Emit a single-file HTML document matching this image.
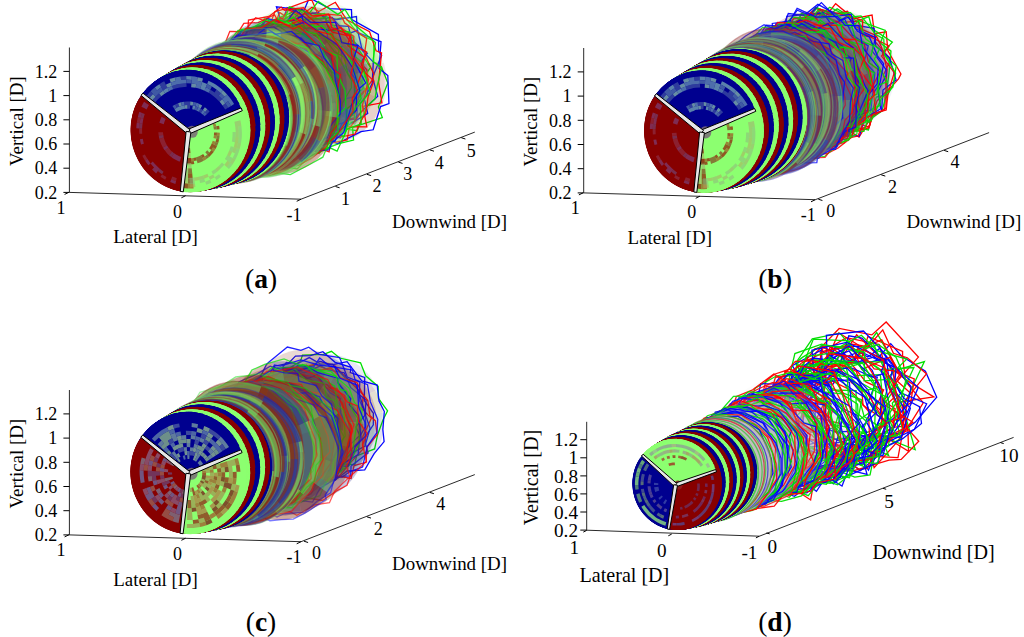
<!DOCTYPE html>
<html><head><meta charset="utf-8"><style>
html,body{margin:0;padding:0;background:#fff;}
svg{display:block;}
text{font-family:"Liberation Serif",serif;fill:#000;}
</style></head><body>
<svg width="1024" height="637" viewBox="0 0 1024 637">
<defs><g id="pA"><path d="M0 0L0.5 0A0.5 0.5 0 0 1 -0.25 0.433Z" fill="#00008f"/><path d="M0 0L-0.25 0.433A0.5 0.5 0 0 1 -0.25 -0.433Z" fill="#870000"/><path d="M0 0L-0.25 -0.433A0.5 0.5 0 0 1 0.5 0Z" fill="#8cff70"/></g><g id="pAt"><path d="M0 0L0.5 0A0.5 0.5 0 0 1 -0.25 0.433Z" fill="#4a4a98"/><path d="M0 0L-0.25 0.433A0.5 0.5 0 0 1 -0.25 -0.433Z" fill="#905030"/><path d="M0 0L-0.25 -0.433A0.5 0.5 0 0 1 0.5 0Z" fill="#78b858"/></g><g id="pAt2"><path d="M0 0L0.5 0A0.5 0.5 0 0 1 -0.171 0.47Z" fill="#2a2aa0"/><path d="M0 0L-0.171 0.47A0.5 0.5 0 0 1 -0.383 -0.321Z" fill="#9a2a10"/><path d="M0 0L-0.383 -0.321A0.5 0.5 0 0 1 0.5 0Z" fill="#8cff70"/></g><g id="pBt"><path d="M0 0L0.5 0A0.5 0.5 0 0 1 -0.383 0.321Z" fill="#3030a8"/><path d="M0 0L-0.383 0.321A0.5 0.5 0 0 1 -0.171 -0.47Z" fill="#8a3030"/><path d="M0 0L-0.171 -0.47A0.5 0.5 0 0 1 0.5 0Z" fill="#80d070"/></g><g id="pCt"><path d="M0 0L0.5 0A0.5 0.5 0 0 1 -0.171 0.47Z" fill="#2a2a90"/><path d="M0 0L-0.171 0.47A0.5 0.5 0 0 1 -0.321 -0.383Z" fill="#8a3010"/><path d="M0 0L-0.321 -0.383A0.5 0.5 0 0 1 0.5 0Z" fill="#78c860"/></g><g id="pD"><path d="M0 0L0.5 0A0.5 0.5 0 0 1 -0.25 0.433Z" fill="#8cff70"/><path d="M0 0L-0.25 0.433A0.5 0.5 0 0 1 -0.25 -0.433Z" fill="#00008f"/><path d="M0 0L-0.25 -0.433A0.5 0.5 0 0 1 0.5 0Z" fill="#870000"/></g><g id="pDt"><path d="M0 0L0.5 0A0.5 0.5 0 0 1 -0.25 0.433Z" fill="#c4c4c4"/><path d="M0 0L-0.25 0.433A0.5 0.5 0 0 1 -0.25 -0.433Z" fill="#bcbcc4"/><path d="M0 0L-0.25 -0.433A0.5 0.5 0 0 1 0.5 0Z" fill="#c4bcbc"/></g></defs>
<g transform="matrix(116 3.5 0 -121 188.5 131.7)">
<use href="#pAt2" opacity="0.10" transform="translate(1.166 0.448) rotate(203.4) scale(1.05)"/>
<path d="M0.496 0.139L0.431 0.174L0.43 0.348L0.295 0.406L0.184 0.537L-0.007 0.493L-0.099 0.543L-0.251 0.465L-0.419 0.37L-0.439 0.173L-0.525 0.143L-0.482 -0.07L-0.568 -0.175L-0.406 -0.305L-0.348 -0.427L-0.169 -0.459L0.002 -0.559L0.13 -0.509L0.257 -0.476L0.248 -0.372L0.505 -0.283L0.471 -0.197L0.552 0.004Z" transform="translate(1.166 0.448)" fill="none" stroke="#00e000" stroke-opacity="1.00" stroke-width="1.3" vector-effect="non-scaling-stroke"/>
<use href="#pAt2" opacity="0.11" transform="translate(1.182 0.462) rotate(157.6) scale(1.051)"/>
<path d="M0.536 0.053L0.46 0.109L0.478 0.329L0.273 0.402L0.266 0.531L0.096 0.502L-0.116 0.551L-0.229 0.427L-0.403 0.399L-0.394 0.352L-0.524 0.237L-0.484 -0.002L-0.572 -0.082L-0.382 -0.249L-0.379 -0.354L-0.307 -0.393L-0.114 -0.552L0.029 -0.499L0.102 -0.523L0.305 -0.418L0.41 -0.4L0.474 -0.206L0.546 -0.179Z" transform="translate(1.182 0.462)" fill="none" stroke="#0000ff" stroke-opacity="0.99" stroke-width="1.3" vector-effect="non-scaling-stroke"/>
<use href="#pAt2" opacity="0.12" transform="translate(1.14 0.585) rotate(111.9) scale(1.053)"/>
<path d="M0.525 0.094L0.5 0.126L0.497 0.267L0.268 0.382L0.265 0.464L0.077 0.468L-0.098 0.552L-0.144 0.447L-0.382 0.469L-0.349 0.37L-0.54 0.196L-0.496 0.08L-0.526 -0.009L-0.457 -0.128L-0.482 -0.346L-0.331 -0.357L-0.288 -0.522L-0.122 -0.485L0.044 -0.545L0.099 -0.462L0.293 -0.43L0.399 -0.33L0.491 -0.245L0.447 -0.09Z" transform="translate(1.14 0.585)" fill="none" stroke="#0000ff" stroke-opacity="0.99" stroke-width="1.3" vector-effect="non-scaling-stroke"/>
<use href="#pAt2" opacity="0.13" transform="translate(1.133 0.526) rotate(66.1) scale(1.054)"/>
<path d="M0.531 0.174L0.484 0.189L0.428 0.345L0.231 0.438L0.133 0.58L-0.011 0.499L-0.068 0.533L-0.233 0.412L-0.347 0.482L-0.433 0.278L-0.518 0.178L-0.513 0.06L-0.526 -0.098L-0.436 -0.201L-0.442 -0.35L-0.269 -0.389L-0.237 -0.509L-0.012 -0.507L0.141 -0.535L0.22 -0.444L0.404 -0.442L0.371 -0.273L0.534 -0.239L0.506 -0.071Z" transform="translate(1.133 0.526)" fill="none" stroke="#ff0000" stroke-opacity="0.98" stroke-width="1.3" vector-effect="non-scaling-stroke"/>
<use href="#pAt2" opacity="0.13" transform="translate(1.041 0.478) rotate(20.3) scale(1.056)"/>
<path d="M0.552 0.143L0.457 0.237L0.417 0.401L0.318 0.365L0.198 0.502L0.047 0.477L-0.065 0.562L-0.128 0.484L-0.348 0.464L-0.431 0.296L-0.537 0.213L-0.501 0.11L-0.565 -0.012L-0.465 -0.106L-0.44 -0.33L-0.321 -0.348L-0.304 -0.481L-0.184 -0.465L-0.07 -0.567L0.151 -0.466L0.267 -0.492L0.321 -0.394L0.504 -0.282L0.475 -0.163L0.543 -0.033Z" transform="translate(1.041 0.478)" fill="none" stroke="#0000ff" stroke-opacity="0.97" stroke-width="1.3" vector-effect="non-scaling-stroke"/>
<use href="#pAt2" opacity="0.14" transform="translate(1.002 0.492) rotate(334.6) scale(1.057)"/>
<path d="M0.535 0.01L0.483 0.126L0.54 0.201L0.406 0.304L0.377 0.419L0.238 0.423L0.118 0.526L-0.016 0.503L-0.151 0.558L-0.197 0.428L-0.357 0.438L-0.409 0.322L-0.501 0.272L-0.471 0.187L-0.562 0.049L-0.491 -0.068L-0.528 -0.237L-0.413 -0.225L-0.428 -0.339L-0.248 -0.417L-0.239 -0.513L-0.126 -0.487L0.023 -0.554L0.128 -0.465L0.252 -0.466L0.32 -0.36L0.447 -0.344L0.454 -0.245L0.539 -0.141Z" transform="translate(1.002 0.492)" fill="none" stroke="#0000ff" stroke-opacity="0.96" stroke-width="1.3" vector-effect="non-scaling-stroke"/>
<use href="#pAt2" opacity="0.15" transform="translate(1.027 0.539) rotate(288.8) scale(1.059)"/>
<path d="M0.571 -0.016L0.49 0.146L0.509 0.275L0.32 0.398L0.288 0.46L0.086 0.47L0.034 0.585L-0.175 0.505L-0.281 0.475L-0.344 0.322L-0.5 0.295L-0.474 0.158L-0.556 0.019L-0.517 -0.058L-0.506 -0.222L-0.353 -0.325L-0.365 -0.422L-0.214 -0.429L-0.055 -0.552L0.013 -0.511L0.259 -0.49L0.339 -0.394L0.398 -0.392L0.439 -0.219L0.561 -0.063Z" transform="translate(1.027 0.539)" fill="none" stroke="#ff0000" stroke-opacity="0.96" stroke-width="1.3" vector-effect="non-scaling-stroke"/>
<use href="#pAt2" opacity="0.16" transform="translate(0.985 0.496) rotate(243.1) scale(1.06)"/>
<path d="M0.583 0.08L0.458 0.264L0.408 0.368L0.294 0.382L0.187 0.515L0.049 0.488L-0.048 0.54L-0.11 0.508L-0.305 0.424L-0.374 0.328L-0.42 0.31L-0.484 0.139L-0.559 -0.004L-0.485 -0.099L-0.539 -0.202L-0.397 -0.319L-0.328 -0.423L-0.216 -0.432L-0.061 -0.566L0.05 -0.503L0.199 -0.548L0.226 -0.456L0.396 -0.345L0.436 -0.229L0.539 -0.112L0.501 -0.041Z" transform="translate(0.985 0.496)" fill="none" stroke="#00e000" stroke-opacity="0.95" stroke-width="1.3" vector-effect="non-scaling-stroke"/>
<use href="#pAt2" opacity="0.17" transform="translate(0.998 0.478) rotate(197.3) scale(1.062)"/>
<path d="M0.539 0.079L0.424 0.192L0.427 0.352L0.285 0.436L0.21 0.53L0.037 0.488L-0.137 0.554L-0.215 0.444L-0.425 0.388L-0.48 0.248L-0.548 0.048L-0.499 -0.019L-0.522 -0.131L-0.383 -0.313L-0.381 -0.424L-0.195 -0.451L-0.108 -0.574L0.073 -0.483L0.22 -0.528L0.282 -0.371L0.432 -0.295L0.448 -0.162L0.549 -0.074Z" transform="translate(0.998 0.478)" fill="none" stroke="#ff0000" stroke-opacity="0.94" stroke-width="1.3" vector-effect="non-scaling-stroke"/>
<use href="#pAt2" opacity="0.18" transform="translate(1.109 0.522) rotate(151.5) scale(1.063)"/>
<path d="M0.555 0.053L0.481 0.104L0.503 0.261L0.323 0.403L0.239 0.527L0.178 0.485L0.009 0.587L-0.066 0.489L-0.24 0.535L-0.299 0.373L-0.441 0.383L-0.442 0.223L-0.551 0.043L-0.52 0.01L-0.527 -0.161L-0.403 -0.237L-0.384 -0.416L-0.277 -0.456L-0.225 -0.539L-0.008 -0.519L0.111 -0.553L0.251 -0.462L0.345 -0.472L0.43 -0.268L0.498 -0.206L0.518 -0.094Z" transform="translate(1.109 0.522)" fill="none" stroke="#00e000" stroke-opacity="0.93" stroke-width="1.3" vector-effect="non-scaling-stroke"/>
<use href="#pAt2" opacity="0.18" transform="translate(0.952 0.461) rotate(105.8) scale(1.065)"/>
<path d="M0.55 0.153L0.492 0.197L0.43 0.402L0.259 0.413L0.226 0.515L0.048 0.492L-0.047 0.542L-0.161 0.47L-0.299 0.492L-0.343 0.331L-0.517 0.259L-0.482 0.114L-0.586 -0.049L-0.465 -0.162L-0.423 -0.317L-0.393 -0.354L-0.308 -0.498L-0.192 -0.492L-0.01 -0.554L0.149 -0.445L0.266 -0.503L0.296 -0.398L0.487 -0.332L0.457 -0.13L0.551 -0.064Z" transform="translate(0.952 0.461)" fill="none" stroke="#00e000" stroke-opacity="0.93" stroke-width="1.3" vector-effect="non-scaling-stroke"/>
<use href="#pAt2" opacity="0.19" transform="translate(1.009 0.419) rotate(60) scale(1.066)"/>
<path d="M0.543 0.057L0.48 0.18L0.527 0.283L0.4 0.342L0.305 0.48L0.173 0.445L-0.008 0.589L-0.127 0.496L-0.216 0.546L-0.283 0.438L-0.404 0.352L-0.476 0.225L-0.534 0.112L-0.52 -0.005L-0.534 -0.119L-0.45 -0.249L-0.451 -0.367L-0.272 -0.426L-0.168 -0.558L-0.004 -0.508L0.06 -0.53L0.171 -0.487L0.359 -0.447L0.375 -0.354L0.496 -0.193L0.49 -0.161Z" transform="translate(1.009 0.419)" fill="none" stroke="#ff0000" stroke-opacity="0.92" stroke-width="1.3" vector-effect="non-scaling-stroke"/>
<use href="#pAt2" opacity="0.20" transform="translate(1.035 0.416) rotate(14.2) scale(1.067)"/>
<path d="M0.563 0.049L0.459 0.14L0.483 0.242L0.339 0.335L0.355 0.415L0.205 0.442L0.145 0.528L-0.067 0.484L-0.171 0.53L-0.218 0.436L-0.413 0.413L-0.405 0.278L-0.53 0.201L-0.493 0.08L-0.563 -0.074L-0.48 -0.09L-0.509 -0.241L-0.401 -0.32L-0.316 -0.436L-0.207 -0.46L-0.096 -0.574L0.044 -0.505L0.177 -0.548L0.199 -0.438L0.4 -0.394L0.456 -0.276L0.492 -0.221L0.514 -0.08Z" transform="translate(1.035 0.416)" fill="none" stroke="#ff0000" stroke-opacity="0.91" stroke-width="1.3" vector-effect="non-scaling-stroke"/>
<use href="#pAt2" opacity="0.21" transform="translate(0.979 0.374) rotate(328.5) scale(1.069)"/>
<path d="M0.532 0.17L0.443 0.223L0.412 0.38L0.273 0.436L0.263 0.468L0.07 0.49L0.019 0.554L-0.133 0.521L-0.327 0.481L-0.384 0.364L-0.443 0.335L-0.474 0.218L-0.555 0.093L-0.505 -0.07L-0.537 -0.134L-0.429 -0.25L-0.376 -0.424L-0.307 -0.424L-0.205 -0.526L-0.054 -0.524L0.036 -0.564L0.236 -0.47L0.302 -0.498L0.388 -0.312L0.51 -0.267L0.501 -0.1L0.586 -0.001Z" transform="translate(0.979 0.374)" fill="none" stroke="#00e000" stroke-opacity="0.90" stroke-width="1.3" vector-effect="non-scaling-stroke"/>
<use href="#pAt2" opacity="0.22" transform="translate(0.951 0.457) rotate(282.7) scale(1.07)"/>
<path d="M0.577 -0.01L0.469 0.181L0.511 0.297L0.371 0.317L0.316 0.483L0.102 0.477L-0.028 0.575L-0.101 0.482L-0.237 0.49L-0.35 0.342L-0.457 0.28L-0.493 0.164L-0.567 0.04L-0.476 -0.191L-0.469 -0.268L-0.411 -0.341L-0.339 -0.467L-0.181 -0.464L0.03 -0.535L0.142 -0.495L0.312 -0.499L0.369 -0.358L0.496 -0.238L0.496 -0.079Z" transform="translate(0.951 0.457)" fill="none" stroke="#0000ff" stroke-opacity="0.90" stroke-width="1.3" vector-effect="non-scaling-stroke"/>
<use href="#pAt2" opacity="0.23" transform="translate(0.924 0.511) rotate(237) scale(1.072)"/>
<path d="M0.579 0.044L0.483 0.163L0.473 0.325L0.309 0.386L0.288 0.489L0.142 0.477L0.067 0.542L-0.098 0.517L-0.125 0.542L-0.231 0.461L-0.407 0.427L-0.413 0.328L-0.507 0.218L-0.506 0.107L-0.552 -0.004L-0.511 -0.161L-0.479 -0.265L-0.375 -0.307L-0.303 -0.442L-0.169 -0.452L-0.135 -0.561L-0.003 -0.533L0.174 -0.551L0.232 -0.471L0.354 -0.457L0.399 -0.304L0.492 -0.245L0.491 -0.189L0.551 -0.027Z" transform="translate(0.924 0.511)" fill="none" stroke="#ff0000" stroke-opacity="0.89" stroke-width="1.3" vector-effect="non-scaling-stroke"/>
<use href="#pAt2" opacity="0.24" transform="translate(0.869 0.413) rotate(191.2) scale(1.073)"/>
<path d="M0.566 0.07L0.45 0.204L0.451 0.326L0.332 0.369L0.324 0.463L0.133 0.47L0.11 0.569L-0.033 0.5L-0.191 0.544L-0.285 0.402L-0.354 0.465L-0.427 0.26L-0.53 0.213L-0.508 0.087L-0.554 -0.021L-0.525 -0.11L-0.548 -0.219L-0.438 -0.294L-0.326 -0.464L-0.183 -0.493L-0.099 -0.545L-0.008 -0.525L0.058 -0.54L0.191 -0.477L0.277 -0.462L0.417 -0.314L0.492 -0.294L0.485 -0.102L0.563 -0.081Z" transform="translate(0.869 0.413)" fill="none" stroke="#0000ff" stroke-opacity="0.88" stroke-width="1.3" vector-effect="non-scaling-stroke"/>
<use href="#pAt2" opacity="0.24" transform="translate(0.781 0.419) rotate(145.4) scale(1.075)"/>
<path d="M0.541 0.11L0.481 0.212L0.406 0.402L0.26 0.432L0.157 0.541L0.002 0.499L-0.04 0.569L-0.18 0.5L-0.304 0.49L-0.432 0.29L-0.506 0.213L-0.531 0.083L-0.569 -0.092L-0.495 -0.167L-0.459 -0.343L-0.355 -0.405L-0.299 -0.505L-0.111 -0.493L0.052 -0.555L0.185 -0.468L0.319 -0.439L0.379 -0.383L0.461 -0.344L0.52 -0.149L0.546 -0.056Z" transform="translate(0.781 0.419)" fill="none" stroke="#ff0000" stroke-opacity="0.87" stroke-width="1.3" vector-effect="non-scaling-stroke"/>
<use href="#pAt2" opacity="0.25" transform="translate(0.914 0.392) rotate(99.7) scale(1.076)"/>
<path d="M0.537 0.072L0.497 0.205L0.45 0.298L0.388 0.358L0.237 0.517L0.083 0.49L-0.01 0.581L-0.193 0.472L-0.293 0.479L-0.39 0.357L-0.495 0.298L-0.502 0.122L-0.553 -0.023L-0.482 -0.088L-0.499 -0.251L-0.4 -0.347L-0.292 -0.478L-0.175 -0.473L-0.014 -0.564L0.106 -0.484L0.212 -0.538L0.34 -0.367L0.428 -0.392L0.469 -0.249L0.574 -0.074Z" transform="translate(0.914 0.392)" fill="none" stroke="#00e000" stroke-opacity="0.87" stroke-width="1.3" vector-effect="non-scaling-stroke"/>
<use href="#pAt2" opacity="0.26" transform="translate(0.885 0.348) rotate(53.9) scale(1.078)"/>
<path d="M0.551 0.093L0.488 0.174L0.457 0.307L0.371 0.351L0.273 0.482L0.169 0.476L0.005 0.585L-0.007 0.502L-0.176 0.516L-0.264 0.461L-0.39 0.407L-0.437 0.284L-0.497 0.222L-0.501 0.122L-0.574 -0.075L-0.479 -0.186L-0.503 -0.236L-0.411 -0.353L-0.279 -0.452L-0.259 -0.458L-0.163 -0.53L-0.015 -0.502L0.089 -0.54L0.219 -0.458L0.314 -0.462L0.392 -0.324L0.472 -0.259L0.483 -0.118L0.549 -0.063Z" transform="translate(0.885 0.348)" fill="none" stroke="#00e000" stroke-opacity="0.86" stroke-width="1.3" vector-effect="non-scaling-stroke"/>
<use href="#pAt2" opacity="0.27" transform="translate(0.721 0.399) rotate(8.1) scale(1.08)"/>
<path d="M0.533 0.054L0.512 0.111L0.514 0.261L0.431 0.314L0.385 0.441L0.232 0.454L0.111 0.526L0.009 0.516L-0.142 0.56L-0.244 0.441L-0.365 0.441L-0.433 0.274L-0.5 0.269L-0.531 0.061L-0.558 -0.067L-0.499 -0.127L-0.477 -0.246L-0.427 -0.317L-0.312 -0.458L-0.192 -0.467L-0.095 -0.556L-0.017 -0.501L0.14 -0.564L0.278 -0.437L0.324 -0.455L0.427 -0.257L0.517 -0.246L0.518 -0.061Z" transform="translate(0.721 0.399)" fill="none" stroke="#ff0000" stroke-opacity="0.85" stroke-width="1.3" vector-effect="non-scaling-stroke"/>
<use href="#pAt2" opacity="0.28" transform="translate(0.825 0.41) rotate(322.4) scale(1.081)"/>
<path d="M0.579 0.054L0.461 0.254L0.473 0.302L0.318 0.429L0.25 0.503L0.108 0.485L-0.056 0.541L-0.131 0.5L-0.371 0.447L-0.405 0.307L-0.513 0.255L-0.483 0.14L-0.568 0.013L-0.496 -0.091L-0.447 -0.309L-0.349 -0.387L-0.26 -0.486L-0.12 -0.506L0.042 -0.573L0.124 -0.51L0.258 -0.497L0.357 -0.397L0.47 -0.289L0.499 -0.14L0.58 -0.004Z" transform="translate(0.825 0.41)" fill="none" stroke="#00e000" stroke-opacity="0.84" stroke-width="1.3" vector-effect="non-scaling-stroke"/>
<use href="#pAt2" opacity="0.29" transform="translate(0.902 0.374) rotate(276.6) scale(1.083)"/>
<path d="M0.511 0.199L0.432 0.309L0.378 0.386L0.266 0.451L0.102 0.561L-0.061 0.507L-0.149 0.521L-0.261 0.464L-0.464 0.344L-0.464 0.252L-0.531 0.137L-0.518 -0.015L-0.516 -0.22L-0.422 -0.288L-0.35 -0.464L-0.179 -0.48L0.007 -0.555L0.071 -0.514L0.308 -0.489L0.339 -0.425L0.437 -0.34L0.507 -0.103L0.575 0.009Z" transform="translate(0.902 0.374)" fill="none" stroke="#0000ff" stroke-opacity="0.84" stroke-width="1.3" vector-effect="non-scaling-stroke"/>
<use href="#pAt2" opacity="0.29" transform="translate(0.897 0.393) rotate(230.9) scale(1.084)"/>
<path d="M0.56 -0.012L0.501 0.114L0.531 0.231L0.403 0.35L0.333 0.445L0.203 0.471L0.067 0.561L-0.037 0.507L-0.138 0.551L-0.209 0.467L-0.361 0.414L-0.398 0.349L-0.496 0.261L-0.514 0.095L-0.56 -0.071L-0.521 -0.116L-0.489 -0.303L-0.438 -0.309L-0.289 -0.482L-0.231 -0.481L-0.117 -0.547L0.009 -0.507L0.14 -0.569L0.25 -0.449L0.34 -0.427L0.41 -0.344L0.522 -0.181L0.514 -0.076Z" transform="translate(0.897 0.393)" fill="none" stroke="#ff0000" stroke-opacity="0.83" stroke-width="1.3" vector-effect="non-scaling-stroke"/>
<use href="#pAt2" opacity="0.30" transform="translate(0.796 0.363) rotate(185.1) scale(1.086)"/>
<path d="M0.554 0.016L0.488 0.149L0.484 0.302L0.396 0.337L0.307 0.475L0.194 0.498L0.05 0.573L-0.049 0.517L-0.2 0.527L-0.264 0.442L-0.429 0.376L-0.466 0.209L-0.546 0.1L-0.515 0.011L-0.544 -0.14L-0.496 -0.19L-0.426 -0.353L-0.291 -0.428L-0.212 -0.517L-0.156 -0.491L0.034 -0.556L0.162 -0.5L0.228 -0.526L0.367 -0.345L0.458 -0.339L0.499 -0.181L0.562 -0.125Z" transform="translate(0.796 0.363)" fill="none" stroke="#00e000" stroke-opacity="0.82" stroke-width="1.3" vector-effect="non-scaling-stroke"/>
<use href="#pAt2" opacity="0.31" transform="translate(0.745 0.346) rotate(139.3) scale(1.087)"/>
<path d="M0.543 0.028L0.509 0.132L0.481 0.27L0.39 0.356L0.264 0.489L0.112 0.496L0.001 0.573L-0.135 0.513L-0.308 0.49L-0.338 0.365L-0.513 0.245L-0.506 0.159L-0.551 -0.053L-0.528 -0.107L-0.485 -0.304L-0.386 -0.348L-0.234 -0.506L-0.111 -0.5L-0.017 -0.562L0.146 -0.503L0.253 -0.524L0.345 -0.409L0.503 -0.283L0.517 -0.101Z" transform="translate(0.745 0.346)" fill="none" stroke="#00e000" stroke-opacity="0.81" stroke-width="1.3" vector-effect="non-scaling-stroke"/>
<use href="#pAt2" opacity="0.32" transform="translate(0.694 0.338) rotate(93.6) scale(1.089)"/>
<path d="M0.561 0.082L0.486 0.154L0.454 0.311L0.399 0.338L0.278 0.463L0.122 0.5L0.041 0.549L-0.092 0.53L-0.232 0.511L-0.344 0.395L-0.432 0.335L-0.461 0.227L-0.542 0.184L-0.505 0.047L-0.547 -0.125L-0.481 -0.212L-0.417 -0.351L-0.314 -0.431L-0.242 -0.526L-0.114 -0.503L0.03 -0.547L0.168 -0.501L0.246 -0.514L0.372 -0.361L0.48 -0.297L0.484 -0.167L0.575 -0.117Z" transform="translate(0.694 0.338)" fill="none" stroke="#0000ff" stroke-opacity="0.81" stroke-width="1.3" vector-effect="non-scaling-stroke"/>
<use href="#pAt2" opacity="0.33" transform="translate(0.729 0.371) rotate(47.8) scale(1.09)"/>
<path d="M0.577 0.099L0.476 0.191L0.423 0.36L0.291 0.436L0.164 0.52L0.082 0.525L-0.058 0.572L-0.207 0.488L-0.301 0.479L-0.438 0.314L-0.488 0.272L-0.52 0.042L-0.552 -0.063L-0.481 -0.173L-0.454 -0.309L-0.354 -0.397L-0.264 -0.492L-0.084 -0.53L-0.043 -0.568L0.192 -0.481L0.31 -0.45L0.392 -0.367L0.503 -0.264L0.504 -0.097L0.567 -0.063Z" transform="translate(0.729 0.371)" fill="none" stroke="#00e000" stroke-opacity="0.80" stroke-width="1.3" vector-effect="non-scaling-stroke"/>
<use href="#pAt2" opacity="0.34" transform="translate(0.731 0.252) rotate(2) scale(1.092)"/>
<path d="M0.559 0.003L0.519 0.1L0.504 0.27L0.339 0.401L0.318 0.463L0.098 0.51L0.009 0.577L-0.091 0.502L-0.212 0.508L-0.317 0.406L-0.446 0.338L-0.482 0.231L-0.571 0.005L-0.528 -0.064L-0.552 -0.162L-0.429 -0.312L-0.357 -0.433L-0.22 -0.481L-0.064 -0.573L0.048 -0.516L0.206 -0.531L0.314 -0.426L0.384 -0.387L0.435 -0.285L0.561 -0.137Z" transform="translate(0.731 0.252)" fill="none" stroke="#00e000" stroke-opacity="0.79" stroke-width="1.3" vector-effect="non-scaling-stroke"/>
<use href="#pAt2" opacity="0.35" transform="translate(0.768 0.37) rotate(316.3) scale(1.093)"/>
<path d="M0.542 0.14L0.489 0.173L0.467 0.304L0.349 0.373L0.187 0.529L0.134 0.507L-0.02 0.581L-0.146 0.502L-0.272 0.5L-0.346 0.382L-0.494 0.285L-0.521 0.136L-0.58 0.062L-0.516 -0.053L-0.509 -0.281L-0.389 -0.363L-0.318 -0.458L-0.23 -0.498L-0.061 -0.557L0.092 -0.513L0.122 -0.543L0.272 -0.446L0.407 -0.38L0.432 -0.306L0.532 -0.156L0.517 0.023Z" transform="translate(0.768 0.37)" fill="none" stroke="#ff0000" stroke-opacity="0.78" stroke-width="1.3" vector-effect="non-scaling-stroke"/>
<use href="#pAt2" opacity="0.35" transform="translate(0.74 0.256) rotate(270.5) scale(1.095)"/>
<path d="M0.524 0.146L0.486 0.2L0.421 0.354L0.319 0.429L0.256 0.512L0.192 0.498L-0.011 0.555L-0.054 0.523L-0.26 0.496L-0.283 0.449L-0.414 0.402L-0.461 0.247L-0.529 0.186L-0.519 -0.017L-0.551 -0.047L-0.495 -0.197L-0.465 -0.349L-0.374 -0.356L-0.274 -0.483L-0.194 -0.506L0.024 -0.554L0.101 -0.526L0.216 -0.502L0.318 -0.446L0.454 -0.34L0.491 -0.225L0.548 -0.157L0.54 -0.019Z" transform="translate(0.74 0.256)" fill="none" stroke="#ff0000" stroke-opacity="0.78" stroke-width="1.3" vector-effect="non-scaling-stroke"/>
<use href="#pAt2" opacity="0.36" transform="translate(0.746 0.303) rotate(224.8) scale(1.096)"/>
<path d="M0.564 -0.014L0.52 0.159L0.511 0.236L0.422 0.341L0.378 0.442L0.255 0.465L0.142 0.551L0.004 0.524L-0.078 0.575L-0.191 0.485L-0.327 0.465L-0.4 0.34L-0.495 0.257L-0.521 0.154L-0.546 0.084L-0.522 -0.058L-0.515 -0.203L-0.462 -0.258L-0.376 -0.444L-0.265 -0.471L-0.219 -0.506L-0.043 -0.529L0.032 -0.558L0.189 -0.498L0.271 -0.491L0.367 -0.357L0.449 -0.316L0.472 -0.226L0.562 -0.116Z" transform="translate(0.746 0.303)" fill="none" stroke="#0000ff" stroke-opacity="0.77" stroke-width="1.3" vector-effect="non-scaling-stroke"/>
<use href="#pAt2" opacity="0.37" transform="translate(0.637 0.283) rotate(179) scale(1.098)"/>
<path d="M0.568 0.092L0.444 0.315L0.393 0.406L0.264 0.461L0.082 0.563L-0.046 0.534L-0.209 0.525L-0.299 0.465L-0.438 0.344L-0.487 0.208L-0.549 0.131L-0.513 -0.097L-0.543 -0.137L-0.411 -0.369L-0.302 -0.456L-0.16 -0.503L-0.077 -0.543L0.093 -0.532L0.178 -0.529L0.374 -0.389L0.449 -0.368L0.511 -0.109L0.559 0.019Z" transform="translate(0.637 0.283)" fill="none" stroke="#0000ff" stroke-opacity="0.76" stroke-width="1.3" vector-effect="non-scaling-stroke"/>
<use href="#pAt2" opacity="0.38" transform="translate(0.747 0.218) rotate(133.2) scale(1.099)"/>
<path d="M0.544 0.122L0.522 0.183L0.409 0.386L0.296 0.46L0.282 0.504L0.15 0.531L0.004 0.578L-0.174 0.496L-0.319 0.457L-0.362 0.371L-0.442 0.333L-0.525 0.119L-0.579 0.05L-0.525 -0.139L-0.509 -0.261L-0.418 -0.317L-0.399 -0.405L-0.231 -0.474L-0.05 -0.561L0.014 -0.537L0.131 -0.547L0.297 -0.459L0.411 -0.395L0.476 -0.244L0.543 -0.183L0.535 -0.059Z" transform="translate(0.747 0.218)" fill="none" stroke="#00e000" stroke-opacity="0.75" stroke-width="1.3" vector-effect="non-scaling-stroke"/>
<use href="#pAt2" opacity="0.39" transform="translate(0.651 0.322) rotate(87.5) scale(1.101)"/>
<circle cx="0.651" cy="0.322" r="0.55" fill="none" stroke="#50c050" stroke-opacity="0.4" stroke-width="1.3" vector-effect="non-scaling-stroke"/>
<use href="#pAt2" opacity="0.40" transform="translate(0.685 0.21) rotate(41.7) scale(1.102)"/>
<circle cx="0.685" cy="0.21" r="0.551" fill="none" stroke="#80d870" stroke-opacity="0.4" stroke-width="1.3" vector-effect="non-scaling-stroke"/>
<use href="#pAt2" opacity="0.41" transform="translate(0.68 0.242) rotate(355.9) scale(1.103)"/>
<circle cx="0.68" cy="0.242" r="0.551" fill="none" stroke="#50c050" stroke-opacity="0.4" stroke-width="1.3" vector-effect="non-scaling-stroke"/>
<use href="#pAt2" opacity="0.41" transform="translate(0.618 0.194) rotate(310.2) scale(1.104)"/>
<circle cx="0.618" cy="0.194" r="0.552" fill="none" stroke="#50c050" stroke-opacity="0.4" stroke-width="1.3" vector-effect="non-scaling-stroke"/>
<use href="#pAt2" opacity="0.42" transform="translate(0.638 0.268) rotate(264.4) scale(1.105)"/>
<circle cx="0.638" cy="0.268" r="0.552" fill="none" stroke="#50c050" stroke-opacity="0.4" stroke-width="1.3" vector-effect="non-scaling-stroke"/>
<use href="#pAt2" opacity="0.43" transform="translate(0.668 0.238) rotate(218.7) scale(1.106)"/>
<circle cx="0.668" cy="0.238" r="0.553" fill="none" stroke="#80d870" stroke-opacity="0.4" stroke-width="1.3" vector-effect="non-scaling-stroke"/>
<use href="#pAt2" opacity="0.44" transform="translate(0.574 0.219) rotate(172.9) scale(1.107)"/>
<circle cx="0.574" cy="0.219" r="0.553" fill="none" stroke="#902020" stroke-opacity="0.4" stroke-width="1.3" vector-effect="non-scaling-stroke"/>
<use href="#pAt2" opacity="0.45" transform="translate(0.594 0.197) rotate(127.1) scale(1.108)"/>
<circle cx="0.594" cy="0.197" r="0.554" fill="none" stroke="#50c050" stroke-opacity="0.4" stroke-width="1.3" vector-effect="non-scaling-stroke"/>
<use href="#pAt2" opacity="0.46" transform="translate(0.558 0.23) rotate(81.4) scale(1.109)"/>
<circle cx="0.558" cy="0.23" r="0.554" fill="none" stroke="#902020" stroke-opacity="0.4" stroke-width="1.3" vector-effect="non-scaling-stroke"/>
<use href="#pAt2" opacity="0.46" transform="translate(0.552 0.248) rotate(35.6) scale(1.11)"/>
<circle cx="0.552" cy="0.248" r="0.555" fill="none" stroke="#80d870" stroke-opacity="0.4" stroke-width="1.3" vector-effect="non-scaling-stroke"/>
<use href="#pAt2" opacity="0.47" transform="translate(0.534 0.232) rotate(349.8) scale(1.111)"/>
<circle cx="0.534" cy="0.232" r="0.555" fill="none" stroke="#3030b0" stroke-opacity="0.4" stroke-width="1.3" vector-effect="non-scaling-stroke"/>
<use href="#pAt2" opacity="0.48" transform="translate(0.493 0.218) rotate(304.1) scale(1.112)"/>
<circle cx="0.493" cy="0.218" r="0.556" fill="none" stroke="#80d870" stroke-opacity="0.4" stroke-width="1.3" vector-effect="non-scaling-stroke"/>
<use href="#pAt2" opacity="0.49" transform="translate(0.52 0.205) rotate(258.3) scale(1.113)"/>
<circle cx="0.52" cy="0.205" r="0.556" fill="none" stroke="#902020" stroke-opacity="0.4" stroke-width="1.3" vector-effect="non-scaling-stroke"/>
<use href="#pAt2" opacity="0.50" transform="translate(0.495 0.218) rotate(212.6) scale(1.114)"/>
<circle cx="0.495" cy="0.218" r="0.557" fill="none" stroke="#50c050" stroke-opacity="0.4" stroke-width="1.3" vector-effect="non-scaling-stroke"/>
<use href="#pAt2" opacity="0.51" transform="translate(0.494 0.184) rotate(166.8) scale(1.115)"/>
<circle cx="0.494" cy="0.184" r="0.557" fill="none" stroke="#80d870" stroke-opacity="0.4" stroke-width="1.3" vector-effect="non-scaling-stroke"/>
<use href="#pAt2" opacity="0.52" transform="translate(0.484 0.189) rotate(121) scale(1.116)"/>
<circle cx="0.484" cy="0.189" r="0.558" fill="none" stroke="#80d870" stroke-opacity="0.4" stroke-width="1.3" vector-effect="non-scaling-stroke"/>
<use href="#pAt2" opacity="0.52" transform="translate(0.453 0.178) rotate(75.3) scale(1.117)"/>
<circle cx="0.453" cy="0.178" r="0.558" fill="none" stroke="#902020" stroke-opacity="0.4" stroke-width="1.3" vector-effect="non-scaling-stroke"/>
<use href="#pAt2" opacity="0.53" transform="translate(0.44 0.207) rotate(29.5) scale(1.118)"/>
<circle cx="0.44" cy="0.207" r="0.559" fill="none" stroke="#80d870" stroke-opacity="0.4" stroke-width="1.3" vector-effect="non-scaling-stroke"/>
<use href="#pAt2" opacity="0.54" transform="translate(0.404 0.175) rotate(343.7) scale(1.119)"/>
<circle cx="0.404" cy="0.175" r="0.559" fill="none" stroke="#3030b0" stroke-opacity="0.4" stroke-width="1.3" vector-effect="non-scaling-stroke"/>
<use href="#pAt2" opacity="0.55" transform="translate(0.408 0.163) rotate(298) scale(1.12)"/>
<circle cx="0.408" cy="0.163" r="0.56" fill="none" stroke="#50c050" stroke-opacity="0.4" stroke-width="1.3" vector-effect="non-scaling-stroke"/>
<use href="#pAt2" opacity="0.56" transform="translate(0.399 0.15) rotate(252.2) scale(1.117)"/>
<circle cx="0.399" cy="0.15" r="0.558" fill="none" stroke="#80d870" stroke-opacity="0.4" stroke-width="1.3" vector-effect="non-scaling-stroke"/>
<use href="#pAt2" opacity="0.57" transform="translate(0.382 0.153) rotate(206.5) scale(1.114)"/>
<circle cx="0.382" cy="0.153" r="0.557" fill="none" stroke="#80d870" stroke-opacity="0.4" stroke-width="1.3" vector-effect="non-scaling-stroke"/>
<use href="#pAt2" opacity="0.57" transform="translate(0.362 0.14) rotate(160.7) scale(1.11)"/>
<circle cx="0.362" cy="0.14" r="0.555" fill="none" stroke="#902020" stroke-opacity="0.4" stroke-width="1.3" vector-effect="non-scaling-stroke"/>
<use href="#pAt2" opacity="0.58" transform="translate(0.349 0.142) rotate(114.9) scale(1.107)"/>
<circle cx="0.349" cy="0.142" r="0.553" fill="none" stroke="#902020" stroke-opacity="0.4" stroke-width="1.3" vector-effect="non-scaling-stroke"/>
<use href="#pAt2" opacity="0.59" transform="translate(0.339 0.135) rotate(69.2) scale(1.103)"/>
<circle cx="0.339" cy="0.135" r="0.552" fill="none" stroke="#50c050" stroke-opacity="0.4" stroke-width="1.3" vector-effect="non-scaling-stroke"/>
<use href="#pAt2" opacity="0.60" transform="translate(0.325 0.13) rotate(23.4) scale(1.1)"/>
<circle cx="0.325" cy="0.13" r="0.55" fill="none" stroke="#50c050" stroke-opacity="0.4" stroke-width="1.3" vector-effect="non-scaling-stroke"/>
<use href="#pA" transform="translate(0.325 0.13) rotate(23.4) scale(1.1)"/>
<use href="#pA" transform="translate(0.324 0.13) rotate(18) scale(1.1)"/>
<use href="#pA" transform="translate(0.322 0.129) rotate(12.6) scale(1.099)"/>
<use href="#pA" transform="translate(0.32 0.128) rotate(7.2) scale(1.099)"/>
<use href="#pA" transform="translate(0.319 0.128) rotate(1.8) scale(1.098)"/>
<use href="#pA" transform="translate(0.317 0.127) rotate(356.4) scale(1.098)"/>
<use href="#pA" transform="translate(0.316 0.126) rotate(351) scale(1.098)"/>
<use href="#pA" transform="translate(0.314 0.126) rotate(345.6) scale(1.097)"/>
<use href="#pA" transform="translate(0.312 0.125) rotate(340.2) scale(1.097)"/>
<use href="#pA" transform="translate(0.311 0.125) rotate(334.8) scale(1.096)"/>
<use href="#pA" transform="translate(0.309 0.124) rotate(329.4) scale(1.096)"/>
<use href="#pA" transform="translate(0.307 0.123) rotate(324) scale(1.096)"/>
<use href="#pA" transform="translate(0.306 0.123) rotate(318.6) scale(1.095)"/>
<use href="#pA" transform="translate(0.304 0.122) rotate(313.2) scale(1.095)"/>
<use href="#pA" transform="translate(0.303 0.121) rotate(307.8) scale(1.094)"/>
<use href="#pA" transform="translate(0.301 0.121) rotate(302.4) scale(1.094)"/>
<use href="#pA" transform="translate(0.299 0.12) rotate(297) scale(1.094)"/>
<use href="#pA" transform="translate(0.298 0.119) rotate(291.6) scale(1.093)"/>
<use href="#pA" transform="translate(0.296 0.119) rotate(286.2) scale(1.093)"/>
<use href="#pA" transform="translate(0.294 0.118) rotate(280.8) scale(1.092)"/>
<use href="#pA" transform="translate(0.293 0.117) rotate(275.4) scale(1.092)"/>
<use href="#pA" transform="translate(0.291 0.117) rotate(270) scale(1.092)"/>
<use href="#pA" transform="translate(0.29 0.116) rotate(264.6) scale(1.091)"/>
<use href="#pA" transform="translate(0.288 0.115) rotate(259.2) scale(1.091)"/>
<use href="#pA" transform="translate(0.286 0.115) rotate(253.8) scale(1.09)"/>
<use href="#pA" transform="translate(0.285 0.114) rotate(248.4) scale(1.09)"/>
<use href="#pA" transform="translate(0.283 0.113) rotate(243) scale(1.09)"/>
<use href="#pA" transform="translate(0.281 0.113) rotate(237.6) scale(1.089)"/>
<use href="#pA" transform="translate(0.28 0.112) rotate(232.2) scale(1.089)"/>
<use href="#pA" transform="translate(0.278 0.111) rotate(226.8) scale(1.088)"/>
<use href="#pA" transform="translate(0.277 0.111) rotate(221.4) scale(1.088)"/>
<use href="#pA" transform="translate(0.275 0.11) rotate(216) scale(1.088)"/>
<use href="#pA" transform="translate(0.273 0.11) rotate(210.6) scale(1.087)"/>
<use href="#pA" transform="translate(0.272 0.109) rotate(205.2) scale(1.087)"/>
<use href="#pA" transform="translate(0.27 0.108) rotate(199.8) scale(1.086)"/>
<use href="#pA" transform="translate(0.268 0.108) rotate(194.4) scale(1.086)"/>
<use href="#pA" transform="translate(0.267 0.107) rotate(189) scale(1.086)"/>
<use href="#pA" transform="translate(0.265 0.106) rotate(183.6) scale(1.085)"/>
<use href="#pA" transform="translate(0.264 0.106) rotate(178.2) scale(1.085)"/>
<use href="#pA" transform="translate(0.262 0.105) rotate(172.8) scale(1.084)"/>
<use href="#pA" transform="translate(0.26 0.104) rotate(167.4) scale(1.084)"/>
<use href="#pA" transform="translate(0.259 0.104) rotate(162) scale(1.084)"/>
<use href="#pA" transform="translate(0.257 0.103) rotate(156.6) scale(1.083)"/>
<use href="#pA" transform="translate(0.255 0.102) rotate(151.2) scale(1.083)"/>
<use href="#pA" transform="translate(0.254 0.102) rotate(145.8) scale(1.082)"/>
<use href="#pA" transform="translate(0.252 0.101) rotate(140.4) scale(1.082)"/>
<use href="#pA" transform="translate(0.251 0.1) rotate(135) scale(1.082)"/>
<use href="#pA" transform="translate(0.249 0.1) rotate(129.6) scale(1.081)"/>
<use href="#pA" transform="translate(0.247 0.099) rotate(124.2) scale(1.081)"/>
<use href="#pA" transform="translate(0.246 0.098) rotate(118.8) scale(1.08)"/>
<use href="#pA" transform="translate(0.244 0.098) rotate(113.4) scale(1.08)"/>
<use href="#pA" transform="translate(0.242 0.097) rotate(108) scale(1.08)"/>
<use href="#pA" transform="translate(0.241 0.096) rotate(102.6) scale(1.079)"/>
<use href="#pA" transform="translate(0.239 0.096) rotate(97.2) scale(1.079)"/>
<use href="#pA" transform="translate(0.238 0.095) rotate(91.8) scale(1.078)"/>
<use href="#pA" transform="translate(0.236 0.095) rotate(86.4) scale(1.078)"/>
<use href="#pA" transform="translate(0.234 0.094) rotate(81) scale(1.078)"/>
<use href="#pA" transform="translate(0.233 0.093) rotate(75.6) scale(1.077)"/>
<use href="#pA" transform="translate(0.231 0.093) rotate(70.2) scale(1.077)"/>
<use href="#pA" transform="translate(0.229 0.092) rotate(64.8) scale(1.076)"/>
<use href="#pA" transform="translate(0.228 0.091) rotate(59.4) scale(1.076)"/>
<use href="#pA" transform="translate(0.226 0.091) rotate(54) scale(1.076)"/>
<use href="#pA" transform="translate(0.224 0.09) rotate(48.6) scale(1.075)"/>
<use href="#pA" transform="translate(0.223 0.089) rotate(43.2) scale(1.075)"/>
<use href="#pA" transform="translate(0.221 0.089) rotate(37.8) scale(1.074)"/>
<use href="#pA" transform="translate(0.22 0.088) rotate(32.4) scale(1.074)"/>
<use href="#pA" transform="translate(0.218 0.087) rotate(27) scale(1.074)"/>
<use href="#pA" transform="translate(0.216 0.087) rotate(21.6) scale(1.073)"/>
<use href="#pA" transform="translate(0.215 0.086) rotate(16.2) scale(1.073)"/>
<use href="#pA" transform="translate(0.213 0.085) rotate(10.8) scale(1.072)"/>
<use href="#pA" transform="translate(0.211 0.085) rotate(5.4) scale(1.072)"/>
<use href="#pA" transform="translate(0.21 0.084) rotate(360) scale(1.072)"/>
<use href="#pA" transform="translate(0.208 0.083) rotate(354.6) scale(1.071)"/>
<use href="#pA" transform="translate(0.207 0.083) rotate(349.2) scale(1.071)"/>
<use href="#pA" transform="translate(0.205 0.082) rotate(343.8) scale(1.07)"/>
<use href="#pA" transform="translate(0.203 0.082) rotate(338.4) scale(1.07)"/>
<use href="#pA" transform="translate(0.202 0.081) rotate(333) scale(1.07)"/>
<use href="#pA" transform="translate(0.2 0.08) rotate(327.6) scale(1.069)"/>
<use href="#pA" transform="translate(0.198 0.08) rotate(322.2) scale(1.069)"/>
<use href="#pA" transform="translate(0.197 0.079) rotate(316.8) scale(1.068)"/>
<use href="#pA" transform="translate(0.195 0.078) rotate(311.4) scale(1.068)"/>
<use href="#pA" transform="translate(0.194 0.078) rotate(306) scale(1.068)"/>
<use href="#pA" transform="translate(0.192 0.077) rotate(300.6) scale(1.067)"/>
<use href="#pA" transform="translate(0.19 0.076) rotate(295.2) scale(1.067)"/>
<use href="#pA" transform="translate(0.189 0.076) rotate(289.8) scale(1.066)"/>
<use href="#pA" transform="translate(0.187 0.075) rotate(284.4) scale(1.066)"/>
<use href="#pA" transform="translate(0.185 0.074) rotate(279) scale(1.066)"/>
<use href="#pA" transform="translate(0.184 0.074) rotate(273.6) scale(1.065)"/>
<use href="#pA" transform="translate(0.182 0.073) rotate(268.2) scale(1.065)"/>
<use href="#pA" transform="translate(0.181 0.072) rotate(262.8) scale(1.064)"/>
<use href="#pA" transform="translate(0.179 0.072) rotate(257.4) scale(1.064)"/>
<use href="#pA" transform="translate(0.177 0.071) rotate(252) scale(1.064)"/>
<use href="#pA" transform="translate(0.176 0.07) rotate(246.6) scale(1.063)"/>
<use href="#pA" transform="translate(0.174 0.07) rotate(241.2) scale(1.063)"/>
<use href="#pA" transform="translate(0.172 0.069) rotate(235.8) scale(1.062)"/>
<use href="#pA" transform="translate(0.171 0.068) rotate(230.4) scale(1.062)"/>
<use href="#pA" transform="translate(0.169 0.068) rotate(225) scale(1.062)"/>
<use href="#pA" transform="translate(0.168 0.067) rotate(219.6) scale(1.061)"/>
<use href="#pA" transform="translate(0.166 0.067) rotate(214.2) scale(1.061)"/>
<use href="#pA" transform="translate(0.164 0.066) rotate(208.8) scale(1.06)"/>
<use href="#pA" transform="translate(0.163 0.065) rotate(203.4) scale(1.06)"/>
<use href="#pA" transform="translate(0.161 0.065) rotate(198) scale(1.059)"/>
<use href="#pA" transform="translate(0.159 0.064) rotate(192.6) scale(1.059)"/>
<use href="#pA" transform="translate(0.158 0.063) rotate(187.2) scale(1.058)"/>
<use href="#pA" transform="translate(0.156 0.063) rotate(181.8) scale(1.058)"/>
<use href="#pA" transform="translate(0.155 0.062) rotate(176.4) scale(1.057)"/>
<use href="#pA" transform="translate(0.153 0.061) rotate(171) scale(1.056)"/>
<use href="#pA" transform="translate(0.151 0.061) rotate(165.6) scale(1.056)"/>
<use href="#pA" transform="translate(0.15 0.06) rotate(160.2) scale(1.055)"/>
<use href="#pA" transform="translate(0.148 0.059) rotate(154.8) scale(1.055)"/>
<use href="#pA" transform="translate(0.146 0.059) rotate(149.4) scale(1.054)"/>
<use href="#pA" transform="translate(0.145 0.058) rotate(144) scale(1.053)"/>
<use href="#pA" transform="translate(0.143 0.057) rotate(138.6) scale(1.053)"/>
<use href="#pA" transform="translate(0.142 0.057) rotate(133.2) scale(1.052)"/>
<use href="#pA" transform="translate(0.14 0.056) rotate(127.8) scale(1.052)"/>
<use href="#pA" transform="translate(0.138 0.055) rotate(122.4) scale(1.051)"/>
<use href="#pA" transform="translate(0.137 0.055) rotate(117) scale(1.05)"/>
<use href="#pA" transform="translate(0.135 0.054) rotate(111.6) scale(1.05)"/>
<use href="#pA" transform="translate(0.133 0.053) rotate(106.2) scale(1.049)"/>
<use href="#pA" transform="translate(0.132 0.053) rotate(100.8) scale(1.049)"/>
<use href="#pA" transform="translate(0.13 0.052) rotate(95.4) scale(1.048)"/>
<use href="#pA" transform="translate(0.129 0.052) rotate(90) scale(1.047)"/>
<use href="#pA" transform="translate(0.127 0.051) rotate(84.6) scale(1.047)"/>
<use href="#pA" transform="translate(0.125 0.05) rotate(79.2) scale(1.046)"/>
<use href="#pA" transform="translate(0.124 0.05) rotate(73.8) scale(1.046)"/>
<use href="#pA" transform="translate(0.122 0.049) rotate(68.4) scale(1.045)"/>
<use href="#pA" transform="translate(0.12 0.048) rotate(63) scale(1.044)"/>
<use href="#pA" transform="translate(0.119 0.048) rotate(57.6) scale(1.044)"/>
<use href="#pA" transform="translate(0.117 0.047) rotate(52.2) scale(1.043)"/>
<use href="#pA" transform="translate(0.115 0.046) rotate(46.8) scale(1.043)"/>
<use href="#pA" transform="translate(0.114 0.046) rotate(41.4) scale(1.042)"/>
<use href="#pA" transform="translate(0.112 0.045) rotate(36) scale(1.041)"/>
<use href="#pA" transform="translate(0.111 0.044) rotate(30.6) scale(1.041)"/>
<use href="#pA" transform="translate(0.109 0.044) rotate(25.2) scale(1.04)"/>
<use href="#pA" transform="translate(0.107 0.043) rotate(19.8) scale(1.04)"/>
<use href="#pA" transform="translate(0.106 0.042) rotate(14.4) scale(1.039)"/>
<use href="#pA" transform="translate(0.104 0.042) rotate(9) scale(1.038)"/>
<use href="#pA" transform="translate(0.102 0.041) rotate(3.6) scale(1.038)"/>
<use href="#pA" transform="translate(0.101 0.04) rotate(358.2) scale(1.037)"/>
<use href="#pA" transform="translate(0.099 0.04) rotate(352.8) scale(1.037)"/>
<use href="#pA" transform="translate(0.098 0.039) rotate(347.4) scale(1.036)"/>
<use href="#pA" transform="translate(0.096 0.038) rotate(342) scale(1.035)"/>
<use href="#pA" transform="translate(0.094 0.038) rotate(336.6) scale(1.035)"/>
<use href="#pA" transform="translate(0.093 0.037) rotate(331.2) scale(1.034)"/>
<use href="#pA" transform="translate(0.091 0.037) rotate(325.8) scale(1.034)"/>
<use href="#pA" transform="translate(0.089 0.036) rotate(320.4) scale(1.033)"/>
<use href="#pA" transform="translate(0.088 0.035) rotate(315) scale(1.032)"/>
<use href="#pA" transform="translate(0.086 0.035) rotate(309.6) scale(1.032)"/>
<use href="#pA" transform="translate(0.085 0.034) rotate(304.2) scale(1.031)"/>
<use href="#pA" transform="translate(0.083 0.033) rotate(298.8) scale(1.031)"/>
<use href="#pA" transform="translate(0.081 0.033) rotate(293.4) scale(1.03)"/>
<use href="#pA" transform="translate(0.08 0.032) rotate(288) scale(1.029)"/>
<use href="#pA" transform="translate(0.078 0.031) rotate(282.6) scale(1.029)"/>
<use href="#pA" transform="translate(0.076 0.031) rotate(277.2) scale(1.028)"/>
<use href="#pA" transform="translate(0.075 0.03) rotate(271.8) scale(1.028)"/>
<use href="#pA" transform="translate(0.073 0.029) rotate(266.4) scale(1.027)"/>
<use href="#pA" transform="translate(0.072 0.029) rotate(261) scale(1.026)"/>
<use href="#pA" transform="translate(0.07 0.028) rotate(255.6) scale(1.026)"/>
<use href="#pA" transform="translate(0.068 0.027) rotate(250.2) scale(1.025)"/>
<use href="#pA" transform="translate(0.067 0.027) rotate(244.8) scale(1.025)"/>
<use href="#pA" transform="translate(0.065 0.026) rotate(239.4) scale(1.024)"/>
<use href="#pA" transform="translate(0.063 0.025) rotate(234) scale(1.023)"/>
<use href="#pA" transform="translate(0.062 0.025) rotate(228.6) scale(1.023)"/>
<use href="#pA" transform="translate(0.06 0.024) rotate(223.2) scale(1.022)"/>
<use href="#pA" transform="translate(0.059 0.023) rotate(217.8) scale(1.022)"/>
<use href="#pA" transform="translate(0.057 0.023) rotate(212.4) scale(1.021)"/>
<use href="#pA" transform="translate(0.055 0.022) rotate(207) scale(1.02)"/>
<use href="#pA" transform="translate(0.054 0.022) rotate(201.6) scale(1.02)"/>
<use href="#pA" transform="translate(0.052 0.021) rotate(196.2) scale(1.019)"/>
<use href="#pA" transform="translate(0.05 0.02) rotate(190.8) scale(1.019)"/>
<use href="#pA" transform="translate(0.049 0.02) rotate(185.4) scale(1.018)"/>
<use href="#pA" transform="translate(0.047 0.019) rotate(180) scale(1.017)"/>
<use href="#pA" transform="translate(0.046 0.018) rotate(174.6) scale(1.017)"/>
<use href="#pA" transform="translate(0.044 0.018) rotate(169.2) scale(1.016)"/>
<use href="#pA" transform="translate(0.042 0.017) rotate(163.8) scale(1.016)"/>
<use href="#pA" transform="translate(0.041 0.016) rotate(158.4) scale(1.015)"/>
<use href="#pA" transform="translate(0.039 0.016) rotate(153) scale(1.014)"/>
<use href="#pA" transform="translate(0.037 0.015) rotate(147.6) scale(1.014)"/>
<use href="#pA" transform="translate(0.036 0.014) rotate(142.2) scale(1.013)"/>
<use href="#pA" transform="translate(0.034 0.014) rotate(136.8) scale(1.013)"/>
<use href="#pA" transform="translate(0.033 0.013) rotate(131.4) scale(1.012)"/>
<use href="#pA" transform="translate(0.031 0.012) rotate(126) scale(1.011)"/>
<use href="#pA" transform="translate(0.029 0.012) rotate(120.6) scale(1.011)"/>
<use href="#pA" transform="translate(0.028 0.011) rotate(115.2) scale(1.01)"/>
<use href="#pA" transform="translate(0.026 0.01) rotate(109.8) scale(1.01)"/>
<use href="#pA" transform="translate(0.024 0.01) rotate(104.4) scale(1.009)"/>
<use href="#pA" transform="translate(0.023 0.009) rotate(99) scale(1.008)"/>
<use href="#pA" transform="translate(0.021 0.008) rotate(93.6) scale(1.008)"/>
<use href="#pA" transform="translate(0.02 0.008) rotate(88.2) scale(1.007)"/>
<use href="#pA" transform="translate(0.018 0.007) rotate(82.8) scale(1.007)"/>
<use href="#pA" transform="translate(0.016 0.007) rotate(77.4) scale(1.006)"/>
<use href="#pA" transform="translate(0.015 0.006) rotate(72) scale(1.005)"/>
<use href="#pA" transform="translate(0.013 0.005) rotate(66.6) scale(1.005)"/>
<use href="#pA" transform="translate(0.011 0.005) rotate(61.2) scale(1.004)"/>
<use href="#pA" transform="translate(0.01 0.004) rotate(55.8) scale(1.004)"/>
<use href="#pA" transform="translate(0.008 0.003) rotate(50.4) scale(1.003)"/>
<use href="#pA" transform="translate(0.007 0.003) rotate(45) scale(1.002)"/>
<use href="#pA" transform="translate(0.005 0.002) rotate(39.6) scale(1.002)"/>
<use href="#pA" transform="translate(0.003 0.001) rotate(34.2) scale(1.001)"/>
<use href="#pA" transform="translate(0.002 0.001) rotate(28.8) scale(1.001)"/>
</g>
<g transform="matrix(116 3.5 0 -121 188.5 131.7)">
<path d="M0 0L0.459 0.199A0.5 0.5 0 0 1 -0.401 0.298Z" fill="#00008f"/>
<path d="M0 0L-0.401 0.298A0.5 0.5 0 0 1 -0.057 -0.497Z" fill="#870000"/>
<path d="M0 0L-0.057 -0.497A0.5 0.5 0 0 1 0.459 0.199Z" fill="#8cff70"/>
<path d="M0.341 0.208A0.4 0.4 0 0 1 0.317 0.244L0.293 0.225A0.37 0.37 0 0 0 0.316 0.193ZM0.29 0.276A0.4 0.4 0 0 1 0.259 0.305L0.239 0.282A0.37 0.37 0 0 0 0.268 0.255ZM0.259 0.305A0.4 0.4 0 0 1 0.225 0.331L0.208 0.306A0.37 0.37 0 0 0 0.239 0.282ZM0.225 0.331A0.4 0.4 0 0 1 0.188 0.353L0.174 0.327A0.37 0.37 0 0 0 0.208 0.306ZM-0.018 0.4A0.4 0.4 0 0 1 -0.06 0.395L-0.055 0.366A0.37 0.37 0 0 0 -0.016 0.37ZM-0.06 0.395A0.4 0.4 0 0 1 -0.102 0.387L-0.094 0.358A0.37 0.37 0 0 0 -0.055 0.366ZM-0.102 0.387A0.4 0.4 0 0 1 -0.142 0.374L-0.132 0.346A0.37 0.37 0 0 0 -0.094 0.358ZM-0.253 0.31A0.4 0.4 0 0 1 -0.284 0.281L-0.263 0.26A0.37 0.37 0 0 0 -0.234 0.287ZM-0.284 0.281A0.4 0.4 0 0 1 -0.313 0.25L-0.289 0.231A0.37 0.37 0 0 0 -0.263 0.26ZM0.278 0.328A0.43 0.43 0 0 1 0.241 0.356L0.225 0.331A0.4 0.4 0 0 0 0.259 0.305ZM-0.195 0.383A0.43 0.43 0 0 1 -0.235 0.36L-0.218 0.335A0.4 0.4 0 0 0 -0.181 0.357ZM-0.02 0.46A0.46 0.46 0 0 1 -0.069 0.455L-0.064 0.425A0.43 0.43 0 0 0 -0.019 0.43ZM-0.209 0.41A0.46 0.46 0 0 1 -0.251 0.385L-0.235 0.36A0.43 0.43 0 0 0 -0.195 0.383ZM-0.327 0.324A0.46 0.46 0 0 1 -0.359 0.287L-0.336 0.268A0.43 0.43 0 0 0 -0.306 0.303ZM0.124 0.182A0.22 0.22 0 0 1 0.104 0.194L0.09 0.168A0.19 0.19 0 0 0 0.107 0.157ZM0.014 0.22A0.22 0.22 0 0 1 -0.01 0.22L-0.009 0.19A0.19 0.19 0 0 0 0.012 0.19ZM0.182 0.172A0.25 0.25 0 0 1 0.162 0.19L0.143 0.167A0.22 0.22 0 0 0 0.16 0.151ZM0.015 0.25A0.25 0.25 0 0 1 -0.011 0.25L-0.01 0.22A0.22 0.22 0 0 0 0.014 0.22ZM-0.011 0.25A0.25 0.25 0 0 1 -0.038 0.247L-0.034 0.217A0.22 0.22 0 0 0 -0.01 0.22ZM-0.09 0.233A0.25 0.25 0 0 1 -0.114 0.222L-0.101 0.196A0.22 0.22 0 0 0 -0.079 0.205Z" fill="#3a4aa0" fill-opacity="0.8"/>
<path d="M0.317 0.244A0.4 0.4 0 0 1 0.29 0.276L0.268 0.255A0.37 0.37 0 0 0 0.293 0.225ZM0.067 0.394A0.4 0.4 0 0 1 0.025 0.399L0.023 0.369A0.37 0.37 0 0 0 0.062 0.365ZM-0.218 0.335A0.4 0.4 0 0 1 -0.253 0.31L-0.234 0.287A0.37 0.37 0 0 0 -0.202 0.31ZM-0.153 0.402A0.43 0.43 0 0 1 -0.195 0.383L-0.181 0.357A0.4 0.4 0 0 0 -0.142 0.374ZM-0.306 0.303A0.43 0.43 0 0 1 -0.336 0.268L-0.313 0.25A0.4 0.4 0 0 0 -0.284 0.281ZM0.333 0.317A0.46 0.46 0 0 1 0.297 0.351L0.278 0.328A0.43 0.43 0 0 0 0.311 0.297ZM0.125 0.443A0.46 0.46 0 0 1 0.078 0.453L0.073 0.424A0.43 0.43 0 0 0 0.117 0.414ZM-0.117 0.445A0.46 0.46 0 0 1 -0.164 0.43L-0.153 0.402A0.43 0.43 0 0 0 -0.109 0.416ZM-0.01 0.22A0.22 0.22 0 0 1 -0.034 0.217L-0.029 0.188A0.19 0.19 0 0 0 -0.009 0.19ZM0.162 0.19A0.25 0.25 0 0 1 0.141 0.207L0.124 0.182A0.22 0.22 0 0 0 0.143 0.167ZM0.118 0.22A0.25 0.25 0 0 1 0.094 0.232L0.082 0.204A0.22 0.22 0 0 0 0.104 0.194ZM0.042 0.246A0.25 0.25 0 0 1 0.015 0.25L0.014 0.22A0.22 0.22 0 0 0 0.037 0.217ZM-0.064 0.242A0.25 0.25 0 0 1 -0.09 0.233L-0.079 0.205A0.22 0.22 0 0 0 -0.057 0.213Z" fill="#80b0a8" fill-opacity="0.8"/>
<path d="M0.188 0.353A0.4 0.4 0 0 1 0.149 0.371L0.138 0.343A0.37 0.37 0 0 0 0.174 0.327ZM0.109 0.385A0.4 0.4 0 0 1 0.067 0.394L0.062 0.365A0.37 0.37 0 0 0 0.101 0.356ZM-0.142 0.374A0.4 0.4 0 0 1 -0.181 0.357L-0.168 0.33A0.37 0.37 0 0 0 -0.132 0.346ZM0.341 0.262A0.43 0.43 0 0 1 0.311 0.297L0.29 0.276A0.4 0.4 0 0 0 0.317 0.244ZM0.117 0.414A0.43 0.43 0 0 1 0.073 0.424L0.067 0.394A0.4 0.4 0 0 0 0.109 0.385ZM0.073 0.424A0.43 0.43 0 0 1 0.027 0.429L0.025 0.399A0.4 0.4 0 0 0 0.067 0.394ZM-0.019 0.43A0.43 0.43 0 0 1 -0.064 0.425L-0.06 0.395A0.4 0.4 0 0 0 -0.018 0.4ZM-0.064 0.425A0.43 0.43 0 0 1 -0.109 0.416L-0.102 0.387A0.4 0.4 0 0 0 -0.06 0.395ZM-0.109 0.416A0.43 0.43 0 0 1 -0.153 0.402L-0.142 0.374A0.4 0.4 0 0 0 -0.102 0.387ZM0.393 0.24A0.46 0.46 0 0 1 0.365 0.28L0.341 0.262A0.43 0.43 0 0 0 0.367 0.224ZM0.365 0.28A0.46 0.46 0 0 1 0.333 0.317L0.311 0.297A0.43 0.43 0 0 0 0.341 0.262ZM0.078 0.453A0.46 0.46 0 0 1 0.029 0.459L0.027 0.429A0.43 0.43 0 0 0 0.073 0.424ZM-0.069 0.455A0.46 0.46 0 0 1 -0.117 0.445L-0.109 0.416A0.43 0.43 0 0 0 -0.064 0.425ZM0.143 0.167A0.22 0.22 0 0 1 0.124 0.182L0.107 0.157A0.19 0.19 0 0 0 0.123 0.145ZM0.104 0.194A0.22 0.22 0 0 1 0.082 0.204L0.071 0.176A0.19 0.19 0 0 0 0.09 0.168ZM0.094 0.232A0.25 0.25 0 0 1 0.068 0.241L0.06 0.212A0.22 0.22 0 0 0 0.082 0.204ZM-0.038 0.247A0.25 0.25 0 0 1 -0.064 0.242L-0.057 0.213A0.22 0.22 0 0 0 -0.034 0.217Z" fill="#5a80b0" fill-opacity="0.85"/>
<path d="M0.149 0.371A0.4 0.4 0 0 1 0.109 0.385L0.101 0.356A0.37 0.37 0 0 0 0.138 0.343ZM-0.181 0.357A0.4 0.4 0 0 1 -0.218 0.335L-0.202 0.31A0.37 0.37 0 0 0 -0.168 0.33ZM0.161 0.399A0.43 0.43 0 0 1 0.117 0.414L0.109 0.385A0.4 0.4 0 0 0 0.149 0.371ZM0.297 0.351A0.46 0.46 0 0 1 0.258 0.381L0.241 0.356A0.43 0.43 0 0 0 0.278 0.328ZM0.258 0.381A0.46 0.46 0 0 1 0.216 0.406L0.202 0.38A0.43 0.43 0 0 0 0.241 0.356ZM0.216 0.406A0.46 0.46 0 0 1 0.172 0.427L0.161 0.399A0.43 0.43 0 0 0 0.202 0.38ZM0.029 0.459A0.46 0.46 0 0 1 -0.02 0.46L-0.019 0.43A0.43 0.43 0 0 0 0.027 0.429ZM-0.251 0.385A0.46 0.46 0 0 1 -0.291 0.357L-0.272 0.333A0.43 0.43 0 0 0 -0.235 0.36ZM0.06 0.212A0.22 0.22 0 0 1 0.037 0.217L0.032 0.187A0.19 0.19 0 0 0 0.052 0.183ZM-0.034 0.217A0.22 0.22 0 0 1 -0.057 0.213L-0.049 0.184A0.19 0.19 0 0 0 -0.029 0.188ZM-0.057 0.213A0.22 0.22 0 0 1 -0.079 0.205L-0.068 0.177A0.19 0.19 0 0 0 -0.049 0.184ZM-0.079 0.205A0.22 0.22 0 0 1 -0.101 0.196L-0.087 0.169A0.19 0.19 0 0 0 -0.068 0.177ZM-0.101 0.196A0.22 0.22 0 0 1 -0.121 0.184L-0.105 0.159A0.19 0.19 0 0 0 -0.087 0.169Z" fill="#6a98b0" fill-opacity="0.85"/>
<path d="M0.367 0.224A0.43 0.43 0 0 1 0.341 0.262L0.317 0.244A0.4 0.4 0 0 0 0.341 0.208ZM0.311 0.297A0.43 0.43 0 0 1 0.278 0.328L0.259 0.305A0.4 0.4 0 0 0 0.29 0.276ZM0.202 0.38A0.43 0.43 0 0 1 0.161 0.399L0.149 0.371A0.4 0.4 0 0 0 0.188 0.353ZM0.027 0.429A0.43 0.43 0 0 1 -0.019 0.43L-0.018 0.4A0.4 0.4 0 0 0 0.025 0.399ZM-0.235 0.36A0.43 0.43 0 0 1 -0.272 0.333L-0.253 0.31A0.4 0.4 0 0 0 -0.218 0.335ZM-0.272 0.333A0.43 0.43 0 0 1 -0.306 0.303L-0.284 0.281A0.4 0.4 0 0 0 -0.253 0.31ZM-0.291 0.357A0.46 0.46 0 0 1 -0.327 0.324L-0.306 0.303A0.43 0.43 0 0 0 -0.272 0.333ZM0.16 0.151A0.22 0.22 0 0 1 0.143 0.167L0.123 0.145A0.19 0.19 0 0 0 0.138 0.131ZM0.082 0.204A0.22 0.22 0 0 1 0.06 0.212L0.052 0.183A0.19 0.19 0 0 0 0.071 0.176ZM0.068 0.241A0.25 0.25 0 0 1 0.042 0.246L0.037 0.217A0.22 0.22 0 0 0 0.06 0.212ZM-0.114 0.222A0.25 0.25 0 0 1 -0.138 0.209L-0.121 0.184A0.22 0.22 0 0 0 -0.101 0.196Z" fill="#4a68a8" fill-opacity="0.85"/>
<path d="M-0.362 0.223A0.425 0.425 0 0 1 -0.383 0.184L-0.361 0.173A0.4 0.4 0 0 0 -0.341 0.21ZM-0.413 0.101A0.425 0.425 0 0 1 -0.421 0.058L-0.396 0.054A0.4 0.4 0 0 0 -0.389 0.095ZM-0.419 -0.074A0.425 0.425 0 0 1 -0.409 -0.117L-0.385 -0.11A0.4 0.4 0 0 0 -0.394 -0.07ZM-0.327 -0.272A0.425 0.425 0 0 1 -0.297 -0.304L-0.279 -0.286A0.4 0.4 0 0 0 -0.308 -0.256ZM-0.297 -0.304A0.425 0.425 0 0 1 -0.264 -0.333L-0.248 -0.314A0.4 0.4 0 0 0 -0.279 -0.286ZM-0.383 0.236A0.45 0.45 0 0 1 -0.406 0.195L-0.383 0.184A0.425 0.425 0 0 0 -0.362 0.223ZM-0.424 0.152A0.45 0.45 0 0 1 -0.437 0.107L-0.413 0.101A0.425 0.425 0 0 0 -0.4 0.143ZM-0.446 0.061A0.45 0.45 0 0 1 -0.45 0.015L-0.425 0.014A0.425 0.425 0 0 0 -0.421 0.058ZM-0.374 -0.25A0.45 0.45 0 0 1 -0.346 -0.288L-0.327 -0.272A0.425 0.425 0 0 0 -0.353 -0.236ZM-0.314 -0.322A0.45 0.45 0 0 1 -0.279 -0.353L-0.264 -0.333A0.425 0.425 0 0 0 -0.297 -0.304ZM-0.158 -0.421A0.45 0.45 0 0 1 -0.113 -0.435L-0.107 -0.411A0.425 0.425 0 0 0 -0.149 -0.398ZM-0.232 0.116A0.26 0.26 0 0 1 -0.243 0.092L-0.206 0.078A0.22 0.22 0 0 0 -0.197 0.099ZM-0.243 0.092A0.26 0.26 0 0 1 -0.251 0.067L-0.213 0.056A0.22 0.22 0 0 0 -0.206 0.078ZM-0.22 -0.139A0.26 0.26 0 0 1 -0.205 -0.16L-0.173 -0.136A0.22 0.22 0 0 0 -0.186 -0.117ZM-0.146 -0.215A0.26 0.26 0 0 1 -0.124 -0.229L-0.105 -0.194A0.22 0.22 0 0 0 -0.124 -0.182ZM-0.124 -0.229A0.26 0.26 0 0 1 -0.099 -0.24L-0.084 -0.203A0.22 0.22 0 0 0 -0.105 -0.194ZM-0.099 -0.24A0.26 0.26 0 0 1 -0.074 -0.249L-0.063 -0.211A0.22 0.22 0 0 0 -0.084 -0.203Z" fill="#7a4a8a" fill-opacity="0.6"/>
<path d="M-0.4 0.143A0.425 0.425 0 0 1 -0.413 0.101L-0.389 0.095A0.4 0.4 0 0 0 -0.377 0.135ZM-0.421 0.058A0.425 0.425 0 0 1 -0.425 0.014L-0.4 0.013A0.4 0.4 0 0 0 -0.396 0.054ZM-0.264 -0.333A0.425 0.425 0 0 1 -0.228 -0.359L-0.215 -0.338A0.4 0.4 0 0 0 -0.248 -0.314ZM-0.257 -0.039A0.26 0.26 0 0 1 -0.252 -0.065L-0.213 -0.055A0.22 0.22 0 0 0 -0.217 -0.033ZM-0.168 -0.199A0.26 0.26 0 0 1 -0.146 -0.215L-0.124 -0.182A0.22 0.22 0 0 0 -0.142 -0.168Z" fill="#6a5a9a" fill-opacity="0.5"/>
<path d="M-0.425 0.014A0.425 0.425 0 0 1 -0.424 -0.03L-0.399 -0.028A0.4 0.4 0 0 0 -0.4 0.013ZM-0.149 -0.398A0.425 0.425 0 0 1 -0.107 -0.411L-0.101 -0.387A0.4 0.4 0 0 0 -0.14 -0.375ZM-0.437 0.107A0.45 0.45 0 0 1 -0.446 0.061L-0.421 0.058A0.425 0.425 0 0 0 -0.413 0.101ZM-0.398 -0.21A0.45 0.45 0 0 1 -0.374 -0.25L-0.353 -0.236A0.425 0.425 0 0 0 -0.376 -0.199ZM-0.241 -0.38A0.45 0.45 0 0 1 -0.201 -0.403L-0.19 -0.38A0.425 0.425 0 0 0 -0.228 -0.359ZM-0.26 -0.013A0.26 0.26 0 0 1 -0.257 -0.039L-0.217 -0.033A0.22 0.22 0 0 0 -0.22 -0.011ZM-0.252 -0.065A0.26 0.26 0 0 1 -0.244 -0.091L-0.206 -0.077A0.22 0.22 0 0 0 -0.213 -0.055ZM-0.244 -0.091A0.26 0.26 0 0 1 -0.233 -0.115L-0.197 -0.098A0.22 0.22 0 0 0 -0.206 -0.077ZM-0.233 -0.115A0.26 0.26 0 0 1 -0.22 -0.139L-0.186 -0.117A0.22 0.22 0 0 0 -0.197 -0.098ZM-0.205 -0.16A0.26 0.26 0 0 1 -0.187 -0.181L-0.158 -0.153A0.22 0.22 0 0 0 -0.173 -0.136ZM-0.187 -0.181A0.26 0.26 0 0 1 -0.168 -0.199L-0.142 -0.168A0.22 0.22 0 0 0 -0.158 -0.153Z" fill="#904060" fill-opacity="0.5"/>
<path d="M-0.007 -0.245A0.245 0.245 0 0 1 0.019 -0.244L0.017 -0.219A0.22 0.22 0 0 0 -0.006 -0.22ZM0.019 -0.244A0.245 0.245 0 0 1 0.045 -0.241L0.041 -0.216A0.22 0.22 0 0 0 0.017 -0.219ZM0.223 -0.101A0.245 0.245 0 0 1 0.233 -0.077L0.209 -0.069A0.22 0.22 0 0 0 0.2 -0.091ZM0.24 -0.052A0.245 0.245 0 0 1 0.244 -0.026L0.219 -0.023A0.22 0.22 0 0 0 0.215 -0.046ZM0.239 0.052A0.245 0.245 0 0 1 0.232 0.077L0.209 0.069A0.22 0.22 0 0 0 0.215 0.047ZM0.131 -0.236A0.27 0.27 0 0 1 0.155 -0.221L0.141 -0.201A0.245 0.245 0 0 0 0.119 -0.214ZM0.217 -0.161A0.27 0.27 0 0 1 0.233 -0.137L0.211 -0.124A0.245 0.245 0 0 0 0.197 -0.146ZM0.268 -0.028A0.27 0.27 0 0 1 0.27 0L0.245 0A0.245 0.245 0 0 0 0.244 -0.026ZM-0.005 -0.47A0.47 0.47 0 0 1 0.044 -0.468L0.04 -0.426A0.428 0.428 0 0 0 -0.004 -0.428Z" fill="#a05020" fill-opacity="0.7"/>
<path d="M0.045 -0.241A0.245 0.245 0 0 1 0.071 -0.235L0.063 -0.211A0.22 0.22 0 0 0 0.041 -0.216ZM0.119 -0.214A0.245 0.245 0 0 1 0.141 -0.201L0.126 -0.18A0.22 0.22 0 0 0 0.107 -0.192ZM0.197 -0.146A0.245 0.245 0 0 1 0.211 -0.124L0.19 -0.112A0.22 0.22 0 0 0 0.177 -0.131ZM0.211 -0.124A0.245 0.245 0 0 1 0.223 -0.101L0.2 -0.091A0.22 0.22 0 0 0 0.19 -0.112ZM0.244 -0.026A0.245 0.245 0 0 1 0.245 0L0.22 0A0.22 0.22 0 0 0 0.219 -0.023ZM0.021 -0.269A0.27 0.27 0 0 1 0.05 -0.265L0.045 -0.241A0.245 0.245 0 0 0 0.019 -0.244ZM0.178 -0.203A0.27 0.27 0 0 1 0.198 -0.183L0.18 -0.166A0.245 0.245 0 0 0 0.161 -0.184ZM0.198 -0.183A0.27 0.27 0 0 1 0.217 -0.161L0.197 -0.146A0.245 0.245 0 0 0 0.18 -0.166ZM0.233 -0.137A0.27 0.27 0 0 1 0.246 -0.111L0.223 -0.101A0.245 0.245 0 0 0 0.211 -0.124ZM0.256 -0.085A0.27 0.27 0 0 1 0.264 -0.057L0.24 -0.052A0.245 0.245 0 0 0 0.233 -0.077ZM0.268 0.029A0.27 0.27 0 0 1 0.264 0.057L0.239 0.052A0.245 0.245 0 0 0 0.244 0.026ZM-0.002 -0.176A0.176 0.176 0 0 1 0.017 -0.175L0.013 -0.133A0.134 0.134 0 0 0 -0.001 -0.134ZM-0.03 -0.258A0.26 0.26 0 0 1 -0.003 -0.26L-0.002 -0.218A0.218 0.218 0 0 0 -0.025 -0.217ZM-0.003 -0.26A0.26 0.26 0 0 1 0.024 -0.259L0.021 -0.217A0.218 0.218 0 0 0 -0.002 -0.218ZM-0.004 -0.386A0.386 0.386 0 0 1 0.036 -0.384L0.032 -0.342A0.344 0.344 0 0 0 -0.004 -0.344ZM-0.054 -0.467A0.47 0.47 0 0 1 -0.005 -0.47L-0.004 -0.428A0.428 0.428 0 0 0 -0.049 -0.425Z" fill="#903010" fill-opacity="0.8"/>
<path d="M0.071 -0.235A0.245 0.245 0 0 1 0.095 -0.226L0.085 -0.203A0.22 0.22 0 0 0 0.063 -0.211ZM0.095 -0.226A0.245 0.245 0 0 1 0.119 -0.214L0.107 -0.192A0.22 0.22 0 0 0 0.085 -0.203ZM0.161 -0.184A0.245 0.245 0 0 1 0.18 -0.166L0.162 -0.149A0.22 0.22 0 0 0 0.145 -0.166ZM0.244 0.026A0.245 0.245 0 0 1 0.239 0.052L0.215 0.047A0.22 0.22 0 0 0 0.219 0.024ZM-0.008 -0.27A0.27 0.27 0 0 1 0.021 -0.269L0.019 -0.244A0.245 0.245 0 0 0 -0.007 -0.245ZM0.078 -0.259A0.27 0.27 0 0 1 0.105 -0.249L0.095 -0.226A0.245 0.245 0 0 0 0.071 -0.235ZM0.105 -0.249A0.27 0.27 0 0 1 0.131 -0.236L0.119 -0.214A0.245 0.245 0 0 0 0.095 -0.226ZM0.155 -0.221A0.27 0.27 0 0 1 0.178 -0.203L0.161 -0.184A0.245 0.245 0 0 0 0.141 -0.201ZM0.246 -0.111A0.27 0.27 0 0 1 0.256 -0.085L0.233 -0.077A0.245 0.245 0 0 0 0.223 -0.101ZM0.264 -0.057A0.27 0.27 0 0 1 0.268 -0.028L0.244 -0.026A0.245 0.245 0 0 0 0.24 -0.052ZM-0.004 -0.344A0.344 0.344 0 0 1 0.032 -0.342L0.028 -0.301A0.302 0.302 0 0 0 -0.003 -0.302ZM-0.004 -0.428A0.428 0.428 0 0 1 0.04 -0.426L0.036 -0.384A0.386 0.386 0 0 0 -0.004 -0.386Z" fill="#804020" fill-opacity="0.7"/>
<path d="M0.01 -0.407A0.407 0.407 0 0 1 0.052 -0.403L0.049 -0.377A0.38 0.38 0 0 0 0.009 -0.38ZM0.212 -0.347A0.407 0.407 0 0 1 0.247 -0.323L0.231 -0.302A0.38 0.38 0 0 0 0.198 -0.324ZM0.279 -0.295A0.407 0.407 0 0 1 0.309 -0.265L0.289 -0.247A0.38 0.38 0 0 0 0.261 -0.276ZM0.335 -0.231A0.407 0.407 0 0 1 0.357 -0.195L0.334 -0.182A0.38 0.38 0 0 0 0.313 -0.216ZM0.375 -0.156A0.407 0.407 0 0 1 0.39 -0.116L0.364 -0.109A0.38 0.38 0 0 0 0.351 -0.146ZM0.4 -0.075A0.407 0.407 0 0 1 0.405 -0.033L0.379 -0.03A0.38 0.38 0 0 0 0.374 -0.07ZM0.405 -0.033A0.407 0.407 0 0 1 0.407 0.01L0.38 0.009A0.38 0.38 0 0 0 0.379 -0.03ZM0.011 -0.433A0.433 0.433 0 0 1 0.056 -0.43L0.052 -0.403A0.407 0.407 0 0 0 0.01 -0.407ZM0.1 -0.422A0.433 0.433 0 0 1 0.144 -0.409L0.135 -0.384A0.407 0.407 0 0 0 0.094 -0.396ZM0.357 -0.246A0.433 0.433 0 0 1 0.38 -0.207L0.357 -0.195A0.407 0.407 0 0 0 0.335 -0.231ZM0.153 -0.434A0.46 0.46 0 0 1 0.197 -0.416L0.186 -0.391A0.433 0.433 0 0 0 0.144 -0.409ZM0.24 -0.393A0.46 0.46 0 0 1 0.279 -0.365L0.263 -0.344A0.433 0.433 0 0 0 0.226 -0.37ZM0.349 -0.299A0.46 0.46 0 0 1 0.379 -0.261L0.357 -0.246A0.433 0.433 0 0 0 0.329 -0.282ZM0.404 -0.22A0.46 0.46 0 0 1 0.425 -0.177L0.4 -0.167A0.433 0.433 0 0 0 0.38 -0.207ZM0.425 -0.177A0.46 0.46 0 0 1 0.441 -0.131L0.415 -0.124A0.433 0.433 0 0 0 0.4 -0.167ZM0.452 -0.085A0.46 0.46 0 0 1 0.459 -0.037L0.432 -0.035A0.433 0.433 0 0 0 0.426 -0.08ZM0.459 -0.037A0.46 0.46 0 0 1 0.46 0.011L0.433 0.011A0.433 0.433 0 0 0 0.432 -0.035ZM0.46 0.011A0.46 0.46 0 0 1 0.456 0.059L0.43 0.056A0.433 0.433 0 0 0 0.433 0.011Z" fill="#90b080" fill-opacity="0.5"/>
<path d="M0.052 -0.403A0.407 0.407 0 0 1 0.094 -0.396L0.088 -0.37A0.38 0.38 0 0 0 0.049 -0.377ZM0.135 -0.384A0.407 0.407 0 0 1 0.174 -0.367L0.163 -0.343A0.38 0.38 0 0 0 0.126 -0.358ZM0.357 -0.195A0.407 0.407 0 0 1 0.375 -0.156L0.351 -0.146A0.38 0.38 0 0 0 0.334 -0.182ZM0.329 -0.282A0.433 0.433 0 0 1 0.357 -0.246L0.335 -0.231A0.407 0.407 0 0 0 0.309 -0.265ZM0.415 -0.124A0.433 0.433 0 0 1 0.426 -0.08L0.4 -0.075A0.407 0.407 0 0 0 0.39 -0.116ZM0.426 -0.08A0.433 0.433 0 0 1 0.432 -0.035L0.405 -0.033A0.407 0.407 0 0 0 0.4 -0.075ZM0.011 -0.46A0.46 0.46 0 0 1 0.059 -0.456L0.056 -0.43A0.433 0.433 0 0 0 0.011 -0.433ZM-0.001 -0.092A0.092 0.092 0 0 1 0.009 -0.092L0.005 -0.05A0.05 0.05 0 0 0 -0.001 -0.05ZM-0.001 -0.134A0.134 0.134 0 0 1 0.013 -0.133L0.009 -0.092A0.092 0.092 0 0 0 -0.001 -0.092ZM-0.002 -0.218A0.218 0.218 0 0 1 0.021 -0.217L0.017 -0.175A0.176 0.176 0 0 0 -0.002 -0.176ZM-0.049 -0.425A0.428 0.428 0 0 1 -0.004 -0.428L-0.004 -0.386A0.386 0.386 0 0 0 -0.044 -0.383Z" fill="#b0a060" fill-opacity="0.5"/>
<path d="M0.094 -0.396A0.407 0.407 0 0 1 0.135 -0.384L0.126 -0.358A0.38 0.38 0 0 0 0.088 -0.37ZM0.247 -0.323A0.407 0.407 0 0 1 0.279 -0.295L0.261 -0.276A0.38 0.38 0 0 0 0.231 -0.302ZM0.186 -0.391A0.433 0.433 0 0 1 0.226 -0.37L0.212 -0.347A0.407 0.407 0 0 0 0.174 -0.367ZM0.4 -0.167A0.433 0.433 0 0 1 0.415 -0.124L0.39 -0.116A0.407 0.407 0 0 0 0.375 -0.156ZM0.432 -0.035A0.433 0.433 0 0 1 0.433 0.011L0.407 0.01A0.407 0.407 0 0 0 0.405 -0.033ZM0.433 0.011A0.433 0.433 0 0 1 0.43 0.056L0.403 0.052A0.407 0.407 0 0 0 0.407 0.01ZM0.43 0.056A0.433 0.433 0 0 1 0.422 0.1L0.396 0.094A0.407 0.407 0 0 0 0.403 0.052ZM0.379 -0.261A0.46 0.46 0 0 1 0.404 -0.22L0.38 -0.207A0.433 0.433 0 0 0 0.357 -0.246ZM0.441 -0.131A0.46 0.46 0 0 1 0.452 -0.085L0.426 -0.08A0.433 0.433 0 0 0 0.415 -0.124ZM0.456 0.059A0.46 0.46 0 0 1 0.447 0.107L0.422 0.1A0.433 0.433 0 0 0 0.43 0.056ZM-0.015 -0.133A0.134 0.134 0 0 1 -0.001 -0.134L-0.001 -0.092A0.092 0.092 0 0 0 -0.011 -0.091ZM-0.02 -0.175A0.176 0.176 0 0 1 -0.002 -0.176L-0.001 -0.134A0.134 0.134 0 0 0 -0.015 -0.133ZM-0.025 -0.217A0.218 0.218 0 0 1 -0.002 -0.218L-0.002 -0.176A0.176 0.176 0 0 0 -0.02 -0.175ZM-0.003 -0.302A0.302 0.302 0 0 1 0.028 -0.301L0.024 -0.259A0.26 0.26 0 0 0 -0.003 -0.26ZM-0.04 -0.342A0.344 0.344 0 0 1 -0.004 -0.344L-0.003 -0.302A0.302 0.302 0 0 0 -0.035 -0.3ZM-0.044 -0.383A0.386 0.386 0 0 1 -0.004 -0.386L-0.004 -0.344A0.344 0.344 0 0 0 -0.04 -0.342Z" fill="#a0b070" fill-opacity="0.6"/>
<circle cx="0.03" cy="0" r="0.05" fill="#7a6a78" fill-opacity="0.85"/>
</g>
<path d="M189.4 133.9L242.3 110.7L241.1 107.9L187.6 129.5Z" fill="#e6e6e6" stroke="#000" stroke-width="1"/>
<path d="M190 129.8L142.9 93.1L141 95.4L187 133.6Z" fill="#e6e6e6" stroke="#000" stroke-width="1"/>
<path d="M186.1 131.4L180.3 191.4L183.3 191.8L190.9 132Z" fill="#e6e6e6" stroke="#000" stroke-width="1"/>
<g transform="matrix(116 3.5 0 -121 702.0 132.3)">
<use href="#pBt" opacity="0.06" transform="translate(1.166 0.543) rotate(203.4) scale(1)"/>
<path d="M0.549 -0.012L0.436 0.179L0.422 0.334L0.321 0.315L0.3 0.468L0.141 0.435L-0.014 0.553L-0.099 0.447L-0.207 0.469L-0.287 0.357L-0.433 0.319L-0.477 0.088L-0.513 0.052L-0.469 -0.11L-0.456 -0.254L-0.339 -0.297L-0.315 -0.435L-0.184 -0.419L-0.086 -0.52L0.067 -0.476L0.188 -0.543L0.303 -0.358L0.41 -0.312L0.412 -0.18L0.528 -0.052Z" transform="translate(1.166 0.543)" fill="none" stroke="#ff0000" stroke-opacity="1.00" stroke-width="1.3" vector-effect="non-scaling-stroke"/>
<use href="#pBt" opacity="0.07" transform="translate(1.143 0.529) rotate(159.2) scale(1.004)"/>
<path d="M0.531 0.067L0.412 0.172L0.498 0.264L0.324 0.368L0.295 0.468L0.194 0.428L0.022 0.526L-0.031 0.485L-0.164 0.53L-0.257 0.413L-0.371 0.355L-0.388 0.254L-0.494 0.186L-0.47 -0.031L-0.548 -0.11L-0.417 -0.218L-0.389 -0.331L-0.291 -0.382L-0.208 -0.496L-0.087 -0.452L0.021 -0.568L0.148 -0.444L0.292 -0.468L0.315 -0.372L0.408 -0.309L0.436 -0.212L0.507 -0.084Z" transform="translate(1.143 0.529)" fill="none" stroke="#00e000" stroke-opacity="0.99" stroke-width="1.3" vector-effect="non-scaling-stroke"/>
<use href="#pBt" opacity="0.08" transform="translate(1.105 0.529) rotate(114.9) scale(1.007)"/>
<path d="M0.522 0.12L0.382 0.269L0.395 0.315L0.222 0.38L0.15 0.508L-0.01 0.471L-0.122 0.525L-0.254 0.411L-0.399 0.357L-0.416 0.269L-0.503 0.133L-0.469 -0.01L-0.524 -0.167L-0.42 -0.258L-0.36 -0.409L-0.232 -0.437L-0.145 -0.527L-0.052 -0.461L0.094 -0.528L0.178 -0.393L0.333 -0.446L0.403 -0.227L0.501 -0.127L0.458 -0.012Z" transform="translate(1.105 0.529)" fill="none" stroke="#ff0000" stroke-opacity="0.99" stroke-width="1.3" vector-effect="non-scaling-stroke"/>
<use href="#pBt" opacity="0.08" transform="translate(1.117 0.558) rotate(70.7) scale(1.011)"/>
<path d="M0.512 0.16L0.421 0.225L0.463 0.329L0.243 0.401L0.162 0.468L-0.009 0.453L-0.123 0.5L-0.22 0.398L-0.322 0.411L-0.432 0.225L-0.522 0.173L-0.488 0.064L-0.509 -0.059L-0.436 -0.16L-0.374 -0.334L-0.253 -0.416L-0.2 -0.484L-0.047 -0.494L0.102 -0.531L0.254 -0.392L0.327 -0.437L0.384 -0.223L0.471 -0.204L0.495 -0.025Z" transform="translate(1.117 0.558)" fill="none" stroke="#00e000" stroke-opacity="0.98" stroke-width="1.3" vector-effect="non-scaling-stroke"/>
<use href="#pBt" opacity="0.09" transform="translate(1.092 0.493) rotate(26.5) scale(1.014)"/>
<path d="M0.523 0.172L0.406 0.263L0.391 0.409L0.229 0.431L0.159 0.504L0.075 0.448L-0.081 0.524L-0.224 0.398L-0.329 0.454L-0.39 0.251L-0.509 0.214L-0.481 0.088L-0.559 -0.009L-0.452 -0.118L-0.447 -0.269L-0.32 -0.339L-0.227 -0.475L-0.073 -0.46L0.062 -0.55L0.099 -0.486L0.264 -0.485L0.314 -0.329L0.456 -0.273L0.468 -0.098L0.581 -0.013Z" transform="translate(1.092 0.493)" fill="none" stroke="#0000ff" stroke-opacity="0.97" stroke-width="1.3" vector-effect="non-scaling-stroke"/>
<use href="#pBt" opacity="0.10" transform="translate(1.095 0.506) rotate(342.2) scale(1.018)"/>
<path d="M0.501 0.057L0.454 0.24L0.411 0.328L0.291 0.33L0.252 0.451L0.105 0.436L-0.112 0.505L-0.216 0.432L-0.319 0.424L-0.362 0.359L-0.52 0.184L-0.486 0.032L-0.506 -0.011L-0.451 -0.14L-0.465 -0.32L-0.26 -0.394L-0.158 -0.482L-0.036 -0.455L0.042 -0.529L0.172 -0.467L0.35 -0.411L0.373 -0.332L0.494 -0.257L0.49 -0.057Z" transform="translate(1.095 0.506)" fill="none" stroke="#ff0000" stroke-opacity="0.96" stroke-width="1.3" vector-effect="non-scaling-stroke"/>
<use href="#pBt" opacity="0.11" transform="translate(1.107 0.504) rotate(298) scale(1.021)"/>
<path d="M0.551 0.038L0.441 0.171L0.506 0.256L0.274 0.357L0.279 0.461L0.103 0.504L-0.089 0.542L-0.132 0.489L-0.326 0.454L-0.359 0.314L-0.501 0.224L-0.441 0.136L-0.518 -0.077L-0.459 -0.153L-0.429 -0.343L-0.298 -0.362L-0.249 -0.474L-0.129 -0.469L-0.012 -0.545L0.131 -0.477L0.331 -0.427L0.368 -0.308L0.481 -0.274L0.497 -0.131Z" transform="translate(1.107 0.504)" fill="none" stroke="#ff0000" stroke-opacity="0.96" stroke-width="1.3" vector-effect="non-scaling-stroke"/>
<use href="#pBt" opacity="0.11" transform="translate(1.11 0.526) rotate(253.7) scale(1.025)"/>
<path d="M0.559 0.012L0.463 0.163L0.457 0.29L0.386 0.328L0.261 0.476L0.168 0.462L-0.009 0.539L-0.127 0.439L-0.252 0.482L-0.32 0.357L-0.443 0.291L-0.442 0.197L-0.53 0.02L-0.455 -0.053L-0.503 -0.174L-0.359 -0.321L-0.38 -0.377L-0.224 -0.425L-0.113 -0.542L-0.01 -0.495L0.139 -0.484L0.273 -0.388L0.348 -0.389L0.437 -0.2L0.535 -0.106Z" transform="translate(1.11 0.526)" fill="none" stroke="#00e000" stroke-opacity="0.95" stroke-width="1.3" vector-effect="non-scaling-stroke"/>
<use href="#pBt" opacity="0.12" transform="translate(1.053 0.522) rotate(209.5) scale(1.028)"/>
<path d="M0.534 0.041L0.413 0.194L0.444 0.304L0.268 0.374L0.233 0.492L0.129 0.475L-0.054 0.564L-0.161 0.479L-0.321 0.458L-0.34 0.328L-0.486 0.249L-0.461 0.093L-0.577 0.061L-0.441 -0.122L-0.518 -0.223L-0.326 -0.371L-0.319 -0.417L-0.107 -0.454L-0.031 -0.579L0.08 -0.451L0.184 -0.491L0.365 -0.356L0.489 -0.283L0.465 -0.139L0.533 -0.006Z" transform="translate(1.053 0.522)" fill="none" stroke="#0000ff" stroke-opacity="0.94" stroke-width="1.3" vector-effect="non-scaling-stroke"/>
<use href="#pBt" opacity="0.13" transform="translate(1.047 0.481) rotate(165.3) scale(1.032)"/>
<path d="M0.55 -0.016L0.439 0.167L0.483 0.25L0.363 0.333L0.303 0.48L0.229 0.416L0.123 0.523L-0.016 0.492L-0.191 0.524L-0.211 0.471L-0.346 0.422L-0.375 0.305L-0.492 0.225L-0.502 0.09L-0.565 -0.062L-0.48 -0.153L-0.457 -0.251L-0.344 -0.351L-0.296 -0.443L-0.226 -0.462L-0.127 -0.562L-0.003 -0.464L0.145 -0.495L0.179 -0.433L0.349 -0.433L0.411 -0.25L0.489 -0.213L0.473 -0.05Z" transform="translate(1.047 0.481)" fill="none" stroke="#00e000" stroke-opacity="0.93" stroke-width="1.3" vector-effect="non-scaling-stroke"/>
<use href="#pBt" opacity="0.14" transform="translate(0.963 0.491) rotate(121) scale(1.035)"/>
<path d="M0.527 0.042L0.437 0.139L0.47 0.265L0.333 0.351L0.268 0.479L0.15 0.435L0.08 0.529L-0.064 0.499L-0.219 0.512L-0.263 0.406L-0.412 0.378L-0.42 0.262L-0.554 0.098L-0.495 -0.028L-0.567 -0.096L-0.408 -0.294L-0.412 -0.383L-0.267 -0.374L-0.18 -0.479L-0.054 -0.465L0.082 -0.552L0.214 -0.437L0.309 -0.464L0.404 -0.278L0.492 -0.265L0.512 -0.101Z" transform="translate(0.963 0.491)" fill="none" stroke="#0000ff" stroke-opacity="0.93" stroke-width="1.3" vector-effect="non-scaling-stroke"/>
<use href="#pBt" opacity="0.14" transform="translate(1.007 0.522) rotate(76.8) scale(1.039)"/>
<path d="M0.559 0.091L0.505 0.154L0.437 0.306L0.333 0.351L0.256 0.466L0.176 0.437L0.022 0.58L-0.084 0.473L-0.185 0.511L-0.288 0.379L-0.37 0.393L-0.394 0.273L-0.529 0.161L-0.461 0.04L-0.499 -0.121L-0.464 -0.167L-0.414 -0.383L-0.296 -0.436L-0.276 -0.495L-0.077 -0.493L0.027 -0.548L0.071 -0.471L0.263 -0.508L0.342 -0.392L0.411 -0.349L0.465 -0.163L0.527 -0.073Z" transform="translate(1.007 0.522)" fill="none" stroke="#0000ff" stroke-opacity="0.92" stroke-width="1.3" vector-effect="non-scaling-stroke"/>
<use href="#pBt" opacity="0.15" transform="translate(0.992 0.438) rotate(32.6) scale(1.042)"/>
<path d="M0.544 0.111L0.443 0.183L0.407 0.333L0.307 0.384L0.178 0.512L0.036 0.481L-0.051 0.58L-0.237 0.421L-0.307 0.445L-0.377 0.336L-0.496 0.138L-0.486 0.009L-0.529 -0.049L-0.465 -0.185L-0.387 -0.376L-0.288 -0.408L-0.13 -0.542L-0.067 -0.488L0.099 -0.512L0.158 -0.478L0.353 -0.43L0.41 -0.288L0.508 -0.233L0.478 -0.016Z" transform="translate(0.992 0.438)" fill="none" stroke="#ff0000" stroke-opacity="0.91" stroke-width="1.3" vector-effect="non-scaling-stroke"/>
<use href="#pBt" opacity="0.16" transform="translate(0.994 0.471) rotate(348.3) scale(1.046)"/>
<path d="M0.542 0.085L0.446 0.145L0.486 0.285L0.329 0.339L0.294 0.456L0.183 0.448L0.004 0.568L-0.045 0.487L-0.216 0.505L-0.33 0.384L-0.378 0.403L-0.471 0.199L-0.51 0.188L-0.512 0.045L-0.53 -0.084L-0.455 -0.24L-0.455 -0.315L-0.291 -0.359L-0.175 -0.504L-0.059 -0.504L-0.021 -0.524L0.148 -0.473L0.264 -0.503L0.36 -0.371L0.415 -0.347L0.47 -0.135L0.514 -0.112Z" transform="translate(0.994 0.471)" fill="none" stroke="#00e000" stroke-opacity="0.91" stroke-width="1.3" vector-effect="non-scaling-stroke"/>
<use href="#pBt" opacity="0.17" transform="translate(0.961 0.503) rotate(304.1) scale(1.049)"/>
<path d="M0.558 0.077L0.424 0.239L0.392 0.416L0.273 0.416L0.206 0.489L0.024 0.477L-0.141 0.545L-0.203 0.439L-0.355 0.414L-0.354 0.322L-0.472 0.253L-0.471 0.103L-0.552 -0.096L-0.491 -0.154L-0.401 -0.349L-0.367 -0.349L-0.244 -0.517L-0.089 -0.474L0.038 -0.543L0.161 -0.484L0.245 -0.499L0.347 -0.346L0.468 -0.291L0.463 -0.166L0.549 -0.059Z" transform="translate(0.961 0.503)" fill="none" stroke="#0000ff" stroke-opacity="0.90" stroke-width="1.3" vector-effect="non-scaling-stroke"/>
<use href="#pBt" opacity="0.17" transform="translate(0.925 0.415) rotate(259.8) scale(1.052)"/>
<path d="M0.506 0.146L0.468 0.178L0.409 0.329L0.309 0.391L0.094 0.543L0.057 0.464L-0.095 0.537L-0.219 0.427L-0.43 0.33L-0.478 0.183L-0.517 0.151L-0.491 -0.088L-0.505 -0.235L-0.411 -0.22L-0.31 -0.462L-0.188 -0.48L-0.039 -0.542L0.129 -0.518L0.182 -0.501L0.322 -0.381L0.423 -0.349L0.473 -0.172L0.535 0.009Z" transform="translate(0.925 0.415)" fill="none" stroke="#00e000" stroke-opacity="0.89" stroke-width="1.3" vector-effect="non-scaling-stroke"/>
<use href="#pBt" opacity="0.18" transform="translate(0.925 0.417) rotate(215.6) scale(1.054)"/>
<path d="M0.56 0.119L0.481 0.147L0.458 0.347L0.297 0.377L0.275 0.499L0.137 0.497L-0.034 0.576L-0.085 0.479L-0.261 0.499L-0.349 0.387L-0.475 0.304L-0.448 0.229L-0.539 0.066L-0.496 -0.11L-0.483 -0.239L-0.431 -0.28L-0.331 -0.413L-0.213 -0.47L-0.111 -0.553L-0.06 -0.519L0.14 -0.53L0.222 -0.452L0.371 -0.398L0.447 -0.254L0.516 -0.2L0.473 -0.109Z" transform="translate(0.925 0.417)" fill="none" stroke="#00e000" stroke-opacity="0.88" stroke-width="1.3" vector-effect="non-scaling-stroke"/>
<use href="#pBt" opacity="0.19" transform="translate(0.929 0.409) rotate(171.4) scale(1.057)"/>
<path d="M0.517 0.141L0.473 0.223L0.392 0.398L0.289 0.391L0.227 0.51L0.023 0.503L-0.09 0.544L-0.192 0.487L-0.343 0.451L-0.392 0.293L-0.504 0.272L-0.488 0.038L-0.571 -0.059L-0.493 -0.164L-0.445 -0.283L-0.327 -0.418L-0.284 -0.477L-0.048 -0.486L0.055 -0.567L0.189 -0.472L0.296 -0.461L0.373 -0.344L0.481 -0.26L0.474 -0.137L0.561 -0.053Z" transform="translate(0.929 0.409)" fill="none" stroke="#ff0000" stroke-opacity="0.88" stroke-width="1.3" vector-effect="non-scaling-stroke"/>
<use href="#pBt" opacity="0.20" transform="translate(0.919 0.369) rotate(127.1) scale(1.059)"/>
<path d="M0.549 0.046L0.438 0.186L0.481 0.289L0.35 0.394L0.346 0.428L0.227 0.468L0.055 0.552L-0.022 0.516L-0.144 0.521L-0.225 0.418L-0.348 0.44L-0.429 0.273L-0.513 0.146L-0.478 0.103L-0.571 -0.031L-0.456 -0.199L-0.47 -0.272L-0.399 -0.332L-0.324 -0.473L-0.133 -0.476L-0.029 -0.543L0.067 -0.516L0.155 -0.515L0.255 -0.465L0.375 -0.369L0.39 -0.293L0.511 -0.155L0.514 -0.022Z" transform="translate(0.919 0.369)" fill="none" stroke="#ff0000" stroke-opacity="0.87" stroke-width="1.3" vector-effect="non-scaling-stroke"/>
<use href="#pBt" opacity="0.20" transform="translate(0.877 0.397) rotate(82.9) scale(1.062)"/>
<path d="M0.53 0.025L0.463 0.187L0.426 0.34L0.365 0.378L0.209 0.532L0.124 0.491L-0.029 0.556L-0.148 0.484L-0.267 0.5L-0.391 0.314L-0.464 0.294L-0.471 0.153L-0.578 -0.025L-0.503 -0.147L-0.49 -0.299L-0.423 -0.317L-0.333 -0.428L-0.186 -0.46L-0.046 -0.566L0.041 -0.517L0.285 -0.479L0.331 -0.357L0.406 -0.351L0.468 -0.209L0.556 -0.01Z" transform="translate(0.877 0.397)" fill="none" stroke="#0000ff" stroke-opacity="0.86" stroke-width="1.3" vector-effect="non-scaling-stroke"/>
<use href="#pBt" opacity="0.21" transform="translate(0.802 0.393) rotate(38.7) scale(1.064)"/>
<path d="M0.56 0.046L0.464 0.136L0.413 0.352L0.341 0.394L0.253 0.487L0.106 0.507L0.033 0.544L-0.1 0.503L-0.248 0.509L-0.335 0.376L-0.434 0.341L-0.492 0.168L-0.547 0.034L-0.51 -0.093L-0.484 -0.254L-0.398 -0.284L-0.332 -0.423L-0.249 -0.457L-0.146 -0.538L0.033 -0.51L0.129 -0.528L0.263 -0.416L0.385 -0.379L0.402 -0.329L0.502 -0.186L0.504 -0.109Z" transform="translate(0.802 0.393)" fill="none" stroke="#0000ff" stroke-opacity="0.86" stroke-width="1.3" vector-effect="non-scaling-stroke"/>
<use href="#pBt" opacity="0.22" transform="translate(0.851 0.41) rotate(354.4) scale(1.067)"/>
<path d="M0.527 0.093L0.489 0.142L0.453 0.317L0.325 0.369L0.257 0.483L0.223 0.476L0.043 0.544L-0.035 0.513L-0.2 0.516L-0.216 0.486L-0.317 0.441L-0.384 0.304L-0.503 0.229L-0.485 0.099L-0.57 -0.001L-0.477 -0.109L-0.514 -0.26L-0.383 -0.298L-0.335 -0.466L-0.241 -0.431L-0.133 -0.539L0.013 -0.514L0.055 -0.57L0.157 -0.468L0.358 -0.439L0.401 -0.34L0.483 -0.306L0.466 -0.125L0.543 -0.016Z" transform="translate(0.851 0.41)" fill="none" stroke="#ff0000" stroke-opacity="0.85" stroke-width="1.3" vector-effect="non-scaling-stroke"/>
<use href="#pBt" opacity="0.23" transform="translate(0.822 0.351) rotate(310.2) scale(1.069)"/>
<path d="M0.537 0.089L0.45 0.261L0.465 0.299L0.351 0.375L0.221 0.488L0.037 0.51L-0.096 0.562L-0.167 0.493L-0.311 0.472L-0.436 0.252L-0.51 0.227L-0.484 0.11L-0.564 -0.127L-0.477 -0.238L-0.477 -0.314L-0.254 -0.431L-0.266 -0.501L-0.011 -0.502L0.11 -0.542L0.231 -0.463L0.375 -0.4L0.422 -0.251L0.542 -0.184L0.496 -0.092Z" transform="translate(0.822 0.351)" fill="none" stroke="#0000ff" stroke-opacity="0.84" stroke-width="1.3" vector-effect="non-scaling-stroke"/>
<use href="#pBt" opacity="0.24" transform="translate(0.796 0.375) rotate(265.9) scale(1.072)"/>
<path d="M0.542 0.075L0.46 0.207L0.428 0.346L0.261 0.417L0.19 0.521L0.117 0.483L-0.115 0.524L-0.201 0.5L-0.333 0.428L-0.371 0.365L-0.5 0.257L-0.489 0.089L-0.57 -0.011L-0.504 -0.125L-0.496 -0.275L-0.409 -0.301L-0.337 -0.475L-0.206 -0.454L-0.054 -0.572L0.104 -0.489L0.24 -0.522L0.318 -0.426L0.416 -0.392L0.436 -0.295L0.559 -0.128L0.532 0.032Z" transform="translate(0.796 0.375)" fill="none" stroke="#ff0000" stroke-opacity="0.83" stroke-width="1.3" vector-effect="non-scaling-stroke"/>
<use href="#pBt" opacity="0.24" transform="translate(0.864 0.357) rotate(221.7) scale(1.074)"/>
<path d="M0.565 -0.005L0.478 0.145L0.441 0.369L0.318 0.386L0.204 0.514L0.104 0.527L-0.07 0.572L-0.13 0.479L-0.249 0.511L-0.344 0.372L-0.483 0.306L-0.505 0.119L-0.552 -0.012L-0.499 -0.147L-0.507 -0.263L-0.374 -0.384L-0.308 -0.47L-0.128 -0.498L-0.076 -0.549L0.078 -0.514L0.191 -0.528L0.317 -0.42L0.472 -0.331L0.471 -0.219L0.55 -0.097Z" transform="translate(0.864 0.357)" fill="none" stroke="#00e000" stroke-opacity="0.83" stroke-width="1.3" vector-effect="non-scaling-stroke"/>
<use href="#pBt" opacity="0.25" transform="translate(0.827 0.348) rotate(177.5) scale(1.076)"/>
<path d="M0.539 0.123L0.456 0.22L0.399 0.392L0.333 0.373L0.229 0.521L0.077 0.499L-0.032 0.547L-0.187 0.508L-0.334 0.444L-0.364 0.347L-0.453 0.307L-0.498 0.13L-0.551 0.053L-0.495 -0.157L-0.497 -0.282L-0.388 -0.336L-0.285 -0.462L-0.215 -0.466L-0.024 -0.563L0.022 -0.514L0.17 -0.534L0.24 -0.447L0.44 -0.374L0.464 -0.261L0.528 -0.139L0.501 -0.062Z" transform="translate(0.827 0.348)" fill="none" stroke="#00e000" stroke-opacity="0.82" stroke-width="1.3" vector-effect="non-scaling-stroke"/>
<use href="#pBt" opacity="0.26" transform="translate(0.812 0.341) rotate(133.2) scale(1.079)"/>
<path d="M0.547 0.069L0.514 0.095L0.494 0.309L0.401 0.312L0.34 0.436L0.218 0.489L0.049 0.579L-0.054 0.527L-0.121 0.566L-0.256 0.471L-0.321 0.438L-0.402 0.326L-0.514 0.241L-0.523 0.119L-0.553 -0.064L-0.494 -0.145L-0.494 -0.287L-0.421 -0.309L-0.294 -0.456L-0.179 -0.501L-0.112 -0.546L-0.019 -0.508L0.195 -0.526L0.24 -0.445L0.338 -0.448L0.421 -0.297L0.514 -0.259L0.519 -0.08Z" transform="translate(0.812 0.341)" fill="none" stroke="#0000ff" stroke-opacity="0.81" stroke-width="1.3" vector-effect="non-scaling-stroke"/>
<use href="#pBt" opacity="0.27" transform="translate(0.773 0.33) rotate(89) scale(1.081)"/>
<path d="M0.526 0.113L0.483 0.195L0.417 0.366L0.281 0.458L0.203 0.54L0.013 0.534L-0.053 0.546L-0.169 0.479L-0.299 0.475L-0.42 0.289L-0.52 0.213L-0.514 0.106L-0.559 -0.051L-0.475 -0.207L-0.449 -0.331L-0.328 -0.415L-0.277 -0.501L-0.164 -0.499L-0.006 -0.578L0.071 -0.534L0.212 -0.514L0.331 -0.402L0.472 -0.326L0.504 -0.156L0.563 0.014Z" transform="translate(0.773 0.33)" fill="none" stroke="#ff0000" stroke-opacity="0.80" stroke-width="1.3" vector-effect="non-scaling-stroke"/>
<use href="#pBt" opacity="0.27" transform="translate(0.77 0.366) rotate(44.8) scale(1.084)"/>
<path d="M0.565 0.047L0.491 0.124L0.456 0.317L0.356 0.386L0.272 0.483L0.095 0.497L-0.024 0.569L-0.07 0.526L-0.248 0.516L-0.348 0.407L-0.485 0.307L-0.48 0.226L-0.563 0.119L-0.538 -0.005L-0.536 -0.176L-0.475 -0.252L-0.359 -0.413L-0.302 -0.455L-0.194 -0.528L0.007 -0.521L0.15 -0.525L0.267 -0.479L0.354 -0.425L0.444 -0.286L0.503 -0.279L0.515 -0.075Z" transform="translate(0.77 0.366)" fill="none" stroke="#00e000" stroke-opacity="0.80" stroke-width="1.3" vector-effect="non-scaling-stroke"/>
<use href="#pBt" opacity="0.28" transform="translate(0.747 0.298) rotate(0.5) scale(1.086)"/>
<path d="M0.552 0.011L0.484 0.151L0.509 0.226L0.417 0.32L0.359 0.419L0.181 0.493L0.137 0.556L0.006 0.523L-0.113 0.567L-0.193 0.47L-0.305 0.48L-0.389 0.363L-0.511 0.221L-0.48 0.164L-0.554 0.003L-0.522 -0.067L-0.513 -0.197L-0.452 -0.298L-0.422 -0.392L-0.265 -0.444L-0.181 -0.543L-0.03 -0.547L0.072 -0.546L0.159 -0.486L0.314 -0.475L0.385 -0.382L0.449 -0.351L0.485 -0.164L0.548 -0.097Z" transform="translate(0.747 0.298)" fill="none" stroke="#ff0000" stroke-opacity="0.79" stroke-width="1.3" vector-effect="non-scaling-stroke"/>
<use href="#pBt" opacity="0.29" transform="translate(0.678 0.298) rotate(316.3) scale(1.089)"/>
<path d="M0.554 0.023L0.514 0.183L0.475 0.287L0.32 0.412L0.277 0.484L0.103 0.516L-0.023 0.561L-0.135 0.528L-0.21 0.513L-0.31 0.43L-0.402 0.364L-0.495 0.213L-0.551 0.094L-0.545 -0.016L-0.529 -0.187L-0.442 -0.283L-0.374 -0.407L-0.335 -0.389L-0.258 -0.5L-0.114 -0.519L0.029 -0.564L0.224 -0.499L0.304 -0.476L0.369 -0.397L0.457 -0.293L0.51 -0.127L0.557 -0.037Z" transform="translate(0.678 0.298)" fill="none" stroke="#ff0000" stroke-opacity="0.78" stroke-width="1.3" vector-effect="non-scaling-stroke"/>
<use href="#pBt" opacity="0.30" transform="translate(0.751 0.299) rotate(272) scale(1.091)"/>
<path d="M0.553 0.103L0.492 0.191L0.463 0.33L0.366 0.381L0.343 0.464L0.207 0.481L0.047 0.552L-0.057 0.508L-0.137 0.552L-0.33 0.436L-0.41 0.371L-0.46 0.295L-0.509 0.207L-0.536 0.078L-0.571 -0.035L-0.527 -0.126L-0.481 -0.296L-0.339 -0.392L-0.294 -0.49L-0.153 -0.504L-0.09 -0.538L0.076 -0.528L0.239 -0.521L0.245 -0.476L0.398 -0.391L0.471 -0.254L0.52 -0.174L0.528 -0.015Z" transform="translate(0.751 0.299)" fill="none" stroke="#0000ff" stroke-opacity="0.78" stroke-width="1.3" vector-effect="non-scaling-stroke"/>
<use href="#pBt" opacity="0.30" transform="translate(0.678 0.356) rotate(227.8) scale(1.094)"/>
<path d="M0.551 0.095L0.507 0.155L0.478 0.273L0.401 0.327L0.331 0.434L0.179 0.502L0.052 0.559L-0.055 0.518L-0.143 0.548L-0.306 0.449L-0.411 0.363L-0.482 0.263L-0.521 0.21L-0.507 0.115L-0.559 -0.047L-0.508 -0.168L-0.478 -0.299L-0.366 -0.395L-0.282 -0.504L-0.233 -0.47L-0.075 -0.549L0.051 -0.515L0.158 -0.551L0.235 -0.481L0.435 -0.374L0.453 -0.285L0.535 -0.202L0.531 -0.083Z" transform="translate(0.678 0.356)" fill="none" stroke="#0000ff" stroke-opacity="0.77" stroke-width="1.3" vector-effect="non-scaling-stroke"/>
<use href="#pBt" opacity="0.31" transform="translate(0.649 0.303) rotate(183.6) scale(1.096)"/>
<path d="M0.54 0.109L0.469 0.217L0.408 0.383L0.309 0.424L0.24 0.514L-0.006 0.527L-0.087 0.555L-0.254 0.464L-0.35 0.445L-0.46 0.281L-0.489 0.248L-0.532 0.119L-0.57 -0.06L-0.496 -0.154L-0.484 -0.279L-0.379 -0.384L-0.304 -0.465L-0.158 -0.498L-0.01 -0.555L0.193 -0.488L0.298 -0.461L0.397 -0.365L0.442 -0.319L0.502 -0.154L0.561 -0.068Z" transform="translate(0.649 0.303)" fill="none" stroke="#00e000" stroke-opacity="0.76" stroke-width="1.3" vector-effect="non-scaling-stroke"/>
<use href="#pBt" opacity="0.32" transform="translate(0.628 0.3) rotate(139.3) scale(1.099)"/>
<path d="M0.541 0.085L0.484 0.23L0.463 0.335L0.355 0.408L0.295 0.478L0.163 0.516L0.069 0.558L-0.042 0.548L-0.154 0.528L-0.252 0.467L-0.408 0.406L-0.454 0.256L-0.526 0.198L-0.54 0.049L-0.559 -0.035L-0.516 -0.117L-0.488 -0.289L-0.432 -0.33L-0.387 -0.419L-0.233 -0.487L-0.101 -0.546L0.001 -0.531L0.099 -0.552L0.192 -0.48L0.307 -0.471L0.425 -0.316L0.509 -0.257L0.52 -0.097L0.565 0.012Z" transform="translate(0.628 0.3)" fill="none" stroke="#0000ff" stroke-opacity="0.75" stroke-width="1.3" vector-effect="non-scaling-stroke"/>
<use href="#pBt" opacity="0.33" transform="translate(0.643 0.296) rotate(95.1) scale(1.1)"/>
<circle cx="0.643" cy="0.296" r="0.55" fill="none" stroke="#3030b0" stroke-opacity="0.4" stroke-width="1.3" vector-effect="non-scaling-stroke"/>
<use href="#pBt" opacity="0.33" transform="translate(0.66 0.246) rotate(50.9) scale(1.101)"/>
<circle cx="0.66" cy="0.246" r="0.551" fill="none" stroke="#3030b0" stroke-opacity="0.4" stroke-width="1.3" vector-effect="non-scaling-stroke"/>
<use href="#pBt" opacity="0.34" transform="translate(0.659 0.274) rotate(6.6) scale(1.102)"/>
<circle cx="0.659" cy="0.274" r="0.551" fill="none" stroke="#80d870" stroke-opacity="0.4" stroke-width="1.3" vector-effect="non-scaling-stroke"/>
<use href="#pBt" opacity="0.35" transform="translate(0.596 0.32) rotate(322.4) scale(1.103)"/>
<circle cx="0.596" cy="0.32" r="0.552" fill="none" stroke="#902020" stroke-opacity="0.4" stroke-width="1.3" vector-effect="non-scaling-stroke"/>
<use href="#pBt" opacity="0.36" transform="translate(0.622 0.23) rotate(278.1) scale(1.104)"/>
<circle cx="0.622" cy="0.23" r="0.552" fill="none" stroke="#3030b0" stroke-opacity="0.4" stroke-width="1.3" vector-effect="non-scaling-stroke"/>
<use href="#pBt" opacity="0.37" transform="translate(0.602 0.218) rotate(233.9) scale(1.105)"/>
<circle cx="0.602" cy="0.218" r="0.553" fill="none" stroke="#3030b0" stroke-opacity="0.4" stroke-width="1.3" vector-effect="non-scaling-stroke"/>
<use href="#pBt" opacity="0.37" transform="translate(0.618 0.234) rotate(189.7) scale(1.106)"/>
<circle cx="0.618" cy="0.234" r="0.553" fill="none" stroke="#902020" stroke-opacity="0.4" stroke-width="1.3" vector-effect="non-scaling-stroke"/>
<use href="#pBt" opacity="0.38" transform="translate(0.574 0.239) rotate(145.4) scale(1.107)"/>
<circle cx="0.574" cy="0.239" r="0.554" fill="none" stroke="#80d870" stroke-opacity="0.4" stroke-width="1.3" vector-effect="non-scaling-stroke"/>
<use href="#pBt" opacity="0.39" transform="translate(0.507 0.239) rotate(101.2) scale(1.108)"/>
<circle cx="0.507" cy="0.239" r="0.554" fill="none" stroke="#3030b0" stroke-opacity="0.4" stroke-width="1.3" vector-effect="non-scaling-stroke"/>
<use href="#pBt" opacity="0.40" transform="translate(0.549 0.244) rotate(57) scale(1.109)"/>
<circle cx="0.549" cy="0.244" r="0.555" fill="none" stroke="#80d870" stroke-opacity="0.4" stroke-width="1.3" vector-effect="non-scaling-stroke"/>
<use href="#pBt" opacity="0.40" transform="translate(0.539 0.234) rotate(12.7) scale(1.11)"/>
<circle cx="0.539" cy="0.234" r="0.555" fill="none" stroke="#80d870" stroke-opacity="0.4" stroke-width="1.3" vector-effect="non-scaling-stroke"/>
<use href="#pBt" opacity="0.41" transform="translate(0.509 0.222) rotate(328.5) scale(1.111)"/>
<circle cx="0.509" cy="0.222" r="0.556" fill="none" stroke="#50c050" stroke-opacity="0.4" stroke-width="1.3" vector-effect="non-scaling-stroke"/>
<use href="#pBt" opacity="0.42" transform="translate(0.494 0.237) rotate(284.2) scale(1.112)"/>
<circle cx="0.494" cy="0.237" r="0.556" fill="none" stroke="#80d870" stroke-opacity="0.4" stroke-width="1.3" vector-effect="non-scaling-stroke"/>
<use href="#pBt" opacity="0.43" transform="translate(0.489 0.216) rotate(240) scale(1.113)"/>
<circle cx="0.489" cy="0.216" r="0.557" fill="none" stroke="#80d870" stroke-opacity="0.4" stroke-width="1.3" vector-effect="non-scaling-stroke"/>
<use href="#pBt" opacity="0.43" transform="translate(0.488 0.208) rotate(195.8) scale(1.114)"/>
<circle cx="0.488" cy="0.208" r="0.557" fill="none" stroke="#50c050" stroke-opacity="0.4" stroke-width="1.3" vector-effect="non-scaling-stroke"/>
<use href="#pBt" opacity="0.44" transform="translate(0.466 0.204) rotate(151.5) scale(1.115)"/>
<circle cx="0.466" cy="0.204" r="0.558" fill="none" stroke="#3030b0" stroke-opacity="0.4" stroke-width="1.3" vector-effect="non-scaling-stroke"/>
<use href="#pBt" opacity="0.45" transform="translate(0.469 0.193) rotate(107.3) scale(1.116)"/>
<circle cx="0.469" cy="0.193" r="0.558" fill="none" stroke="#902020" stroke-opacity="0.4" stroke-width="1.3" vector-effect="non-scaling-stroke"/>
<use href="#pBt" opacity="0.46" transform="translate(0.442 0.167) rotate(63.1) scale(1.117)"/>
<circle cx="0.442" cy="0.167" r="0.559" fill="none" stroke="#3030b0" stroke-opacity="0.4" stroke-width="1.3" vector-effect="non-scaling-stroke"/>
<use href="#pBt" opacity="0.46" transform="translate(0.427 0.187) rotate(18.8) scale(1.118)"/>
<circle cx="0.427" cy="0.187" r="0.559" fill="none" stroke="#902020" stroke-opacity="0.4" stroke-width="1.3" vector-effect="non-scaling-stroke"/>
<use href="#pBt" opacity="0.47" transform="translate(0.416 0.177) rotate(334.6) scale(1.119)"/>
<circle cx="0.416" cy="0.177" r="0.56" fill="none" stroke="#50c050" stroke-opacity="0.4" stroke-width="1.3" vector-effect="non-scaling-stroke"/>
<use href="#pBt" opacity="0.48" transform="translate(0.401 0.169) rotate(290.3) scale(1.12)"/>
<circle cx="0.401" cy="0.169" r="0.56" fill="none" stroke="#80d870" stroke-opacity="0.4" stroke-width="1.3" vector-effect="non-scaling-stroke"/>
<use href="#pBt" opacity="0.49" transform="translate(0.391 0.164) rotate(246.1) scale(1.116)"/>
<circle cx="0.391" cy="0.164" r="0.558" fill="none" stroke="#80d870" stroke-opacity="0.4" stroke-width="1.3" vector-effect="non-scaling-stroke"/>
<use href="#pBt" opacity="0.49" transform="translate(0.381 0.158) rotate(201.9) scale(1.113)"/>
<circle cx="0.381" cy="0.158" r="0.557" fill="none" stroke="#50c050" stroke-opacity="0.4" stroke-width="1.3" vector-effect="non-scaling-stroke"/>
<use href="#pBt" opacity="0.50" transform="translate(0.366 0.155) rotate(157.6) scale(1.11)"/>
<circle cx="0.366" cy="0.155" r="0.555" fill="none" stroke="#3030b0" stroke-opacity="0.4" stroke-width="1.3" vector-effect="non-scaling-stroke"/>
<use href="#pBt" opacity="0.51" transform="translate(0.352 0.149) rotate(113.4) scale(1.107)"/>
<circle cx="0.352" cy="0.149" r="0.553" fill="none" stroke="#80d870" stroke-opacity="0.4" stroke-width="1.3" vector-effect="non-scaling-stroke"/>
<use href="#pA" transform="translate(0.352 0.149) rotate(113.4) scale(1.107)"/>
<use href="#pA" transform="translate(0.351 0.148) rotate(108) scale(1.106)"/>
<use href="#pA" transform="translate(0.349 0.148) rotate(102.6) scale(1.106)"/>
<use href="#pA" transform="translate(0.348 0.147) rotate(97.2) scale(1.105)"/>
<use href="#pA" transform="translate(0.346 0.146) rotate(91.8) scale(1.105)"/>
<use href="#pA" transform="translate(0.344 0.145) rotate(86.4) scale(1.105)"/>
<use href="#pA" transform="translate(0.343 0.145) rotate(81) scale(1.104)"/>
<use href="#pA" transform="translate(0.341 0.144) rotate(75.7) scale(1.104)"/>
<use href="#pA" transform="translate(0.339 0.143) rotate(70.3) scale(1.103)"/>
<use href="#pA" transform="translate(0.338 0.143) rotate(64.9) scale(1.103)"/>
<use href="#pA" transform="translate(0.336 0.142) rotate(59.5) scale(1.103)"/>
<use href="#pA" transform="translate(0.335 0.141) rotate(54.1) scale(1.102)"/>
<use href="#pA" transform="translate(0.333 0.14) rotate(48.7) scale(1.102)"/>
<use href="#pA" transform="translate(0.331 0.14) rotate(43.3) scale(1.101)"/>
<use href="#pA" transform="translate(0.33 0.139) rotate(37.9) scale(1.101)"/>
<use href="#pA" transform="translate(0.328 0.138) rotate(32.5) scale(1.101)"/>
<use href="#pA" transform="translate(0.326 0.138) rotate(27.1) scale(1.1)"/>
<use href="#pA" transform="translate(0.325 0.137) rotate(21.7) scale(1.1)"/>
<use href="#pA" transform="translate(0.323 0.136) rotate(16.3) scale(1.099)"/>
<use href="#pA" transform="translate(0.322 0.135) rotate(11) scale(1.099)"/>
<use href="#pA" transform="translate(0.32 0.135) rotate(5.6) scale(1.099)"/>
<use href="#pA" transform="translate(0.318 0.134) rotate(0.2) scale(1.098)"/>
<use href="#pA" transform="translate(0.317 0.133) rotate(354.8) scale(1.098)"/>
<use href="#pA" transform="translate(0.315 0.133) rotate(349.4) scale(1.097)"/>
<use href="#pA" transform="translate(0.313 0.132) rotate(344) scale(1.097)"/>
<use href="#pA" transform="translate(0.312 0.131) rotate(338.6) scale(1.097)"/>
<use href="#pA" transform="translate(0.31 0.13) rotate(333.2) scale(1.096)"/>
<use href="#pA" transform="translate(0.309 0.13) rotate(327.8) scale(1.096)"/>
<use href="#pA" transform="translate(0.307 0.129) rotate(322.4) scale(1.095)"/>
<use href="#pA" transform="translate(0.305 0.128) rotate(317) scale(1.095)"/>
<use href="#pA" transform="translate(0.304 0.128) rotate(311.6) scale(1.095)"/>
<use href="#pA" transform="translate(0.302 0.127) rotate(306.3) scale(1.094)"/>
<use href="#pA" transform="translate(0.3 0.126) rotate(300.9) scale(1.094)"/>
<use href="#pA" transform="translate(0.299 0.125) rotate(295.5) scale(1.093)"/>
<use href="#pA" transform="translate(0.297 0.125) rotate(290.1) scale(1.093)"/>
<use href="#pA" transform="translate(0.296 0.124) rotate(284.7) scale(1.093)"/>
<use href="#pA" transform="translate(0.294 0.123) rotate(279.3) scale(1.092)"/>
<use href="#pA" transform="translate(0.292 0.122) rotate(273.9) scale(1.092)"/>
<use href="#pA" transform="translate(0.291 0.122) rotate(268.5) scale(1.091)"/>
<use href="#pA" transform="translate(0.289 0.121) rotate(263.1) scale(1.091)"/>
<use href="#pA" transform="translate(0.287 0.12) rotate(257.7) scale(1.091)"/>
<use href="#pA" transform="translate(0.286 0.12) rotate(252.3) scale(1.09)"/>
<use href="#pA" transform="translate(0.284 0.119) rotate(246.9) scale(1.09)"/>
<use href="#pA" transform="translate(0.283 0.118) rotate(241.6) scale(1.089)"/>
<use href="#pA" transform="translate(0.281 0.117) rotate(236.2) scale(1.089)"/>
<use href="#pA" transform="translate(0.279 0.117) rotate(230.8) scale(1.089)"/>
<use href="#pA" transform="translate(0.278 0.116) rotate(225.4) scale(1.088)"/>
<use href="#pA" transform="translate(0.276 0.115) rotate(220) scale(1.088)"/>
<use href="#pA" transform="translate(0.274 0.115) rotate(214.6) scale(1.087)"/>
<use href="#pA" transform="translate(0.273 0.114) rotate(209.2) scale(1.087)"/>
<use href="#pA" transform="translate(0.271 0.113) rotate(203.8) scale(1.087)"/>
<use href="#pA" transform="translate(0.27 0.112) rotate(198.4) scale(1.086)"/>
<use href="#pA" transform="translate(0.268 0.112) rotate(193) scale(1.086)"/>
<use href="#pA" transform="translate(0.266 0.111) rotate(187.6) scale(1.085)"/>
<use href="#pA" transform="translate(0.265 0.11) rotate(182.2) scale(1.085)"/>
<use href="#pA" transform="translate(0.263 0.11) rotate(176.9) scale(1.085)"/>
<use href="#pA" transform="translate(0.262 0.109) rotate(171.5) scale(1.084)"/>
<use href="#pA" transform="translate(0.26 0.108) rotate(166.1) scale(1.084)"/>
<use href="#pA" transform="translate(0.258 0.107) rotate(160.7) scale(1.084)"/>
<use href="#pA" transform="translate(0.257 0.107) rotate(155.3) scale(1.083)"/>
<use href="#pA" transform="translate(0.255 0.106) rotate(149.9) scale(1.083)"/>
<use href="#pA" transform="translate(0.253 0.105) rotate(144.5) scale(1.082)"/>
<use href="#pA" transform="translate(0.252 0.105) rotate(139.1) scale(1.082)"/>
<use href="#pA" transform="translate(0.25 0.104) rotate(133.7) scale(1.082)"/>
<use href="#pA" transform="translate(0.249 0.103) rotate(128.3) scale(1.081)"/>
<use href="#pA" transform="translate(0.247 0.102) rotate(122.9) scale(1.081)"/>
<use href="#pA" transform="translate(0.245 0.102) rotate(117.5) scale(1.08)"/>
<use href="#pA" transform="translate(0.244 0.101) rotate(112.2) scale(1.08)"/>
<use href="#pA" transform="translate(0.242 0.1) rotate(106.8) scale(1.08)"/>
<use href="#pA" transform="translate(0.24 0.1) rotate(101.4) scale(1.079)"/>
<use href="#pA" transform="translate(0.239 0.099) rotate(96) scale(1.079)"/>
<use href="#pA" transform="translate(0.237 0.098) rotate(90.6) scale(1.078)"/>
<use href="#pA" transform="translate(0.236 0.097) rotate(85.2) scale(1.078)"/>
<use href="#pA" transform="translate(0.234 0.097) rotate(79.8) scale(1.078)"/>
<use href="#pA" transform="translate(0.232 0.096) rotate(74.4) scale(1.077)"/>
<use href="#pA" transform="translate(0.231 0.095) rotate(69) scale(1.077)"/>
<use href="#pA" transform="translate(0.229 0.095) rotate(63.6) scale(1.076)"/>
<use href="#pA" transform="translate(0.227 0.094) rotate(58.2) scale(1.076)"/>
<use href="#pA" transform="translate(0.226 0.093) rotate(52.8) scale(1.076)"/>
<use href="#pA" transform="translate(0.224 0.092) rotate(47.5) scale(1.075)"/>
<use href="#pA" transform="translate(0.223 0.092) rotate(42.1) scale(1.075)"/>
<use href="#pA" transform="translate(0.221 0.091) rotate(36.7) scale(1.074)"/>
<use href="#pA" transform="translate(0.219 0.09) rotate(31.3) scale(1.074)"/>
<use href="#pA" transform="translate(0.218 0.089) rotate(25.9) scale(1.074)"/>
<use href="#pA" transform="translate(0.216 0.089) rotate(20.5) scale(1.073)"/>
<use href="#pA" transform="translate(0.214 0.088) rotate(15.1) scale(1.073)"/>
<use href="#pA" transform="translate(0.213 0.087) rotate(9.7) scale(1.072)"/>
<use href="#pA" transform="translate(0.211 0.087) rotate(4.3) scale(1.072)"/>
<use href="#pA" transform="translate(0.21 0.086) rotate(358.9) scale(1.072)"/>
<use href="#pA" transform="translate(0.208 0.085) rotate(353.5) scale(1.071)"/>
<use href="#pA" transform="translate(0.206 0.084) rotate(348.1) scale(1.071)"/>
<use href="#pA" transform="translate(0.205 0.084) rotate(342.8) scale(1.07)"/>
<use href="#pA" transform="translate(0.203 0.083) rotate(337.4) scale(1.07)"/>
<use href="#pA" transform="translate(0.201 0.082) rotate(332) scale(1.07)"/>
<use href="#pA" transform="translate(0.2 0.082) rotate(326.6) scale(1.069)"/>
<use href="#pA" transform="translate(0.198 0.081) rotate(321.2) scale(1.069)"/>
<use href="#pA" transform="translate(0.197 0.08) rotate(315.8) scale(1.068)"/>
<use href="#pA" transform="translate(0.195 0.079) rotate(310.4) scale(1.068)"/>
<use href="#pA" transform="translate(0.193 0.079) rotate(305) scale(1.068)"/>
<use href="#pA" transform="translate(0.192 0.078) rotate(299.6) scale(1.067)"/>
<use href="#pA" transform="translate(0.19 0.077) rotate(294.2) scale(1.067)"/>
<use href="#pA" transform="translate(0.188 0.077) rotate(288.8) scale(1.066)"/>
<use href="#pA" transform="translate(0.187 0.076) rotate(283.4) scale(1.066)"/>
<use href="#pA" transform="translate(0.185 0.075) rotate(278.1) scale(1.066)"/>
<use href="#pA" transform="translate(0.184 0.074) rotate(272.7) scale(1.065)"/>
<use href="#pA" transform="translate(0.182 0.074) rotate(267.3) scale(1.065)"/>
<use href="#pA" transform="translate(0.18 0.073) rotate(261.9) scale(1.064)"/>
<use href="#pA" transform="translate(0.179 0.072) rotate(256.5) scale(1.064)"/>
<use href="#pA" transform="translate(0.177 0.072) rotate(251.1) scale(1.064)"/>
<use href="#pA" transform="translate(0.175 0.071) rotate(245.7) scale(1.063)"/>
<use href="#pA" transform="translate(0.174 0.07) rotate(240.3) scale(1.063)"/>
<use href="#pA" transform="translate(0.172 0.069) rotate(234.9) scale(1.062)"/>
<use href="#pA" transform="translate(0.171 0.069) rotate(229.5) scale(1.062)"/>
<use href="#pA" transform="translate(0.169 0.068) rotate(224.1) scale(1.062)"/>
<use href="#pA" transform="translate(0.167 0.067) rotate(218.7) scale(1.061)"/>
<use href="#pA" transform="translate(0.166 0.067) rotate(213.4) scale(1.061)"/>
<use href="#pA" transform="translate(0.164 0.066) rotate(208) scale(1.06)"/>
<use href="#pA" transform="translate(0.162 0.065) rotate(202.6) scale(1.06)"/>
<use href="#pA" transform="translate(0.161 0.064) rotate(197.2) scale(1.059)"/>
<use href="#pA" transform="translate(0.159 0.064) rotate(191.8) scale(1.059)"/>
<use href="#pA" transform="translate(0.158 0.063) rotate(186.4) scale(1.058)"/>
<use href="#pA" transform="translate(0.156 0.062) rotate(181) scale(1.058)"/>
<use href="#pA" transform="translate(0.154 0.062) rotate(175.6) scale(1.057)"/>
<use href="#pA" transform="translate(0.153 0.061) rotate(170.2) scale(1.056)"/>
<use href="#pA" transform="translate(0.151 0.061) rotate(164.8) scale(1.056)"/>
<use href="#pA" transform="translate(0.149 0.06) rotate(159.4) scale(1.055)"/>
<use href="#pA" transform="translate(0.148 0.059) rotate(154) scale(1.055)"/>
<use href="#pA" transform="translate(0.146 0.059) rotate(148.7) scale(1.054)"/>
<use href="#pA" transform="translate(0.145 0.058) rotate(143.3) scale(1.053)"/>
<use href="#pA" transform="translate(0.143 0.057) rotate(137.9) scale(1.053)"/>
<use href="#pA" transform="translate(0.141 0.057) rotate(132.5) scale(1.052)"/>
<use href="#pA" transform="translate(0.14 0.056) rotate(127.1) scale(1.052)"/>
<use href="#pA" transform="translate(0.138 0.055) rotate(121.7) scale(1.051)"/>
<use href="#pA" transform="translate(0.136 0.055) rotate(116.3) scale(1.05)"/>
<use href="#pA" transform="translate(0.135 0.054) rotate(110.9) scale(1.05)"/>
<use href="#pA" transform="translate(0.133 0.053) rotate(105.5) scale(1.049)"/>
<use href="#pA" transform="translate(0.132 0.053) rotate(100.1) scale(1.049)"/>
<use href="#pA" transform="translate(0.13 0.052) rotate(94.7) scale(1.048)"/>
<use href="#pA" transform="translate(0.128 0.051) rotate(89.3) scale(1.047)"/>
<use href="#pA" transform="translate(0.127 0.051) rotate(84) scale(1.047)"/>
<use href="#pA" transform="translate(0.125 0.05) rotate(78.6) scale(1.046)"/>
<use href="#pA" transform="translate(0.123 0.049) rotate(73.2) scale(1.046)"/>
<use href="#pA" transform="translate(0.122 0.049) rotate(67.8) scale(1.045)"/>
<use href="#pA" transform="translate(0.12 0.048) rotate(62.4) scale(1.044)"/>
<use href="#pA" transform="translate(0.119 0.048) rotate(57) scale(1.044)"/>
<use href="#pA" transform="translate(0.117 0.047) rotate(51.6) scale(1.043)"/>
<use href="#pA" transform="translate(0.115 0.046) rotate(46.2) scale(1.043)"/>
<use href="#pA" transform="translate(0.114 0.046) rotate(40.8) scale(1.042)"/>
<use href="#pA" transform="translate(0.112 0.045) rotate(35.4) scale(1.041)"/>
<use href="#pA" transform="translate(0.11 0.044) rotate(30) scale(1.041)"/>
<use href="#pA" transform="translate(0.109 0.044) rotate(24.6) scale(1.04)"/>
<use href="#pA" transform="translate(0.107 0.043) rotate(19.3) scale(1.04)"/>
<use href="#pA" transform="translate(0.106 0.042) rotate(13.9) scale(1.039)"/>
<use href="#pA" transform="translate(0.104 0.042) rotate(8.5) scale(1.038)"/>
<use href="#pA" transform="translate(0.102 0.041) rotate(3.1) scale(1.038)"/>
<use href="#pA" transform="translate(0.101 0.04) rotate(357.7) scale(1.037)"/>
<use href="#pA" transform="translate(0.099 0.04) rotate(352.3) scale(1.037)"/>
<use href="#pA" transform="translate(0.097 0.039) rotate(346.9) scale(1.036)"/>
<use href="#pA" transform="translate(0.096 0.038) rotate(341.5) scale(1.035)"/>
<use href="#pA" transform="translate(0.094 0.038) rotate(336.1) scale(1.035)"/>
<use href="#pA" transform="translate(0.093 0.037) rotate(330.7) scale(1.034)"/>
<use href="#pA" transform="translate(0.091 0.036) rotate(325.3) scale(1.034)"/>
<use href="#pA" transform="translate(0.089 0.036) rotate(319.9) scale(1.033)"/>
<use href="#pA" transform="translate(0.088 0.035) rotate(314.6) scale(1.032)"/>
<use href="#pA" transform="translate(0.086 0.035) rotate(309.2) scale(1.032)"/>
<use href="#pA" transform="translate(0.084 0.034) rotate(303.8) scale(1.031)"/>
<use href="#pA" transform="translate(0.083 0.033) rotate(298.4) scale(1.031)"/>
<use href="#pA" transform="translate(0.081 0.033) rotate(293) scale(1.03)"/>
<use href="#pA" transform="translate(0.08 0.032) rotate(287.6) scale(1.029)"/>
<use href="#pA" transform="translate(0.078 0.031) rotate(282.2) scale(1.029)"/>
<use href="#pA" transform="translate(0.076 0.031) rotate(276.8) scale(1.028)"/>
<use href="#pA" transform="translate(0.075 0.03) rotate(271.4) scale(1.028)"/>
<use href="#pA" transform="translate(0.073 0.029) rotate(266) scale(1.027)"/>
<use href="#pA" transform="translate(0.071 0.029) rotate(260.6) scale(1.026)"/>
<use href="#pA" transform="translate(0.07 0.028) rotate(255.2) scale(1.026)"/>
<use href="#pA" transform="translate(0.068 0.027) rotate(249.9) scale(1.025)"/>
<use href="#pA" transform="translate(0.067 0.027) rotate(244.5) scale(1.025)"/>
<use href="#pA" transform="translate(0.065 0.026) rotate(239.1) scale(1.024)"/>
<use href="#pA" transform="translate(0.063 0.025) rotate(233.7) scale(1.023)"/>
<use href="#pA" transform="translate(0.062 0.025) rotate(228.3) scale(1.023)"/>
<use href="#pA" transform="translate(0.06 0.024) rotate(222.9) scale(1.022)"/>
<use href="#pA" transform="translate(0.058 0.023) rotate(217.5) scale(1.022)"/>
<use href="#pA" transform="translate(0.057 0.023) rotate(212.1) scale(1.021)"/>
<use href="#pA" transform="translate(0.055 0.022) rotate(206.7) scale(1.02)"/>
<use href="#pA" transform="translate(0.054 0.021) rotate(201.3) scale(1.02)"/>
<use href="#pA" transform="translate(0.052 0.021) rotate(195.9) scale(1.019)"/>
<use href="#pA" transform="translate(0.05 0.02) rotate(190.5) scale(1.019)"/>
<use href="#pA" transform="translate(0.049 0.02) rotate(185.2) scale(1.018)"/>
<use href="#pA" transform="translate(0.047 0.019) rotate(179.8) scale(1.017)"/>
<use href="#pA" transform="translate(0.045 0.018) rotate(174.4) scale(1.017)"/>
<use href="#pA" transform="translate(0.044 0.018) rotate(169) scale(1.016)"/>
<use href="#pA" transform="translate(0.042 0.017) rotate(163.6) scale(1.016)"/>
<use href="#pA" transform="translate(0.041 0.016) rotate(158.2) scale(1.015)"/>
<use href="#pA" transform="translate(0.039 0.016) rotate(152.8) scale(1.014)"/>
<use href="#pA" transform="translate(0.037 0.015) rotate(147.4) scale(1.014)"/>
<use href="#pA" transform="translate(0.036 0.014) rotate(142) scale(1.013)"/>
<use href="#pA" transform="translate(0.034 0.014) rotate(136.6) scale(1.013)"/>
<use href="#pA" transform="translate(0.032 0.013) rotate(131.2) scale(1.012)"/>
<use href="#pA" transform="translate(0.031 0.012) rotate(125.8) scale(1.011)"/>
<use href="#pA" transform="translate(0.029 0.012) rotate(120.5) scale(1.011)"/>
<use href="#pA" transform="translate(0.028 0.011) rotate(115.1) scale(1.01)"/>
<use href="#pA" transform="translate(0.026 0.01) rotate(109.7) scale(1.01)"/>
<use href="#pA" transform="translate(0.024 0.01) rotate(104.3) scale(1.009)"/>
<use href="#pA" transform="translate(0.023 0.009) rotate(98.9) scale(1.008)"/>
<use href="#pA" transform="translate(0.021 0.008) rotate(93.5) scale(1.008)"/>
<use href="#pA" transform="translate(0.019 0.008) rotate(88.1) scale(1.007)"/>
<use href="#pA" transform="translate(0.018 0.007) rotate(82.7) scale(1.007)"/>
<use href="#pA" transform="translate(0.016 0.007) rotate(77.3) scale(1.006)"/>
<use href="#pA" transform="translate(0.015 0.006) rotate(71.9) scale(1.005)"/>
<use href="#pA" transform="translate(0.013 0.005) rotate(66.5) scale(1.005)"/>
<use href="#pA" transform="translate(0.011 0.005) rotate(61.1) scale(1.004)"/>
<use href="#pA" transform="translate(0.01 0.004) rotate(55.8) scale(1.004)"/>
<use href="#pA" transform="translate(0.008 0.003) rotate(50.4) scale(1.003)"/>
<use href="#pA" transform="translate(0.006 0.003) rotate(45) scale(1.002)"/>
<use href="#pA" transform="translate(0.005 0.002) rotate(39.6) scale(1.002)"/>
<use href="#pA" transform="translate(0.003 0.001) rotate(34.2) scale(1.001)"/>
<use href="#pA" transform="translate(0.002 0.001) rotate(28.8) scale(1.001)"/>
</g>
<g transform="matrix(116 3.5 0 -121 702.0 132.3)">
<path d="M0 0L0.459 0.199A0.5 0.5 0 0 1 -0.401 0.298Z" fill="#00008f"/>
<path d="M0 0L-0.401 0.298A0.5 0.5 0 0 1 -0.057 -0.497Z" fill="#870000"/>
<path d="M0 0L-0.057 -0.497A0.5 0.5 0 0 1 0.459 0.199Z" fill="#8cff70"/>
<path d="M0.341 0.208A0.4 0.4 0 0 1 0.317 0.244L0.293 0.225A0.37 0.37 0 0 0 0.316 0.193ZM0.29 0.276A0.4 0.4 0 0 1 0.259 0.305L0.239 0.282A0.37 0.37 0 0 0 0.268 0.255ZM0.259 0.305A0.4 0.4 0 0 1 0.225 0.331L0.208 0.306A0.37 0.37 0 0 0 0.239 0.282ZM0.225 0.331A0.4 0.4 0 0 1 0.188 0.353L0.174 0.327A0.37 0.37 0 0 0 0.208 0.306ZM-0.018 0.4A0.4 0.4 0 0 1 -0.06 0.395L-0.055 0.366A0.37 0.37 0 0 0 -0.016 0.37ZM-0.06 0.395A0.4 0.4 0 0 1 -0.102 0.387L-0.094 0.358A0.37 0.37 0 0 0 -0.055 0.366ZM-0.102 0.387A0.4 0.4 0 0 1 -0.142 0.374L-0.132 0.346A0.37 0.37 0 0 0 -0.094 0.358ZM-0.253 0.31A0.4 0.4 0 0 1 -0.284 0.281L-0.263 0.26A0.37 0.37 0 0 0 -0.234 0.287ZM-0.284 0.281A0.4 0.4 0 0 1 -0.313 0.25L-0.289 0.231A0.37 0.37 0 0 0 -0.263 0.26ZM0.278 0.328A0.43 0.43 0 0 1 0.241 0.356L0.225 0.331A0.4 0.4 0 0 0 0.259 0.305ZM-0.195 0.383A0.43 0.43 0 0 1 -0.235 0.36L-0.218 0.335A0.4 0.4 0 0 0 -0.181 0.357ZM-0.02 0.46A0.46 0.46 0 0 1 -0.069 0.455L-0.064 0.425A0.43 0.43 0 0 0 -0.019 0.43ZM-0.209 0.41A0.46 0.46 0 0 1 -0.251 0.385L-0.235 0.36A0.43 0.43 0 0 0 -0.195 0.383ZM-0.327 0.324A0.46 0.46 0 0 1 -0.359 0.287L-0.336 0.268A0.43 0.43 0 0 0 -0.306 0.303ZM0.124 0.182A0.22 0.22 0 0 1 0.104 0.194L0.09 0.168A0.19 0.19 0 0 0 0.107 0.157ZM0.014 0.22A0.22 0.22 0 0 1 -0.01 0.22L-0.009 0.19A0.19 0.19 0 0 0 0.012 0.19ZM0.182 0.172A0.25 0.25 0 0 1 0.162 0.19L0.143 0.167A0.22 0.22 0 0 0 0.16 0.151ZM0.015 0.25A0.25 0.25 0 0 1 -0.011 0.25L-0.01 0.22A0.22 0.22 0 0 0 0.014 0.22ZM-0.011 0.25A0.25 0.25 0 0 1 -0.038 0.247L-0.034 0.217A0.22 0.22 0 0 0 -0.01 0.22ZM-0.09 0.233A0.25 0.25 0 0 1 -0.114 0.222L-0.101 0.196A0.22 0.22 0 0 0 -0.079 0.205Z" fill="#3a4aa0" fill-opacity="0.8"/>
<path d="M0.317 0.244A0.4 0.4 0 0 1 0.29 0.276L0.268 0.255A0.37 0.37 0 0 0 0.293 0.225ZM0.067 0.394A0.4 0.4 0 0 1 0.025 0.399L0.023 0.369A0.37 0.37 0 0 0 0.062 0.365ZM-0.218 0.335A0.4 0.4 0 0 1 -0.253 0.31L-0.234 0.287A0.37 0.37 0 0 0 -0.202 0.31ZM-0.153 0.402A0.43 0.43 0 0 1 -0.195 0.383L-0.181 0.357A0.4 0.4 0 0 0 -0.142 0.374ZM-0.306 0.303A0.43 0.43 0 0 1 -0.336 0.268L-0.313 0.25A0.4 0.4 0 0 0 -0.284 0.281ZM0.333 0.317A0.46 0.46 0 0 1 0.297 0.351L0.278 0.328A0.43 0.43 0 0 0 0.311 0.297ZM0.125 0.443A0.46 0.46 0 0 1 0.078 0.453L0.073 0.424A0.43 0.43 0 0 0 0.117 0.414ZM-0.117 0.445A0.46 0.46 0 0 1 -0.164 0.43L-0.153 0.402A0.43 0.43 0 0 0 -0.109 0.416ZM-0.01 0.22A0.22 0.22 0 0 1 -0.034 0.217L-0.029 0.188A0.19 0.19 0 0 0 -0.009 0.19ZM0.162 0.19A0.25 0.25 0 0 1 0.141 0.207L0.124 0.182A0.22 0.22 0 0 0 0.143 0.167ZM0.118 0.22A0.25 0.25 0 0 1 0.094 0.232L0.082 0.204A0.22 0.22 0 0 0 0.104 0.194ZM0.042 0.246A0.25 0.25 0 0 1 0.015 0.25L0.014 0.22A0.22 0.22 0 0 0 0.037 0.217ZM-0.064 0.242A0.25 0.25 0 0 1 -0.09 0.233L-0.079 0.205A0.22 0.22 0 0 0 -0.057 0.213Z" fill="#80b0a8" fill-opacity="0.8"/>
<path d="M0.188 0.353A0.4 0.4 0 0 1 0.149 0.371L0.138 0.343A0.37 0.37 0 0 0 0.174 0.327ZM0.109 0.385A0.4 0.4 0 0 1 0.067 0.394L0.062 0.365A0.37 0.37 0 0 0 0.101 0.356ZM-0.142 0.374A0.4 0.4 0 0 1 -0.181 0.357L-0.168 0.33A0.37 0.37 0 0 0 -0.132 0.346ZM0.341 0.262A0.43 0.43 0 0 1 0.311 0.297L0.29 0.276A0.4 0.4 0 0 0 0.317 0.244ZM0.117 0.414A0.43 0.43 0 0 1 0.073 0.424L0.067 0.394A0.4 0.4 0 0 0 0.109 0.385ZM0.073 0.424A0.43 0.43 0 0 1 0.027 0.429L0.025 0.399A0.4 0.4 0 0 0 0.067 0.394ZM-0.019 0.43A0.43 0.43 0 0 1 -0.064 0.425L-0.06 0.395A0.4 0.4 0 0 0 -0.018 0.4ZM-0.064 0.425A0.43 0.43 0 0 1 -0.109 0.416L-0.102 0.387A0.4 0.4 0 0 0 -0.06 0.395ZM-0.109 0.416A0.43 0.43 0 0 1 -0.153 0.402L-0.142 0.374A0.4 0.4 0 0 0 -0.102 0.387ZM0.393 0.24A0.46 0.46 0 0 1 0.365 0.28L0.341 0.262A0.43 0.43 0 0 0 0.367 0.224ZM0.365 0.28A0.46 0.46 0 0 1 0.333 0.317L0.311 0.297A0.43 0.43 0 0 0 0.341 0.262ZM0.078 0.453A0.46 0.46 0 0 1 0.029 0.459L0.027 0.429A0.43 0.43 0 0 0 0.073 0.424ZM-0.069 0.455A0.46 0.46 0 0 1 -0.117 0.445L-0.109 0.416A0.43 0.43 0 0 0 -0.064 0.425ZM0.143 0.167A0.22 0.22 0 0 1 0.124 0.182L0.107 0.157A0.19 0.19 0 0 0 0.123 0.145ZM0.104 0.194A0.22 0.22 0 0 1 0.082 0.204L0.071 0.176A0.19 0.19 0 0 0 0.09 0.168ZM0.094 0.232A0.25 0.25 0 0 1 0.068 0.241L0.06 0.212A0.22 0.22 0 0 0 0.082 0.204ZM-0.038 0.247A0.25 0.25 0 0 1 -0.064 0.242L-0.057 0.213A0.22 0.22 0 0 0 -0.034 0.217Z" fill="#5a80b0" fill-opacity="0.85"/>
<path d="M0.149 0.371A0.4 0.4 0 0 1 0.109 0.385L0.101 0.356A0.37 0.37 0 0 0 0.138 0.343ZM-0.181 0.357A0.4 0.4 0 0 1 -0.218 0.335L-0.202 0.31A0.37 0.37 0 0 0 -0.168 0.33ZM0.161 0.399A0.43 0.43 0 0 1 0.117 0.414L0.109 0.385A0.4 0.4 0 0 0 0.149 0.371ZM0.297 0.351A0.46 0.46 0 0 1 0.258 0.381L0.241 0.356A0.43 0.43 0 0 0 0.278 0.328ZM0.258 0.381A0.46 0.46 0 0 1 0.216 0.406L0.202 0.38A0.43 0.43 0 0 0 0.241 0.356ZM0.216 0.406A0.46 0.46 0 0 1 0.172 0.427L0.161 0.399A0.43 0.43 0 0 0 0.202 0.38ZM0.029 0.459A0.46 0.46 0 0 1 -0.02 0.46L-0.019 0.43A0.43 0.43 0 0 0 0.027 0.429ZM-0.251 0.385A0.46 0.46 0 0 1 -0.291 0.357L-0.272 0.333A0.43 0.43 0 0 0 -0.235 0.36ZM0.06 0.212A0.22 0.22 0 0 1 0.037 0.217L0.032 0.187A0.19 0.19 0 0 0 0.052 0.183ZM-0.034 0.217A0.22 0.22 0 0 1 -0.057 0.213L-0.049 0.184A0.19 0.19 0 0 0 -0.029 0.188ZM-0.057 0.213A0.22 0.22 0 0 1 -0.079 0.205L-0.068 0.177A0.19 0.19 0 0 0 -0.049 0.184ZM-0.079 0.205A0.22 0.22 0 0 1 -0.101 0.196L-0.087 0.169A0.19 0.19 0 0 0 -0.068 0.177ZM-0.101 0.196A0.22 0.22 0 0 1 -0.121 0.184L-0.105 0.159A0.19 0.19 0 0 0 -0.087 0.169Z" fill="#6a98b0" fill-opacity="0.85"/>
<path d="M0.367 0.224A0.43 0.43 0 0 1 0.341 0.262L0.317 0.244A0.4 0.4 0 0 0 0.341 0.208ZM0.311 0.297A0.43 0.43 0 0 1 0.278 0.328L0.259 0.305A0.4 0.4 0 0 0 0.29 0.276ZM0.202 0.38A0.43 0.43 0 0 1 0.161 0.399L0.149 0.371A0.4 0.4 0 0 0 0.188 0.353ZM0.027 0.429A0.43 0.43 0 0 1 -0.019 0.43L-0.018 0.4A0.4 0.4 0 0 0 0.025 0.399ZM-0.235 0.36A0.43 0.43 0 0 1 -0.272 0.333L-0.253 0.31A0.4 0.4 0 0 0 -0.218 0.335ZM-0.272 0.333A0.43 0.43 0 0 1 -0.306 0.303L-0.284 0.281A0.4 0.4 0 0 0 -0.253 0.31ZM-0.291 0.357A0.46 0.46 0 0 1 -0.327 0.324L-0.306 0.303A0.43 0.43 0 0 0 -0.272 0.333ZM0.16 0.151A0.22 0.22 0 0 1 0.143 0.167L0.123 0.145A0.19 0.19 0 0 0 0.138 0.131ZM0.082 0.204A0.22 0.22 0 0 1 0.06 0.212L0.052 0.183A0.19 0.19 0 0 0 0.071 0.176ZM0.068 0.241A0.25 0.25 0 0 1 0.042 0.246L0.037 0.217A0.22 0.22 0 0 0 0.06 0.212ZM-0.114 0.222A0.25 0.25 0 0 1 -0.138 0.209L-0.121 0.184A0.22 0.22 0 0 0 -0.101 0.196Z" fill="#4a68a8" fill-opacity="0.85"/>
<path d="M-0.362 0.223A0.425 0.425 0 0 1 -0.383 0.184L-0.361 0.173A0.4 0.4 0 0 0 -0.341 0.21ZM-0.413 0.101A0.425 0.425 0 0 1 -0.421 0.058L-0.396 0.054A0.4 0.4 0 0 0 -0.389 0.095ZM-0.419 -0.074A0.425 0.425 0 0 1 -0.409 -0.117L-0.385 -0.11A0.4 0.4 0 0 0 -0.394 -0.07ZM-0.327 -0.272A0.425 0.425 0 0 1 -0.297 -0.304L-0.279 -0.286A0.4 0.4 0 0 0 -0.308 -0.256ZM-0.297 -0.304A0.425 0.425 0 0 1 -0.264 -0.333L-0.248 -0.314A0.4 0.4 0 0 0 -0.279 -0.286ZM-0.383 0.236A0.45 0.45 0 0 1 -0.406 0.195L-0.383 0.184A0.425 0.425 0 0 0 -0.362 0.223ZM-0.424 0.152A0.45 0.45 0 0 1 -0.437 0.107L-0.413 0.101A0.425 0.425 0 0 0 -0.4 0.143ZM-0.446 0.061A0.45 0.45 0 0 1 -0.45 0.015L-0.425 0.014A0.425 0.425 0 0 0 -0.421 0.058ZM-0.374 -0.25A0.45 0.45 0 0 1 -0.346 -0.288L-0.327 -0.272A0.425 0.425 0 0 0 -0.353 -0.236ZM-0.314 -0.322A0.45 0.45 0 0 1 -0.279 -0.353L-0.264 -0.333A0.425 0.425 0 0 0 -0.297 -0.304ZM-0.158 -0.421A0.45 0.45 0 0 1 -0.113 -0.435L-0.107 -0.411A0.425 0.425 0 0 0 -0.149 -0.398ZM-0.232 0.116A0.26 0.26 0 0 1 -0.243 0.092L-0.206 0.078A0.22 0.22 0 0 0 -0.197 0.099ZM-0.243 0.092A0.26 0.26 0 0 1 -0.251 0.067L-0.213 0.056A0.22 0.22 0 0 0 -0.206 0.078ZM-0.22 -0.139A0.26 0.26 0 0 1 -0.205 -0.16L-0.173 -0.136A0.22 0.22 0 0 0 -0.186 -0.117ZM-0.146 -0.215A0.26 0.26 0 0 1 -0.124 -0.229L-0.105 -0.194A0.22 0.22 0 0 0 -0.124 -0.182ZM-0.124 -0.229A0.26 0.26 0 0 1 -0.099 -0.24L-0.084 -0.203A0.22 0.22 0 0 0 -0.105 -0.194ZM-0.099 -0.24A0.26 0.26 0 0 1 -0.074 -0.249L-0.063 -0.211A0.22 0.22 0 0 0 -0.084 -0.203Z" fill="#7a4a8a" fill-opacity="0.6"/>
<path d="M-0.4 0.143A0.425 0.425 0 0 1 -0.413 0.101L-0.389 0.095A0.4 0.4 0 0 0 -0.377 0.135ZM-0.421 0.058A0.425 0.425 0 0 1 -0.425 0.014L-0.4 0.013A0.4 0.4 0 0 0 -0.396 0.054ZM-0.264 -0.333A0.425 0.425 0 0 1 -0.228 -0.359L-0.215 -0.338A0.4 0.4 0 0 0 -0.248 -0.314ZM-0.257 -0.039A0.26 0.26 0 0 1 -0.252 -0.065L-0.213 -0.055A0.22 0.22 0 0 0 -0.217 -0.033ZM-0.168 -0.199A0.26 0.26 0 0 1 -0.146 -0.215L-0.124 -0.182A0.22 0.22 0 0 0 -0.142 -0.168Z" fill="#6a5a9a" fill-opacity="0.5"/>
<path d="M-0.425 0.014A0.425 0.425 0 0 1 -0.424 -0.03L-0.399 -0.028A0.4 0.4 0 0 0 -0.4 0.013ZM-0.149 -0.398A0.425 0.425 0 0 1 -0.107 -0.411L-0.101 -0.387A0.4 0.4 0 0 0 -0.14 -0.375ZM-0.437 0.107A0.45 0.45 0 0 1 -0.446 0.061L-0.421 0.058A0.425 0.425 0 0 0 -0.413 0.101ZM-0.398 -0.21A0.45 0.45 0 0 1 -0.374 -0.25L-0.353 -0.236A0.425 0.425 0 0 0 -0.376 -0.199ZM-0.241 -0.38A0.45 0.45 0 0 1 -0.201 -0.403L-0.19 -0.38A0.425 0.425 0 0 0 -0.228 -0.359ZM-0.26 -0.013A0.26 0.26 0 0 1 -0.257 -0.039L-0.217 -0.033A0.22 0.22 0 0 0 -0.22 -0.011ZM-0.252 -0.065A0.26 0.26 0 0 1 -0.244 -0.091L-0.206 -0.077A0.22 0.22 0 0 0 -0.213 -0.055ZM-0.244 -0.091A0.26 0.26 0 0 1 -0.233 -0.115L-0.197 -0.098A0.22 0.22 0 0 0 -0.206 -0.077ZM-0.233 -0.115A0.26 0.26 0 0 1 -0.22 -0.139L-0.186 -0.117A0.22 0.22 0 0 0 -0.197 -0.098ZM-0.205 -0.16A0.26 0.26 0 0 1 -0.187 -0.181L-0.158 -0.153A0.22 0.22 0 0 0 -0.173 -0.136ZM-0.187 -0.181A0.26 0.26 0 0 1 -0.168 -0.199L-0.142 -0.168A0.22 0.22 0 0 0 -0.158 -0.153Z" fill="#904060" fill-opacity="0.5"/>
<path d="M-0.007 -0.245A0.245 0.245 0 0 1 0.019 -0.244L0.017 -0.219A0.22 0.22 0 0 0 -0.006 -0.22ZM0.019 -0.244A0.245 0.245 0 0 1 0.045 -0.241L0.041 -0.216A0.22 0.22 0 0 0 0.017 -0.219ZM0.223 -0.101A0.245 0.245 0 0 1 0.233 -0.077L0.209 -0.069A0.22 0.22 0 0 0 0.2 -0.091ZM0.24 -0.052A0.245 0.245 0 0 1 0.244 -0.026L0.219 -0.023A0.22 0.22 0 0 0 0.215 -0.046ZM0.239 0.052A0.245 0.245 0 0 1 0.232 0.077L0.209 0.069A0.22 0.22 0 0 0 0.215 0.047ZM0.131 -0.236A0.27 0.27 0 0 1 0.155 -0.221L0.141 -0.201A0.245 0.245 0 0 0 0.119 -0.214ZM0.217 -0.161A0.27 0.27 0 0 1 0.233 -0.137L0.211 -0.124A0.245 0.245 0 0 0 0.197 -0.146ZM0.268 -0.028A0.27 0.27 0 0 1 0.27 0L0.245 0A0.245 0.245 0 0 0 0.244 -0.026ZM-0.005 -0.47A0.47 0.47 0 0 1 0.044 -0.468L0.04 -0.426A0.428 0.428 0 0 0 -0.004 -0.428Z" fill="#a05020" fill-opacity="0.7"/>
<path d="M0.045 -0.241A0.245 0.245 0 0 1 0.071 -0.235L0.063 -0.211A0.22 0.22 0 0 0 0.041 -0.216ZM0.119 -0.214A0.245 0.245 0 0 1 0.141 -0.201L0.126 -0.18A0.22 0.22 0 0 0 0.107 -0.192ZM0.197 -0.146A0.245 0.245 0 0 1 0.211 -0.124L0.19 -0.112A0.22 0.22 0 0 0 0.177 -0.131ZM0.211 -0.124A0.245 0.245 0 0 1 0.223 -0.101L0.2 -0.091A0.22 0.22 0 0 0 0.19 -0.112ZM0.244 -0.026A0.245 0.245 0 0 1 0.245 0L0.22 0A0.22 0.22 0 0 0 0.219 -0.023ZM0.021 -0.269A0.27 0.27 0 0 1 0.05 -0.265L0.045 -0.241A0.245 0.245 0 0 0 0.019 -0.244ZM0.178 -0.203A0.27 0.27 0 0 1 0.198 -0.183L0.18 -0.166A0.245 0.245 0 0 0 0.161 -0.184ZM0.198 -0.183A0.27 0.27 0 0 1 0.217 -0.161L0.197 -0.146A0.245 0.245 0 0 0 0.18 -0.166ZM0.233 -0.137A0.27 0.27 0 0 1 0.246 -0.111L0.223 -0.101A0.245 0.245 0 0 0 0.211 -0.124ZM0.256 -0.085A0.27 0.27 0 0 1 0.264 -0.057L0.24 -0.052A0.245 0.245 0 0 0 0.233 -0.077ZM0.268 0.029A0.27 0.27 0 0 1 0.264 0.057L0.239 0.052A0.245 0.245 0 0 0 0.244 0.026ZM-0.002 -0.176A0.176 0.176 0 0 1 0.017 -0.175L0.013 -0.133A0.134 0.134 0 0 0 -0.001 -0.134ZM-0.03 -0.258A0.26 0.26 0 0 1 -0.003 -0.26L-0.002 -0.218A0.218 0.218 0 0 0 -0.025 -0.217ZM-0.003 -0.26A0.26 0.26 0 0 1 0.024 -0.259L0.021 -0.217A0.218 0.218 0 0 0 -0.002 -0.218ZM-0.004 -0.386A0.386 0.386 0 0 1 0.036 -0.384L0.032 -0.342A0.344 0.344 0 0 0 -0.004 -0.344ZM-0.054 -0.467A0.47 0.47 0 0 1 -0.005 -0.47L-0.004 -0.428A0.428 0.428 0 0 0 -0.049 -0.425Z" fill="#903010" fill-opacity="0.8"/>
<path d="M0.071 -0.235A0.245 0.245 0 0 1 0.095 -0.226L0.085 -0.203A0.22 0.22 0 0 0 0.063 -0.211ZM0.095 -0.226A0.245 0.245 0 0 1 0.119 -0.214L0.107 -0.192A0.22 0.22 0 0 0 0.085 -0.203ZM0.161 -0.184A0.245 0.245 0 0 1 0.18 -0.166L0.162 -0.149A0.22 0.22 0 0 0 0.145 -0.166ZM0.244 0.026A0.245 0.245 0 0 1 0.239 0.052L0.215 0.047A0.22 0.22 0 0 0 0.219 0.024ZM-0.008 -0.27A0.27 0.27 0 0 1 0.021 -0.269L0.019 -0.244A0.245 0.245 0 0 0 -0.007 -0.245ZM0.078 -0.259A0.27 0.27 0 0 1 0.105 -0.249L0.095 -0.226A0.245 0.245 0 0 0 0.071 -0.235ZM0.105 -0.249A0.27 0.27 0 0 1 0.131 -0.236L0.119 -0.214A0.245 0.245 0 0 0 0.095 -0.226ZM0.155 -0.221A0.27 0.27 0 0 1 0.178 -0.203L0.161 -0.184A0.245 0.245 0 0 0 0.141 -0.201ZM0.246 -0.111A0.27 0.27 0 0 1 0.256 -0.085L0.233 -0.077A0.245 0.245 0 0 0 0.223 -0.101ZM0.264 -0.057A0.27 0.27 0 0 1 0.268 -0.028L0.244 -0.026A0.245 0.245 0 0 0 0.24 -0.052ZM-0.004 -0.344A0.344 0.344 0 0 1 0.032 -0.342L0.028 -0.301A0.302 0.302 0 0 0 -0.003 -0.302ZM-0.004 -0.428A0.428 0.428 0 0 1 0.04 -0.426L0.036 -0.384A0.386 0.386 0 0 0 -0.004 -0.386Z" fill="#804020" fill-opacity="0.7"/>
<path d="M0.01 -0.407A0.407 0.407 0 0 1 0.052 -0.403L0.049 -0.377A0.38 0.38 0 0 0 0.009 -0.38ZM0.212 -0.347A0.407 0.407 0 0 1 0.247 -0.323L0.231 -0.302A0.38 0.38 0 0 0 0.198 -0.324ZM0.279 -0.295A0.407 0.407 0 0 1 0.309 -0.265L0.289 -0.247A0.38 0.38 0 0 0 0.261 -0.276ZM0.335 -0.231A0.407 0.407 0 0 1 0.357 -0.195L0.334 -0.182A0.38 0.38 0 0 0 0.313 -0.216ZM0.375 -0.156A0.407 0.407 0 0 1 0.39 -0.116L0.364 -0.109A0.38 0.38 0 0 0 0.351 -0.146ZM0.4 -0.075A0.407 0.407 0 0 1 0.405 -0.033L0.379 -0.03A0.38 0.38 0 0 0 0.374 -0.07ZM0.405 -0.033A0.407 0.407 0 0 1 0.407 0.01L0.38 0.009A0.38 0.38 0 0 0 0.379 -0.03ZM0.011 -0.433A0.433 0.433 0 0 1 0.056 -0.43L0.052 -0.403A0.407 0.407 0 0 0 0.01 -0.407ZM0.1 -0.422A0.433 0.433 0 0 1 0.144 -0.409L0.135 -0.384A0.407 0.407 0 0 0 0.094 -0.396ZM0.357 -0.246A0.433 0.433 0 0 1 0.38 -0.207L0.357 -0.195A0.407 0.407 0 0 0 0.335 -0.231ZM0.153 -0.434A0.46 0.46 0 0 1 0.197 -0.416L0.186 -0.391A0.433 0.433 0 0 0 0.144 -0.409ZM0.24 -0.393A0.46 0.46 0 0 1 0.279 -0.365L0.263 -0.344A0.433 0.433 0 0 0 0.226 -0.37ZM0.349 -0.299A0.46 0.46 0 0 1 0.379 -0.261L0.357 -0.246A0.433 0.433 0 0 0 0.329 -0.282ZM0.404 -0.22A0.46 0.46 0 0 1 0.425 -0.177L0.4 -0.167A0.433 0.433 0 0 0 0.38 -0.207ZM0.425 -0.177A0.46 0.46 0 0 1 0.441 -0.131L0.415 -0.124A0.433 0.433 0 0 0 0.4 -0.167ZM0.452 -0.085A0.46 0.46 0 0 1 0.459 -0.037L0.432 -0.035A0.433 0.433 0 0 0 0.426 -0.08ZM0.459 -0.037A0.46 0.46 0 0 1 0.46 0.011L0.433 0.011A0.433 0.433 0 0 0 0.432 -0.035ZM0.46 0.011A0.46 0.46 0 0 1 0.456 0.059L0.43 0.056A0.433 0.433 0 0 0 0.433 0.011Z" fill="#90b080" fill-opacity="0.5"/>
<path d="M0.052 -0.403A0.407 0.407 0 0 1 0.094 -0.396L0.088 -0.37A0.38 0.38 0 0 0 0.049 -0.377ZM0.135 -0.384A0.407 0.407 0 0 1 0.174 -0.367L0.163 -0.343A0.38 0.38 0 0 0 0.126 -0.358ZM0.357 -0.195A0.407 0.407 0 0 1 0.375 -0.156L0.351 -0.146A0.38 0.38 0 0 0 0.334 -0.182ZM0.329 -0.282A0.433 0.433 0 0 1 0.357 -0.246L0.335 -0.231A0.407 0.407 0 0 0 0.309 -0.265ZM0.415 -0.124A0.433 0.433 0 0 1 0.426 -0.08L0.4 -0.075A0.407 0.407 0 0 0 0.39 -0.116ZM0.426 -0.08A0.433 0.433 0 0 1 0.432 -0.035L0.405 -0.033A0.407 0.407 0 0 0 0.4 -0.075ZM0.011 -0.46A0.46 0.46 0 0 1 0.059 -0.456L0.056 -0.43A0.433 0.433 0 0 0 0.011 -0.433ZM-0.001 -0.092A0.092 0.092 0 0 1 0.009 -0.092L0.005 -0.05A0.05 0.05 0 0 0 -0.001 -0.05ZM-0.001 -0.134A0.134 0.134 0 0 1 0.013 -0.133L0.009 -0.092A0.092 0.092 0 0 0 -0.001 -0.092ZM-0.002 -0.218A0.218 0.218 0 0 1 0.021 -0.217L0.017 -0.175A0.176 0.176 0 0 0 -0.002 -0.176ZM-0.049 -0.425A0.428 0.428 0 0 1 -0.004 -0.428L-0.004 -0.386A0.386 0.386 0 0 0 -0.044 -0.383Z" fill="#b0a060" fill-opacity="0.5"/>
<path d="M0.094 -0.396A0.407 0.407 0 0 1 0.135 -0.384L0.126 -0.358A0.38 0.38 0 0 0 0.088 -0.37ZM0.247 -0.323A0.407 0.407 0 0 1 0.279 -0.295L0.261 -0.276A0.38 0.38 0 0 0 0.231 -0.302ZM0.186 -0.391A0.433 0.433 0 0 1 0.226 -0.37L0.212 -0.347A0.407 0.407 0 0 0 0.174 -0.367ZM0.4 -0.167A0.433 0.433 0 0 1 0.415 -0.124L0.39 -0.116A0.407 0.407 0 0 0 0.375 -0.156ZM0.432 -0.035A0.433 0.433 0 0 1 0.433 0.011L0.407 0.01A0.407 0.407 0 0 0 0.405 -0.033ZM0.433 0.011A0.433 0.433 0 0 1 0.43 0.056L0.403 0.052A0.407 0.407 0 0 0 0.407 0.01ZM0.43 0.056A0.433 0.433 0 0 1 0.422 0.1L0.396 0.094A0.407 0.407 0 0 0 0.403 0.052ZM0.379 -0.261A0.46 0.46 0 0 1 0.404 -0.22L0.38 -0.207A0.433 0.433 0 0 0 0.357 -0.246ZM0.441 -0.131A0.46 0.46 0 0 1 0.452 -0.085L0.426 -0.08A0.433 0.433 0 0 0 0.415 -0.124ZM0.456 0.059A0.46 0.46 0 0 1 0.447 0.107L0.422 0.1A0.433 0.433 0 0 0 0.43 0.056ZM-0.015 -0.133A0.134 0.134 0 0 1 -0.001 -0.134L-0.001 -0.092A0.092 0.092 0 0 0 -0.011 -0.091ZM-0.02 -0.175A0.176 0.176 0 0 1 -0.002 -0.176L-0.001 -0.134A0.134 0.134 0 0 0 -0.015 -0.133ZM-0.025 -0.217A0.218 0.218 0 0 1 -0.002 -0.218L-0.002 -0.176A0.176 0.176 0 0 0 -0.02 -0.175ZM-0.003 -0.302A0.302 0.302 0 0 1 0.028 -0.301L0.024 -0.259A0.26 0.26 0 0 0 -0.003 -0.26ZM-0.04 -0.342A0.344 0.344 0 0 1 -0.004 -0.344L-0.003 -0.302A0.302 0.302 0 0 0 -0.035 -0.3ZM-0.044 -0.383A0.386 0.386 0 0 1 -0.004 -0.386L-0.004 -0.344A0.344 0.344 0 0 0 -0.04 -0.342Z" fill="#a0b070" fill-opacity="0.6"/>
<circle cx="0.03" cy="0" r="0.05" fill="#7a6a78" fill-opacity="0.85"/>
</g>
<path d="M702.9 134.5L755.8 111.3L754.6 108.5L701.1 130.1Z" fill="#e6e6e6" stroke="#000" stroke-width="1"/>
<path d="M703.5 130.4L656.4 93.7L654.5 96L700.5 134.2Z" fill="#e6e6e6" stroke="#000" stroke-width="1"/>
<path d="M699.6 132L693.8 192L696.8 192.4L704.4 132.6Z" fill="#e6e6e6" stroke="#000" stroke-width="1"/>
<g transform="matrix(116 3.5 0 -121 188.3 473.6)">
<use href="#pCt" opacity="0.10" transform="translate(1.196 0.55) rotate(23.4) scale(0.95)"/>
<path d="M0.522 0.019L0.443 0.12L0.441 0.218L0.333 0.303L0.289 0.409L0.109 0.443L0.038 0.496L-0.029 0.469L-0.212 0.458L-0.228 0.407L-0.373 0.318L-0.4 0.208L-0.469 0.115L-0.452 0.011L-0.518 -0.067L-0.413 -0.142L-0.397 -0.312L-0.308 -0.309L-0.192 -0.476L-0.108 -0.416L0.018 -0.495L0.11 -0.431L0.24 -0.434L0.254 -0.362L0.41 -0.3L0.436 -0.181L0.483 -0.057Z" transform="translate(1.196 0.55)" fill="none" stroke="#00e000" stroke-opacity="1.00" stroke-width="1.3" vector-effect="non-scaling-stroke"/>
<use href="#pCt" opacity="0.11" transform="translate(1.102 0.534) rotate(321.7) scale(0.952)"/>
<path d="M0.493 0.011L0.415 0.114L0.419 0.305L0.294 0.341L0.301 0.385L0.164 0.422L0.058 0.507L-0.049 0.471L-0.178 0.464L-0.24 0.401L-0.361 0.375L-0.388 0.182L-0.472 0.117L-0.458 0.039L-0.501 -0.091L-0.424 -0.142L-0.425 -0.28L-0.262 -0.381L-0.227 -0.432L-0.08 -0.44L-0.021 -0.479L0.117 -0.43L0.189 -0.448L0.3 -0.328L0.422 -0.262L0.424 -0.186L0.493 -0.085Z" transform="translate(1.102 0.534)" fill="none" stroke="#0000ff" stroke-opacity="0.98" stroke-width="1.3" vector-effect="non-scaling-stroke"/>
<use href="#pCt" opacity="0.12" transform="translate(1.211 0.472) rotate(260.1) scale(0.955)"/>
<path d="M0.479 0.09L0.433 0.175L0.417 0.307L0.285 0.337L0.158 0.493L0.024 0.462L-0.077 0.489L-0.133 0.454L-0.251 0.403L-0.376 0.233L-0.483 0.151L-0.467 0.038L-0.479 -0.077L-0.415 -0.208L-0.438 -0.282L-0.314 -0.338L-0.145 -0.459L-0.083 -0.457L0.057 -0.489L0.158 -0.411L0.31 -0.397L0.391 -0.26L0.477 -0.159L0.466 -0.059Z" transform="translate(1.211 0.472)" fill="none" stroke="#0000ff" stroke-opacity="0.97" stroke-width="1.3" vector-effect="non-scaling-stroke"/>
<use href="#pCt" opacity="0.13" transform="translate(1.072 0.46) rotate(198.4) scale(0.957)"/>
<path d="M0.506 0.042L0.424 0.119L0.438 0.236L0.338 0.326L0.192 0.466L0.116 0.439L0.014 0.475L-0.124 0.429L-0.25 0.441L-0.297 0.335L-0.456 0.234L-0.45 0.073L-0.5 -0.039L-0.422 -0.15L-0.445 -0.235L-0.305 -0.349L-0.257 -0.41L-0.143 -0.446L0.061 -0.506L0.113 -0.454L0.22 -0.455L0.32 -0.335L0.434 -0.214L0.432 -0.111Z" transform="translate(1.072 0.46)" fill="none" stroke="#ff0000" stroke-opacity="0.95" stroke-width="1.3" vector-effect="non-scaling-stroke"/>
<use href="#pCt" opacity="0.14" transform="translate(1.077 0.425) rotate(136.7) scale(0.959)"/>
<path d="M0.49 -0.004L0.446 0.117L0.456 0.226L0.322 0.328L0.267 0.447L0.126 0.467L0.063 0.499L-0.082 0.434L-0.175 0.483L-0.272 0.347L-0.379 0.335L-0.407 0.243L-0.492 0.089L-0.464 0.006L-0.462 -0.16L-0.416 -0.198L-0.36 -0.324L-0.289 -0.364L-0.188 -0.468L-0.004 -0.449L0.107 -0.481L0.225 -0.411L0.323 -0.404L0.326 -0.322L0.473 -0.209L0.451 -0.136Z" transform="translate(1.077 0.425)" fill="none" stroke="#0000ff" stroke-opacity="0.93" stroke-width="1.3" vector-effect="non-scaling-stroke"/>
<use href="#pCt" opacity="0.16" transform="translate(1.041 0.486) rotate(75.1) scale(0.961)"/>
<path d="M0.482 0.066L0.44 0.193L0.395 0.313L0.312 0.343L0.201 0.454L0.096 0.454L0.002 0.503L-0.098 0.451L-0.196 0.457L-0.243 0.397L-0.397 0.336L-0.444 0.176L-0.478 0.097L-0.469 0.023L-0.485 -0.166L-0.419 -0.236L-0.387 -0.343L-0.262 -0.396L-0.154 -0.481L-0.051 -0.442L-0.015 -0.482L0.105 -0.456L0.259 -0.434L0.311 -0.353L0.423 -0.287L0.438 -0.134L0.489 -0.051Z" transform="translate(1.041 0.486)" fill="none" stroke="#0000ff" stroke-opacity="0.91" stroke-width="1.3" vector-effect="non-scaling-stroke"/>
<use href="#pCt" opacity="0.17" transform="translate(1.12 0.434) rotate(13.4) scale(0.964)"/>
<path d="M0.492 0.05L0.445 0.091L0.428 0.212L0.38 0.271L0.333 0.362L0.196 0.395L0.117 0.468L-0.037 0.449L-0.101 0.491L-0.173 0.416L-0.322 0.394L-0.336 0.294L-0.436 0.264L-0.434 0.113L-0.513 0.014L-0.453 -0.026L-0.455 -0.144L-0.362 -0.256L-0.321 -0.401L-0.197 -0.389L-0.189 -0.485L-0.094 -0.469L0.012 -0.494L0.152 -0.415L0.284 -0.434L0.309 -0.326L0.413 -0.296L0.419 -0.173L0.508 -0.066Z" transform="translate(1.12 0.434)" fill="none" stroke="#ff0000" stroke-opacity="0.90" stroke-width="1.3" vector-effect="non-scaling-stroke"/>
<use href="#pCt" opacity="0.18" transform="translate(1.014 0.572) rotate(311.7) scale(0.966)"/>
<path d="M0.518 -0.032L0.46 0.076L0.464 0.227L0.357 0.265L0.291 0.424L0.111 0.446L0.024 0.503L-0.043 0.474L-0.16 0.499L-0.318 0.37L-0.34 0.35L-0.427 0.179L-0.509 0.073L-0.467 -0.034L-0.506 -0.078L-0.409 -0.263L-0.382 -0.31L-0.222 -0.386L-0.179 -0.481L-0.062 -0.467L0.044 -0.506L0.153 -0.424L0.27 -0.42L0.337 -0.335L0.464 -0.214L0.43 -0.145Z" transform="translate(1.014 0.572)" fill="none" stroke="#0000ff" stroke-opacity="0.88" stroke-width="1.3" vector-effect="non-scaling-stroke"/>
<use href="#pCt" opacity="0.19" transform="translate(1.141 0.475) rotate(250.1) scale(0.968)"/>
<path d="M0.492 0.022L0.428 0.165L0.404 0.305L0.296 0.344L0.274 0.421L0.075 0.449L-0.008 0.513L-0.061 0.436L-0.199 0.445L-0.311 0.338L-0.416 0.267L-0.414 0.168L-0.507 0.04L-0.473 -0.056L-0.475 -0.194L-0.342 -0.299L-0.265 -0.45L-0.193 -0.406L-0.116 -0.483L0.093 -0.467L0.185 -0.465L0.254 -0.418L0.361 -0.378L0.401 -0.207L0.486 -0.088Z" transform="translate(1.141 0.475)" fill="none" stroke="#0000ff" stroke-opacity="0.86" stroke-width="1.3" vector-effect="non-scaling-stroke"/>
<use href="#pCt" opacity="0.20" transform="translate(1.003 0.422) rotate(188.4) scale(0.971)"/>
<path d="M0.496 0.149L0.429 0.207L0.384 0.324L0.328 0.367L0.226 0.458L0.021 0.474L-0.04 0.501L-0.117 0.442L-0.278 0.426L-0.345 0.326L-0.467 0.213L-0.437 0.132L-0.507 0.059L-0.455 -0.06L-0.451 -0.197L-0.343 -0.294L-0.329 -0.369L-0.175 -0.421L-0.09 -0.484L0.008 -0.471L0.139 -0.468L0.219 -0.422L0.387 -0.311L0.411 -0.247L0.467 -0.138L0.47 -0.058Z" transform="translate(1.003 0.422)" fill="none" stroke="#00e000" stroke-opacity="0.85" stroke-width="1.3" vector-effect="non-scaling-stroke"/>
<use href="#pCt" opacity="0.21" transform="translate(1.024 0.482) rotate(126.7) scale(0.973)"/>
<path d="M0.498 -0.013L0.444 0.11L0.434 0.29L0.281 0.345L0.237 0.437L0.103 0.448L-0.056 0.485L-0.23 0.43L-0.281 0.437L-0.375 0.262L-0.466 0.149L-0.445 0.009L-0.481 -0.141L-0.457 -0.167L-0.383 -0.3L-0.301 -0.38L-0.206 -0.473L0.04 -0.449L0.104 -0.501L0.242 -0.383L0.354 -0.38L0.413 -0.222L0.502 -0.129Z" transform="translate(1.024 0.482)" fill="none" stroke="#0000ff" stroke-opacity="0.83" stroke-width="1.3" vector-effect="non-scaling-stroke"/>
<use href="#pCt" opacity="0.22" transform="translate(0.978 0.419) rotate(65.1) scale(0.975)"/>
<path d="M0.489 0.106L0.41 0.191L0.422 0.24L0.311 0.37L0.31 0.407L0.139 0.447L0.068 0.491L-0.038 0.456L-0.154 0.479L-0.217 0.413L-0.359 0.389L-0.387 0.242L-0.464 0.154L-0.451 0.09L-0.519 -0.025L-0.458 -0.106L-0.445 -0.259L-0.357 -0.277L-0.335 -0.399L-0.241 -0.391L-0.077 -0.488L-0.011 -0.46L0.127 -0.488L0.164 -0.435L0.291 -0.433L0.349 -0.307L0.423 -0.257L0.43 -0.175L0.513 -0.093Z" transform="translate(0.978 0.419)" fill="none" stroke="#0000ff" stroke-opacity="0.81" stroke-width="1.3" vector-effect="non-scaling-stroke"/>
<use href="#pCt" opacity="0.23" transform="translate(0.963 0.437) rotate(3.4) scale(0.977)"/>
<path d="M0.498 0.063L0.452 0.127L0.4 0.284L0.344 0.299L0.312 0.404L0.143 0.45L0.022 0.494L-0.01 0.471L-0.192 0.458L-0.254 0.407L-0.323 0.41L-0.371 0.269L-0.475 0.139L-0.479 0.053L-0.509 -0.013L-0.441 -0.186L-0.408 -0.286L-0.332 -0.356L-0.256 -0.441L-0.189 -0.449L-0.099 -0.493L0.046 -0.462L0.157 -0.492L0.244 -0.399L0.354 -0.385L0.408 -0.259L0.454 -0.209L0.482 -0.027Z" transform="translate(0.963 0.437)" fill="none" stroke="#00e000" stroke-opacity="0.79" stroke-width="1.3" vector-effect="non-scaling-stroke"/>
<use href="#pCt" opacity="0.24" transform="translate(0.771 0.405) rotate(301.7) scale(0.98)"/>
<path d="M0.511 0.081L0.403 0.221L0.383 0.316L0.289 0.401L0.133 0.478L0.067 0.472L-0.065 0.504L-0.181 0.434L-0.336 0.365L-0.37 0.272L-0.466 0.153L-0.464 0.066L-0.496 -0.099L-0.429 -0.21L-0.354 -0.352L-0.227 -0.413L-0.175 -0.463L-0.017 -0.491L0.083 -0.489L0.225 -0.421L0.379 -0.344L0.401 -0.244L0.489 -0.177L0.475 0.017Z" transform="translate(0.771 0.405)" fill="none" stroke="#0000ff" stroke-opacity="0.78" stroke-width="1.3" vector-effect="non-scaling-stroke"/>
<use href="#pCt" opacity="0.26" transform="translate(1.036 0.307) rotate(240.1) scale(0.984)"/>
<path d="M0.508 0.067L0.431 0.168L0.422 0.295L0.335 0.324L0.242 0.435L0.157 0.437L0.002 0.491L-0.116 0.466L-0.229 0.437L-0.306 0.385L-0.397 0.329L-0.458 0.184L-0.502 0.099L-0.494 -0.025L-0.481 -0.215L-0.418 -0.235L-0.373 -0.37L-0.231 -0.397L-0.106 -0.495L-0.016 -0.477L0.12 -0.496L0.248 -0.41L0.332 -0.364L0.359 -0.291L0.5 -0.161L0.466 -0.023Z" transform="translate(1.036 0.307)" fill="none" stroke="#ff0000" stroke-opacity="0.76" stroke-width="1.3" vector-effect="non-scaling-stroke"/>
<use href="#pCt" opacity="0.27" transform="translate(0.905 0.35) rotate(178.4) scale(0.989)"/>
<path d="M0.501 0.088L0.459 0.132L0.424 0.272L0.331 0.345L0.295 0.417L0.114 0.452L0.094 0.504L-0.055 0.47L-0.148 0.476L-0.234 0.4L-0.328 0.386L-0.443 0.216L-0.484 0.175L-0.469 0.031L-0.508 -0.059L-0.445 -0.135L-0.442 -0.263L-0.318 -0.339L-0.3 -0.399L-0.149 -0.466L-0.041 -0.521L0.061 -0.468L0.133 -0.499L0.224 -0.417L0.366 -0.339L0.431 -0.207L0.494 -0.112L0.492 -0.051Z" transform="translate(0.905 0.35)" fill="none" stroke="#ff0000" stroke-opacity="0.74" stroke-width="1.3" vector-effect="non-scaling-stroke"/>
<use href="#pCt" opacity="0.28" transform="translate(0.884 0.375) rotate(116.7) scale(0.994)"/>
<path d="M0.514 -0.002L0.428 0.165L0.423 0.285L0.337 0.329L0.225 0.472L0.143 0.44L0.016 0.518L-0.193 0.444L-0.255 0.45L-0.399 0.254L-0.484 0.184L-0.474 0.039L-0.496 -0.065L-0.437 -0.167L-0.393 -0.318L-0.267 -0.412L-0.17 -0.475L-0.084 -0.479L0.117 -0.486L0.181 -0.449L0.334 -0.401L0.389 -0.256L0.502 -0.108Z" transform="translate(0.884 0.375)" fill="none" stroke="#0000ff" stroke-opacity="0.73" stroke-width="1.3" vector-effect="non-scaling-stroke"/>
<use href="#pCt" opacity="0.29" transform="translate(0.888 0.365) rotate(55.1) scale(0.999)"/>
<path d="M0.529 0.027L0.476 0.135L0.407 0.315L0.307 0.376L0.218 0.463L0.126 0.475L-0.056 0.507L-0.185 0.448L-0.234 0.443L-0.373 0.285L-0.446 0.252L-0.471 0.096L-0.501 -0.018L-0.459 -0.127L-0.434 -0.249L-0.372 -0.308L-0.238 -0.458L-0.123 -0.475L0.003 -0.512L0.121 -0.479L0.248 -0.435L0.296 -0.391L0.402 -0.31L0.445 -0.207L0.507 -0.028Z" transform="translate(0.888 0.365)" fill="none" stroke="#ff0000" stroke-opacity="0.71" stroke-width="1.3" vector-effect="non-scaling-stroke"/>
<use href="#pCt" opacity="0.30" transform="translate(0.835 0.45) rotate(353.4) scale(1.003)"/>
<path d="M0.505 0.113L0.449 0.154L0.427 0.312L0.269 0.389L0.181 0.475L0.118 0.476L-0.01 0.521L-0.177 0.472L-0.287 0.421L-0.361 0.297L-0.429 0.291L-0.493 0.075L-0.516 0.025L-0.471 -0.154L-0.461 -0.242L-0.382 -0.298L-0.298 -0.43L-0.179 -0.463L-0.043 -0.499L0.068 -0.467L0.24 -0.455L0.325 -0.354L0.417 -0.293L0.457 -0.178L0.517 -0.102Z" transform="translate(0.835 0.45)" fill="none" stroke="#00e000" stroke-opacity="0.69" stroke-width="1.3" vector-effect="non-scaling-stroke"/>
<use href="#pCt" opacity="0.31" transform="translate(0.816 0.374) rotate(291.7) scale(1.008)"/>
<path d="M0.526 -0.031L0.471 0.072L0.447 0.263L0.375 0.292L0.353 0.406L0.194 0.429L0.104 0.515L0.03 0.484L-0.096 0.526L-0.168 0.442L-0.32 0.405L-0.393 0.315L-0.447 0.251L-0.473 0.122L-0.507 0.075L-0.478 -0.059L-0.486 -0.211L-0.431 -0.218L-0.402 -0.335L-0.246 -0.439L-0.182 -0.5L-0.046 -0.496L-0.002 -0.533L0.164 -0.45L0.294 -0.45L0.365 -0.351L0.44 -0.265L0.455 -0.18L0.492 -0.128Z" transform="translate(0.816 0.374)" fill="none" stroke="#00e000" stroke-opacity="0.67" stroke-width="1.3" vector-effect="non-scaling-stroke"/>
<use href="#pCt" opacity="0.32" transform="translate(0.898 0.397) rotate(230.1) scale(1.013)"/>
<path d="M0.53 0.05L0.459 0.181L0.45 0.289L0.34 0.345L0.304 0.415L0.108 0.482L0.044 0.512L-0.128 0.474L-0.222 0.467L-0.325 0.374L-0.425 0.316L-0.443 0.21L-0.516 0.068L-0.501 -0.026L-0.493 -0.193L-0.41 -0.245L-0.326 -0.41L-0.286 -0.392L-0.174 -0.485L0.023 -0.474L0.144 -0.497L0.162 -0.47L0.374 -0.379L0.375 -0.302L0.467 -0.246L0.476 -0.109Z" transform="translate(0.898 0.397)" fill="none" stroke="#ff0000" stroke-opacity="0.66" stroke-width="1.3" vector-effect="non-scaling-stroke"/>
<use href="#pCt" opacity="0.33" transform="translate(0.895 0.221) rotate(168.4) scale(1.018)"/>
<path d="M0.505 0.158L0.443 0.244L0.388 0.341L0.307 0.369L0.237 0.475L0.085 0.496L0.012 0.535L-0.144 0.478L-0.209 0.465L-0.367 0.337L-0.442 0.271L-0.476 0.167L-0.509 0.058L-0.482 -0.08L-0.484 -0.207L-0.402 -0.249L-0.347 -0.406L-0.217 -0.44L-0.117 -0.504L-0.019 -0.51L0.041 -0.538L0.196 -0.447L0.322 -0.426L0.367 -0.329L0.497 -0.206L0.468 -0.119L0.517 -0.027Z" transform="translate(0.895 0.221)" fill="none" stroke="#ff0000" stroke-opacity="0.64" stroke-width="1.3" vector-effect="non-scaling-stroke"/>
<use href="#pCt" opacity="0.34" transform="translate(0.78 0.35) rotate(106.7) scale(1.023)"/>
<path d="M0.511 0.056L0.482 0.142L0.454 0.26L0.372 0.325L0.321 0.411L0.174 0.442L0.164 0.506L0.049 0.506L-0.061 0.528L-0.22 0.43L-0.321 0.406L-0.334 0.365L-0.442 0.279L-0.472 0.156L-0.516 0.009L-0.486 -0.036L-0.486 -0.215L-0.407 -0.268L-0.405 -0.335L-0.317 -0.399L-0.154 -0.519L-0.067 -0.492L0.042 -0.51L0.103 -0.487L0.223 -0.486L0.335 -0.347L0.446 -0.278L0.444 -0.237L0.523 -0.075Z" transform="translate(0.78 0.35)" fill="none" stroke="#0000ff" stroke-opacity="0.62" stroke-width="1.3" vector-effect="non-scaling-stroke"/>
<use href="#pCt" opacity="0.36" transform="translate(0.798 0.266) rotate(45.1) scale(1.027)"/>
<path d="M0.52 0.018L0.487 0.178L0.492 0.227L0.355 0.358L0.334 0.401L0.172 0.453L0.069 0.509L0.025 0.498L-0.136 0.522L-0.24 0.44L-0.301 0.418L-0.39 0.327L-0.459 0.267L-0.481 0.122L-0.53 0.011L-0.497 -0.127L-0.493 -0.207L-0.39 -0.292L-0.364 -0.384L-0.247 -0.437L-0.14 -0.511L-0.042 -0.477L0.022 -0.531L0.175 -0.462L0.273 -0.47L0.338 -0.354L0.456 -0.284L0.493 -0.157L0.519 -0.075Z" transform="translate(0.798 0.266)" fill="none" stroke="#0000ff" stroke-opacity="0.61" stroke-width="1.3" vector-effect="non-scaling-stroke"/>
<use href="#pCt" opacity="0.37" transform="translate(0.739 0.281) rotate(343.4) scale(1.032)"/>
<path d="M0.527 0.072L0.452 0.228L0.434 0.281L0.273 0.419L0.236 0.483L0.046 0.503L-0.05 0.543L-0.183 0.481L-0.307 0.437L-0.375 0.334L-0.492 0.191L-0.507 0.024L-0.508 -0.09L-0.486 -0.176L-0.428 -0.287L-0.326 -0.391L-0.162 -0.497L-0.101 -0.493L0.06 -0.523L0.136 -0.497L0.321 -0.417L0.38 -0.308L0.488 -0.161L0.509 -0.05Z" transform="translate(0.739 0.281)" fill="none" stroke="#ff0000" stroke-opacity="0.59" stroke-width="1.3" vector-effect="non-scaling-stroke"/>
<use href="#pCt" opacity="0.38" transform="translate(0.782 0.269) rotate(281.7) scale(1.037)"/>
<path d="M0.532 -0.02L0.485 0.172L0.444 0.31L0.377 0.35L0.23 0.464L0.115 0.481L-0.018 0.527L-0.083 0.489L-0.164 0.49L-0.339 0.371L-0.435 0.323L-0.466 0.185L-0.524 0.075L-0.516 -0.044L-0.511 -0.125L-0.418 -0.277L-0.403 -0.367L-0.272 -0.418L-0.157 -0.522L-0.078 -0.506L0.118 -0.529L0.179 -0.478L0.353 -0.418L0.397 -0.318L0.459 -0.249L0.47 -0.136Z" transform="translate(0.782 0.269)" fill="none" stroke="#00e000" stroke-opacity="0.57" stroke-width="1.3" vector-effect="non-scaling-stroke"/>
<use href="#pCt" opacity="0.39" transform="translate(0.793 0.198) rotate(220.1) scale(1.042)"/>
<path d="M0.541 0.021L0.469 0.23L0.441 0.313L0.306 0.412L0.216 0.5L0.155 0.49L-0.058 0.532L-0.113 0.488L-0.268 0.479L-0.331 0.395L-0.48 0.222L-0.485 0.141L-0.537 0.026L-0.501 -0.054L-0.485 -0.217L-0.363 -0.371L-0.337 -0.424L-0.219 -0.461L-0.028 -0.534L0.032 -0.506L0.212 -0.487L0.315 -0.396L0.434 -0.322L0.473 -0.173L0.523 -0.061Z" transform="translate(0.793 0.198)" fill="none" stroke="#0000ff" stroke-opacity="0.55" stroke-width="1.3" vector-effect="non-scaling-stroke"/>
<use href="#pCt" opacity="0.40" transform="translate(0.677 0.262) rotate(158.4) scale(1.047)"/>
<path d="M0.527 0.08L0.458 0.238L0.43 0.313L0.298 0.416L0.185 0.498L0.082 0.519L-0.059 0.538L-0.199 0.461L-0.326 0.421L-0.406 0.311L-0.487 0.235L-0.498 0.075L-0.529 0.005L-0.506 -0.151L-0.445 -0.295L-0.292 -0.398L-0.297 -0.441L-0.1 -0.494L-0.037 -0.527L0.169 -0.474L0.282 -0.463L0.331 -0.391L0.483 -0.246L0.492 -0.102L0.544 -0.048Z" transform="translate(0.677 0.262)" fill="none" stroke="#ff0000" stroke-opacity="0.54" stroke-width="1.3" vector-effect="non-scaling-stroke"/>
<use href="#pCt" opacity="0.41" transform="translate(0.764 0.164) rotate(96.7) scale(1.051)"/>
<path d="M0.532 0.085L0.497 0.168L0.426 0.332L0.362 0.354L0.316 0.435L0.164 0.481L0.067 0.536L-0.094 0.518L-0.137 0.51L-0.281 0.441L-0.407 0.358L-0.461 0.235L-0.516 0.176L-0.5 0.075L-0.543 -0.055L-0.487 -0.179L-0.448 -0.293L-0.324 -0.41L-0.259 -0.477L-0.199 -0.479L-0.06 -0.533L0.04 -0.521L0.141 -0.514L0.241 -0.462L0.425 -0.343L0.416 -0.306L0.508 -0.171L0.518 -0.039Z" transform="translate(0.764 0.164)" fill="none" stroke="#0000ff" stroke-opacity="0.52" stroke-width="1.3" vector-effect="non-scaling-stroke"/>
<use href="#pCt" opacity="0.42" transform="translate(0.61 0.174) rotate(35.1) scale(1.054)"/>
<path d="M0.529 0.15L0.447 0.264L0.4 0.359L0.274 0.424L0.119 0.52L-0.002 0.519L-0.049 0.539L-0.242 0.442L-0.337 0.419L-0.438 0.281L-0.495 0.224L-0.507 0.041L-0.532 -0.113L-0.468 -0.205L-0.43 -0.317L-0.316 -0.404L-0.246 -0.478L-0.079 -0.514L0.034 -0.546L0.139 -0.491L0.279 -0.462L0.36 -0.371L0.456 -0.283L0.493 -0.139L0.551 -0.026Z" transform="translate(0.61 0.174)" fill="none" stroke="#ff0000" stroke-opacity="0.50" stroke-width="1.3" vector-effect="non-scaling-stroke"/>
<use href="#pCt" opacity="0.43" transform="translate(0.553 0.215) rotate(333.4) scale(1.058)"/>
<path d="M0.541 0.022L0.459 0.198L0.437 0.304L0.359 0.365L0.255 0.488L0.077 0.514L-0.092 0.54L-0.235 0.462L-0.343 0.431L-0.352 0.363L-0.516 0.171L-0.503 0.09L-0.532 -0.026L-0.499 -0.144L-0.421 -0.351L-0.331 -0.383L-0.184 -0.496L-0.111 -0.495L0.076 -0.526L0.166 -0.498L0.274 -0.476L0.379 -0.356L0.47 -0.268L0.498 -0.052Z" transform="translate(0.553 0.215)" fill="none" stroke="#00e000" stroke-opacity="0.49" stroke-width="1.3" vector-effect="non-scaling-stroke"/>
<use href="#pCt" opacity="0.44" transform="translate(0.584 0.301) rotate(271.7) scale(1.061)"/>
<path d="M0.548 0.065L0.494 0.139L0.474 0.289L0.333 0.397L0.27 0.483L0.098 0.508L0.031 0.543L-0.06 0.525L-0.175 0.51L-0.286 0.44L-0.406 0.378L-0.463 0.209L-0.538 0.097L-0.503 -0.024L-0.536 -0.116L-0.473 -0.238L-0.431 -0.342L-0.318 -0.411L-0.198 -0.499L-0.107 -0.505L0.011 -0.55L0.202 -0.474L0.297 -0.461L0.338 -0.392L0.495 -0.246L0.514 -0.117L0.546 0Z" transform="translate(0.584 0.301)" fill="none" stroke="#00e000" stroke-opacity="0.47" stroke-width="1.3" vector-effect="non-scaling-stroke"/>
<use href="#pCt" opacity="0.46" transform="translate(0.558 0.245) rotate(210.1) scale(1.065)"/>
<path d="M0.519 0.118L0.472 0.239L0.431 0.322L0.353 0.383L0.274 0.467L0.132 0.488L-0.051 0.53L-0.184 0.492L-0.231 0.482L-0.324 0.411L-0.438 0.316L-0.492 0.158L-0.541 0.094L-0.514 -0.043L-0.525 -0.13L-0.421 -0.315L-0.405 -0.354L-0.283 -0.433L-0.225 -0.497L-0.014 -0.521L0.12 -0.531L0.171 -0.493L0.325 -0.441L0.361 -0.375L0.467 -0.287L0.526 -0.098L0.54 -0.051Z" transform="translate(0.558 0.245)" fill="none" stroke="#ff0000" stroke-opacity="0.45" stroke-width="1.3" vector-effect="non-scaling-stroke"/>
<use href="#pCt" opacity="0.47" transform="translate(0.557 0.215) rotate(148.4) scale(1.068)"/>
<path d="M0.551 -0.021L0.488 0.146L0.479 0.277L0.419 0.316L0.35 0.421L0.209 0.473L0.119 0.539L-0.018 0.524L-0.12 0.539L-0.215 0.477L-0.36 0.408L-0.418 0.324L-0.501 0.244L-0.486 0.155L-0.542 -0.054L-0.526 -0.1L-0.487 -0.271L-0.411 -0.313L-0.355 -0.42L-0.241 -0.464L-0.086 -0.537L0.009 -0.528L0.08 -0.526L0.221 -0.472L0.362 -0.424L0.399 -0.342L0.472 -0.256L0.5 -0.122Z" transform="translate(0.557 0.215)" fill="none" stroke="#ff0000" stroke-opacity="0.43" stroke-width="1.3" vector-effect="non-scaling-stroke"/>
<use href="#pCt" opacity="0.48" transform="translate(0.6 0.222) rotate(86.7) scale(1.071)"/>
<path d="M0.551 0.057L0.471 0.23L0.472 0.288L0.391 0.369L0.284 0.479L0.144 0.502L0.042 0.541L-0.03 0.514L-0.203 0.502L-0.272 0.437L-0.372 0.404L-0.458 0.282L-0.505 0.182L-0.518 0.1L-0.54 0.005L-0.516 -0.105L-0.51 -0.225L-0.375 -0.347L-0.321 -0.451L-0.222 -0.479L-0.157 -0.527L0.032 -0.514L0.068 -0.55L0.21 -0.486L0.294 -0.476L0.419 -0.307L0.491 -0.248L0.501 -0.122L0.552 -0.065Z" transform="translate(0.6 0.222)" fill="none" stroke="#00e000" stroke-opacity="0.42" stroke-width="1.3" vector-effect="non-scaling-stroke"/>
<use href="#pCt" opacity="0.49" transform="translate(0.559 0.241) rotate(25.1) scale(1.075)"/>
<path d="M0.536 0.073L0.482 0.198L0.444 0.323L0.297 0.441L0.24 0.491L0.054 0.521L-0.014 0.552L-0.145 0.5L-0.255 0.482L-0.329 0.41L-0.409 0.356L-0.488 0.171L-0.54 0.11L-0.517 -0.015L-0.527 -0.135L-0.448 -0.277L-0.389 -0.394L-0.298 -0.429L-0.163 -0.521L-0.075 -0.528L0.101 -0.53L0.215 -0.47L0.362 -0.421L0.375 -0.361L0.5 -0.253L0.495 -0.171L0.55 -0.061Z" transform="translate(0.559 0.241)" fill="none" stroke="#ff0000" stroke-opacity="0.40" stroke-width="1.3" vector-effect="non-scaling-stroke"/>
<use href="#pCt" opacity="0.50" transform="translate(0.535 0.204) rotate(323.4) scale(1.078)"/>
<path d="M0.551 0.055L0.499 0.184L0.404 0.367L0.324 0.41L0.195 0.518L0.077 0.531L-0.037 0.543L-0.22 0.482L-0.396 0.399L-0.462 0.258L-0.523 0.174L-0.527 0.048L-0.539 -0.098L-0.482 -0.224L-0.417 -0.364L-0.228 -0.467L-0.094 -0.531L0.049 -0.517L0.173 -0.526L0.269 -0.447L0.444 -0.318L0.492 -0.214L0.541 -0.111Z" transform="translate(0.535 0.204)" fill="none" stroke="#00e000" stroke-opacity="0.38" stroke-width="1.3" vector-effect="non-scaling-stroke"/>
<use href="#pCt" opacity="0.51" transform="translate(0.436 0.231) rotate(261.7) scale(1.082)"/>
<path d="M0.53 0.095L0.507 0.181L0.45 0.331L0.357 0.403L0.23 0.506L0.132 0.515L-0.052 0.546L-0.167 0.496L-0.336 0.444L-0.386 0.364L-0.486 0.275L-0.518 0.14L-0.549 0.052L-0.493 -0.175L-0.442 -0.319L-0.374 -0.366L-0.312 -0.449L-0.194 -0.49L0.004 -0.553L0.16 -0.518L0.223 -0.516L0.338 -0.401L0.452 -0.326L0.479 -0.238L0.548 -0.08Z" transform="translate(0.436 0.231)" fill="none" stroke="#00e000" stroke-opacity="0.37" stroke-width="1.3" vector-effect="non-scaling-stroke"/>
<use href="#pCt" opacity="0.52" transform="translate(0.445 0.231) rotate(200.1) scale(1.085)"/>
<circle cx="0.445" cy="0.231" r="0.543" fill="none" stroke="#902020" stroke-opacity="0.4" stroke-width="1.3" vector-effect="non-scaling-stroke"/>
<use href="#pCt" opacity="0.53" transform="translate(0.454 0.129) rotate(138.4) scale(1.089)"/>
<circle cx="0.454" cy="0.129" r="0.544" fill="none" stroke="#80d870" stroke-opacity="0.4" stroke-width="1.3" vector-effect="non-scaling-stroke"/>
<use href="#pCt" opacity="0.54" transform="translate(0.439 0.13) rotate(76.7) scale(1.092)"/>
<circle cx="0.439" cy="0.13" r="0.546" fill="none" stroke="#3030b0" stroke-opacity="0.4" stroke-width="1.3" vector-effect="non-scaling-stroke"/>
<use href="#pCt" opacity="0.56" transform="translate(0.449 0.153) rotate(15.1) scale(1.095)"/>
<circle cx="0.449" cy="0.153" r="0.548" fill="none" stroke="#902020" stroke-opacity="0.4" stroke-width="1.3" vector-effect="non-scaling-stroke"/>
<use href="#pCt" opacity="0.57" transform="translate(0.411 0.171) rotate(313.4) scale(1.099)"/>
<circle cx="0.411" cy="0.171" r="0.549" fill="none" stroke="#3030b0" stroke-opacity="0.4" stroke-width="1.3" vector-effect="non-scaling-stroke"/>
<use href="#pCt" opacity="0.58" transform="translate(0.396 0.131) rotate(251.7) scale(1.098)"/>
<circle cx="0.396" cy="0.131" r="0.549" fill="none" stroke="#902020" stroke-opacity="0.4" stroke-width="1.3" vector-effect="non-scaling-stroke"/>
<use href="#pCt" opacity="0.59" transform="translate(0.372 0.145) rotate(190.1) scale(1.095)"/>
<circle cx="0.372" cy="0.145" r="0.547" fill="none" stroke="#3030b0" stroke-opacity="0.4" stroke-width="1.3" vector-effect="non-scaling-stroke"/>
<use href="#pCt" opacity="0.60" transform="translate(0.33 0.139) rotate(128.4) scale(1.092)"/>
<circle cx="0.33" cy="0.139" r="0.546" fill="none" stroke="#80d870" stroke-opacity="0.4" stroke-width="1.3" vector-effect="non-scaling-stroke"/>
<use href="#pCt" opacity="0.61" transform="translate(0.319 0.113) rotate(66.7) scale(1.089)"/>
<circle cx="0.319" cy="0.113" r="0.544" fill="none" stroke="#3030b0" stroke-opacity="0.4" stroke-width="1.3" vector-effect="non-scaling-stroke"/>
<use href="#pCt" opacity="0.62" transform="translate(0.315 0.123) rotate(5.1) scale(1.086)"/>
<circle cx="0.315" cy="0.123" r="0.543" fill="none" stroke="#50c050" stroke-opacity="0.4" stroke-width="1.3" vector-effect="non-scaling-stroke"/>
<use href="#pCt" opacity="0.63" transform="translate(0.308 0.11) rotate(303.4) scale(1.083)"/>
<circle cx="0.308" cy="0.11" r="0.541" fill="none" stroke="#3030b0" stroke-opacity="0.4" stroke-width="1.3" vector-effect="non-scaling-stroke"/>
<use href="#pCt" opacity="0.64" transform="translate(0.293 0.113) rotate(241.7) scale(1.08)"/>
<circle cx="0.293" cy="0.113" r="0.54" fill="none" stroke="#3030b0" stroke-opacity="0.4" stroke-width="1.3" vector-effect="non-scaling-stroke"/>
<use href="#pCt" opacity="0.66" transform="translate(0.264 0.111) rotate(180.1) scale(1.077)"/>
<circle cx="0.264" cy="0.111" r="0.538" fill="none" stroke="#80d870" stroke-opacity="0.4" stroke-width="1.3" vector-effect="non-scaling-stroke"/>
<use href="#pCt" opacity="0.67" transform="translate(0.256 0.099) rotate(118.4) scale(1.074)"/>
<circle cx="0.256" cy="0.099" r="0.537" fill="none" stroke="#902020" stroke-opacity="0.4" stroke-width="1.3" vector-effect="non-scaling-stroke"/>
<use href="#pCt" opacity="0.68" transform="translate(0.226 0.09) rotate(56.7) scale(1.071)"/>
<circle cx="0.226" cy="0.09" r="0.535" fill="none" stroke="#50c050" stroke-opacity="0.4" stroke-width="1.3" vector-effect="non-scaling-stroke"/>
<use href="#pCt" opacity="0.69" transform="translate(0.207 0.085) rotate(355.1) scale(1.067)"/>
<circle cx="0.207" cy="0.085" r="0.534" fill="none" stroke="#902020" stroke-opacity="0.4" stroke-width="1.3" vector-effect="non-scaling-stroke"/>
<use href="#pCt" opacity="0.70" transform="translate(0.19 0.076) rotate(293.4) scale(1.064)"/>
<circle cx="0.19" cy="0.076" r="0.532" fill="none" stroke="#3030b0" stroke-opacity="0.4" stroke-width="1.3" vector-effect="non-scaling-stroke"/>
<use href="#pA" transform="translate(0.19 0.076) rotate(293.4) scale(1.064)"/>
<use href="#pA" transform="translate(0.188 0.075) rotate(288) scale(1.064)"/>
<use href="#pA" transform="translate(0.187 0.075) rotate(282.6) scale(1.064)"/>
<use href="#pA" transform="translate(0.185 0.074) rotate(277.2) scale(1.064)"/>
<use href="#pA" transform="translate(0.183 0.073) rotate(271.9) scale(1.063)"/>
<use href="#pA" transform="translate(0.182 0.073) rotate(266.5) scale(1.063)"/>
<use href="#pA" transform="translate(0.18 0.072) rotate(261.1) scale(1.063)"/>
<use href="#pA" transform="translate(0.178 0.072) rotate(255.7) scale(1.063)"/>
<use href="#pA" transform="translate(0.177 0.071) rotate(250.3) scale(1.062)"/>
<use href="#pA" transform="translate(0.175 0.07) rotate(244.9) scale(1.062)"/>
<use href="#pA" transform="translate(0.174 0.07) rotate(239.6) scale(1.062)"/>
<use href="#pA" transform="translate(0.172 0.069) rotate(234.2) scale(1.062)"/>
<use href="#pA" transform="translate(0.17 0.068) rotate(228.8) scale(1.061)"/>
<use href="#pA" transform="translate(0.169 0.068) rotate(223.4) scale(1.061)"/>
<use href="#pA" transform="translate(0.167 0.067) rotate(218) scale(1.061)"/>
<use href="#pA" transform="translate(0.165 0.066) rotate(212.6) scale(1.06)"/>
<use href="#pA" transform="translate(0.164 0.066) rotate(207.2) scale(1.06)"/>
<use href="#pA" transform="translate(0.162 0.065) rotate(201.9) scale(1.06)"/>
<use href="#pA" transform="translate(0.161 0.064) rotate(196.5) scale(1.059)"/>
<use href="#pA" transform="translate(0.159 0.064) rotate(191.1) scale(1.059)"/>
<use href="#pA" transform="translate(0.157 0.063) rotate(185.7) scale(1.058)"/>
<use href="#pA" transform="translate(0.156 0.062) rotate(180.3) scale(1.057)"/>
<use href="#pA" transform="translate(0.154 0.062) rotate(174.9) scale(1.057)"/>
<use href="#pA" transform="translate(0.152 0.061) rotate(169.6) scale(1.056)"/>
<use href="#pA" transform="translate(0.151 0.06) rotate(164.2) scale(1.056)"/>
<use href="#pA" transform="translate(0.149 0.06) rotate(158.8) scale(1.055)"/>
<use href="#pA" transform="translate(0.148 0.059) rotate(153.4) scale(1.054)"/>
<use href="#pA" transform="translate(0.146 0.059) rotate(148) scale(1.054)"/>
<use href="#pA" transform="translate(0.144 0.058) rotate(142.6) scale(1.053)"/>
<use href="#pA" transform="translate(0.143 0.057) rotate(137.2) scale(1.053)"/>
<use href="#pA" transform="translate(0.141 0.057) rotate(131.9) scale(1.052)"/>
<use href="#pA" transform="translate(0.139 0.056) rotate(126.5) scale(1.051)"/>
<use href="#pA" transform="translate(0.138 0.055) rotate(121.1) scale(1.051)"/>
<use href="#pA" transform="translate(0.136 0.055) rotate(115.7) scale(1.05)"/>
<use href="#pA" transform="translate(0.135 0.054) rotate(110.3) scale(1.05)"/>
<use href="#pA" transform="translate(0.133 0.053) rotate(104.9) scale(1.049)"/>
<use href="#pA" transform="translate(0.131 0.053) rotate(99.6) scale(1.048)"/>
<use href="#pA" transform="translate(0.13 0.052) rotate(94.2) scale(1.048)"/>
<use href="#pA" transform="translate(0.128 0.051) rotate(88.8) scale(1.047)"/>
<use href="#pA" transform="translate(0.127 0.051) rotate(83.4) scale(1.047)"/>
<use href="#pA" transform="translate(0.125 0.05) rotate(78) scale(1.046)"/>
<use href="#pA" transform="translate(0.123 0.049) rotate(72.6) scale(1.045)"/>
<use href="#pA" transform="translate(0.122 0.049) rotate(67.2) scale(1.045)"/>
<use href="#pA" transform="translate(0.12 0.048) rotate(61.9) scale(1.044)"/>
<use href="#pA" transform="translate(0.118 0.047) rotate(56.5) scale(1.044)"/>
<use href="#pA" transform="translate(0.117 0.047) rotate(51.1) scale(1.043)"/>
<use href="#pA" transform="translate(0.115 0.046) rotate(45.7) scale(1.042)"/>
<use href="#pA" transform="translate(0.114 0.046) rotate(40.3) scale(1.042)"/>
<use href="#pA" transform="translate(0.112 0.045) rotate(34.9) scale(1.041)"/>
<use href="#pA" transform="translate(0.11 0.044) rotate(29.6) scale(1.041)"/>
<use href="#pA" transform="translate(0.109 0.044) rotate(24.2) scale(1.04)"/>
<use href="#pA" transform="translate(0.107 0.043) rotate(18.8) scale(1.039)"/>
<use href="#pA" transform="translate(0.105 0.042) rotate(13.4) scale(1.039)"/>
<use href="#pA" transform="translate(0.104 0.042) rotate(8) scale(1.038)"/>
<use href="#pA" transform="translate(0.102 0.041) rotate(2.6) scale(1.038)"/>
<use href="#pA" transform="translate(0.101 0.04) rotate(357.2) scale(1.037)"/>
<use href="#pA" transform="translate(0.099 0.04) rotate(351.9) scale(1.036)"/>
<use href="#pA" transform="translate(0.097 0.039) rotate(346.5) scale(1.036)"/>
<use href="#pA" transform="translate(0.096 0.038) rotate(341.1) scale(1.035)"/>
<use href="#pA" transform="translate(0.094 0.038) rotate(335.7) scale(1.035)"/>
<use href="#pA" transform="translate(0.092 0.037) rotate(330.3) scale(1.034)"/>
<use href="#pA" transform="translate(0.091 0.036) rotate(324.9) scale(1.034)"/>
<use href="#pA" transform="translate(0.089 0.036) rotate(319.6) scale(1.033)"/>
<use href="#pA" transform="translate(0.088 0.035) rotate(314.2) scale(1.032)"/>
<use href="#pA" transform="translate(0.086 0.034) rotate(308.8) scale(1.032)"/>
<use href="#pA" transform="translate(0.084 0.034) rotate(303.4) scale(1.031)"/>
<use href="#pA" transform="translate(0.083 0.033) rotate(298) scale(1.031)"/>
<use href="#pA" transform="translate(0.081 0.033) rotate(292.6) scale(1.03)"/>
<use href="#pA" transform="translate(0.079 0.032) rotate(287.2) scale(1.029)"/>
<use href="#pA" transform="translate(0.078 0.031) rotate(281.9) scale(1.029)"/>
<use href="#pA" transform="translate(0.076 0.031) rotate(276.5) scale(1.028)"/>
<use href="#pA" transform="translate(0.075 0.03) rotate(271.1) scale(1.028)"/>
<use href="#pA" transform="translate(0.073 0.029) rotate(265.7) scale(1.027)"/>
<use href="#pA" transform="translate(0.071 0.029) rotate(260.3) scale(1.026)"/>
<use href="#pA" transform="translate(0.07 0.028) rotate(254.9) scale(1.026)"/>
<use href="#pA" transform="translate(0.068 0.027) rotate(249.6) scale(1.025)"/>
<use href="#pA" transform="translate(0.067 0.027) rotate(244.2) scale(1.025)"/>
<use href="#pA" transform="translate(0.065 0.026) rotate(238.8) scale(1.024)"/>
<use href="#pA" transform="translate(0.063 0.025) rotate(233.4) scale(1.023)"/>
<use href="#pA" transform="translate(0.062 0.025) rotate(228) scale(1.023)"/>
<use href="#pA" transform="translate(0.06 0.024) rotate(222.6) scale(1.022)"/>
<use href="#pA" transform="translate(0.058 0.023) rotate(217.2) scale(1.022)"/>
<use href="#pA" transform="translate(0.057 0.023) rotate(211.9) scale(1.021)"/>
<use href="#pA" transform="translate(0.055 0.022) rotate(206.5) scale(1.02)"/>
<use href="#pA" transform="translate(0.054 0.021) rotate(201.1) scale(1.02)"/>
<use href="#pA" transform="translate(0.052 0.021) rotate(195.7) scale(1.019)"/>
<use href="#pA" transform="translate(0.05 0.02) rotate(190.3) scale(1.019)"/>
<use href="#pA" transform="translate(0.049 0.02) rotate(184.9) scale(1.018)"/>
<use href="#pA" transform="translate(0.047 0.019) rotate(179.6) scale(1.017)"/>
<use href="#pA" transform="translate(0.045 0.018) rotate(174.2) scale(1.017)"/>
<use href="#pA" transform="translate(0.044 0.018) rotate(168.8) scale(1.016)"/>
<use href="#pA" transform="translate(0.042 0.017) rotate(163.4) scale(1.016)"/>
<use href="#pA" transform="translate(0.041 0.016) rotate(158) scale(1.015)"/>
<use href="#pA" transform="translate(0.039 0.016) rotate(152.6) scale(1.014)"/>
<use href="#pA" transform="translate(0.037 0.015) rotate(147.2) scale(1.014)"/>
<use href="#pA" transform="translate(0.036 0.014) rotate(141.9) scale(1.013)"/>
<use href="#pA" transform="translate(0.034 0.014) rotate(136.5) scale(1.013)"/>
<use href="#pA" transform="translate(0.032 0.013) rotate(131.1) scale(1.012)"/>
<use href="#pA" transform="translate(0.031 0.012) rotate(125.7) scale(1.011)"/>
<use href="#pA" transform="translate(0.029 0.012) rotate(120.3) scale(1.011)"/>
<use href="#pA" transform="translate(0.028 0.011) rotate(114.9) scale(1.01)"/>
<use href="#pA" transform="translate(0.026 0.01) rotate(109.6) scale(1.01)"/>
<use href="#pA" transform="translate(0.024 0.01) rotate(104.2) scale(1.009)"/>
<use href="#pA" transform="translate(0.023 0.009) rotate(98.8) scale(1.008)"/>
<use href="#pA" transform="translate(0.021 0.008) rotate(93.4) scale(1.008)"/>
<use href="#pA" transform="translate(0.019 0.008) rotate(88) scale(1.007)"/>
<use href="#pA" transform="translate(0.018 0.007) rotate(82.6) scale(1.007)"/>
<use href="#pA" transform="translate(0.016 0.007) rotate(77.2) scale(1.006)"/>
<use href="#pA" transform="translate(0.015 0.006) rotate(71.9) scale(1.005)"/>
<use href="#pA" transform="translate(0.013 0.005) rotate(66.5) scale(1.005)"/>
<use href="#pA" transform="translate(0.011 0.005) rotate(61.1) scale(1.004)"/>
<use href="#pA" transform="translate(0.01 0.004) rotate(55.7) scale(1.004)"/>
<use href="#pA" transform="translate(0.008 0.003) rotate(50.3) scale(1.003)"/>
<use href="#pA" transform="translate(0.006 0.003) rotate(44.9) scale(1.002)"/>
<use href="#pA" transform="translate(0.005 0.002) rotate(39.6) scale(1.002)"/>
<use href="#pA" transform="translate(0.003 0.001) rotate(34.2) scale(1.001)"/>
<use href="#pA" transform="translate(0.002 0.001) rotate(28.8) scale(1.001)"/>
</g>
<g transform="matrix(116 3.5 0 -121 188.3 473.6)">
<path d="M0 0L0.459 0.199A0.5 0.5 0 0 1 -0.401 0.298Z" fill="#00008f"/>
<path d="M0 0L-0.401 0.298A0.5 0.5 0 0 1 -0.057 -0.497Z" fill="#870000"/>
<path d="M0 0L-0.057 -0.497A0.5 0.5 0 0 1 0.459 0.199Z" fill="#8cff70"/>
<path d="M0.128 0.084A0.153 0.153 0 0 1 0.116 0.1L0.091 0.079A0.12 0.12 0 0 0 0.1 0.066ZM0.116 0.1A0.153 0.153 0 0 1 0.102 0.115L0.08 0.09A0.12 0.12 0 0 0 0.091 0.079ZM0.086 0.127A0.153 0.153 0 0 1 0.069 0.137L0.054 0.107A0.12 0.12 0 0 0 0.067 0.099ZM0.011 0.153A0.153 0.153 0 0 1 -0.009 0.153L-0.007 0.12A0.12 0.12 0 0 0 0.009 0.12ZM0.105 0.155A0.187 0.187 0 0 1 0.084 0.167L0.069 0.137A0.153 0.153 0 0 0 0.086 0.127ZM-0.103 0.156A0.187 0.187 0 0 1 -0.122 0.141L-0.1 0.116A0.153 0.153 0 0 0 -0.084 0.128ZM0.099 0.197A0.22 0.22 0 0 1 0.072 0.208L0.061 0.176A0.187 0.187 0 0 0 0.084 0.167ZM0.044 0.216A0.22 0.22 0 0 1 0.016 0.219L0.013 0.186A0.187 0.187 0 0 0 0.038 0.183ZM-0.013 0.22A0.22 0.22 0 0 1 -0.042 0.216L-0.035 0.183A0.187 0.187 0 0 0 -0.011 0.186ZM-0.121 0.184A0.22 0.22 0 0 1 -0.144 0.166L-0.122 0.141A0.187 0.187 0 0 0 -0.103 0.156ZM0.211 0.139A0.253 0.253 0 0 1 0.191 0.166L0.166 0.144A0.22 0.22 0 0 0 0.184 0.121ZM0.083 0.239A0.253 0.253 0 0 1 0.051 0.248L0.044 0.216A0.22 0.22 0 0 0 0.072 0.208ZM0.018 0.253A0.253 0.253 0 0 1 -0.015 0.253L-0.013 0.22A0.22 0.22 0 0 0 0.016 0.219ZM0.217 0.188A0.287 0.287 0 0 1 0.19 0.214L0.168 0.189A0.253 0.253 0 0 0 0.191 0.166ZM0.143 0.286A0.32 0.32 0 0 1 0.105 0.302L0.094 0.271A0.287 0.287 0 0 0 0.128 0.256ZM0.064 0.313A0.32 0.32 0 0 1 0.023 0.319L0.02 0.286A0.287 0.287 0 0 0 0.058 0.281ZM-0.019 0.319A0.32 0.32 0 0 1 -0.061 0.314L-0.054 0.281A0.287 0.287 0 0 0 -0.017 0.286ZM-0.101 0.304A0.32 0.32 0 0 1 -0.14 0.288L-0.125 0.258A0.287 0.287 0 0 0 -0.09 0.272ZM-0.112 0.335A0.353 0.353 0 0 1 -0.154 0.318L-0.14 0.288A0.32 0.32 0 0 0 -0.101 0.304ZM-0.231 0.267A0.353 0.353 0 0 1 -0.264 0.235L-0.239 0.212A0.32 0.32 0 0 0 -0.21 0.242ZM0.351 0.231A0.42 0.42 0 0 1 0.317 0.275L0.292 0.253A0.387 0.387 0 0 0 0.323 0.213ZM0.317 0.275A0.42 0.42 0 0 1 0.279 0.314L0.257 0.289A0.387 0.387 0 0 0 0.292 0.253ZM0.084 0.411A0.42 0.42 0 0 1 0.03 0.419L0.028 0.386A0.387 0.387 0 0 0 0.078 0.379Z" fill="#7090a0" fill-opacity="0.85"/>
<path d="M0.069 0.137A0.153 0.153 0 0 1 0.05 0.145L0.039 0.113A0.12 0.12 0 0 0 0.054 0.107ZM0.084 0.167A0.187 0.187 0 0 1 0.061 0.176L0.05 0.145A0.153 0.153 0 0 0 0.069 0.137ZM-0.011 0.186A0.187 0.187 0 0 1 -0.035 0.183L-0.029 0.151A0.153 0.153 0 0 0 -0.009 0.153ZM-0.082 0.168A0.187 0.187 0 0 1 -0.103 0.156L-0.084 0.128A0.153 0.153 0 0 0 -0.067 0.138ZM0.166 0.144A0.22 0.22 0 0 1 0.146 0.165L0.124 0.14A0.187 0.187 0 0 0 0.141 0.122ZM0.123 0.182A0.22 0.22 0 0 1 0.099 0.197L0.084 0.167A0.187 0.187 0 0 0 0.105 0.155ZM0.072 0.208A0.22 0.22 0 0 1 0.044 0.216L0.038 0.183A0.187 0.187 0 0 0 0.061 0.176ZM-0.048 0.249A0.253 0.253 0 0 1 -0.08 0.24L-0.069 0.209A0.22 0.22 0 0 0 -0.042 0.216ZM-0.08 0.24A0.253 0.253 0 0 1 -0.111 0.228L-0.096 0.198A0.22 0.22 0 0 0 -0.069 0.209ZM-0.111 0.228A0.253 0.253 0 0 1 -0.139 0.211L-0.121 0.184A0.22 0.22 0 0 0 -0.096 0.198ZM0.239 0.158A0.287 0.287 0 0 1 0.217 0.188L0.191 0.166A0.253 0.253 0 0 0 0.211 0.139ZM0.161 0.237A0.287 0.287 0 0 1 0.128 0.256L0.113 0.227A0.253 0.253 0 0 0 0.142 0.21ZM0.02 0.286A0.287 0.287 0 0 1 -0.017 0.286L-0.015 0.253A0.253 0.253 0 0 0 0.018 0.253ZM0.242 0.21A0.32 0.32 0 0 1 0.212 0.239L0.19 0.214A0.287 0.287 0 0 0 0.217 0.188ZM-0.061 0.314A0.32 0.32 0 0 1 -0.101 0.304L-0.09 0.272A0.287 0.287 0 0 0 -0.054 0.281ZM0.292 0.253A0.387 0.387 0 0 1 0.257 0.289L0.235 0.264A0.353 0.353 0 0 0 0.267 0.231ZM0.217 0.32A0.387 0.387 0 0 1 0.173 0.346L0.158 0.316A0.353 0.353 0 0 0 0.198 0.293ZM0.127 0.365A0.387 0.387 0 0 1 0.078 0.379L0.071 0.346A0.353 0.353 0 0 0 0.116 0.334ZM0.188 0.376A0.42 0.42 0 0 1 0.137 0.397L0.127 0.365A0.387 0.387 0 0 0 0.173 0.346ZM-0.133 0.399A0.42 0.42 0 0 1 -0.183 0.378L-0.169 0.348A0.387 0.387 0 0 0 -0.122 0.367Z" fill="#90b890" fill-opacity="0.8"/>
<path d="M-0.029 0.151A0.153 0.153 0 0 1 -0.048 0.145L-0.038 0.114A0.12 0.12 0 0 0 -0.023 0.118ZM0.013 0.186A0.187 0.187 0 0 1 -0.011 0.186L-0.009 0.153A0.153 0.153 0 0 0 0.011 0.153ZM-0.125 0.258A0.287 0.287 0 0 1 -0.158 0.239L-0.139 0.211A0.253 0.253 0 0 0 -0.111 0.228ZM-0.188 0.217A0.287 0.287 0 0 1 -0.214 0.19L-0.189 0.168A0.253 0.253 0 0 0 -0.166 0.191ZM0.105 0.302A0.32 0.32 0 0 1 0.064 0.313L0.058 0.281A0.287 0.287 0 0 0 0.094 0.271ZM0.295 0.195A0.353 0.353 0 0 1 0.267 0.231L0.242 0.21A0.32 0.32 0 0 0 0.267 0.176ZM0.267 0.231A0.353 0.353 0 0 1 0.235 0.264L0.212 0.239A0.32 0.32 0 0 0 0.242 0.21ZM0.235 0.264A0.353 0.353 0 0 1 0.198 0.293L0.179 0.265A0.32 0.32 0 0 0 0.212 0.239ZM0.071 0.346A0.353 0.353 0 0 1 0.025 0.352L0.023 0.319A0.32 0.32 0 0 0 0.064 0.313ZM-0.067 0.347A0.353 0.353 0 0 1 -0.112 0.335L-0.101 0.304A0.32 0.32 0 0 0 -0.061 0.314ZM0.173 0.346A0.387 0.387 0 0 1 0.127 0.365L0.116 0.334A0.353 0.353 0 0 0 0.158 0.316ZM-0.122 0.367A0.387 0.387 0 0 1 -0.169 0.348L-0.154 0.318A0.353 0.353 0 0 0 -0.112 0.335ZM-0.183 0.378A0.42 0.42 0 0 1 -0.231 0.351L-0.213 0.323A0.387 0.387 0 0 0 -0.169 0.348ZM-0.231 0.351A0.42 0.42 0 0 1 -0.275 0.317L-0.253 0.292A0.387 0.387 0 0 0 -0.213 0.323ZM-0.275 0.317A0.42 0.42 0 0 1 -0.314 0.279L-0.289 0.257A0.387 0.387 0 0 0 -0.253 0.292Z" fill="#5a78a8" fill-opacity="0.85"/>
<path d="M-0.084 0.128A0.153 0.153 0 0 1 -0.1 0.116L-0.079 0.091A0.12 0.12 0 0 0 -0.066 0.1ZM0.184 0.121A0.22 0.22 0 0 1 0.166 0.144L0.141 0.122A0.187 0.187 0 0 0 0.156 0.103ZM0.146 0.165A0.22 0.22 0 0 1 0.123 0.182L0.105 0.155A0.187 0.187 0 0 0 0.124 0.14ZM0.142 0.21A0.253 0.253 0 0 1 0.113 0.227L0.099 0.197A0.22 0.22 0 0 0 0.123 0.182ZM0.113 0.227A0.253 0.253 0 0 1 0.083 0.239L0.072 0.208A0.22 0.22 0 0 0 0.099 0.197ZM-0.166 0.191A0.253 0.253 0 0 1 -0.189 0.168L-0.165 0.146A0.22 0.22 0 0 0 -0.144 0.166ZM-0.017 0.286A0.287 0.287 0 0 1 -0.054 0.281L-0.048 0.249A0.253 0.253 0 0 0 -0.015 0.253ZM-0.054 0.281A0.287 0.287 0 0 1 -0.09 0.272L-0.08 0.24A0.253 0.253 0 0 0 -0.048 0.249ZM0.267 0.176A0.32 0.32 0 0 1 0.242 0.21L0.217 0.188A0.287 0.287 0 0 0 0.239 0.158ZM-0.176 0.267A0.32 0.32 0 0 1 -0.21 0.242L-0.188 0.217A0.287 0.287 0 0 0 -0.158 0.239ZM-0.21 0.242A0.32 0.32 0 0 1 -0.239 0.212L-0.214 0.19A0.287 0.287 0 0 0 -0.188 0.217ZM0.198 0.293A0.353 0.353 0 0 1 0.158 0.316L0.143 0.286A0.32 0.32 0 0 0 0.179 0.265ZM-0.154 0.318A0.353 0.353 0 0 1 -0.195 0.295L-0.176 0.267A0.32 0.32 0 0 0 -0.14 0.288ZM-0.195 0.295A0.353 0.353 0 0 1 -0.231 0.267L-0.21 0.242A0.32 0.32 0 0 0 -0.176 0.267ZM-0.169 0.348A0.387 0.387 0 0 1 -0.213 0.323L-0.195 0.295A0.353 0.353 0 0 0 -0.154 0.318ZM-0.213 0.323A0.387 0.387 0 0 1 -0.253 0.292L-0.231 0.267A0.353 0.353 0 0 0 -0.195 0.295Z" fill="#80a888" fill-opacity="0.85"/>
<path d="M0.061 0.176A0.187 0.187 0 0 1 0.038 0.183L0.031 0.15A0.153 0.153 0 0 0 0.05 0.145ZM0.038 0.183A0.187 0.187 0 0 1 0.013 0.186L0.011 0.153A0.153 0.153 0 0 0 0.031 0.15ZM-0.122 0.141A0.187 0.187 0 0 1 -0.14 0.124L-0.115 0.102A0.153 0.153 0 0 0 -0.1 0.116ZM-0.042 0.216A0.22 0.22 0 0 1 -0.069 0.209L-0.059 0.177A0.187 0.187 0 0 0 -0.035 0.183ZM-0.069 0.209A0.22 0.22 0 0 1 -0.096 0.198L-0.082 0.168A0.187 0.187 0 0 0 -0.059 0.177ZM-0.144 0.166A0.22 0.22 0 0 1 -0.165 0.146L-0.14 0.124A0.187 0.187 0 0 0 -0.122 0.141ZM0.19 0.214A0.287 0.287 0 0 1 0.161 0.237L0.142 0.21A0.253 0.253 0 0 0 0.168 0.189ZM0.094 0.271A0.287 0.287 0 0 1 0.058 0.281L0.051 0.248A0.253 0.253 0 0 0 0.083 0.239ZM0.179 0.265A0.32 0.32 0 0 1 0.143 0.286L0.128 0.256A0.287 0.287 0 0 0 0.161 0.237ZM-0.14 0.288A0.32 0.32 0 0 1 -0.176 0.267L-0.158 0.239A0.287 0.287 0 0 0 -0.125 0.258ZM0.158 0.316A0.353 0.353 0 0 1 0.116 0.334L0.105 0.302A0.32 0.32 0 0 0 0.143 0.286ZM0.025 0.352A0.353 0.353 0 0 1 -0.021 0.353L-0.019 0.319A0.32 0.32 0 0 0 0.023 0.319ZM0.323 0.213A0.387 0.387 0 0 1 0.292 0.253L0.267 0.231A0.353 0.353 0 0 0 0.295 0.195ZM0.279 0.314A0.42 0.42 0 0 1 0.235 0.348L0.217 0.32A0.387 0.387 0 0 0 0.257 0.289ZM0.235 0.348A0.42 0.42 0 0 1 0.188 0.376L0.173 0.346A0.387 0.387 0 0 0 0.217 0.32ZM-0.079 0.412A0.42 0.42 0 0 1 -0.133 0.399L-0.122 0.367A0.387 0.387 0 0 0 -0.073 0.38Z" fill="#4a5aa0" fill-opacity="0.8"/>
<path d="M-0.149 0.092A0.175 0.175 0 0 1 -0.16 0.072L-0.128 0.058A0.14 0.14 0 0 0 -0.119 0.073ZM-0.171 -0.038A0.175 0.175 0 0 1 -0.165 -0.059L-0.132 -0.047A0.14 0.14 0 0 0 -0.137 -0.03ZM-0.131 -0.116A0.175 0.175 0 0 1 -0.115 -0.132L-0.092 -0.106A0.14 0.14 0 0 0 -0.104 -0.093ZM-0.057 -0.166A0.175 0.175 0 0 1 -0.035 -0.171L-0.028 -0.137A0.14 0.14 0 0 0 -0.045 -0.132ZM-0.205 -0.045A0.21 0.21 0 0 1 -0.198 -0.071L-0.165 -0.059A0.175 0.175 0 0 0 -0.171 -0.038ZM-0.183 -0.163A0.245 0.245 0 0 1 -0.161 -0.185L-0.138 -0.159A0.21 0.21 0 0 0 -0.157 -0.14ZM-0.281 -0.143A0.315 0.315 0 0 1 -0.26 -0.178L-0.231 -0.158A0.28 0.28 0 0 0 -0.249 -0.127ZM-0.349 -0.031A0.35 0.35 0 0 1 -0.342 -0.075L-0.308 -0.068A0.315 0.315 0 0 0 -0.314 -0.028ZM-0.17 -0.345A0.385 0.385 0 0 1 -0.125 -0.364L-0.114 -0.331A0.35 0.35 0 0 0 -0.155 -0.314ZM-0.125 -0.364A0.385 0.385 0 0 1 -0.077 -0.377L-0.07 -0.343A0.35 0.35 0 0 0 -0.114 -0.331ZM-0.402 0.122A0.42 0.42 0 0 1 -0.414 0.07L-0.38 0.064A0.385 0.385 0 0 0 -0.368 0.112ZM-0.136 -0.397A0.42 0.42 0 0 1 -0.084 -0.411L-0.077 -0.377A0.385 0.385 0 0 0 -0.125 -0.364Z" fill="#7a88a0" fill-opacity="0.7"/>
<path d="M-0.175 0.007A0.175 0.175 0 0 1 -0.174 -0.015L-0.139 -0.012A0.14 0.14 0 0 0 -0.14 0.006ZM-0.077 -0.157A0.175 0.175 0 0 1 -0.057 -0.166L-0.045 -0.132A0.14 0.14 0 0 0 -0.062 -0.126ZM-0.198 -0.071A0.21 0.21 0 0 1 -0.187 -0.096L-0.156 -0.08A0.175 0.175 0 0 0 -0.165 -0.059ZM-0.068 -0.199A0.21 0.21 0 0 1 -0.042 -0.206L-0.035 -0.171A0.175 0.175 0 0 0 -0.057 -0.166ZM-0.244 -0.022A0.245 0.245 0 0 1 -0.239 -0.053L-0.205 -0.045A0.21 0.21 0 0 0 -0.209 -0.019ZM-0.231 -0.083A0.245 0.245 0 0 1 -0.218 -0.111L-0.187 -0.096A0.21 0.21 0 0 0 -0.198 -0.071ZM-0.108 -0.22A0.245 0.245 0 0 1 -0.079 -0.232L-0.068 -0.199A0.21 0.21 0 0 0 -0.093 -0.188ZM-0.268 0.082A0.28 0.28 0 0 1 -0.276 0.047L-0.242 0.041A0.245 0.245 0 0 0 -0.234 0.071ZM-0.28 0.011A0.28 0.28 0 0 1 -0.279 -0.025L-0.244 -0.022A0.245 0.245 0 0 0 -0.245 0.01ZM-0.183 -0.212A0.28 0.28 0 0 1 -0.155 -0.233L-0.136 -0.204A0.245 0.245 0 0 0 -0.161 -0.185ZM-0.287 0.129A0.315 0.315 0 0 1 -0.301 0.092L-0.268 0.082A0.28 0.28 0 0 0 -0.255 0.115ZM-0.315 0.012A0.315 0.315 0 0 1 -0.314 -0.028L-0.279 -0.025A0.28 0.28 0 0 0 -0.28 0.011ZM-0.314 -0.028A0.315 0.315 0 0 1 -0.308 -0.068L-0.273 -0.06A0.28 0.28 0 0 0 -0.279 -0.025ZM-0.35 0.014A0.35 0.35 0 0 1 -0.349 -0.031L-0.314 -0.028A0.315 0.315 0 0 0 -0.315 0.012ZM-0.318 -0.218A0.385 0.385 0 0 1 -0.287 -0.256L-0.261 -0.233A0.35 0.35 0 0 0 -0.289 -0.198Z" fill="#6a4a80" fill-opacity="0.7"/>
<path d="M-0.156 -0.08A0.175 0.175 0 0 1 -0.144 -0.099L-0.116 -0.079A0.14 0.14 0 0 0 -0.125 -0.064ZM-0.097 -0.146A0.175 0.175 0 0 1 -0.077 -0.157L-0.062 -0.126A0.14 0.14 0 0 0 -0.077 -0.117ZM-0.093 -0.188A0.21 0.21 0 0 1 -0.068 -0.199L-0.057 -0.166A0.175 0.175 0 0 0 -0.077 -0.157ZM-0.209 0.128A0.245 0.245 0 0 1 -0.223 0.101L-0.191 0.086A0.21 0.21 0 0 0 -0.179 0.11ZM-0.242 0.041A0.245 0.245 0 0 1 -0.245 0.01L-0.21 0.008A0.21 0.21 0 0 0 -0.207 0.035ZM-0.218 -0.111A0.245 0.245 0 0 1 -0.202 -0.138L-0.173 -0.119A0.21 0.21 0 0 0 -0.187 -0.096ZM-0.161 -0.185A0.245 0.245 0 0 1 -0.136 -0.204L-0.116 -0.175A0.21 0.21 0 0 0 -0.138 -0.159ZM-0.091 -0.265A0.28 0.28 0 0 1 -0.056 -0.274L-0.049 -0.24A0.245 0.245 0 0 0 -0.079 -0.232ZM-0.308 -0.068A0.315 0.315 0 0 1 -0.297 -0.106L-0.264 -0.095A0.28 0.28 0 0 0 -0.273 -0.06ZM-0.26 -0.178A0.315 0.315 0 0 1 -0.235 -0.21L-0.209 -0.186A0.28 0.28 0 0 0 -0.231 -0.158ZM-0.102 -0.298A0.315 0.315 0 0 1 -0.063 -0.309L-0.056 -0.274A0.28 0.28 0 0 0 -0.091 -0.265ZM-0.335 0.102A0.35 0.35 0 0 1 -0.345 0.058L-0.311 0.053A0.315 0.315 0 0 0 -0.301 0.092ZM-0.261 -0.233A0.35 0.35 0 0 1 -0.229 -0.264L-0.206 -0.238A0.315 0.315 0 0 0 -0.235 -0.21ZM-0.194 -0.292A0.35 0.35 0 0 1 -0.155 -0.314L-0.139 -0.282A0.315 0.315 0 0 0 -0.174 -0.262ZM-0.114 -0.331A0.35 0.35 0 0 1 -0.07 -0.343L-0.063 -0.309A0.315 0.315 0 0 0 -0.102 -0.298ZM-0.362 -0.13A0.385 0.385 0 0 1 -0.343 -0.175L-0.312 -0.159A0.35 0.35 0 0 0 -0.329 -0.118ZM-0.343 -0.175A0.385 0.385 0 0 1 -0.318 -0.218L-0.289 -0.198A0.35 0.35 0 0 0 -0.312 -0.159ZM-0.42 0.017A0.42 0.42 0 0 1 -0.418 -0.037L-0.383 -0.034A0.385 0.385 0 0 0 -0.385 0.015ZM-0.418 -0.037A0.42 0.42 0 0 1 -0.41 -0.09L-0.376 -0.083A0.385 0.385 0 0 0 -0.383 -0.034ZM-0.374 -0.191A0.42 0.42 0 0 1 -0.347 -0.237L-0.318 -0.218A0.385 0.385 0 0 0 -0.343 -0.175ZM-0.313 -0.28A0.42 0.42 0 0 1 -0.275 -0.317L-0.252 -0.291A0.385 0.385 0 0 0 -0.287 -0.256Z" fill="#6a6aa0" fill-opacity="0.8"/>
<path d="M-0.144 -0.099A0.175 0.175 0 0 1 -0.131 -0.116L-0.104 -0.093A0.14 0.14 0 0 0 -0.116 -0.079ZM-0.234 0.071A0.245 0.245 0 0 1 -0.242 0.041L-0.207 0.035A0.21 0.21 0 0 0 -0.201 0.061ZM-0.245 0.01A0.245 0.245 0 0 1 -0.244 -0.022L-0.209 -0.019A0.21 0.21 0 0 0 -0.21 0.008ZM-0.079 -0.232A0.245 0.245 0 0 1 -0.049 -0.24L-0.042 -0.206A0.21 0.21 0 0 0 -0.068 -0.199ZM-0.276 0.047A0.28 0.28 0 0 1 -0.28 0.011L-0.245 0.01A0.245 0.245 0 0 0 -0.242 0.041ZM-0.301 0.092A0.315 0.315 0 0 1 -0.311 0.053L-0.276 0.047A0.28 0.28 0 0 0 -0.268 0.082ZM-0.206 -0.238A0.315 0.315 0 0 1 -0.174 -0.262L-0.155 -0.233A0.28 0.28 0 0 0 -0.183 -0.212ZM-0.174 -0.262A0.315 0.315 0 0 1 -0.139 -0.282L-0.124 -0.251A0.28 0.28 0 0 0 -0.155 -0.233ZM-0.319 0.144A0.35 0.35 0 0 1 -0.335 0.102L-0.301 0.092A0.315 0.315 0 0 0 -0.287 0.129ZM-0.329 -0.118A0.35 0.35 0 0 1 -0.312 -0.159L-0.281 -0.143A0.315 0.315 0 0 0 -0.297 -0.106ZM-0.38 0.064A0.385 0.385 0 0 1 -0.385 0.015L-0.35 0.014A0.35 0.35 0 0 0 -0.345 0.058ZM-0.213 -0.321A0.385 0.385 0 0 1 -0.17 -0.345L-0.155 -0.314A0.35 0.35 0 0 0 -0.194 -0.292ZM-0.347 -0.237A0.42 0.42 0 0 1 -0.313 -0.28L-0.287 -0.256A0.385 0.385 0 0 0 -0.318 -0.218ZM-0.232 -0.35A0.42 0.42 0 0 1 -0.186 -0.377L-0.17 -0.345A0.385 0.385 0 0 0 -0.213 -0.321ZM-0.186 -0.377A0.42 0.42 0 0 1 -0.136 -0.397L-0.125 -0.364A0.385 0.385 0 0 0 -0.17 -0.345Z" fill="#a08070" fill-opacity="0.6"/>
<path d="M-0.115 -0.132A0.175 0.175 0 0 1 -0.097 -0.146L-0.077 -0.117A0.14 0.14 0 0 0 -0.092 -0.106ZM-0.179 0.11A0.21 0.21 0 0 1 -0.191 0.086L-0.16 0.072A0.175 0.175 0 0 0 -0.149 0.092ZM-0.207 0.035A0.21 0.21 0 0 1 -0.21 0.008L-0.175 0.007A0.175 0.175 0 0 0 -0.173 0.029ZM-0.173 -0.119A0.21 0.21 0 0 1 -0.157 -0.14L-0.131 -0.116A0.175 0.175 0 0 0 -0.144 -0.099ZM-0.223 0.101A0.245 0.245 0 0 1 -0.234 0.071L-0.201 0.061A0.21 0.21 0 0 0 -0.191 0.086ZM-0.239 -0.053A0.245 0.245 0 0 1 -0.231 -0.083L-0.198 -0.071A0.21 0.21 0 0 0 -0.205 -0.045ZM-0.136 -0.204A0.245 0.245 0 0 1 -0.108 -0.22L-0.093 -0.188A0.21 0.21 0 0 0 -0.116 -0.175ZM-0.273 -0.06A0.28 0.28 0 0 1 -0.264 -0.095L-0.231 -0.083A0.245 0.245 0 0 0 -0.239 -0.053ZM-0.209 -0.186A0.28 0.28 0 0 1 -0.183 -0.212L-0.161 -0.185A0.245 0.245 0 0 0 -0.183 -0.163ZM-0.155 -0.233A0.28 0.28 0 0 1 -0.124 -0.251L-0.108 -0.22A0.245 0.245 0 0 0 -0.136 -0.204ZM-0.124 -0.251A0.28 0.28 0 0 1 -0.091 -0.265L-0.079 -0.232A0.245 0.245 0 0 0 -0.108 -0.22ZM-0.268 0.165A0.315 0.315 0 0 1 -0.287 0.129L-0.255 0.115A0.28 0.28 0 0 0 -0.238 0.147ZM-0.345 0.058A0.35 0.35 0 0 1 -0.35 0.014L-0.315 0.012A0.315 0.315 0 0 0 -0.311 0.053ZM-0.289 -0.198A0.35 0.35 0 0 1 -0.261 -0.233L-0.235 -0.21A0.315 0.315 0 0 0 -0.26 -0.178ZM-0.155 -0.314A0.35 0.35 0 0 1 -0.114 -0.331L-0.102 -0.298A0.315 0.315 0 0 0 -0.139 -0.282ZM-0.328 0.202A0.385 0.385 0 0 1 -0.351 0.158L-0.319 0.144A0.35 0.35 0 0 0 -0.298 0.183ZM-0.351 0.158A0.385 0.385 0 0 1 -0.368 0.112L-0.335 0.102A0.35 0.35 0 0 0 -0.319 0.144ZM-0.368 0.112A0.385 0.385 0 0 1 -0.38 0.064L-0.345 0.058A0.35 0.35 0 0 0 -0.335 0.102ZM-0.414 0.07A0.42 0.42 0 0 1 -0.42 0.017L-0.385 0.015A0.385 0.385 0 0 0 -0.38 0.064ZM-0.395 -0.142A0.42 0.42 0 0 1 -0.374 -0.191L-0.343 -0.175A0.385 0.385 0 0 0 -0.362 -0.13Z" fill="#8a6a90" fill-opacity="0.7"/>
<path d="M0.015 -0.152A0.153 0.153 0 0 1 0.035 -0.149L0.027 -0.117A0.12 0.12 0 0 0 0.012 -0.119ZM0.138 -0.066A0.153 0.153 0 0 1 0.145 -0.048L0.114 -0.038A0.12 0.12 0 0 0 0.108 -0.052ZM0.15 0.029A0.153 0.153 0 0 1 0.145 0.048L0.114 0.038A0.12 0.12 0 0 0 0.118 0.023ZM0.107 -0.152A0.186 0.186 0 0 1 0.125 -0.137L0.103 -0.113A0.153 0.153 0 0 0 0.088 -0.125ZM0.142 -0.12A0.186 0.186 0 0 1 0.156 -0.101L0.128 -0.083A0.153 0.153 0 0 0 0.117 -0.099ZM0.156 -0.101A0.186 0.186 0 0 1 0.168 -0.08L0.138 -0.066A0.153 0.153 0 0 0 0.128 -0.083ZM0.177 -0.058A0.186 0.186 0 0 1 0.183 -0.035L0.15 -0.029A0.153 0.153 0 0 0 0.145 -0.048ZM0.186 0.012A0.186 0.186 0 0 1 0.183 0.036L0.15 0.029A0.153 0.153 0 0 0 0.153 0.01ZM0.022 -0.218A0.219 0.219 0 0 1 0.05 -0.213L0.042 -0.181A0.186 0.186 0 0 0 0.019 -0.185ZM0.102 -0.194A0.219 0.219 0 0 1 0.126 -0.179L0.107 -0.152A0.186 0.186 0 0 0 0.087 -0.165ZM0.184 -0.119A0.219 0.219 0 0 1 0.198 -0.095L0.168 -0.08A0.186 0.186 0 0 0 0.156 -0.101ZM0.219 -0.014A0.219 0.219 0 0 1 0.219 0.014L0.186 0.012A0.186 0.186 0 0 0 0.186 -0.012ZM0.215 0.042A0.219 0.219 0 0 1 0.208 0.069L0.176 0.059A0.186 0.186 0 0 0 0.183 0.036ZM0.025 -0.251A0.252 0.252 0 0 1 0.057 -0.245L0.05 -0.213A0.219 0.219 0 0 0 0.022 -0.218ZM0.117 -0.223A0.252 0.252 0 0 1 0.145 -0.206L0.126 -0.179A0.219 0.219 0 0 0 0.102 -0.194ZM0.145 -0.206A0.252 0.252 0 0 1 0.17 -0.186L0.148 -0.162A0.219 0.219 0 0 0 0.126 -0.179ZM0.17 -0.186A0.252 0.252 0 0 1 0.192 -0.163L0.167 -0.142A0.219 0.219 0 0 0 0.148 -0.162ZM0.227 -0.109A0.252 0.252 0 0 1 0.239 -0.079L0.208 -0.069A0.219 0.219 0 0 0 0.198 -0.095ZM0.028 -0.284A0.285 0.285 0 0 1 0.064 -0.278L0.057 -0.245A0.252 0.252 0 0 0 0.025 -0.251ZM0.164 -0.233A0.285 0.285 0 0 1 0.192 -0.21L0.17 -0.186A0.252 0.252 0 0 0 0.145 -0.206ZM0.217 -0.184A0.285 0.285 0 0 1 0.239 -0.155L0.212 -0.137A0.252 0.252 0 0 0 0.192 -0.163ZM0.28 0.055A0.285 0.285 0 0 1 0.27 0.09L0.239 0.08A0.252 0.252 0 0 0 0.247 0.048ZM-0.009 -0.318A0.318 0.318 0 0 1 0.032 -0.316L0.028 -0.284A0.285 0.285 0 0 0 -0.008 -0.285ZM0.302 -0.1A0.318 0.318 0 0 1 0.312 -0.06L0.28 -0.054A0.285 0.285 0 0 0 0.271 -0.089ZM0.317 0.021A0.318 0.318 0 0 1 0.312 0.061L0.28 0.055A0.285 0.285 0 0 0 0.284 0.019ZM-0.01 -0.351A0.351 0.351 0 0 1 0.035 -0.349L0.032 -0.316A0.318 0.318 0 0 0 -0.009 -0.318ZM0.268 -0.227A0.351 0.351 0 0 1 0.295 -0.191L0.267 -0.173A0.318 0.318 0 0 0 0.243 -0.206ZM0.295 -0.191A0.351 0.351 0 0 1 0.317 -0.152L0.287 -0.137A0.318 0.318 0 0 0 0.267 -0.173ZM-0.011 -0.384A0.384 0.384 0 0 1 0.038 -0.382L0.035 -0.349A0.351 0.351 0 0 0 -0.01 -0.351ZM0.259 -0.284A0.384 0.384 0 0 1 0.293 -0.248L0.268 -0.227A0.351 0.351 0 0 0 0.237 -0.259ZM0.383 -0.024A0.384 0.384 0 0 1 0.383 0.025L0.35 0.023A0.351 0.351 0 0 0 0.35 -0.022ZM0.383 0.025A0.384 0.384 0 0 1 0.377 0.074L0.344 0.067A0.351 0.351 0 0 0 0.35 0.023ZM0.377 0.074A0.384 0.384 0 0 1 0.364 0.121L0.333 0.111A0.351 0.351 0 0 0 0.344 0.067ZM0.094 -0.406A0.417 0.417 0 0 1 0.145 -0.391L0.134 -0.36A0.384 0.384 0 0 0 0.087 -0.374ZM0.396 -0.131A0.417 0.417 0 0 1 0.409 -0.079L0.377 -0.073A0.384 0.384 0 0 0 0.365 -0.12ZM0.409 0.08A0.417 0.417 0 0 1 0.396 0.132L0.364 0.121A0.384 0.384 0 0 0 0.377 0.074ZM-0.013 -0.45A0.45 0.45 0 0 1 0.045 -0.448L0.042 -0.415A0.417 0.417 0 0 0 -0.012 -0.417ZM0.045 -0.448A0.45 0.45 0 0 1 0.102 -0.438L0.094 -0.406A0.417 0.417 0 0 0 0.042 -0.415Z" fill="#a09050" fill-opacity="0.7"/>
<path d="M0.035 -0.149A0.153 0.153 0 0 1 0.053 -0.143L0.042 -0.112A0.12 0.12 0 0 0 0.027 -0.117ZM0.088 -0.125A0.153 0.153 0 0 1 0.103 -0.113L0.081 -0.089A0.12 0.12 0 0 0 0.069 -0.098ZM0.153 -0.01A0.153 0.153 0 0 1 0.153 0.01L0.12 0.008A0.12 0.12 0 0 0 0.12 -0.008ZM0.042 -0.181A0.186 0.186 0 0 1 0.065 -0.174L0.053 -0.143A0.153 0.153 0 0 0 0.035 -0.149ZM0.168 -0.08A0.186 0.186 0 0 1 0.177 -0.058L0.145 -0.048A0.153 0.153 0 0 0 0.138 -0.066ZM-0.007 -0.252A0.252 0.252 0 0 1 0.025 -0.251L0.022 -0.218A0.219 0.219 0 0 0 -0.006 -0.219ZM0.247 -0.048A0.252 0.252 0 0 1 0.252 -0.016L0.219 -0.014A0.219 0.219 0 0 0 0.215 -0.042ZM0.247 0.048A0.252 0.252 0 0 1 0.239 0.08L0.208 0.069A0.219 0.219 0 0 0 0.215 0.042ZM-0.008 -0.285A0.285 0.285 0 0 1 0.028 -0.284L0.025 -0.251A0.252 0.252 0 0 0 -0.007 -0.252ZM0.099 -0.267A0.285 0.285 0 0 1 0.133 -0.252L0.117 -0.223A0.252 0.252 0 0 0 0.088 -0.236ZM0.133 -0.252A0.285 0.285 0 0 1 0.164 -0.233L0.145 -0.206A0.252 0.252 0 0 0 0.117 -0.223ZM0.257 -0.123A0.285 0.285 0 0 1 0.271 -0.089L0.239 -0.079A0.252 0.252 0 0 0 0.227 -0.109ZM0.284 0.019A0.285 0.285 0 0 1 0.28 0.055L0.247 0.048A0.252 0.252 0 0 0 0.251 0.016ZM0.317 -0.02A0.318 0.318 0 0 1 0.317 0.021L0.284 0.019A0.285 0.285 0 0 0 0.284 -0.018ZM0.345 -0.067A0.351 0.351 0 0 1 0.35 -0.022L0.317 -0.02A0.318 0.318 0 0 0 0.312 -0.06ZM0.087 -0.374A0.384 0.384 0 0 1 0.134 -0.36L0.122 -0.329A0.351 0.351 0 0 0 0.079 -0.342ZM0.134 -0.36A0.384 0.384 0 0 1 0.179 -0.34L0.163 -0.311A0.351 0.351 0 0 0 0.122 -0.329ZM0.042 -0.415A0.417 0.417 0 0 1 0.094 -0.406L0.087 -0.374A0.384 0.384 0 0 0 0.038 -0.382ZM0.145 -0.391A0.417 0.417 0 0 1 0.194 -0.369L0.179 -0.34A0.384 0.384 0 0 0 0.134 -0.36ZM0.24 -0.341A0.417 0.417 0 0 1 0.281 -0.308L0.259 -0.284A0.384 0.384 0 0 0 0.221 -0.314ZM0.281 -0.308A0.417 0.417 0 0 1 0.318 -0.27L0.293 -0.248A0.384 0.384 0 0 0 0.259 -0.284ZM0.35 -0.227A0.417 0.417 0 0 1 0.376 -0.18L0.346 -0.166A0.384 0.384 0 0 0 0.322 -0.209ZM0.416 -0.026A0.417 0.417 0 0 1 0.416 0.027L0.383 0.025A0.384 0.384 0 0 0 0.383 -0.024ZM0.343 -0.291A0.45 0.45 0 0 1 0.378 -0.245L0.35 -0.227A0.417 0.417 0 0 0 0.318 -0.27ZM0.449 0.029A0.45 0.45 0 0 1 0.442 0.086L0.409 0.08A0.417 0.417 0 0 0 0.416 0.027Z" fill="#904020" fill-opacity="0.85"/>
<path d="M0.103 -0.113A0.153 0.153 0 0 1 0.117 -0.099L0.092 -0.078A0.12 0.12 0 0 0 0.081 -0.089ZM0.153 0.01A0.153 0.153 0 0 1 0.15 0.029L0.118 0.023A0.12 0.12 0 0 0 0.12 0.008ZM0.087 -0.165A0.186 0.186 0 0 1 0.107 -0.152L0.088 -0.125A0.153 0.153 0 0 0 0.071 -0.135ZM0.076 -0.205A0.219 0.219 0 0 1 0.102 -0.194L0.087 -0.165A0.186 0.186 0 0 0 0.065 -0.174ZM0.208 -0.069A0.219 0.219 0 0 1 0.215 -0.042L0.183 -0.035A0.186 0.186 0 0 0 0.177 -0.058ZM0.219 0.014A0.219 0.219 0 0 1 0.215 0.042L0.183 0.036A0.186 0.186 0 0 0 0.186 0.012ZM0.239 -0.079A0.252 0.252 0 0 1 0.247 -0.048L0.215 -0.042A0.219 0.219 0 0 0 0.208 -0.069ZM0.064 -0.278A0.285 0.285 0 0 1 0.099 -0.267L0.088 -0.236A0.252 0.252 0 0 0 0.057 -0.245ZM0.239 -0.155A0.285 0.285 0 0 1 0.257 -0.123L0.227 -0.109A0.252 0.252 0 0 0 0.212 -0.137ZM0.284 -0.018A0.285 0.285 0 0 1 0.284 0.019L0.251 0.016A0.252 0.252 0 0 0 0.252 -0.016ZM0.111 -0.298A0.318 0.318 0 0 1 0.148 -0.281L0.133 -0.252A0.285 0.285 0 0 0 0.099 -0.267ZM0.312 0.061A0.318 0.318 0 0 1 0.302 0.1L0.27 0.09A0.285 0.285 0 0 0 0.28 0.055ZM0.317 -0.152A0.351 0.351 0 0 1 0.333 -0.11L0.302 -0.1A0.318 0.318 0 0 0 0.287 -0.137ZM0.344 0.067A0.351 0.351 0 0 1 0.333 0.111L0.302 0.1A0.318 0.318 0 0 0 0.312 0.061ZM0.194 -0.369A0.417 0.417 0 0 1 0.24 -0.341L0.221 -0.314A0.384 0.384 0 0 0 0.179 -0.34ZM0.409 -0.079A0.417 0.417 0 0 1 0.416 -0.026L0.383 -0.024A0.384 0.384 0 0 0 0.377 -0.073ZM0.102 -0.438A0.45 0.45 0 0 1 0.157 -0.422L0.145 -0.391A0.417 0.417 0 0 0 0.094 -0.406ZM0.259 -0.368A0.45 0.45 0 0 1 0.303 -0.332L0.281 -0.308A0.417 0.417 0 0 0 0.24 -0.341ZM0.378 -0.245A0.45 0.45 0 0 1 0.406 -0.194L0.376 -0.18A0.417 0.417 0 0 0 0.35 -0.227ZM0.406 -0.194A0.45 0.45 0 0 1 0.427 -0.141L0.396 -0.131A0.417 0.417 0 0 0 0.376 -0.18ZM0.442 0.086A0.45 0.45 0 0 1 0.427 0.142L0.396 0.132A0.417 0.417 0 0 0 0.409 0.08Z" fill="#a06030" fill-opacity="0.8"/>
<path d="M0.117 -0.099A0.153 0.153 0 0 1 0.128 -0.083L0.101 -0.065A0.12 0.12 0 0 0 0.092 -0.078ZM0.065 -0.174A0.186 0.186 0 0 1 0.087 -0.165L0.071 -0.135A0.153 0.153 0 0 0 0.053 -0.143ZM0.183 -0.035A0.186 0.186 0 0 1 0.186 -0.012L0.153 -0.01A0.153 0.153 0 0 0 0.15 -0.029ZM0.183 0.036A0.186 0.186 0 0 1 0.176 0.059L0.145 0.048A0.153 0.153 0 0 0 0.15 0.029ZM0.05 -0.213A0.219 0.219 0 0 1 0.076 -0.205L0.065 -0.174A0.186 0.186 0 0 0 0.042 -0.181ZM0.198 -0.095A0.219 0.219 0 0 1 0.208 -0.069L0.177 -0.058A0.186 0.186 0 0 0 0.168 -0.08ZM0.215 -0.042A0.219 0.219 0 0 1 0.219 -0.014L0.186 -0.012A0.186 0.186 0 0 0 0.183 -0.035ZM0.057 -0.245A0.252 0.252 0 0 1 0.088 -0.236L0.076 -0.205A0.219 0.219 0 0 0 0.05 -0.213ZM0.088 -0.236A0.252 0.252 0 0 1 0.117 -0.223L0.102 -0.194A0.219 0.219 0 0 0 0.076 -0.205ZM0.192 -0.163A0.252 0.252 0 0 1 0.212 -0.137L0.184 -0.119A0.219 0.219 0 0 0 0.167 -0.142ZM0.212 -0.137A0.252 0.252 0 0 1 0.227 -0.109L0.198 -0.095A0.219 0.219 0 0 0 0.184 -0.119ZM0.252 -0.016A0.252 0.252 0 0 1 0.251 0.016L0.219 0.014A0.219 0.219 0 0 0 0.219 -0.014ZM0.271 -0.089A0.285 0.285 0 0 1 0.28 -0.054L0.247 -0.048A0.252 0.252 0 0 0 0.239 -0.079ZM0.28 -0.054A0.285 0.285 0 0 1 0.284 -0.018L0.252 -0.016A0.252 0.252 0 0 0 0.247 -0.048ZM0.072 -0.31A0.318 0.318 0 0 1 0.111 -0.298L0.099 -0.267A0.285 0.285 0 0 0 0.064 -0.278ZM0.214 -0.235A0.318 0.318 0 0 1 0.243 -0.206L0.217 -0.184A0.285 0.285 0 0 0 0.192 -0.21ZM0.243 -0.206A0.318 0.318 0 0 1 0.267 -0.173L0.239 -0.155A0.285 0.285 0 0 0 0.217 -0.184ZM0.267 -0.173A0.318 0.318 0 0 1 0.287 -0.137L0.257 -0.123A0.285 0.285 0 0 0 0.239 -0.155ZM0.079 -0.342A0.351 0.351 0 0 1 0.122 -0.329L0.111 -0.298A0.318 0.318 0 0 0 0.072 -0.31ZM0.122 -0.329A0.351 0.351 0 0 1 0.163 -0.311L0.148 -0.281A0.318 0.318 0 0 0 0.111 -0.298ZM0.202 -0.287A0.351 0.351 0 0 1 0.237 -0.259L0.214 -0.235A0.318 0.318 0 0 0 0.183 -0.26ZM0.377 -0.073A0.384 0.384 0 0 1 0.383 -0.024L0.35 -0.022A0.351 0.351 0 0 0 0.345 -0.067ZM0.303 -0.332A0.45 0.45 0 0 1 0.343 -0.291L0.318 -0.27A0.417 0.417 0 0 0 0.281 -0.308ZM0.427 -0.141A0.45 0.45 0 0 1 0.442 -0.085L0.409 -0.079A0.417 0.417 0 0 0 0.396 -0.131Z" fill="#b07040" fill-opacity="0.7"/>
<path d="M0.128 -0.083A0.153 0.153 0 0 1 0.138 -0.066L0.108 -0.052A0.12 0.12 0 0 0 0.101 -0.065ZM0.145 -0.048A0.153 0.153 0 0 1 0.15 -0.029L0.118 -0.023A0.12 0.12 0 0 0 0.114 -0.038ZM0.15 -0.029A0.153 0.153 0 0 1 0.153 -0.01L0.12 -0.008A0.12 0.12 0 0 0 0.118 -0.023ZM0.126 -0.179A0.219 0.219 0 0 1 0.148 -0.162L0.125 -0.137A0.186 0.186 0 0 0 0.107 -0.152ZM0.167 -0.142A0.219 0.219 0 0 1 0.184 -0.119L0.156 -0.101A0.186 0.186 0 0 0 0.142 -0.12ZM0.032 -0.316A0.318 0.318 0 0 1 0.072 -0.31L0.064 -0.278A0.285 0.285 0 0 0 0.028 -0.284ZM0.312 -0.06A0.318 0.318 0 0 1 0.317 -0.02L0.284 -0.018A0.285 0.285 0 0 0 0.28 -0.054ZM0.237 -0.259A0.351 0.351 0 0 1 0.268 -0.227L0.243 -0.206A0.318 0.318 0 0 0 0.214 -0.235ZM0.333 -0.11A0.351 0.351 0 0 1 0.345 -0.067L0.312 -0.06A0.318 0.318 0 0 0 0.302 -0.1ZM0.35 0.023A0.351 0.351 0 0 1 0.344 0.067L0.312 0.061A0.318 0.318 0 0 0 0.317 0.021ZM0.221 -0.314A0.384 0.384 0 0 1 0.259 -0.284L0.237 -0.259A0.351 0.351 0 0 0 0.202 -0.287ZM0.365 -0.12A0.384 0.384 0 0 1 0.377 -0.073L0.345 -0.067A0.351 0.351 0 0 0 0.333 -0.11ZM0.318 -0.27A0.417 0.417 0 0 1 0.35 -0.227L0.322 -0.209A0.384 0.384 0 0 0 0.293 -0.248ZM0.376 -0.18A0.417 0.417 0 0 1 0.396 -0.131L0.365 -0.12A0.384 0.384 0 0 0 0.346 -0.166ZM0.157 -0.422A0.45 0.45 0 0 1 0.209 -0.398L0.194 -0.369A0.417 0.417 0 0 0 0.145 -0.391Z" fill="#7a3020" fill-opacity="0.85"/>
<circle cx="0.03" cy="0" r="0.05" fill="#7a6a78" fill-opacity="0.85"/>
</g>
<path d="M189.2 475.8L242.1 452.6L240.9 449.8L187.4 471.4Z" fill="#e6e6e6" stroke="#000" stroke-width="1"/>
<path d="M189.8 471.7L142.7 435L140.8 437.3L186.8 475.5Z" fill="#e6e6e6" stroke="#000" stroke-width="1"/>
<path d="M185.9 473.3L180.1 533.3L183.1 533.7L190.7 473.9Z" fill="#e6e6e6" stroke="#000" stroke-width="1"/>
<g transform="matrix(86.5 2.9 0 -90.2 675.6 485.0)">
<use href="#pDt" opacity="0.00" transform="translate(2.169 1.15) rotate(290.4) scale(1.195)"/>
<path d="M0.395 0.084L0.638 0.358L0.265 0.735L0.1 0.587L-0.278 0.646L-0.545 0.37L-0.619 0.183L-0.757 -0.145L-0.684 -0.329L-0.272 -0.405L-0.247 -0.76L0.175 -0.529L0.365 -0.427L0.45 -0.417L0.541 -0.039Z" transform="translate(2.169 1.15)" fill="none" stroke="#ff0000" stroke-opacity="1.00" stroke-width="1.3" vector-effect="non-scaling-stroke"/>
<use href="#pDt" opacity="0.00" transform="translate(2.235 1.06) rotate(246) scale(1.193)"/>
<path d="M0.784 0.011L0.653 0.294L0.373 0.457L0.252 0.587L0.095 0.412L-0.091 0.548L-0.431 0.529L-0.426 0.25L-0.774 0.071L-0.748 -0.042L-0.532 -0.373L-0.381 -0.413L-0.163 -0.396L0.043 -0.749L0.169 -0.451L0.382 -0.391L0.537 -0.274Z" transform="translate(2.235 1.06)" fill="none" stroke="#0000ff" stroke-opacity="1.00" stroke-width="1.3" vector-effect="non-scaling-stroke"/>
<use href="#pDt" opacity="0.00" transform="translate(2.196 1.046) rotate(201.7) scale(1.192)"/>
<path d="M0.788 0.027L0.477 0.2L0.282 0.341L0.196 0.447L0.158 0.588L-0.223 0.651L-0.412 0.535L-0.448 0.411L-0.68 0.334L-0.727 0.055L-0.698 -0.195L-0.614 -0.37L-0.324 -0.49L-0.078 -0.422L-0.013 -0.437L0.262 -0.455L0.497 -0.585L0.49 -0.353L0.41 -0.041Z" transform="translate(2.196 1.046)" fill="none" stroke="#ff0000" stroke-opacity="1.00" stroke-width="1.3" vector-effect="non-scaling-stroke"/>
<use href="#pDt" opacity="0.00" transform="translate(2.264 1.032) rotate(157.3) scale(1.191)"/>
<path d="M0.393 0.205L0.36 0.479L0.36 0.534L-0.041 0.687L-0.115 0.44L-0.497 0.484L-0.542 0.1L-0.554 -0.088L-0.558 -0.485L-0.452 -0.547L-0.055 -0.463L0.031 -0.766L0.295 -0.474L0.469 -0.234L0.599 -0.028Z" transform="translate(2.264 1.032)" fill="none" stroke="#ff0000" stroke-opacity="1.00" stroke-width="1.3" vector-effect="non-scaling-stroke"/>
<use href="#pDt" opacity="0.00" transform="translate(2.222 1.024) rotate(113) scale(1.189)"/>
<path d="M0.45 0.013L0.654 0.436L0.345 0.335L0.102 0.741L-0.055 0.529L-0.214 0.411L-0.317 0.309L-0.616 0.076L-0.422 -0.068L-0.554 -0.395L-0.352 -0.31L-0.201 -0.486L0.027 -0.636L0.202 -0.42L0.548 -0.544L0.41 -0.094Z" transform="translate(2.222 1.024)" fill="none" stroke="#00e000" stroke-opacity="1.00" stroke-width="1.3" vector-effect="non-scaling-stroke"/>
<use href="#pDt" opacity="0.00" transform="translate(2.221 1.059) rotate(68.6) scale(1.188)"/>
<path d="M0.679 0.267L0.457 0.438L0.297 0.482L0.174 0.737L-0.024 0.514L-0.335 0.688L-0.477 0.377L-0.692 0.376L-0.404 0.051L-0.655 -0.134L-0.626 -0.442L-0.283 -0.653L-0.194 -0.61L0.067 -0.668L0.35 -0.673L0.418 -0.323L0.404 -0.146L0.419 -0.056Z" transform="translate(2.221 1.059)" fill="none" stroke="#ff0000" stroke-opacity="1.00" stroke-width="1.3" vector-effect="non-scaling-stroke"/>
<use href="#pDt" opacity="0.00" transform="translate(2.17 1.015) rotate(24.3) scale(1.187)"/>
<path d="M0.548 -0.02L0.589 0.251L0.362 0.331L0.139 0.526L-0.077 0.719L-0.234 0.48L-0.296 0.287L-0.623 0.38L-0.428 0.027L-0.434 -0.158L-0.556 -0.463L-0.373 -0.666L-0.061 -0.721L0.063 -0.639L0.251 -0.442L0.51 -0.326L0.448 -0.073Z" transform="translate(2.17 1.015)" fill="none" stroke="#ff0000" stroke-opacity="1.00" stroke-width="1.3" vector-effect="non-scaling-stroke"/>
<use href="#pDt" opacity="0.00" transform="translate(2.177 0.984) rotate(339.9) scale(1.185)"/>
<path d="M0.725 0.01L0.413 0.127L0.303 0.41L-0.022 0.714L-0.175 0.734L-0.352 0.195L-0.533 0.183L-0.656 -0.043L-0.434 -0.431L-0.156 -0.546L-0.025 -0.693L0.256 -0.438L0.584 -0.278Z" transform="translate(2.177 0.984)" fill="none" stroke="#0000ff" stroke-opacity="0.99" stroke-width="1.3" vector-effect="non-scaling-stroke"/>
<use href="#pDt" opacity="0.00" transform="translate(2.131 1.033) rotate(295.6) scale(1.184)"/>
<path d="M0.592 0.144L0.413 0.346L0.232 0.56L0.09 0.458L-0.153 0.589L-0.291 0.377L-0.619 0.276L-0.528 0.026L-0.513 -0.053L-0.521 -0.269L-0.438 -0.486L-0.245 -0.661L0.009 -0.469L0.127 -0.395L0.244 -0.321L0.46 -0.16L0.549 -0.056Z" transform="translate(2.131 1.033)" fill="none" stroke="#0000ff" stroke-opacity="0.99" stroke-width="1.3" vector-effect="non-scaling-stroke"/>
<use href="#pDt" opacity="0.00" transform="translate(2.159 0.949) rotate(251.2) scale(1.183)"/>
<path d="M0.425 0.098L0.351 0.237L0.435 0.364L0.224 0.737L0.046 0.658L-0.118 0.679L-0.487 0.578L-0.465 0.295L-0.457 0.154L-0.451 -0.003L-0.608 -0.324L-0.369 -0.542L-0.183 -0.725L-0.106 -0.727L0.309 -0.595L0.449 -0.581L0.652 -0.373L0.402 -0.108Z" transform="translate(2.159 0.949)" fill="none" stroke="#ff0000" stroke-opacity="0.99" stroke-width="1.3" vector-effect="non-scaling-stroke"/>
<use href="#pDt" opacity="0.00" transform="translate(2.096 1.103) rotate(206.9) scale(1.182)"/>
<path d="M0.535 0.033L0.659 0.288L0.317 0.257L0.186 0.549L-0.026 0.456L-0.198 0.642L-0.516 0.569L-0.707 0.295L-0.534 -0.014L-0.675 -0.177L-0.476 -0.448L-0.291 -0.374L-0.065 -0.405L0.159 -0.493L0.256 -0.643L0.507 -0.507L0.409 -0.116Z" transform="translate(2.096 1.103)" fill="none" stroke="#00e000" stroke-opacity="0.99" stroke-width="1.3" vector-effect="non-scaling-stroke"/>
<use href="#pDt" opacity="0.00" transform="translate(2.009 1.024) rotate(162.5) scale(1.18)"/>
<path d="M0.465 0.149L0.429 0.465L0.242 0.411L-0.09 0.4L-0.332 0.521L-0.661 0.342L-0.447 0.044L-0.681 -0.246L-0.472 -0.557L-0.098 -0.487L0.139 -0.408L0.6 -0.412L0.705 -0.085Z" transform="translate(2.009 1.024)" fill="none" stroke="#0000ff" stroke-opacity="0.99" stroke-width="1.3" vector-effect="non-scaling-stroke"/>
<use href="#pDt" opacity="0.00" transform="translate(2.06 1.095) rotate(118.2) scale(1.179)"/>
<path d="M0.415 0.196L0.612 0.386L0.269 0.469L0.088 0.635L-0.074 0.547L-0.289 0.421L-0.411 0.214L-0.75 0.12L-0.596 -0.109L-0.408 -0.243L-0.239 -0.36L-0.229 -0.528L-0.056 -0.505L0.229 -0.416L0.385 -0.326L0.528 -0.163L0.586 -0.02Z" transform="translate(2.06 1.095)" fill="none" stroke="#00e000" stroke-opacity="0.99" stroke-width="1.3" vector-effect="non-scaling-stroke"/>
<use href="#pDt" opacity="0.00" transform="translate(2.059 0.925) rotate(73.8) scale(1.178)"/>
<path d="M0.462 0.18L0.492 0.459L0.276 0.536L0.077 0.624L-0.104 0.554L-0.376 0.669L-0.351 0.257L-0.417 0.201L-0.566 0.012L-0.592 -0.256L-0.395 -0.314L-0.263 -0.445L-0.295 -0.667L0.059 -0.415L0.205 -0.565L0.364 -0.443L0.429 -0.219L0.615 -0.026Z" transform="translate(2.059 0.925)" fill="none" stroke="#0000ff" stroke-opacity="0.99" stroke-width="1.3" vector-effect="non-scaling-stroke"/>
<use href="#pDt" opacity="0.00" transform="translate(2.146 0.973) rotate(29.5) scale(1.176)"/>
<path d="M0.495 0.07L0.34 0.3L0.371 0.418L0.147 0.52L-0.062 0.45L-0.3 0.615L-0.438 0.362L-0.4 0.195L-0.632 -0.014L-0.412 -0.124L-0.325 -0.269L-0.34 -0.584L-0.047 -0.552L0.084 -0.736L0.171 -0.528L0.479 -0.375L0.697 -0.199L0.673 -0.013Z" transform="translate(2.146 0.973)" fill="none" stroke="#0000ff" stroke-opacity="0.99" stroke-width="1.3" vector-effect="non-scaling-stroke"/>
<use href="#pDt" opacity="0.00" transform="translate(2.01 1.038) rotate(345.1) scale(1.175)"/>
<path d="M0.428 0.261L0.335 0.333L0.065 0.489L-0.008 0.624L-0.417 0.631L-0.548 0.318L-0.649 0.014L-0.658 -0.268L-0.236 -0.364L-0.134 -0.656L0.138 -0.752L0.448 -0.527L0.493 -0.335L0.559 -0.13Z" transform="translate(2.01 1.038)" fill="none" stroke="#00e000" stroke-opacity="0.99" stroke-width="1.3" vector-effect="non-scaling-stroke"/>
<use href="#pDt" opacity="0.00" transform="translate(2.052 1.061) rotate(300.8) scale(1.174)"/>
<path d="M0.753 0.109L0.425 0.378L0.303 0.538L0.12 0.716L-0.309 0.655L-0.3 0.376L-0.406 0.228L-0.462 0L-0.651 -0.361L-0.39 -0.423L-0.139 -0.52L0.159 -0.586L0.43 -0.454L0.602 -0.224Z" transform="translate(2.052 1.061)" fill="none" stroke="#0000ff" stroke-opacity="0.99" stroke-width="1.3" vector-effect="non-scaling-stroke"/>
<use href="#pDt" opacity="0.00" transform="translate(2.016 0.959) rotate(256.4) scale(1.172)"/>
<path d="M0.508 0.089L0.508 0.388L0.279 0.403L0.094 0.626L0.036 0.465L-0.254 0.641L-0.406 0.603L-0.618 0.328L-0.586 0.063L-0.665 -0.038L-0.409 -0.232L-0.557 -0.423L-0.253 -0.383L0.009 -0.613L0.199 -0.619L0.267 -0.509L0.402 -0.426L0.727 -0.175L0.412 -0.001Z" transform="translate(2.016 0.959)" fill="none" stroke="#ff0000" stroke-opacity="0.99" stroke-width="1.3" vector-effect="non-scaling-stroke"/>
<use href="#pDt" opacity="0.00" transform="translate(1.943 0.956) rotate(212.1) scale(1.171)"/>
<path d="M0.434 -0.029L0.623 0.237L0.363 0.434L0.213 0.533L0.062 0.67L-0.101 0.475L-0.378 0.483L-0.524 0.254L-0.512 0.22L-0.446 -0.046L-0.618 -0.225L-0.311 -0.329L-0.207 -0.626L-0.02 -0.665L0.168 -0.413L0.52 -0.549L0.375 -0.22L0.452 -0.179Z" transform="translate(1.943 0.956)" fill="none" stroke="#00e000" stroke-opacity="0.99" stroke-width="1.3" vector-effect="non-scaling-stroke"/>
<use href="#pDt" opacity="0.00" transform="translate(1.985 1) rotate(167.7) scale(1.17)"/>
<path d="M0.678 0.247L0.563 0.498L0.359 0.632L0.082 0.54L-0.015 0.589L-0.279 0.609L-0.519 0.462L-0.577 0.414L-0.521 0.14L-0.74 -0.028L-0.558 -0.266L-0.329 -0.28L-0.276 -0.621L-0.075 -0.623L0.057 -0.461L0.301 -0.375L0.575 -0.376L0.638 -0.298L0.582 -0.087Z" transform="translate(1.985 1)" fill="none" stroke="#00e000" stroke-opacity="0.98" stroke-width="1.3" vector-effect="non-scaling-stroke"/>
<use href="#pDt" opacity="0.00" transform="translate(1.994 0.93) rotate(123.3) scale(1.168)"/>
<path d="M0.413 0.079L0.608 0.363L0.483 0.564L0.158 0.422L0.05 0.67L-0.215 0.626L-0.542 0.467L-0.658 0.333L-0.569 0.011L-0.643 -0.151L-0.439 -0.265L-0.242 -0.364L-0.23 -0.675L0.041 -0.42L0.304 -0.496L0.402 -0.473L0.508 -0.275L0.545 -0.004Z" transform="translate(1.994 0.93)" fill="none" stroke="#ff0000" stroke-opacity="0.98" stroke-width="1.3" vector-effect="non-scaling-stroke"/>
<use href="#pDt" opacity="0.00" transform="translate(1.878 0.899) rotate(79) scale(1.167)"/>
<path d="M0.444 0.047L0.527 0.233L0.322 0.314L0.126 0.543L-0.173 0.681L-0.252 0.383L-0.58 0.304L-0.583 -0.007L-0.567 -0.123L-0.362 -0.409L-0.193 -0.634L0.097 -0.661L0.245 -0.381L0.423 -0.319L0.663 -0.155Z" transform="translate(1.878 0.899)" fill="none" stroke="#ff0000" stroke-opacity="0.98" stroke-width="1.3" vector-effect="non-scaling-stroke"/>
<use href="#pDt" opacity="0.00" transform="translate(1.923 0.922) rotate(34.6) scale(1.166)"/>
<path d="M0.522 0.214L0.473 0.52L0.267 0.514L-0.036 0.458L-0.129 0.473L-0.526 0.453L-0.534 0.176L-0.681 -0.023L-0.566 -0.29L-0.389 -0.463L-0.278 -0.481L-0.098 -0.715L0.19 -0.476L0.479 -0.397L0.575 -0.246L0.468 0.034Z" transform="translate(1.923 0.922)" fill="none" stroke="#00e000" stroke-opacity="0.98" stroke-width="1.3" vector-effect="non-scaling-stroke"/>
<use href="#pDt" opacity="0.00" transform="translate(1.968 0.938) rotate(350.3) scale(1.164)"/>
<path d="M0.639 -0.033L0.409 0.395L0.462 0.528L0.008 0.706L-0.392 0.607L-0.36 0.291L-0.543 -0.029L-0.69 -0.127L-0.282 -0.329L-0.135 -0.496L0.167 -0.71L0.41 -0.509L0.592 -0.148Z" transform="translate(1.968 0.938)" fill="none" stroke="#0000ff" stroke-opacity="0.98" stroke-width="1.3" vector-effect="non-scaling-stroke"/>
<use href="#pDt" opacity="0.00" transform="translate(1.992 0.994) rotate(305.9) scale(1.163)"/>
<path d="M0.473 0.166L0.411 0.471L0.172 0.578L0.052 0.427L-0.154 0.401L-0.316 0.333L-0.476 0.184L-0.503 -0.018L-0.538 -0.321L-0.258 -0.399L0.074 -0.616L0.239 -0.374L0.396 -0.246L0.629 -0.161Z" transform="translate(1.992 0.994)" fill="none" stroke="#ff0000" stroke-opacity="0.98" stroke-width="1.3" vector-effect="non-scaling-stroke"/>
<use href="#pDt" opacity="0.00" transform="translate(1.849 0.94) rotate(261.6) scale(1.162)"/>
<path d="M0.723 0.085L0.621 0.311L0.33 0.285L0.337 0.601L-0.096 0.664L-0.161 0.675L-0.47 0.561L-0.53 0.317L-0.552 0.028L-0.588 -0.289L-0.532 -0.399L-0.264 -0.472L-0.083 -0.61L0.269 -0.525L0.409 -0.49L0.568 -0.149Z" transform="translate(1.849 0.94)" fill="none" stroke="#00e000" stroke-opacity="0.98" stroke-width="1.3" vector-effect="non-scaling-stroke"/>
<use href="#pDt" opacity="0.00" transform="translate(1.884 0.98) rotate(217.2) scale(1.16)"/>
<path d="M0.492 0.172L0.446 0.255L0.176 0.468L0.015 0.446L-0.288 0.479L-0.547 0.261L-0.475 -0.034L-0.672 -0.225L-0.27 -0.474L-0.023 -0.666L0.183 -0.381L0.382 -0.449L0.483 -0.139Z" transform="translate(1.884 0.98)" fill="none" stroke="#0000ff" stroke-opacity="0.98" stroke-width="1.3" vector-effect="non-scaling-stroke"/>
<use href="#pDt" opacity="0.00" transform="translate(1.926 0.861) rotate(172.9) scale(1.159)"/>
<path d="M0.613 0.298L0.492 0.515L0.185 0.624L-0.066 0.473L-0.454 0.482L-0.477 0.282L-0.552 0.066L-0.692 -0.261L-0.366 -0.303L-0.18 -0.381L0.194 -0.619L0.29 -0.606L0.431 -0.297L0.702 -0.155Z" transform="translate(1.926 0.861)" fill="none" stroke="#ff0000" stroke-opacity="0.98" stroke-width="1.3" vector-effect="non-scaling-stroke"/>
<use href="#pDt" opacity="0.00" transform="translate(1.891 0.858) rotate(128.5) scale(1.158)"/>
<path d="M0.507 0.114L0.476 0.441L0.188 0.422L0.033 0.611L-0.019 0.673L-0.373 0.617L-0.512 0.33L-0.721 0.132L-0.54 -0.076L-0.432 -0.205L-0.293 -0.535L-0.019 -0.737L0.051 -0.463L0.301 -0.594L0.38 -0.224L0.56 -0.201Z" transform="translate(1.891 0.858)" fill="none" stroke="#00e000" stroke-opacity="0.98" stroke-width="1.3" vector-effect="non-scaling-stroke"/>
<use href="#pDt" opacity="0.00" transform="translate(1.784 0.909) rotate(84.2) scale(1.157)"/>
<path d="M0.433 0.046L0.548 0.359L0.431 0.373L0.221 0.642L-0.061 0.519L-0.217 0.453L-0.586 0.315L-0.697 0.173L-0.426 -0.104L-0.35 -0.343L-0.25 -0.47L-0.06 -0.525L0.136 -0.572L0.303 -0.337L0.516 -0.25Z" transform="translate(1.784 0.909)" fill="none" stroke="#0000ff" stroke-opacity="0.98" stroke-width="1.3" vector-effect="non-scaling-stroke"/>
<use href="#pDt" opacity="0.00" transform="translate(1.906 0.822) rotate(39.8) scale(1.156)"/>
<path d="M0.513 0.096L0.358 0.235L0.399 0.371L0.256 0.599L-0.022 0.517L-0.19 0.564L-0.451 0.532L-0.391 0.239L-0.46 -0.042L-0.589 -0.157L-0.342 -0.353L-0.218 -0.43L-0.014 -0.607L0.165 -0.668L0.342 -0.637L0.422 -0.256L0.639 -0.183Z" transform="translate(1.906 0.822)" fill="none" stroke="#00e000" stroke-opacity="0.98" stroke-width="1.3" vector-effect="non-scaling-stroke"/>
<use href="#pDt" opacity="0.00" transform="translate(1.9 0.901) rotate(355.5) scale(1.155)"/>
<path d="M0.509 0.102L0.373 0.443L0.104 0.704L-0.171 0.543L-0.363 0.46L-0.62 0.179L-0.651 -0.139L-0.558 -0.46L-0.237 -0.368L-0.112 -0.693L0.188 -0.426L0.497 -0.498L0.58 -0.19Z" transform="translate(1.9 0.901)" fill="none" stroke="#0000ff" stroke-opacity="0.98" stroke-width="1.3" vector-effect="non-scaling-stroke"/>
<use href="#pDt" opacity="0.00" transform="translate(1.856 0.843) rotate(311.1) scale(1.154)"/>
<path d="M0.618 0.101L0.544 0.469L0.425 0.427L0.16 0.527L0.032 0.684L-0.19 0.43L-0.359 0.236L-0.551 0.185L-0.572 0.082L-0.468 -0.152L-0.391 -0.438L-0.266 -0.6L-0.013 -0.62L0.083 -0.702L0.485 -0.517L0.518 -0.406L0.555 -0.196Z" transform="translate(1.856 0.843)" fill="none" stroke="#0000ff" stroke-opacity="0.97" stroke-width="1.3" vector-effect="non-scaling-stroke"/>
<use href="#pDt" opacity="0.00" transform="translate(1.827 0.898) rotate(266.8) scale(1.153)"/>
<path d="M0.564 0.221L0.437 0.432L0.334 0.577L-0.053 0.614L-0.248 0.379L-0.565 0.401L-0.561 0.154L-0.612 -0.177L-0.584 -0.309L-0.255 -0.482L0.073 -0.527L0.2 -0.451L0.487 -0.264L0.55 -0.187Z" transform="translate(1.827 0.898)" fill="none" stroke="#ff0000" stroke-opacity="0.97" stroke-width="1.3" vector-effect="non-scaling-stroke"/>
<use href="#pDt" opacity="0.00" transform="translate(1.817 0.791) rotate(222.4) scale(1.152)"/>
<path d="M0.639 -0.062L0.456 0.174L0.186 0.461L0.142 0.622L-0.169 0.614L-0.373 0.526L-0.526 0.21L-0.542 -0.145L-0.478 -0.253L-0.294 -0.37L-0.125 -0.541L0.072 -0.432L0.516 -0.479L0.592 -0.194Z" transform="translate(1.817 0.791)" fill="none" stroke="#00e000" stroke-opacity="0.97" stroke-width="1.3" vector-effect="non-scaling-stroke"/>
<use href="#pDt" opacity="0.00" transform="translate(1.747 0.813) rotate(178.1) scale(1.152)"/>
<path d="M0.42 0.14L0.404 0.333L0.343 0.513L0.18 0.579L0.032 0.555L-0.151 0.614L-0.363 0.603L-0.633 0.291L-0.488 0.047L-0.587 -0.059L-0.446 -0.148L-0.461 -0.499L-0.234 -0.6L-0.046 -0.671L0.039 -0.631L0.342 -0.485L0.561 -0.425L0.594 -0.278L0.696 -0.034Z" transform="translate(1.747 0.813)" fill="none" stroke="#ff0000" stroke-opacity="0.97" stroke-width="1.3" vector-effect="non-scaling-stroke"/>
<use href="#pDt" opacity="0.00" transform="translate(1.79 0.8) rotate(133.7) scale(1.151)"/>
<path d="M0.696 0.002L0.667 0.242L0.362 0.396L0.196 0.613L-0.071 0.651L-0.369 0.414L-0.491 0.214L-0.578 0.057L-0.479 -0.055L-0.332 -0.295L-0.234 -0.375L-0.104 -0.537L0.104 -0.484L0.551 -0.408L0.484 -0.1Z" transform="translate(1.79 0.8)" fill="none" stroke="#00e000" stroke-opacity="0.97" stroke-width="1.3" vector-effect="non-scaling-stroke"/>
<use href="#pDt" opacity="0.00" transform="translate(1.862 0.818) rotate(89.4) scale(1.15)"/>
<path d="M0.587 0.158L0.465 0.327L0.227 0.615L0.105 0.618L-0.138 0.621L-0.371 0.512L-0.501 0.291L-0.674 -0.064L-0.646 -0.239L-0.442 -0.397L-0.223 -0.467L-0.084 -0.516L0.256 -0.448L0.295 -0.443L0.46 -0.243L0.58 0.051Z" transform="translate(1.862 0.818)" fill="none" stroke="#00e000" stroke-opacity="0.97" stroke-width="1.3" vector-effect="non-scaling-stroke"/>
<use href="#pDt" opacity="0.00" transform="translate(1.76 0.744) rotate(45) scale(1.149)"/>
<path d="M0.572 0.105L0.466 0.38L0.369 0.474L0.22 0.616L-0.083 0.559L-0.247 0.503L-0.442 0.404L-0.535 0.136L-0.518 0.073L-0.558 -0.185L-0.396 -0.261L-0.286 -0.654L-0.116 -0.581L0.146 -0.596L0.198 -0.404L0.473 -0.355L0.6 -0.223L0.671 0.039Z" transform="translate(1.76 0.744)" fill="none" stroke="#0000ff" stroke-opacity="0.97" stroke-width="1.3" vector-effect="non-scaling-stroke"/>
<use href="#pDt" opacity="0.00" transform="translate(1.771 0.834) rotate(0.7) scale(1.148)"/>
<path d="M0.438 0.264L0.264 0.365L0.097 0.551L-0.028 0.499L-0.347 0.368L-0.465 0.202L-0.448 -0.045L-0.458 -0.166L-0.442 -0.545L-0.206 -0.656L-0.024 -0.688L0.282 -0.352L0.482 -0.198L0.667 -0.079Z" transform="translate(1.771 0.834)" fill="none" stroke="#ff0000" stroke-opacity="0.97" stroke-width="1.3" vector-effect="non-scaling-stroke"/>
<use href="#pDt" opacity="0.00" transform="translate(1.772 0.739) rotate(316.3) scale(1.147)"/>
<path d="M0.655 0.195L0.406 0.387L0.324 0.505L0.137 0.578L-0.182 0.539L-0.512 0.422L-0.542 0.238L-0.557 -0.196L-0.411 -0.211L-0.272 -0.466L0.053 -0.668L0.17 -0.51L0.4 -0.42L0.496 -0.11Z" transform="translate(1.772 0.739)" fill="none" stroke="#0000ff" stroke-opacity="0.97" stroke-width="1.3" vector-effect="non-scaling-stroke"/>
<use href="#pDt" opacity="0.00" transform="translate(1.665 0.751) rotate(271.9) scale(1.146)"/>
<path d="M0.565 0.138L0.419 0.304L0.337 0.375L0.131 0.466L-0.026 0.541L-0.305 0.513L-0.511 0.48L-0.572 0.281L-0.438 0.099L-0.595 -0.089L-0.53 -0.455L-0.282 -0.341L-0.183 -0.504L0.066 -0.496L0.321 -0.513L0.289 -0.351L0.58 -0.234L0.572 -0.034Z" transform="translate(1.665 0.751)" fill="none" stroke="#ff0000" stroke-opacity="0.97" stroke-width="1.3" vector-effect="non-scaling-stroke"/>
<use href="#pDt" opacity="0.00" transform="translate(1.713 0.778) rotate(227.6) scale(1.145)"/>
<path d="M0.59 -0.018L0.602 0.369L0.462 0.337L0.26 0.529L0.072 0.7L-0.035 0.542L-0.25 0.387L-0.377 0.442L-0.553 0.174L-0.612 0.032L-0.469 -0.09L-0.509 -0.385L-0.248 -0.358L-0.233 -0.495L0.005 -0.528L0.145 -0.504L0.306 -0.383L0.49 -0.254L0.654 -0.137Z" transform="translate(1.713 0.778)" fill="none" stroke="#00e000" stroke-opacity="0.97" stroke-width="1.3" vector-effect="non-scaling-stroke"/>
<use href="#pDt" opacity="0.00" transform="translate(1.626 0.78) rotate(183.2) scale(1.144)"/>
<path d="M0.661 0.128L0.563 0.312L0.293 0.524L0.15 0.413L-0.039 0.444L-0.199 0.452L-0.482 0.301L-0.431 0.169L-0.469 -0.022L-0.542 -0.169L-0.468 -0.377L-0.234 -0.544L-0.007 -0.439L0.083 -0.594L0.381 -0.56L0.538 -0.264L0.453 -0.021Z" transform="translate(1.626 0.78)" fill="none" stroke="#00e000" stroke-opacity="0.97" stroke-width="1.3" vector-effect="non-scaling-stroke"/>
<use href="#pDt" opacity="0.00" transform="translate(1.74 0.708) rotate(138.9) scale(1.143)"/>
<path d="M0.459 0.073L0.588 0.286L0.398 0.46L0.121 0.62L-0.055 0.477L-0.196 0.479L-0.417 0.358L-0.42 0.165L-0.547 -0.012L-0.493 -0.108L-0.487 -0.495L-0.197 -0.576L0.041 -0.567L0.105 -0.444L0.473 -0.519L0.411 -0.305L0.595 -0.146Z" transform="translate(1.74 0.708)" fill="none" stroke="#0000ff" stroke-opacity="0.97" stroke-width="1.3" vector-effect="non-scaling-stroke"/>
<use href="#pDt" opacity="0.00" transform="translate(1.638 0.715) rotate(94.5) scale(1.142)"/>
<path d="M0.452 -0.017L0.513 0.299L0.234 0.386L0.044 0.481L-0.089 0.607L-0.361 0.529L-0.578 0.314L-0.594 0.043L-0.439 -0.354L-0.487 -0.437L-0.01 -0.515L0.05 -0.545L0.414 -0.388L0.48 -0.15Z" transform="translate(1.638 0.715)" fill="none" stroke="#00e000" stroke-opacity="0.96" stroke-width="1.3" vector-effect="non-scaling-stroke"/>
<use href="#pDt" opacity="0.00" transform="translate(1.67 0.725) rotate(50.2) scale(1.141)"/>
<path d="M0.51 0.104L0.466 0.258L0.341 0.375L0.195 0.582L-0.083 0.534L-0.274 0.53L-0.342 0.422L-0.643 0.264L-0.676 0.073L-0.587 -0.077L-0.394 -0.235L-0.35 -0.405L-0.366 -0.55L0.009 -0.571L0.095 -0.553L0.236 -0.445L0.395 -0.255L0.543 -0.245L0.649 0.017Z" transform="translate(1.67 0.725)" fill="none" stroke="#00e000" stroke-opacity="0.96" stroke-width="1.3" vector-effect="non-scaling-stroke"/>
<use href="#pDt" opacity="0.00" transform="translate(1.678 0.697) rotate(5.8) scale(1.14)"/>
<path d="M0.642 0.181L0.561 0.29L0.338 0.534L0.054 0.507L-0.05 0.483L-0.194 0.397L-0.405 0.235L-0.491 0.067L-0.674 0.027L-0.44 -0.147L-0.337 -0.493L-0.276 -0.464L-0.083 -0.461L0.246 -0.646L0.369 -0.333L0.607 -0.207L0.479 0.021Z" transform="translate(1.678 0.697)" fill="none" stroke="#0000ff" stroke-opacity="0.96" stroke-width="1.3" vector-effect="non-scaling-stroke"/>
<use href="#pDt" opacity="0.00" transform="translate(1.651 0.652) rotate(321.5) scale(1.139)"/>
<path d="M0.435 0.159L0.436 0.462L0.148 0.459L0.149 0.653L-0.1 0.574L-0.28 0.532L-0.431 0.379L-0.481 0.023L-0.492 -0.026L-0.581 -0.246L-0.353 -0.494L-0.191 -0.581L0.024 -0.454L0.359 -0.507L0.424 -0.308L0.449 -0.164L0.566 -0.07Z" transform="translate(1.651 0.652)" fill="none" stroke="#00e000" stroke-opacity="0.96" stroke-width="1.3" vector-effect="non-scaling-stroke"/>
<use href="#pDt" opacity="0.00" transform="translate(1.623 0.709) rotate(277.1) scale(1.138)"/>
<path d="M0.676 -0.028L0.563 0.334L0.439 0.402L0.275 0.51L0.143 0.631L-0.115 0.477L-0.171 0.463L-0.331 0.317L-0.522 0.316L-0.449 0L-0.55 -0.14L-0.577 -0.287L-0.337 -0.46L-0.112 -0.477L-0.021 -0.661L0.17 -0.442L0.435 -0.465L0.45 -0.289L0.579 -0.159Z" transform="translate(1.623 0.709)" fill="none" stroke="#0000ff" stroke-opacity="0.96" stroke-width="1.3" vector-effect="non-scaling-stroke"/>
<use href="#pDt" opacity="0.00" transform="translate(1.599 0.715) rotate(232.8) scale(1.137)"/>
<path d="M0.443 0.141L0.41 0.487L0.235 0.543L-0.115 0.65L-0.236 0.412L-0.516 0.386L-0.58 0.063L-0.592 -0.297L-0.353 -0.277L-0.22 -0.616L0.017 -0.459L0.244 -0.476L0.574 -0.334L0.599 -0.062Z" transform="translate(1.599 0.715)" fill="none" stroke="#0000ff" stroke-opacity="0.96" stroke-width="1.3" vector-effect="non-scaling-stroke"/>
<use href="#pDt" opacity="0.00" transform="translate(1.58 0.716) rotate(188.4) scale(1.136)"/>
<path d="M0.425 0.227L0.405 0.548L0.211 0.567L-0.067 0.571L-0.189 0.411L-0.514 0.288L-0.438 0.217L-0.448 0.015L-0.462 -0.341L-0.372 -0.42L-0.21 -0.611L0.209 -0.639L0.426 -0.544L0.509 -0.194L0.629 0.057Z" transform="translate(1.58 0.716)" fill="none" stroke="#00e000" stroke-opacity="0.96" stroke-width="1.3" vector-effect="non-scaling-stroke"/>
<use href="#pDt" opacity="0.00" transform="translate(1.563 0.59) rotate(144.1) scale(1.135)"/>
<path d="M0.536 0.251L0.377 0.315L0.114 0.656L-0.087 0.647L-0.372 0.439L-0.609 0.293L-0.473 0.087L-0.527 -0.13L-0.361 -0.28L-0.072 -0.498L-0.016 -0.555L0.358 -0.401L0.468 -0.284L0.648 0.066Z" transform="translate(1.563 0.59)" fill="none" stroke="#0000ff" stroke-opacity="0.96" stroke-width="1.3" vector-effect="non-scaling-stroke"/>
<use href="#pDt" opacity="0.00" transform="translate(1.509 0.649) rotate(99.7) scale(1.134)"/>
<path d="M0.615 0.083L0.482 0.198L0.3 0.343L0.162 0.447L-0.15 0.598L-0.267 0.456L-0.391 0.442L-0.588 0.213L-0.457 0.044L-0.54 -0.193L-0.384 -0.491L-0.103 -0.513L0.119 -0.667L0.275 -0.434L0.389 -0.465L0.607 -0.17Z" transform="translate(1.509 0.649)" fill="none" stroke="#0000ff" stroke-opacity="0.96" stroke-width="1.3" vector-effect="non-scaling-stroke"/>
<use href="#pDt" opacity="0.00" transform="translate(1.567 0.702) rotate(55.4) scale(1.133)"/>
<path d="M0.514 -0.036L0.402 0.231L0.375 0.324L0.267 0.608L0.092 0.639L-0.15 0.663L-0.353 0.49L-0.505 0.313L-0.517 0.077L-0.62 -0.272L-0.451 -0.375L-0.236 -0.464L-0.103 -0.59L0.137 -0.435L0.26 -0.559L0.48 -0.339L0.559 -0.067Z" transform="translate(1.567 0.702)" fill="none" stroke="#ff0000" stroke-opacity="0.96" stroke-width="1.3" vector-effect="non-scaling-stroke"/>
<use href="#pDt" opacity="0.01" transform="translate(1.598 0.669) rotate(11) scale(1.132)"/>
<path d="M0.368 0.271L0.324 0.434L0.23 0.571L-0.059 0.549L-0.35 0.302L-0.593 0.27L-0.439 -0.139L-0.401 -0.335L-0.374 -0.524L0.114 -0.547L0.171 -0.492L0.559 -0.192L0.503 -0.098Z" transform="translate(1.598 0.669)" fill="none" stroke="#00e000" stroke-opacity="0.96" stroke-width="1.3" vector-effect="non-scaling-stroke"/>
<use href="#pDt" opacity="0.01" transform="translate(1.533 0.661) rotate(326.7) scale(1.131)"/>
<path d="M0.397 0.298L0.267 0.534L0.043 0.488L-0.123 0.459L-0.483 0.469L-0.599 0.101L-0.631 -0.077L-0.466 -0.341L-0.342 -0.517L-0.022 -0.641L0.319 -0.419L0.58 -0.212L0.501 0.05Z" transform="translate(1.533 0.661)" fill="none" stroke="#ff0000" stroke-opacity="0.96" stroke-width="1.3" vector-effect="non-scaling-stroke"/>
<use href="#pDt" opacity="0.01" transform="translate(1.491 0.656) rotate(282.3) scale(1.13)"/>
<path d="M0.441 0.229L0.255 0.47L0.083 0.58L-0.171 0.632L-0.301 0.491L-0.446 0.302L-0.665 0.088L-0.49 -0.193L-0.301 -0.517L-0.223 -0.548L0.12 -0.588L0.342 -0.547L0.52 -0.387L0.608 -0.09Z" transform="translate(1.491 0.656)" fill="none" stroke="#00e000" stroke-opacity="0.95" stroke-width="1.3" vector-effect="non-scaling-stroke"/>
<use href="#pDt" opacity="0.01" transform="translate(1.61 0.639) rotate(238) scale(1.129)"/>
<path d="M0.503 0.117L0.494 0.325L0.309 0.433L0.048 0.452L-0.119 0.502L-0.294 0.427L-0.311 0.332L-0.413 0.196L-0.668 0.065L-0.658 -0.14L-0.44 -0.35L-0.316 -0.386L-0.077 -0.495L0.008 -0.501L0.263 -0.576L0.432 -0.434L0.489 -0.296L0.618 -0.05Z" transform="translate(1.61 0.639)" fill="none" stroke="#00e000" stroke-opacity="0.95" stroke-width="1.3" vector-effect="non-scaling-stroke"/>
<use href="#pDt" opacity="0.01" transform="translate(1.49 0.65) rotate(193.6) scale(1.128)"/>
<path d="M0.637 0.107L0.522 0.289L0.359 0.376L0.274 0.536L0.095 0.612L-0.194 0.617L-0.391 0.391L-0.423 0.216L-0.444 0.119L-0.512 -0.138L-0.552 -0.245L-0.301 -0.404L-0.136 -0.566L0.044 -0.545L0.181 -0.432L0.363 -0.562L0.505 -0.379L0.463 -0.077Z" transform="translate(1.49 0.65)" fill="none" stroke="#0000ff" stroke-opacity="0.95" stroke-width="1.3" vector-effect="non-scaling-stroke"/>
<use href="#pDt" opacity="0.01" transform="translate(1.445 0.76) rotate(149.2) scale(1.127)"/>
<path d="M0.616 -0.047L0.57 0.169L0.384 0.525L0.229 0.4L-0.12 0.568L-0.303 0.505L-0.402 0.424L-0.457 0.207L-0.642 0.047L-0.504 -0.206L-0.409 -0.312L-0.131 -0.654L-0.008 -0.535L0.209 -0.41L0.334 -0.4L0.586 -0.123Z" transform="translate(1.445 0.76)" fill="none" stroke="#ff0000" stroke-opacity="0.95" stroke-width="1.3" vector-effect="non-scaling-stroke"/>
<use href="#pDt" opacity="0.01" transform="translate(1.401 0.578) rotate(104.9) scale(1.126)"/>
<path d="M0.638 0.039L0.561 0.188L0.414 0.455L0.095 0.639L-0.087 0.504L-0.27 0.436L-0.455 0.422L-0.496 0.14L-0.61 -0.083L-0.537 -0.342L-0.277 -0.584L-0.027 -0.659L0.226 -0.46L0.422 -0.46L0.565 -0.299Z" transform="translate(1.401 0.578)" fill="none" stroke="#0000ff" stroke-opacity="0.95" stroke-width="1.3" vector-effect="non-scaling-stroke"/>
<use href="#pDt" opacity="0.01" transform="translate(1.455 0.577) rotate(60.5) scale(1.125)"/>
<path d="M0.488 0.009L0.386 0.402L0.33 0.575L0.017 0.662L-0.431 0.496L-0.443 0.247L-0.596 0.08L-0.469 -0.129L-0.348 -0.488L-0.178 -0.595L0.139 -0.558L0.319 -0.461L0.51 -0.149Z" transform="translate(1.455 0.577)" fill="none" stroke="#0000ff" stroke-opacity="0.95" stroke-width="1.3" vector-effect="non-scaling-stroke"/>
<use href="#pDt" opacity="0.01" transform="translate(1.439 0.558) rotate(16.2) scale(1.124)"/>
<path d="M0.527 0.18L0.439 0.286L0.241 0.442L-0.076 0.553L-0.186 0.457L-0.483 0.319L-0.582 0.177L-0.557 -0.027L-0.572 -0.329L-0.285 -0.408L-0.022 -0.508L0.067 -0.487L0.287 -0.426L0.593 -0.229L0.625 -0.167Z" transform="translate(1.439 0.558)" fill="none" stroke="#ff0000" stroke-opacity="0.95" stroke-width="1.3" vector-effect="non-scaling-stroke"/>
<use href="#pDt" opacity="0.01" transform="translate(1.366 0.682) rotate(331.8) scale(1.123)"/>
<path d="M0.636 0.044L0.367 0.307L0.293 0.534L0.026 0.491L-0.102 0.448L-0.246 0.434L-0.501 0.258L-0.593 0.145L-0.543 -0.139L-0.452 -0.306L-0.239 -0.557L-0.033 -0.568L0.229 -0.434L0.312 -0.404L0.643 -0.148Z" transform="translate(1.366 0.682)" fill="none" stroke="#0000ff" stroke-opacity="0.95" stroke-width="1.3" vector-effect="non-scaling-stroke"/>
<use href="#pDt" opacity="0.01" transform="translate(1.482 0.545) rotate(287.5) scale(1.122)"/>
<path d="M0.589 0.03L0.448 0.238L0.305 0.358L0.046 0.542L-0.135 0.641L-0.338 0.429L-0.639 0.106L-0.54 -0.038L-0.44 -0.376L-0.25 -0.431L-0.001 -0.551L0.063 -0.524L0.336 -0.428L0.513 -0.085Z" transform="translate(1.482 0.545)" fill="none" stroke="#0000ff" stroke-opacity="0.95" stroke-width="1.3" vector-effect="non-scaling-stroke"/>
<use href="#pDt" opacity="0.01" transform="translate(1.402 0.704) rotate(243.1) scale(1.121)"/>
<path d="M0.458 -0.037L0.534 0.243L0.323 0.337L0.278 0.558L0.018 0.479L-0.176 0.43L-0.218 0.436L-0.369 0.302L-0.558 0.251L-0.565 -0.129L-0.572 -0.252L-0.369 -0.411L-0.282 -0.484L0.032 -0.628L0.184 -0.537L0.25 -0.412L0.373 -0.331L0.522 -0.233Z" transform="translate(1.402 0.704)" fill="none" stroke="#00e000" stroke-opacity="0.95" stroke-width="1.3" vector-effect="non-scaling-stroke"/>
<use href="#pDt" opacity="0.01" transform="translate(1.342 0.599) rotate(198.8) scale(1.12)"/>
<path d="M0.569 0.102L0.584 0.236L0.391 0.47L0.143 0.58L-0.188 0.525L-0.366 0.343L-0.538 0.173L-0.592 -0.103L-0.52 -0.382L-0.201 -0.489L-0.074 -0.639L0.175 -0.637L0.39 -0.463L0.45 -0.267Z" transform="translate(1.342 0.599)" fill="none" stroke="#0000ff" stroke-opacity="0.95" stroke-width="1.3" vector-effect="non-scaling-stroke"/>
<use href="#pDt" opacity="0.02" transform="translate(1.371 0.512) rotate(154.4) scale(1.119)"/>
<path d="M0.501 0.125L0.415 0.28L0.446 0.391L0.192 0.496L0.031 0.502L-0.199 0.52L-0.377 0.332L-0.548 0.223L-0.475 0.037L-0.522 -0.164L-0.459 -0.411L-0.374 -0.542L-0.045 -0.486L0.19 -0.628L0.233 -0.399L0.484 -0.346L0.598 -0.14Z" transform="translate(1.371 0.512)" fill="none" stroke="#ff0000" stroke-opacity="0.95" stroke-width="1.3" vector-effect="non-scaling-stroke"/>
<use href="#pDt" opacity="0.02" transform="translate(1.396 0.543) rotate(110.1) scale(1.119)"/>
<path d="M0.624 0.088L0.453 0.335L0.404 0.355L0.176 0.503L-0.001 0.572L-0.251 0.572L-0.39 0.47L-0.469 0.154L-0.53 0.116L-0.506 -0.084L-0.401 -0.316L-0.282 -0.38L-0.062 -0.537L0.137 -0.612L0.291 -0.434L0.435 -0.317L0.513 -0.12Z" transform="translate(1.396 0.543)" fill="none" stroke="#00e000" stroke-opacity="0.95" stroke-width="1.3" vector-effect="non-scaling-stroke"/>
<use href="#pDt" opacity="0.02" transform="translate(1.374 0.577) rotate(65.7) scale(1.119)"/>
<path d="M0.468 0.124L0.506 0.261L0.246 0.469L0.121 0.563L0.015 0.485L-0.195 0.51L-0.402 0.414L-0.551 0.295L-0.501 0.049L-0.589 -0.274L-0.534 -0.375L-0.164 -0.513L-0.026 -0.483L0.233 -0.495L0.369 -0.513L0.589 -0.244L0.639 -0.024Z" transform="translate(1.374 0.577)" fill="none" stroke="#00e000" stroke-opacity="0.94" stroke-width="1.3" vector-effect="non-scaling-stroke"/>
<use href="#pDt" opacity="0.02" transform="translate(1.367 0.546) rotate(21.4) scale(1.118)"/>
<path d="M0.463 0.176L0.423 0.255L0.128 0.464L-0.01 0.508L-0.218 0.453L-0.443 0.356L-0.529 -0.049L-0.514 -0.135L-0.368 -0.374L-0.113 -0.526L0.044 -0.526L0.484 -0.418L0.457 -0.13Z" transform="translate(1.367 0.546)" fill="none" stroke="#ff0000" stroke-opacity="0.94" stroke-width="1.3" vector-effect="non-scaling-stroke"/>
<use href="#pDt" opacity="0.02" transform="translate(1.306 0.58) rotate(337) scale(1.118)"/>
<path d="M0.635 -0.055L0.457 0.195L0.48 0.419L0.062 0.623L-0.021 0.64L-0.225 0.517L-0.432 0.386L-0.555 0.013L-0.564 -0.194L-0.405 -0.251L-0.301 -0.406L0.062 -0.525L0.191 -0.464L0.33 -0.367L0.507 -0.28Z" transform="translate(1.306 0.58)" fill="none" stroke="#ff0000" stroke-opacity="0.94" stroke-width="1.3" vector-effect="non-scaling-stroke"/>
<use href="#pDt" opacity="0.02" transform="translate(1.294 0.656) rotate(292.7) scale(1.117)"/>
<path d="M0.538 0.022L0.477 0.236L0.284 0.398L0.25 0.436L0.051 0.637L-0.136 0.587L-0.374 0.448L-0.477 0.19L-0.628 0.165L-0.599 -0.158L-0.544 -0.265L-0.311 -0.358L-0.208 -0.611L0.15 -0.582L0.294 -0.422L0.362 -0.309L0.496 -0.221Z" transform="translate(1.294 0.656)" fill="none" stroke="#00e000" stroke-opacity="0.94" stroke-width="1.3" vector-effect="non-scaling-stroke"/>
<use href="#pDt" opacity="0.02" transform="translate(1.271 0.587) rotate(248.3) scale(1.117)"/>
<path d="M0.511 -0.075L0.496 0.12L0.339 0.329L0.226 0.423L0.028 0.587L-0.026 0.568L-0.288 0.568L-0.332 0.347L-0.461 0.111L-0.645 -0.076L-0.469 -0.243L-0.397 -0.362L-0.324 -0.499L-0.042 -0.516L0.156 -0.509L0.285 -0.383L0.418 -0.342L0.564 -0.283Z" transform="translate(1.271 0.587)" fill="none" stroke="#0000ff" stroke-opacity="0.94" stroke-width="1.3" vector-effect="non-scaling-stroke"/>
<use href="#pDt" opacity="0.03" transform="translate(1.291 0.556) rotate(204) scale(1.116)"/>
<path d="M0.516 0.233L0.479 0.429L0.357 0.43L0.199 0.551L0.054 0.532L-0.167 0.569L-0.411 0.458L-0.486 0.327L-0.479 0.069L-0.59 -0.146L-0.558 -0.238L-0.295 -0.387L-0.184 -0.52L0 -0.495L0.066 -0.612L0.257 -0.397L0.465 -0.297L0.436 -0.228L0.637 -0.049Z" transform="translate(1.291 0.556)" fill="none" stroke="#00e000" stroke-opacity="0.94" stroke-width="1.3" vector-effect="non-scaling-stroke"/>
<use href="#pDt" opacity="0.03" transform="translate(1.269 0.496) rotate(159.6) scale(1.116)"/>
<path d="M0.456 0.204L0.463 0.445L0.104 0.493L-0.131 0.617L-0.342 0.496L-0.423 0.21L-0.56 -0.034L-0.547 -0.22L-0.402 -0.398L-0.159 -0.47L-0.004 -0.482L0.369 -0.38L0.543 -0.224L0.566 -0.037Z" transform="translate(1.269 0.496)" fill="none" stroke="#0000ff" stroke-opacity="0.94" stroke-width="1.3" vector-effect="non-scaling-stroke"/>
<use href="#pDt" opacity="0.03" transform="translate(1.23 0.63) rotate(115.3) scale(1.115)"/>
<path d="M0.48 0.012L0.389 0.414L0.315 0.538L-0.112 0.541L-0.275 0.465L-0.394 0.403L-0.592 0.042L-0.484 -0.275L-0.451 -0.401L-0.234 -0.592L0.18 -0.453L0.296 -0.388L0.529 -0.146Z" transform="translate(1.23 0.63)" fill="none" stroke="#ff0000" stroke-opacity="0.94" stroke-width="1.3" vector-effect="non-scaling-stroke"/>
<use href="#pDt" opacity="0.03" transform="translate(1.26 0.541) rotate(70.9) scale(1.115)"/>
<path d="M0.512 0.033L0.461 0.319L0.478 0.412L0.21 0.483L-0.045 0.625L-0.223 0.555L-0.262 0.447L-0.543 0.307L-0.566 0.05L-0.561 -0.151L-0.446 -0.217L-0.46 -0.416L-0.252 -0.458L-0.095 -0.514L0.227 -0.556L0.389 -0.395L0.471 -0.398L0.606 -0.117Z" transform="translate(1.26 0.541)" fill="none" stroke="#ff0000" stroke-opacity="0.94" stroke-width="1.3" vector-effect="non-scaling-stroke"/>
<use href="#pDt" opacity="0.03" transform="translate(1.205 0.569) rotate(26.6) scale(1.114)"/>
<path d="M0.477 0.244L0.327 0.392L0.15 0.485L0.055 0.625L-0.164 0.526L-0.477 0.418L-0.564 0.157L-0.512 -0.05L-0.496 -0.293L-0.36 -0.43L-0.141 -0.517L-0.081 -0.517L0.166 -0.507L0.433 -0.32L0.546 -0.284L0.517 -0.081Z" transform="translate(1.205 0.569)" fill="none" stroke="#0000ff" stroke-opacity="0.94" stroke-width="1.3" vector-effect="non-scaling-stroke"/>
<use href="#pDt" opacity="0.03" transform="translate(1.237 0.514) rotate(342.2) scale(1.114)"/>
<path d="M0.502 0.334L0.329 0.365L0.108 0.583L-0.126 0.553L-0.42 0.322L-0.589 0.062L-0.521 -0.054L-0.452 -0.382L-0.213 -0.424L-0.054 -0.597L0.328 -0.533L0.51 -0.263L0.507 0.034Z" transform="translate(1.237 0.514)" fill="none" stroke="#ff0000" stroke-opacity="0.94" stroke-width="1.3" vector-effect="non-scaling-stroke"/>
<use href="#pDt" opacity="0.04" transform="translate(1.182 0.47) rotate(297.8) scale(1.113)"/>
<path d="M0.638 -0.005L0.476 0.294L0.233 0.477L0.099 0.475L-0.181 0.569L-0.464 0.416L-0.454 0.166L-0.602 -0.004L-0.535 -0.278L-0.427 -0.336L-0.119 -0.607L0.043 -0.613L0.273 -0.544L0.514 -0.31L0.541 -0.251Z" transform="translate(1.182 0.47)" fill="none" stroke="#00e000" stroke-opacity="0.94" stroke-width="1.3" vector-effect="non-scaling-stroke"/>
<use href="#pDt" opacity="0.04" transform="translate(1.198 0.541) rotate(253.5) scale(1.113)"/>
<path d="M0.586 0.141L0.484 0.358L0.257 0.525L-0.077 0.514L-0.257 0.446L-0.342 0.35L-0.609 0.076L-0.539 -0.117L-0.427 -0.369L-0.135 -0.534L0.052 -0.585L0.276 -0.473L0.352 -0.389L0.487 -0.197Z" transform="translate(1.198 0.541)" fill="none" stroke="#0000ff" stroke-opacity="0.93" stroke-width="1.3" vector-effect="non-scaling-stroke"/>
<use href="#pDt" opacity="0.04" transform="translate(1.149 0.64) rotate(209.1) scale(1.112)"/>
<path d="M0.624 0.059L0.526 0.243L0.2 0.509L-0.014 0.626L-0.258 0.444L-0.446 0.364L-0.55 0.085L-0.589 -0.169L-0.499 -0.203L-0.303 -0.438L-0.055 -0.503L0.149 -0.594L0.435 -0.346L0.484 -0.244Z" transform="translate(1.149 0.64)" fill="none" stroke="#ff0000" stroke-opacity="0.93" stroke-width="1.3" vector-effect="non-scaling-stroke"/>
<use href="#pDt" opacity="0.04" transform="translate(1.18 0.505) rotate(164.8) scale(1.112)"/>
<path d="M0.624 -0.005L0.452 0.272L0.263 0.483L0.142 0.459L-0.184 0.443L-0.427 0.283L-0.577 0.252L-0.612 -0.08L-0.388 -0.499L-0.218 -0.448L0.125 -0.542L0.331 -0.518L0.536 -0.248Z" transform="translate(1.18 0.505)" fill="none" stroke="#00e000" stroke-opacity="0.93" stroke-width="1.3" vector-effect="non-scaling-stroke"/>
<use href="#pDt" opacity="0.05" transform="translate(1.112 0.468) rotate(120.4) scale(1.111)"/>
<path d="M0.538 -0.002L0.47 0.207L0.345 0.442L0.24 0.435L0.003 0.518L-0.117 0.579L-0.364 0.397L-0.471 0.22L-0.559 0.057L-0.597 -0.112L-0.503 -0.335L-0.341 -0.479L-0.274 -0.501L-0.024 -0.497L0.119 -0.509L0.327 -0.51L0.505 -0.299L0.582 -0.063Z" transform="translate(1.112 0.468)" fill="none" stroke="#00e000" stroke-opacity="0.93" stroke-width="1.3" vector-effect="non-scaling-stroke"/>
<use href="#pDt" opacity="0.05" transform="translate(1.13 0.489) rotate(76.1) scale(1.111)"/>
<path d="M0.557 0.09L0.461 0.317L0.378 0.469L0.197 0.453L-0.118 0.519L-0.319 0.507L-0.413 0.323L-0.482 0.069L-0.556 -0.136L-0.359 -0.433L-0.16 -0.497L-0.081 -0.475L0.123 -0.545L0.462 -0.393L0.573 -0.129Z" transform="translate(1.13 0.489)" fill="none" stroke="#0000ff" stroke-opacity="0.93" stroke-width="1.3" vector-effect="non-scaling-stroke"/>
<use href="#pDt" opacity="0.05" transform="translate(1.098 0.488) rotate(31.7) scale(1.11)"/>
<path d="M0.586 0.149L0.515 0.223L0.403 0.385L0.271 0.539L0.08 0.546L-0.251 0.575L-0.392 0.47L-0.488 0.392L-0.572 0.229L-0.522 -0.073L-0.536 -0.209L-0.495 -0.333L-0.328 -0.409L-0.088 -0.585L0.067 -0.541L0.217 -0.582L0.428 -0.348L0.472 -0.246L0.608 -0.01Z" transform="translate(1.098 0.488)" fill="none" stroke="#00e000" stroke-opacity="0.93" stroke-width="1.3" vector-effect="non-scaling-stroke"/>
<use href="#pDt" opacity="0.06" transform="translate(1.12 0.465) rotate(347.4) scale(1.11)"/>
<path d="M0.571 0.194L0.353 0.395L0.28 0.462L-0.002 0.498L-0.234 0.508L-0.392 0.338L-0.609 0.05L-0.569 -0.194L-0.316 -0.369L-0.185 -0.493L0.026 -0.588L0.261 -0.49L0.414 -0.288L0.547 -0.035Z" transform="translate(1.12 0.465)" fill="none" stroke="#00e000" stroke-opacity="0.93" stroke-width="1.3" vector-effect="non-scaling-stroke"/>
<use href="#pDt" opacity="0.06" transform="translate(1.064 0.479) rotate(303) scale(1.109)"/>
<path d="M0.571 0.25L0.469 0.397L0.297 0.392L0.147 0.527L-0.142 0.501L-0.384 0.44L-0.446 0.23L-0.493 0.116L-0.59 -0.198L-0.493 -0.349L-0.225 -0.55L-0.015 -0.564L0.093 -0.512L0.365 -0.338L0.401 -0.277L0.538 -0.06Z" transform="translate(1.064 0.479)" fill="none" stroke="#ff0000" stroke-opacity="0.93" stroke-width="1.3" vector-effect="non-scaling-stroke"/>
<use href="#pDt" opacity="0.06" transform="translate(1.061 0.424) rotate(258.7) scale(1.109)"/>
<path d="M0.587 0.192L0.364 0.331L0.328 0.428L0.138 0.587L-0.114 0.533L-0.202 0.588L-0.433 0.406L-0.536 0.272L-0.593 0.079L-0.544 -0.143L-0.553 -0.28L-0.385 -0.474L-0.088 -0.601L-0.004 -0.58L0.22 -0.49L0.407 -0.469L0.45 -0.292L0.615 -0.049Z" transform="translate(1.061 0.424)" fill="none" stroke="#ff0000" stroke-opacity="0.93" stroke-width="1.3" vector-effect="non-scaling-stroke"/>
<use href="#pDt" opacity="0.07" transform="translate(1.061 0.456) rotate(214.3) scale(1.108)"/>
<path d="M0.575 -0.043L0.555 0.244L0.423 0.279L0.304 0.396L0.051 0.552L-0.173 0.578L-0.281 0.434L-0.413 0.454L-0.505 0.203L-0.568 0.066L-0.519 -0.228L-0.425 -0.326L-0.253 -0.437L-0.16 -0.6L0.076 -0.496L0.339 -0.492L0.4 -0.336L0.535 -0.164Z" transform="translate(1.061 0.456)" fill="none" stroke="#0000ff" stroke-opacity="0.93" stroke-width="1.3" vector-effect="non-scaling-stroke"/>
<use href="#pDt" opacity="0.07" transform="translate(1.025 0.449) rotate(170) scale(1.108)"/>
<path d="M0.482 0.151L0.412 0.26L0.266 0.506L0.141 0.577L-0.117 0.581L-0.269 0.486L-0.389 0.431L-0.586 0.139L-0.522 0.008L-0.526 -0.197L-0.431 -0.423L-0.325 -0.434L-0.137 -0.48L0.158 -0.586L0.26 -0.48L0.482 -0.335L0.578 -0.156L0.529 -0.048Z" transform="translate(1.025 0.449)" fill="none" stroke="#ff0000" stroke-opacity="0.93" stroke-width="1.3" vector-effect="non-scaling-stroke"/>
<use href="#pDt" opacity="0.07" transform="translate(0.952 0.496) rotate(125.6) scale(1.107)"/>
<path d="M0.469 0.176L0.379 0.456L0.159 0.544L0.104 0.551L-0.135 0.491L-0.319 0.424L-0.492 0.196L-0.552 0.013L-0.502 -0.127L-0.372 -0.389L-0.193 -0.571L0.05 -0.573L0.258 -0.505L0.435 -0.416L0.487 -0.311L0.578 0.039Z" transform="translate(0.952 0.496)" fill="none" stroke="#ff0000" stroke-opacity="0.93" stroke-width="1.3" vector-effect="non-scaling-stroke"/>
<use href="#pDt" opacity="0.08" transform="translate(0.984 0.438) rotate(81.3) scale(1.107)"/>
<path d="M0.524 0.136L0.406 0.287L0.297 0.393L0.106 0.486L0.021 0.526L-0.21 0.548L-0.369 0.329L-0.499 0.348L-0.52 0.04L-0.572 -0.108L-0.452 -0.293L-0.321 -0.404L-0.152 -0.52L-0.041 -0.504L0.188 -0.545L0.277 -0.493L0.481 -0.384L0.463 -0.229L0.532 0.046Z" transform="translate(0.984 0.438)" fill="none" stroke="#0000ff" stroke-opacity="0.93" stroke-width="1.3" vector-effect="non-scaling-stroke"/>
<use href="#pDt" opacity="0.08" transform="translate(0.982 0.446) rotate(36.9) scale(1.106)"/>
<path d="M0.539 0.148L0.431 0.279L0.387 0.306L0.225 0.501L0.145 0.525L-0.078 0.59L-0.319 0.503L-0.478 0.318L-0.498 0.126L-0.555 -0.019L-0.522 -0.125L-0.436 -0.292L-0.419 -0.447L-0.13 -0.506L0.031 -0.597L0.194 -0.534L0.298 -0.449L0.45 -0.329L0.493 -0.093Z" transform="translate(0.982 0.446)" fill="none" stroke="#0000ff" stroke-opacity="0.92" stroke-width="1.3" vector-effect="non-scaling-stroke"/>
<use href="#pDt" opacity="0.09" transform="translate(0.932 0.381) rotate(352.6) scale(1.106)"/>
<path d="M0.599 0.035L0.498 0.269L0.33 0.515L0.115 0.581L0.042 0.518L-0.279 0.487L-0.422 0.309L-0.549 0.207L-0.569 -0.065L-0.507 -0.257L-0.397 -0.409L-0.107 -0.584L0.139 -0.514L0.208 -0.496L0.438 -0.259L0.523 -0.214Z" transform="translate(0.932 0.381)" fill="none" stroke="#00e000" stroke-opacity="0.92" stroke-width="1.3" vector-effect="non-scaling-stroke"/>
<use href="#pDt" opacity="0.09" transform="translate(0.899 0.452) rotate(308.2) scale(1.105)"/>
<path d="M0.563 -0.005L0.466 0.24L0.359 0.358L0.095 0.568L-0.23 0.553L-0.362 0.403L-0.467 0.23L-0.516 0.08L-0.516 -0.328L-0.261 -0.46L-0.202 -0.52L0.156 -0.589L0.416 -0.432L0.556 -0.125Z" transform="translate(0.899 0.452)" fill="none" stroke="#00e000" stroke-opacity="0.92" stroke-width="1.3" vector-effect="non-scaling-stroke"/>
<use href="#pDt" opacity="0.10" transform="translate(0.997 0.397) rotate(263.9) scale(1.105)"/>
<path d="M0.535 0.046L0.559 0.209L0.37 0.351L0.285 0.44L0.084 0.545L-0.157 0.471L-0.355 0.434L-0.412 0.292L-0.483 0.119L-0.584 -0.091L-0.428 -0.392L-0.291 -0.409L-0.054 -0.602L0.029 -0.597L0.33 -0.463L0.423 -0.285L0.508 -0.152Z" transform="translate(0.997 0.397)" fill="none" stroke="#ff0000" stroke-opacity="0.92" stroke-width="1.3" vector-effect="non-scaling-stroke"/>
<use href="#pDt" opacity="0.10" transform="translate(0.957 0.404) rotate(219.5) scale(1.104)"/>
<path d="M0.521 0.164L0.424 0.284L0.168 0.467L-0.001 0.576L-0.3 0.49L-0.421 0.363L-0.513 0.283L-0.504 -0.078L-0.548 -0.192L-0.422 -0.382L-0.236 -0.516L0.145 -0.544L0.28 -0.428L0.488 -0.242L0.531 -0.11Z" transform="translate(0.957 0.404)" fill="none" stroke="#ff0000" stroke-opacity="0.92" stroke-width="1.3" vector-effect="non-scaling-stroke"/>
<use href="#pDt" opacity="0.11" transform="translate(0.913 0.325) rotate(175.1) scale(1.104)"/>
<path d="M0.59 0.076L0.476 0.256L0.448 0.371L0.2 0.487L0.045 0.576L-0.281 0.426L-0.478 0.321L-0.481 0.139L-0.509 -0.013L-0.447 -0.225L-0.373 -0.41L-0.242 -0.525L0.028 -0.514L0.273 -0.433L0.462 -0.324L0.555 -0.223Z" transform="translate(0.913 0.325)" fill="none" stroke="#00e000" stroke-opacity="0.92" stroke-width="1.3" vector-effect="non-scaling-stroke"/>
<use href="#pDt" opacity="0.11" transform="translate(0.961 0.348) rotate(130.8) scale(1.103)"/>
<path d="M0.52 0.037L0.452 0.292L0.341 0.401L0.143 0.537L-0.004 0.507L-0.15 0.584L-0.446 0.404L-0.427 0.304L-0.569 0.128L-0.553 -0.125L-0.414 -0.344L-0.233 -0.482L-0.095 -0.59L0.179 -0.545L0.283 -0.42L0.423 -0.345L0.503 -0.181Z" transform="translate(0.961 0.348)" fill="none" stroke="#ff0000" stroke-opacity="0.92" stroke-width="1.3" vector-effect="non-scaling-stroke"/>
<use href="#pDt" opacity="0.12" transform="translate(0.933 0.394) rotate(86.4) scale(1.103)"/>
<path d="M0.586 0.012L0.509 0.177L0.345 0.399L0.157 0.502L0.046 0.563L-0.166 0.486L-0.325 0.402L-0.386 0.34L-0.453 0.209L-0.595 0.077L-0.517 -0.179L-0.468 -0.343L-0.375 -0.419L-0.18 -0.468L-0.003 -0.517L0.155 -0.505L0.302 -0.452L0.463 -0.311L0.537 -0.051Z" transform="translate(0.933 0.394)" fill="none" stroke="#00e000" stroke-opacity="0.92" stroke-width="1.3" vector-effect="non-scaling-stroke"/>
<use href="#pDt" opacity="0.12" transform="translate(0.892 0.403) rotate(42.1) scale(1.102)"/>
<path d="M0.567 0.171L0.317 0.388L0.124 0.524L0.048 0.592L-0.247 0.466L-0.41 0.373L-0.535 0.22L-0.51 -0.125L-0.464 -0.317L-0.232 -0.525L-0.043 -0.55L0.144 -0.537L0.28 -0.474L0.541 -0.204L0.496 -0.077Z" transform="translate(0.892 0.403)" fill="none" stroke="#00e000" stroke-opacity="0.92" stroke-width="1.3" vector-effect="non-scaling-stroke"/>
<use href="#pDt" opacity="0.13" transform="translate(0.868 0.393) rotate(357.7) scale(1.102)"/>
<path d="M0.552 0.119L0.532 0.227L0.324 0.472L0.149 0.521L0.088 0.512L-0.125 0.524L-0.356 0.403L-0.529 0.272L-0.575 0.004L-0.475 -0.196L-0.416 -0.365L-0.351 -0.409L-0.108 -0.58L0.063 -0.595L0.318 -0.458L0.397 -0.394L0.533 -0.106Z" transform="translate(0.868 0.393)" fill="none" stroke="#0000ff" stroke-opacity="0.92" stroke-width="1.3" vector-effect="non-scaling-stroke"/>
<use href="#pDt" opacity="0.14" transform="translate(0.856 0.331) rotate(313.4) scale(1.101)"/>
<path d="M0.572 -0.009L0.468 0.297L0.31 0.45L0.014 0.534L-0.12 0.5L-0.439 0.364L-0.566 0.176L-0.549 -0.211L-0.396 -0.344L-0.218 -0.525L0.032 -0.576L0.365 -0.422L0.485 -0.35Z" transform="translate(0.856 0.331)" fill="none" stroke="#00e000" stroke-opacity="0.92" stroke-width="1.3" vector-effect="non-scaling-stroke"/>
<use href="#pDt" opacity="0.14" transform="translate(0.855 0.365) rotate(269) scale(1.101)"/>
<path d="M0.456 0.214L0.488 0.278L0.369 0.425L0.17 0.483L-0.105 0.537L-0.243 0.477L-0.41 0.391L-0.507 0.28L-0.579 0.089L-0.564 -0.132L-0.438 -0.255L-0.34 -0.385L-0.114 -0.493L0.102 -0.582L0.224 -0.489L0.382 -0.395L0.525 -0.183L0.542 -0.09Z" transform="translate(0.855 0.365)" fill="none" stroke="#0000ff" stroke-opacity="0.92" stroke-width="1.3" vector-effect="non-scaling-stroke"/>
<use href="#pDt" opacity="0.15" transform="translate(0.835 0.346) rotate(224.7) scale(1.1)"/>
<path d="M0.549 0.041L0.542 0.237L0.417 0.414L0.271 0.526L0.015 0.538L-0.06 0.568L-0.215 0.5L-0.387 0.383L-0.506 0.299L-0.562 0.05L-0.502 -0.193L-0.422 -0.343L-0.269 -0.475L-0.121 -0.547L0.071 -0.506L0.157 -0.546L0.275 -0.449L0.416 -0.304L0.541 -0.085Z" transform="translate(0.835 0.346)" fill="none" stroke="#ff0000" stroke-opacity="0.91" stroke-width="1.3" vector-effect="non-scaling-stroke"/>
<use href="#pDt" opacity="0.16" transform="translate(0.8 0.372) rotate(180.3) scale(1.1)"/>
<path d="M0.562 0.059L0.454 0.234L0.306 0.469L-0.051 0.587L-0.383 0.419L-0.394 0.357L-0.567 0.101L-0.419 -0.285L-0.263 -0.443L-0.207 -0.508L0.082 -0.555L0.371 -0.365L0.499 -0.213Z" transform="translate(0.8 0.372)" fill="none" stroke="#ff0000" stroke-opacity="0.91" stroke-width="1.3" vector-effect="non-scaling-stroke"/>
<use href="#pDt" opacity="0.16" transform="translate(0.777 0.368) rotate(136) scale(1.1)"/>
<path d="M0.552 0.173L0.37 0.454L0.183 0.476L0.08 0.549L-0.242 0.478L-0.368 0.405L-0.487 0.286L-0.542 0.097L-0.542 -0.187L-0.371 -0.46L-0.256 -0.533L0.018 -0.535L0.202 -0.544L0.334 -0.455L0.514 -0.182L0.515 -0.079Z" transform="translate(0.777 0.368)" fill="none" stroke="#00e000" stroke-opacity="0.91" stroke-width="1.3" vector-effect="non-scaling-stroke"/>
<use href="#pDt" opacity="0.17" transform="translate(0.774 0.322) rotate(91.6) scale(1.1)"/>
<path d="M0.51 0.169L0.51 0.257L0.39 0.445L0.192 0.527L-0.017 0.568L-0.315 0.501L-0.375 0.364L-0.515 0.191L-0.511 0.047L-0.508 -0.295L-0.462 -0.298L-0.217 -0.503L-0.111 -0.535L0.173 -0.522L0.334 -0.43L0.413 -0.306L0.563 -0.082Z" transform="translate(0.774 0.322)" fill="none" stroke="#0000ff" stroke-opacity="0.91" stroke-width="1.3" vector-effect="non-scaling-stroke"/>
<use href="#pDt" opacity="0.18" transform="translate(0.761 0.335) rotate(47.3) scale(1.1)"/>
<path d="M0.54 0.016L0.384 0.435L0.311 0.494L-0.013 0.566L-0.19 0.543L-0.461 0.319L-0.587 0.034L-0.524 -0.019L-0.366 -0.365L-0.337 -0.473L0.053 -0.518L0.328 -0.481L0.442 -0.323L0.579 -0.027Z" transform="translate(0.761 0.335)" fill="none" stroke="#00e000" stroke-opacity="0.91" stroke-width="1.3" vector-effect="non-scaling-stroke"/>
<use href="#pDt" opacity="0.19" transform="translate(0.771 0.322) rotate(2.9) scale(1.1)"/>
<path d="M0.523 0.07L0.494 0.31L0.323 0.454L0.058 0.569L-0.177 0.508L-0.384 0.337L-0.486 0.272L-0.575 -0.016L-0.505 -0.252L-0.333 -0.388L-0.133 -0.497L0.01 -0.585L0.355 -0.455L0.463 -0.278L0.508 -0.104Z" transform="translate(0.771 0.322)" fill="none" stroke="#0000ff" stroke-opacity="0.91" stroke-width="1.3" vector-effect="non-scaling-stroke"/>
<use href="#pDt" opacity="0.20" transform="translate(0.728 0.319) rotate(318.6) scale(1.1)"/>
<path d="M0.522 0.108L0.521 0.206L0.362 0.421L0.211 0.533L0.064 0.547L-0.097 0.53L-0.327 0.427L-0.418 0.32L-0.485 0.188L-0.522 0.06L-0.552 -0.176L-0.488 -0.291L-0.386 -0.433L-0.094 -0.535L-0.055 -0.536L0.169 -0.505L0.313 -0.497L0.507 -0.225L0.543 -0.157Z" transform="translate(0.728 0.319)" fill="none" stroke="#0000ff" stroke-opacity="0.91" stroke-width="1.3" vector-effect="non-scaling-stroke"/>
<use href="#pDt" opacity="0.20" transform="translate(0.728 0.332) rotate(274.2) scale(1.1)"/>
<path d="M0.53 0.222L0.389 0.429L0.236 0.471L-0.006 0.562L-0.36 0.448L-0.487 0.323L-0.537 0.064L-0.47 -0.333L-0.283 -0.486L-0.09 -0.544L0.135 -0.57L0.422 -0.379L0.556 -0.099Z" transform="translate(0.728 0.332)" fill="none" stroke="#00e000" stroke-opacity="0.91" stroke-width="1.3" vector-effect="non-scaling-stroke"/>
<use href="#pDt" opacity="0.21" transform="translate(0.742 0.311) rotate(229.9) scale(1.1)"/>
<path d="M0.561 0.163L0.423 0.323L0.299 0.501L0.219 0.539L-0.076 0.521L-0.173 0.557L-0.41 0.416L-0.446 0.294L-0.547 0.114L-0.547 -0.039L-0.483 -0.231L-0.328 -0.477L-0.142 -0.565L0.002 -0.563L0.265 -0.476L0.342 -0.414L0.454 -0.333L0.547 -0.069Z" transform="translate(0.742 0.311)" fill="none" stroke="#0000ff" stroke-opacity="0.91" stroke-width="1.3" vector-effect="non-scaling-stroke"/>
<use href="#pDt" opacity="0.22" transform="translate(0.707 0.293) rotate(185.5) scale(1.1)"/>
<path d="M0.527 0.198L0.446 0.334L0.175 0.544L-0.079 0.576L-0.288 0.467L-0.465 0.23L-0.512 0.123L-0.504 -0.236L-0.261 -0.476L-0.012 -0.58L0.202 -0.48L0.402 -0.409L0.526 -0.253Z" transform="translate(0.707 0.293)" fill="none" stroke="#0000ff" stroke-opacity="0.91" stroke-width="1.3" vector-effect="non-scaling-stroke"/>
<use href="#pDt" opacity="0.23" transform="translate(0.699 0.303) rotate(141.2) scale(1.1)"/>
<path d="M0.563 0.057L0.443 0.368L0.305 0.465L0.027 0.524L-0.139 0.512L-0.25 0.49L-0.438 0.338L-0.536 0.14L-0.548 0.027L-0.488 -0.189L-0.409 -0.378L-0.17 -0.523L0.076 -0.53L0.103 -0.537L0.43 -0.365L0.453 -0.343L0.573 -0.111Z" transform="translate(0.699 0.303)" fill="none" stroke="#00e000" stroke-opacity="0.91" stroke-width="1.3" vector-effect="non-scaling-stroke"/>
<use href="#pDt" opacity="0.24" transform="translate(0.665 0.276) rotate(96.8) scale(1.1)"/>
<path d="M0.535 0.072L0.344 0.447L0.137 0.55L-0.033 0.552L-0.343 0.4L-0.47 0.272L-0.552 -0.022L-0.445 -0.291L-0.218 -0.536L0.002 -0.528L0.339 -0.445L0.355 -0.382L0.525 -0.059Z" transform="translate(0.665 0.276)" fill="none" stroke="#0000ff" stroke-opacity="0.91" stroke-width="1.3" vector-effect="non-scaling-stroke"/>
<use href="#pDt" opacity="0.25" transform="translate(0.65 0.279) rotate(52.5) scale(1.1)"/>
<path d="M0.546 0.029L0.498 0.218L0.375 0.433L0.234 0.491L0.04 0.565L-0.178 0.509L-0.396 0.369L-0.509 0.151L-0.56 -0.051L-0.376 -0.366L-0.305 -0.43L-0.132 -0.513L0.209 -0.485L0.367 -0.441L0.5 -0.288Z" transform="translate(0.65 0.279)" fill="none" stroke="#0000ff" stroke-opacity="0.91" stroke-width="1.3" vector-effect="non-scaling-stroke"/>
<use href="#pDt" opacity="0.26" transform="translate(0.671 0.256) rotate(8.1) scale(1.1)"/>
<path d="M0.496 0.272L0.438 0.341L0.118 0.507L-0.016 0.542L-0.39 0.374L-0.399 0.335L-0.538 0.003L-0.506 -0.135L-0.366 -0.372L-0.069 -0.572L0.016 -0.554L0.219 -0.509L0.47 -0.29L0.536 -0.087Z" transform="translate(0.671 0.256)" fill="none" stroke="#00e000" stroke-opacity="0.90" stroke-width="1.3" vector-effect="non-scaling-stroke"/>
<use href="#pDt" opacity="0.27" transform="translate(0.652 0.258) rotate(323.7) scale(1.1)"/>
<path d="M0.567 0.078L0.505 0.25L0.376 0.391L0.274 0.469L0.068 0.565L-0.11 0.546L-0.253 0.469L-0.418 0.323L-0.502 0.178L-0.553 0.003L-0.512 -0.208L-0.464 -0.311L-0.33 -0.418L-0.169 -0.506L0.043 -0.569L0.238 -0.471L0.296 -0.441L0.431 -0.311L0.568 -0.094Z" transform="translate(0.652 0.258)" fill="none" stroke="#0000ff" stroke-opacity="0.90" stroke-width="1.3" vector-effect="non-scaling-stroke"/>
<use href="#pDt" opacity="0.29" transform="translate(0.614 0.258) rotate(279.4) scale(1.1)"/>
<path d="M0.542 0.183L0.496 0.282L0.345 0.42L0.144 0.542L-0.021 0.542L-0.283 0.495L-0.384 0.398L-0.478 0.212L-0.564 0.066L-0.554 -0.06L-0.429 -0.334L-0.354 -0.442L-0.256 -0.505L-0.05 -0.52L0.216 -0.487L0.373 -0.405L0.479 -0.291L0.521 -0.125Z" transform="translate(0.614 0.258)" fill="none" stroke="#ff0000" stroke-opacity="0.90" stroke-width="1.3" vector-effect="non-scaling-stroke"/>
<use href="#pDt" opacity="0.30" transform="translate(0.632 0.246) rotate(235) scale(1.1)"/>
<path d="M0.529 0.03L0.432 0.317L0.265 0.458L-0.179 0.53L-0.406 0.407L-0.437 0.307L-0.536 -0.084L-0.449 -0.356L-0.367 -0.419L0.027 -0.555L0.301 -0.484L0.401 -0.351L0.537 -0.143Z" transform="translate(0.632 0.246)" fill="none" stroke="#ff0000" stroke-opacity="0.90" stroke-width="1.3" vector-effect="non-scaling-stroke"/>
<use href="#pDt" opacity="0.31" transform="translate(0.593 0.25) rotate(190.7) scale(1.1)"/>
<path d="M0.566 -0.04L0.525 0.148L0.443 0.305L0.324 0.451L-0.012 0.548L-0.105 0.539L-0.329 0.425L-0.417 0.343L-0.501 0.242L-0.53 0.026L-0.527 -0.14L-0.343 -0.412L-0.233 -0.481L-0.012 -0.572L0.156 -0.505L0.279 -0.462L0.48 -0.293L0.538 -0.154Z" transform="translate(0.593 0.25)" fill="none" stroke="#00e000" stroke-opacity="0.90" stroke-width="1.3" vector-effect="non-scaling-stroke"/>
<use href="#pDt" opacity="0.32" transform="translate(0.578 0.243) rotate(146.3) scale(1.1)"/>
<path d="M0.528 0.084L0.392 0.398L0.142 0.542L-0.21 0.516L-0.389 0.369L-0.464 0.272L-0.555 0.044L-0.481 -0.28L-0.202 -0.526L-0.048 -0.558L0.303 -0.454L0.434 -0.303L0.547 -0.077Z" transform="translate(0.578 0.243)" fill="none" stroke="#0000ff" stroke-opacity="0.90" stroke-width="1.3" vector-effect="non-scaling-stroke"/>
<use href="#pDt" opacity="0.34" transform="translate(0.559 0.229) rotate(102) scale(1.1)"/>
<circle cx="0.559" cy="0.229" r="0.55" fill="none" stroke="#d02020" stroke-opacity="0.7" stroke-width="1.3" vector-effect="non-scaling-stroke"/>
<use href="#pDt" opacity="0.35" transform="translate(0.56 0.229) rotate(57.6) scale(1.1)"/>
<circle cx="0.56" cy="0.229" r="0.55" fill="none" stroke="#30c030" stroke-opacity="0.7" stroke-width="1.3" vector-effect="non-scaling-stroke"/>
<use href="#pDt" opacity="0.36" transform="translate(0.542 0.21) rotate(13.3) scale(1.1)"/>
<use href="#pDt" opacity="0.38" transform="translate(0.526 0.228) rotate(328.9) scale(1.1)"/>
<use href="#pDt" opacity="0.39" transform="translate(0.518 0.209) rotate(284.6) scale(1.1)"/>
<circle cx="0.518" cy="0.209" r="0.55" fill="none" stroke="#2020d0" stroke-opacity="0.7" stroke-width="1.3" vector-effect="non-scaling-stroke"/>
<use href="#pDt" opacity="0.41" transform="translate(0.508 0.198) rotate(240.2) scale(1.1)"/>
<use href="#pDt" opacity="0.42" transform="translate(0.492 0.212) rotate(195.9) scale(1.1)"/>
<circle cx="0.492" cy="0.212" r="0.55" fill="none" stroke="#30c030" stroke-opacity="0.7" stroke-width="1.3" vector-effect="non-scaling-stroke"/>
<use href="#pDt" opacity="0.44" transform="translate(0.477 0.197) rotate(151.5) scale(1.1)"/>
<circle cx="0.477" cy="0.197" r="0.55" fill="none" stroke="#d02020" stroke-opacity="0.7" stroke-width="1.3" vector-effect="non-scaling-stroke"/>
<use href="#pDt" opacity="0.46" transform="translate(0.46 0.188) rotate(107.2) scale(1.1)"/>
<use href="#pDt" opacity="0.48" transform="translate(0.45 0.181) rotate(62.8) scale(1.1)"/>
<circle cx="0.45" cy="0.181" r="0.55" fill="none" stroke="#30c030" stroke-opacity="0.7" stroke-width="1.3" vector-effect="non-scaling-stroke"/>
<use href="#pDt" opacity="0.49" transform="translate(0.439 0.175) rotate(18.5) scale(1.1)"/>
<use href="#pDt" opacity="0.51" transform="translate(0.424 0.171) rotate(334.1) scale(1.1)"/>
<use href="#pDt" opacity="0.53" transform="translate(0.409 0.165) rotate(289.8) scale(1.1)"/>
<circle cx="0.409" cy="0.165" r="0.55" fill="none" stroke="#30c030" stroke-opacity="0.7" stroke-width="1.3" vector-effect="non-scaling-stroke"/>
<use href="#pDt" opacity="0.55" transform="translate(0.396 0.159) rotate(245.4) scale(1.098)"/>
<circle cx="0.396" cy="0.159" r="0.549" fill="none" stroke="#30c030" stroke-opacity="0.7" stroke-width="1.3" vector-effect="non-scaling-stroke"/>
<use href="#pD" transform="translate(0.396 0.159) rotate(245.4) scale(1.098)"/>
<use href="#pD" transform="translate(0.394 0.158) rotate(240) scale(1.098)"/>
<use href="#pD" transform="translate(0.392 0.158) rotate(234.6) scale(1.097)"/>
<use href="#pD" transform="translate(0.391 0.157) rotate(229.2) scale(1.097)"/>
<use href="#pD" transform="translate(0.389 0.156) rotate(223.8) scale(1.097)"/>
<use href="#pD" transform="translate(0.387 0.156) rotate(218.4) scale(1.096)"/>
<use href="#pD" transform="translate(0.386 0.155) rotate(213) scale(1.096)"/>
<use href="#pD" transform="translate(0.384 0.154) rotate(207.7) scale(1.096)"/>
<use href="#pD" transform="translate(0.383 0.154) rotate(202.3) scale(1.096)"/>
<use href="#pD" transform="translate(0.381 0.153) rotate(196.9) scale(1.095)"/>
<use href="#pD" transform="translate(0.379 0.152) rotate(191.5) scale(1.095)"/>
<use href="#pD" transform="translate(0.378 0.152) rotate(186.1) scale(1.095)"/>
<use href="#pD" transform="translate(0.376 0.151) rotate(180.7) scale(1.095)"/>
<use href="#pD" transform="translate(0.374 0.15) rotate(175.3) scale(1.094)"/>
<use href="#pD" transform="translate(0.373 0.15) rotate(169.9) scale(1.094)"/>
<use href="#pD" transform="translate(0.371 0.149) rotate(164.5) scale(1.094)"/>
<use href="#pD" transform="translate(0.369 0.148) rotate(159.1) scale(1.094)"/>
<use href="#pD" transform="translate(0.368 0.148) rotate(153.7) scale(1.093)"/>
<use href="#pD" transform="translate(0.366 0.147) rotate(148.3) scale(1.093)"/>
<use href="#pD" transform="translate(0.365 0.147) rotate(142.9) scale(1.093)"/>
<use href="#pD" transform="translate(0.363 0.146) rotate(137.5) scale(1.092)"/>
<use href="#pD" transform="translate(0.361 0.145) rotate(132.2) scale(1.092)"/>
<use href="#pD" transform="translate(0.36 0.145) rotate(126.8) scale(1.092)"/>
<use href="#pD" transform="translate(0.358 0.144) rotate(121.4) scale(1.092)"/>
<use href="#pD" transform="translate(0.356 0.143) rotate(116) scale(1.091)"/>
<use href="#pD" transform="translate(0.355 0.143) rotate(110.6) scale(1.091)"/>
<use href="#pD" transform="translate(0.353 0.142) rotate(105.2) scale(1.091)"/>
<use href="#pD" transform="translate(0.351 0.141) rotate(99.8) scale(1.091)"/>
<use href="#pD" transform="translate(0.35 0.141) rotate(94.4) scale(1.09)"/>
<use href="#pD" transform="translate(0.348 0.14) rotate(89) scale(1.09)"/>
<use href="#pD" transform="translate(0.347 0.139) rotate(83.6) scale(1.09)"/>
<use href="#pD" transform="translate(0.345 0.139) rotate(78.2) scale(1.09)"/>
<use href="#pD" transform="translate(0.343 0.138) rotate(72.8) scale(1.089)"/>
<use href="#pD" transform="translate(0.342 0.137) rotate(67.4) scale(1.089)"/>
<use href="#pD" transform="translate(0.34 0.137) rotate(62.1) scale(1.089)"/>
<use href="#pD" transform="translate(0.338 0.136) rotate(56.7) scale(1.088)"/>
<use href="#pD" transform="translate(0.337 0.135) rotate(51.3) scale(1.088)"/>
<use href="#pD" transform="translate(0.335 0.135) rotate(45.9) scale(1.088)"/>
<use href="#pD" transform="translate(0.333 0.134) rotate(40.5) scale(1.088)"/>
<use href="#pD" transform="translate(0.332 0.133) rotate(35.1) scale(1.087)"/>
<use href="#pD" transform="translate(0.33 0.133) rotate(29.7) scale(1.087)"/>
<use href="#pD" transform="translate(0.329 0.132) rotate(24.3) scale(1.087)"/>
<use href="#pD" transform="translate(0.327 0.131) rotate(18.9) scale(1.087)"/>
<use href="#pD" transform="translate(0.325 0.131) rotate(13.5) scale(1.086)"/>
<use href="#pD" transform="translate(0.324 0.13) rotate(8.1) scale(1.086)"/>
<use href="#pD" transform="translate(0.322 0.129) rotate(2.7) scale(1.086)"/>
<use href="#pD" transform="translate(0.32 0.129) rotate(357.3) scale(1.086)"/>
<use href="#pD" transform="translate(0.319 0.128) rotate(351.9) scale(1.085)"/>
<use href="#pD" transform="translate(0.317 0.127) rotate(346.6) scale(1.085)"/>
<use href="#pD" transform="translate(0.316 0.127) rotate(341.2) scale(1.085)"/>
<use href="#pD" transform="translate(0.314 0.126) rotate(335.8) scale(1.084)"/>
<use href="#pD" transform="translate(0.312 0.125) rotate(330.4) scale(1.084)"/>
<use href="#pD" transform="translate(0.311 0.125) rotate(325) scale(1.084)"/>
<use href="#pD" transform="translate(0.309 0.124) rotate(319.6) scale(1.084)"/>
<use href="#pD" transform="translate(0.307 0.124) rotate(314.2) scale(1.083)"/>
<use href="#pD" transform="translate(0.306 0.123) rotate(308.8) scale(1.083)"/>
<use href="#pD" transform="translate(0.304 0.122) rotate(303.4) scale(1.083)"/>
<use href="#pD" transform="translate(0.302 0.122) rotate(298) scale(1.083)"/>
<use href="#pD" transform="translate(0.301 0.121) rotate(292.6) scale(1.082)"/>
<use href="#pD" transform="translate(0.299 0.12) rotate(287.2) scale(1.082)"/>
<use href="#pD" transform="translate(0.298 0.12) rotate(281.8) scale(1.082)"/>
<use href="#pD" transform="translate(0.296 0.119) rotate(276.5) scale(1.082)"/>
<use href="#pD" transform="translate(0.294 0.118) rotate(271.1) scale(1.081)"/>
<use href="#pD" transform="translate(0.293 0.118) rotate(265.7) scale(1.081)"/>
<use href="#pD" transform="translate(0.291 0.117) rotate(260.3) scale(1.081)"/>
<use href="#pD" transform="translate(0.289 0.116) rotate(254.9) scale(1.08)"/>
<use href="#pD" transform="translate(0.288 0.116) rotate(249.5) scale(1.08)"/>
<use href="#pD" transform="translate(0.286 0.115) rotate(244.1) scale(1.08)"/>
<use href="#pD" transform="translate(0.284 0.114) rotate(238.7) scale(1.08)"/>
<use href="#pD" transform="translate(0.283 0.114) rotate(233.3) scale(1.079)"/>
<use href="#pD" transform="translate(0.281 0.113) rotate(227.9) scale(1.079)"/>
<use href="#pD" transform="translate(0.28 0.112) rotate(222.5) scale(1.079)"/>
<use href="#pD" transform="translate(0.278 0.112) rotate(217.1) scale(1.079)"/>
<use href="#pD" transform="translate(0.276 0.111) rotate(211.7) scale(1.078)"/>
<use href="#pD" transform="translate(0.275 0.11) rotate(206.4) scale(1.078)"/>
<use href="#pD" transform="translate(0.273 0.11) rotate(201) scale(1.078)"/>
<use href="#pD" transform="translate(0.271 0.109) rotate(195.6) scale(1.078)"/>
<use href="#pD" transform="translate(0.27 0.108) rotate(190.2) scale(1.077)"/>
<use href="#pD" transform="translate(0.268 0.108) rotate(184.8) scale(1.077)"/>
<use href="#pD" transform="translate(0.266 0.107) rotate(179.4) scale(1.077)"/>
<use href="#pD" transform="translate(0.265 0.106) rotate(174) scale(1.076)"/>
<use href="#pD" transform="translate(0.263 0.106) rotate(168.6) scale(1.076)"/>
<use href="#pD" transform="translate(0.262 0.105) rotate(163.2) scale(1.076)"/>
<use href="#pD" transform="translate(0.26 0.104) rotate(157.8) scale(1.076)"/>
<use href="#pD" transform="translate(0.258 0.104) rotate(152.4) scale(1.075)"/>
<use href="#pD" transform="translate(0.257 0.103) rotate(147) scale(1.075)"/>
<use href="#pD" transform="translate(0.255 0.102) rotate(141.6) scale(1.075)"/>
<use href="#pD" transform="translate(0.253 0.102) rotate(136.2) scale(1.075)"/>
<use href="#pD" transform="translate(0.252 0.101) rotate(130.9) scale(1.074)"/>
<use href="#pD" transform="translate(0.25 0.101) rotate(125.5) scale(1.074)"/>
<use href="#pD" transform="translate(0.248 0.1) rotate(120.1) scale(1.074)"/>
<use href="#pD" transform="translate(0.247 0.099) rotate(114.7) scale(1.074)"/>
<use href="#pD" transform="translate(0.245 0.099) rotate(109.3) scale(1.073)"/>
<use href="#pD" transform="translate(0.244 0.098) rotate(103.9) scale(1.073)"/>
<use href="#pD" transform="translate(0.242 0.097) rotate(98.5) scale(1.073)"/>
<use href="#pD" transform="translate(0.24 0.097) rotate(93.1) scale(1.072)"/>
<use href="#pD" transform="translate(0.239 0.096) rotate(87.7) scale(1.072)"/>
<use href="#pD" transform="translate(0.237 0.095) rotate(82.3) scale(1.072)"/>
<use href="#pD" transform="translate(0.235 0.095) rotate(76.9) scale(1.072)"/>
<use href="#pD" transform="translate(0.234 0.094) rotate(71.5) scale(1.071)"/>
<use href="#pD" transform="translate(0.232 0.093) rotate(66.1) scale(1.071)"/>
<use href="#pD" transform="translate(0.23 0.093) rotate(60.8) scale(1.071)"/>
<use href="#pD" transform="translate(0.229 0.092) rotate(55.4) scale(1.071)"/>
<use href="#pD" transform="translate(0.227 0.091) rotate(50) scale(1.07)"/>
<use href="#pD" transform="translate(0.226 0.091) rotate(44.6) scale(1.07)"/>
<use href="#pD" transform="translate(0.224 0.09) rotate(39.2) scale(1.07)"/>
<use href="#pD" transform="translate(0.222 0.089) rotate(33.8) scale(1.07)"/>
<use href="#pD" transform="translate(0.221 0.089) rotate(28.4) scale(1.069)"/>
<use href="#pD" transform="translate(0.219 0.088) rotate(23) scale(1.069)"/>
<use href="#pD" transform="translate(0.217 0.087) rotate(17.6) scale(1.069)"/>
<use href="#pD" transform="translate(0.216 0.087) rotate(12.2) scale(1.068)"/>
<use href="#pD" transform="translate(0.214 0.086) rotate(6.8) scale(1.068)"/>
<use href="#pD" transform="translate(0.213 0.085) rotate(1.4) scale(1.068)"/>
<use href="#pD" transform="translate(0.211 0.085) rotate(356) scale(1.068)"/>
<use href="#pD" transform="translate(0.209 0.084) rotate(350.6) scale(1.067)"/>
<use href="#pD" transform="translate(0.208 0.083) rotate(345.3) scale(1.067)"/>
<use href="#pD" transform="translate(0.206 0.083) rotate(339.9) scale(1.067)"/>
<use href="#pD" transform="translate(0.204 0.082) rotate(334.5) scale(1.067)"/>
<use href="#pD" transform="translate(0.203 0.081) rotate(329.1) scale(1.066)"/>
<use href="#pD" transform="translate(0.201 0.081) rotate(323.7) scale(1.066)"/>
<use href="#pD" transform="translate(0.199 0.08) rotate(318.3) scale(1.066)"/>
<use href="#pD" transform="translate(0.198 0.08) rotate(312.9) scale(1.066)"/>
<use href="#pD" transform="translate(0.196 0.079) rotate(307.5) scale(1.065)"/>
<use href="#pD" transform="translate(0.195 0.078) rotate(302.1) scale(1.065)"/>
<use href="#pD" transform="translate(0.193 0.078) rotate(296.7) scale(1.065)"/>
<use href="#pD" transform="translate(0.191 0.077) rotate(291.3) scale(1.064)"/>
<use href="#pD" transform="translate(0.19 0.076) rotate(285.9) scale(1.064)"/>
<use href="#pD" transform="translate(0.188 0.076) rotate(280.5) scale(1.064)"/>
<use href="#pD" transform="translate(0.186 0.075) rotate(275.2) scale(1.064)"/>
<use href="#pD" transform="translate(0.185 0.074) rotate(269.8) scale(1.063)"/>
<use href="#pD" transform="translate(0.183 0.074) rotate(264.4) scale(1.063)"/>
<use href="#pD" transform="translate(0.181 0.073) rotate(259) scale(1.063)"/>
<use href="#pD" transform="translate(0.18 0.072) rotate(253.6) scale(1.063)"/>
<use href="#pD" transform="translate(0.178 0.072) rotate(248.2) scale(1.062)"/>
<use href="#pD" transform="translate(0.177 0.071) rotate(242.8) scale(1.062)"/>
<use href="#pD" transform="translate(0.175 0.07) rotate(237.4) scale(1.062)"/>
<use href="#pD" transform="translate(0.173 0.07) rotate(232) scale(1.062)"/>
<use href="#pD" transform="translate(0.172 0.069) rotate(226.6) scale(1.061)"/>
<use href="#pD" transform="translate(0.17 0.068) rotate(221.2) scale(1.061)"/>
<use href="#pD" transform="translate(0.168 0.068) rotate(215.8) scale(1.061)"/>
<use href="#pD" transform="translate(0.167 0.067) rotate(210.4) scale(1.06)"/>
<use href="#pD" transform="translate(0.165 0.066) rotate(205) scale(1.06)"/>
<use href="#pD" transform="translate(0.163 0.066) rotate(199.7) scale(1.06)"/>
<use href="#pD" transform="translate(0.162 0.065) rotate(194.3) scale(1.059)"/>
<use href="#pD" transform="translate(0.16 0.064) rotate(188.9) scale(1.059)"/>
<use href="#pD" transform="translate(0.159 0.064) rotate(183.5) scale(1.058)"/>
<use href="#pD" transform="translate(0.157 0.063) rotate(178.1) scale(1.058)"/>
<use href="#pD" transform="translate(0.155 0.062) rotate(172.7) scale(1.057)"/>
<use href="#pD" transform="translate(0.154 0.062) rotate(167.3) scale(1.056)"/>
<use href="#pD" transform="translate(0.152 0.061) rotate(161.9) scale(1.056)"/>
<use href="#pD" transform="translate(0.15 0.06) rotate(156.5) scale(1.055)"/>
<use href="#pD" transform="translate(0.149 0.06) rotate(151.1) scale(1.055)"/>
<use href="#pD" transform="translate(0.147 0.059) rotate(145.7) scale(1.054)"/>
<use href="#pD" transform="translate(0.145 0.058) rotate(140.3) scale(1.053)"/>
<use href="#pD" transform="translate(0.144 0.058) rotate(134.9) scale(1.053)"/>
<use href="#pD" transform="translate(0.142 0.057) rotate(129.6) scale(1.052)"/>
<use href="#pD" transform="translate(0.141 0.057) rotate(124.2) scale(1.052)"/>
<use href="#pD" transform="translate(0.139 0.056) rotate(118.8) scale(1.051)"/>
<use href="#pD" transform="translate(0.137 0.055) rotate(113.4) scale(1.05)"/>
<use href="#pD" transform="translate(0.136 0.055) rotate(108) scale(1.05)"/>
<use href="#pD" transform="translate(0.134 0.054) rotate(102.6) scale(1.049)"/>
<use href="#pD" transform="translate(0.132 0.053) rotate(97.2) scale(1.049)"/>
<use href="#pD" transform="translate(0.131 0.053) rotate(91.8) scale(1.048)"/>
<use href="#pD" transform="translate(0.129 0.052) rotate(86.4) scale(1.047)"/>
<use href="#pD" transform="translate(0.128 0.051) rotate(81) scale(1.047)"/>
<use href="#pD" transform="translate(0.126 0.051) rotate(75.6) scale(1.046)"/>
<use href="#pD" transform="translate(0.124 0.05) rotate(70.2) scale(1.046)"/>
<use href="#pD" transform="translate(0.123 0.049) rotate(64.8) scale(1.045)"/>
<use href="#pD" transform="translate(0.121 0.049) rotate(59.4) scale(1.044)"/>
<use href="#pD" transform="translate(0.119 0.048) rotate(54.1) scale(1.044)"/>
<use href="#pD" transform="translate(0.118 0.047) rotate(48.7) scale(1.043)"/>
<use href="#pD" transform="translate(0.116 0.047) rotate(43.3) scale(1.043)"/>
<use href="#pD" transform="translate(0.114 0.046) rotate(37.9) scale(1.042)"/>
<use href="#pD" transform="translate(0.113 0.045) rotate(32.5) scale(1.041)"/>
<use href="#pD" transform="translate(0.111 0.045) rotate(27.1) scale(1.041)"/>
<use href="#pD" transform="translate(0.11 0.044) rotate(21.7) scale(1.04)"/>
<use href="#pD" transform="translate(0.108 0.043) rotate(16.3) scale(1.04)"/>
<use href="#pD" transform="translate(0.106 0.043) rotate(10.9) scale(1.039)"/>
<use href="#pD" transform="translate(0.105 0.042) rotate(5.5) scale(1.038)"/>
<use href="#pD" transform="translate(0.103 0.041) rotate(0.1) scale(1.038)"/>
<use href="#pD" transform="translate(0.101 0.041) rotate(354.7) scale(1.037)"/>
<use href="#pD" transform="translate(0.1 0.04) rotate(349.3) scale(1.037)"/>
<use href="#pD" transform="translate(0.098 0.039) rotate(344) scale(1.036)"/>
<use href="#pD" transform="translate(0.096 0.039) rotate(338.6) scale(1.035)"/>
<use href="#pD" transform="translate(0.095 0.038) rotate(333.2) scale(1.035)"/>
<use href="#pD" transform="translate(0.093 0.037) rotate(327.8) scale(1.034)"/>
<use href="#pD" transform="translate(0.092 0.037) rotate(322.4) scale(1.034)"/>
<use href="#pD" transform="translate(0.09 0.036) rotate(317) scale(1.033)"/>
<use href="#pD" transform="translate(0.088 0.035) rotate(311.6) scale(1.032)"/>
<use href="#pD" transform="translate(0.087 0.035) rotate(306.2) scale(1.032)"/>
<use href="#pD" transform="translate(0.085 0.034) rotate(300.8) scale(1.031)"/>
<use href="#pD" transform="translate(0.083 0.034) rotate(295.4) scale(1.031)"/>
<use href="#pD" transform="translate(0.082 0.033) rotate(290) scale(1.03)"/>
<use href="#pD" transform="translate(0.08 0.032) rotate(284.6) scale(1.029)"/>
<use href="#pD" transform="translate(0.078 0.032) rotate(279.2) scale(1.029)"/>
<use href="#pD" transform="translate(0.077 0.031) rotate(273.9) scale(1.028)"/>
<use href="#pD" transform="translate(0.075 0.03) rotate(268.5) scale(1.028)"/>
<use href="#pD" transform="translate(0.074 0.03) rotate(263.1) scale(1.027)"/>
<use href="#pD" transform="translate(0.072 0.029) rotate(257.7) scale(1.026)"/>
<use href="#pD" transform="translate(0.07 0.028) rotate(252.3) scale(1.026)"/>
<use href="#pD" transform="translate(0.069 0.028) rotate(246.9) scale(1.025)"/>
<use href="#pD" transform="translate(0.067 0.027) rotate(241.5) scale(1.025)"/>
<use href="#pD" transform="translate(0.065 0.026) rotate(236.1) scale(1.024)"/>
<use href="#pD" transform="translate(0.064 0.026) rotate(230.7) scale(1.023)"/>
<use href="#pD" transform="translate(0.062 0.025) rotate(225.3) scale(1.023)"/>
<use href="#pD" transform="translate(0.06 0.024) rotate(219.9) scale(1.022)"/>
<use href="#pD" transform="translate(0.059 0.024) rotate(214.5) scale(1.022)"/>
<use href="#pD" transform="translate(0.057 0.023) rotate(209.1) scale(1.021)"/>
<use href="#pD" transform="translate(0.056 0.022) rotate(203.7) scale(1.02)"/>
<use href="#pD" transform="translate(0.054 0.022) rotate(198.4) scale(1.02)"/>
<use href="#pD" transform="translate(0.052 0.021) rotate(193) scale(1.019)"/>
<use href="#pD" transform="translate(0.051 0.02) rotate(187.6) scale(1.019)"/>
<use href="#pD" transform="translate(0.049 0.02) rotate(182.2) scale(1.018)"/>
<use href="#pD" transform="translate(0.047 0.019) rotate(176.8) scale(1.017)"/>
<use href="#pD" transform="translate(0.046 0.018) rotate(171.4) scale(1.017)"/>
<use href="#pD" transform="translate(0.044 0.018) rotate(166) scale(1.016)"/>
<use href="#pD" transform="translate(0.043 0.017) rotate(160.6) scale(1.016)"/>
<use href="#pD" transform="translate(0.041 0.016) rotate(155.2) scale(1.015)"/>
<use href="#pD" transform="translate(0.039 0.016) rotate(149.8) scale(1.014)"/>
<use href="#pD" transform="translate(0.038 0.015) rotate(144.4) scale(1.014)"/>
<use href="#pD" transform="translate(0.036 0.014) rotate(139) scale(1.013)"/>
<use href="#pD" transform="translate(0.034 0.014) rotate(133.6) scale(1.013)"/>
<use href="#pD" transform="translate(0.033 0.013) rotate(128.3) scale(1.012)"/>
<use href="#pD" transform="translate(0.031 0.012) rotate(122.9) scale(1.011)"/>
<use href="#pD" transform="translate(0.029 0.012) rotate(117.5) scale(1.011)"/>
<use href="#pD" transform="translate(0.028 0.011) rotate(112.1) scale(1.01)"/>
<use href="#pD" transform="translate(0.026 0.011) rotate(106.7) scale(1.01)"/>
<use href="#pD" transform="translate(0.025 0.01) rotate(101.3) scale(1.009)"/>
<use href="#pD" transform="translate(0.023 0.009) rotate(95.9) scale(1.008)"/>
<use href="#pD" transform="translate(0.021 0.009) rotate(90.5) scale(1.008)"/>
<use href="#pD" transform="translate(0.02 0.008) rotate(85.1) scale(1.007)"/>
<use href="#pD" transform="translate(0.018 0.007) rotate(79.7) scale(1.007)"/>
<use href="#pD" transform="translate(0.016 0.007) rotate(74.3) scale(1.006)"/>
<use href="#pD" transform="translate(0.015 0.006) rotate(68.9) scale(1.005)"/>
<use href="#pD" transform="translate(0.013 0.005) rotate(63.5) scale(1.005)"/>
<use href="#pD" transform="translate(0.011 0.005) rotate(58.1) scale(1.004)"/>
<use href="#pD" transform="translate(0.01 0.004) rotate(52.8) scale(1.004)"/>
<use href="#pD" transform="translate(0.008 0.003) rotate(47.4) scale(1.003)"/>
<use href="#pD" transform="translate(0.007 0.003) rotate(42) scale(1.002)"/>
<use href="#pD" transform="translate(0.005 0.002) rotate(36.6) scale(1.002)"/>
<use href="#pD" transform="translate(0.003 0.001) rotate(31.2) scale(1.001)"/>
<use href="#pD" transform="translate(0.002 0.001) rotate(25.8) scale(1.001)"/>
</g>
<g transform="matrix(86.5 2.9 0 -90.2 675.6 485.0)">
<path d="M0 0L0.469 0.174A0.5 0.5 0 0 1 -0.385 0.319Z" fill="#8cff70"/>
<path d="M0 0L-0.385 0.319A0.5 0.5 0 0 1 -0.083 -0.493Z" fill="#00008f"/>
<path d="M0 0L-0.083 -0.493A0.5 0.5 0 0 1 0.469 0.174Z" fill="#870000"/>
<path d="M0.4 0.216A0.455 0.455 0 0 1 0.375 0.258L0.346 0.238A0.42 0.42 0 0 0 0.369 0.2ZM-0.229 0.393A0.455 0.455 0 0 1 -0.269 0.367L-0.249 0.339A0.42 0.42 0 0 0 -0.211 0.363Z" fill="#a0a0a0" fill-opacity="0.6"/>
<path d="M0.345 0.296A0.455 0.455 0 0 1 0.312 0.331L0.288 0.306A0.42 0.42 0 0 0 0.319 0.274ZM0.312 0.331A0.455 0.455 0 0 1 0.275 0.363L0.254 0.335A0.42 0.42 0 0 0 0.288 0.306ZM0.234 0.39A0.455 0.455 0 0 1 0.192 0.413L0.177 0.381A0.42 0.42 0 0 0 0.216 0.36ZM0.192 0.413A0.455 0.455 0 0 1 0.146 0.431L0.135 0.398A0.42 0.42 0 0 0 0.177 0.381ZM0.146 0.431A0.455 0.455 0 0 1 0.1 0.444L0.092 0.41A0.42 0.42 0 0 0 0.135 0.398ZM0.1 0.444A0.455 0.455 0 0 1 0.052 0.452L0.048 0.417A0.42 0.42 0 0 0 0.092 0.41ZM0.052 0.452A0.455 0.455 0 0 1 0.003 0.455L0.003 0.42A0.42 0.42 0 0 0 0.048 0.417ZM-0.045 0.453A0.455 0.455 0 0 1 -0.093 0.445L-0.086 0.411A0.42 0.42 0 0 0 -0.042 0.418ZM-0.093 0.445A0.455 0.455 0 0 1 -0.14 0.433L-0.129 0.4A0.42 0.42 0 0 0 -0.086 0.411ZM-0.14 0.433A0.455 0.455 0 0 1 -0.185 0.416L-0.171 0.384A0.42 0.42 0 0 0 -0.129 0.4ZM-0.185 0.416A0.455 0.455 0 0 1 -0.229 0.393L-0.211 0.363A0.42 0.42 0 0 0 -0.171 0.384ZM-0.269 0.367A0.455 0.455 0 0 1 -0.307 0.336L-0.283 0.31A0.42 0.42 0 0 0 -0.249 0.339Z" fill="#9080a0" fill-opacity="0.6"/>
<path d="M0.275 0.363A0.455 0.455 0 0 1 0.234 0.39L0.216 0.36A0.42 0.42 0 0 0 0.254 0.335ZM0.003 0.455A0.455 0.455 0 0 1 -0.045 0.453L-0.042 0.418A0.42 0.42 0 0 0 0.003 0.42Z" fill="#b09090" fill-opacity="0.6"/>
<path d="M0.318 0.234A0.395 0.395 0 0 1 0.293 0.265L0.267 0.242A0.36 0.36 0 0 0 0.29 0.213ZM0.199 0.341A0.395 0.395 0 0 1 0.163 0.36L0.148 0.328A0.36 0.36 0 0 0 0.181 0.311ZM0.046 0.392A0.395 0.395 0 0 1 0.005 0.395L0.005 0.36A0.36 0.36 0 0 0 0.042 0.358ZM-0.153 0.364A0.395 0.395 0 0 1 -0.189 0.347L-0.173 0.316A0.36 0.36 0 0 0 -0.139 0.332Z" fill="#909090" fill-opacity="0.6"/>
<path d="M0.293 0.265A0.395 0.395 0 0 1 0.264 0.294L0.241 0.268A0.36 0.36 0 0 0 0.267 0.242ZM0.264 0.294A0.395 0.395 0 0 1 0.233 0.319L0.212 0.291A0.36 0.36 0 0 0 0.241 0.268ZM0.233 0.319A0.395 0.395 0 0 1 0.199 0.341L0.181 0.311A0.36 0.36 0 0 0 0.212 0.291ZM0.163 0.36A0.395 0.395 0 0 1 0.125 0.375L0.114 0.342A0.36 0.36 0 0 0 0.148 0.328ZM-0.035 0.393A0.395 0.395 0 0 1 -0.075 0.388L-0.069 0.353A0.36 0.36 0 0 0 -0.032 0.359ZM-0.224 0.325A0.395 0.395 0 0 1 -0.256 0.301L-0.233 0.274A0.36 0.36 0 0 0 -0.204 0.297Z" fill="#b07060" fill-opacity="0.6"/>
<path d="M0.125 0.375A0.395 0.395 0 0 1 0.086 0.386L0.078 0.351A0.36 0.36 0 0 0 0.114 0.342ZM0.005 0.395A0.395 0.395 0 0 1 -0.035 0.393L-0.032 0.359A0.36 0.36 0 0 0 0.005 0.36ZM-0.075 0.388A0.395 0.395 0 0 1 -0.115 0.378L-0.104 0.345A0.36 0.36 0 0 0 -0.069 0.353ZM-0.115 0.378A0.395 0.395 0 0 1 -0.153 0.364L-0.139 0.332A0.36 0.36 0 0 0 -0.104 0.345ZM-0.189 0.347A0.395 0.395 0 0 1 -0.224 0.325L-0.204 0.297A0.36 0.36 0 0 0 -0.173 0.316Z" fill="#a08090" fill-opacity="0.6"/>
<path d="M0.132 0.302A0.33 0.33 0 0 1 0.1 0.315L0.091 0.286A0.3 0.3 0 0 0 0.12 0.275ZM0.1 0.315A0.33 0.33 0 0 1 0.066 0.323L0.06 0.294A0.3 0.3 0 0 0 0.091 0.286ZM-0.002 0.33A0.33 0.33 0 0 1 -0.037 0.328L-0.033 0.298A0.3 0.3 0 0 0 -0.002 0.3Z" fill="#903020" fill-opacity="0.8"/>
<path d="M0.066 0.323A0.33 0.33 0 0 1 0.032 0.328L0.029 0.299A0.3 0.3 0 0 0 0.06 0.294ZM-0.071 0.322A0.33 0.33 0 0 1 -0.104 0.313L-0.095 0.285A0.3 0.3 0 0 0 -0.064 0.293ZM-0.136 0.301A0.33 0.33 0 0 1 -0.167 0.285L-0.152 0.259A0.3 0.3 0 0 0 -0.124 0.273Z" fill="#a04030" fill-opacity="0.8"/>
<path d="M-0.009 0.25A0.25 0.25 0 0 1 -0.034 0.248L-0.03 0.218A0.22 0.22 0 0 0 -0.008 0.22ZM-0.034 0.248A0.25 0.25 0 0 1 -0.059 0.243L-0.052 0.214A0.22 0.22 0 0 0 -0.03 0.218ZM-0.059 0.243A0.25 0.25 0 0 1 -0.084 0.236L-0.074 0.207A0.22 0.22 0 0 0 -0.052 0.214Z" fill="#a03020" fill-opacity="0.8"/>
<path d="M-0.387 0.267A0.47 0.47 0 0 1 -0.413 0.224L-0.378 0.205A0.43 0.43 0 0 0 -0.354 0.244ZM-0.451 0.132A0.47 0.47 0 0 1 -0.463 0.083L-0.423 0.076A0.43 0.43 0 0 0 -0.413 0.12Z" fill="#80d070" fill-opacity="0.8"/>
<path d="M-0.413 0.224A0.47 0.47 0 0 1 -0.435 0.179L-0.398 0.164A0.43 0.43 0 0 0 -0.378 0.205ZM-0.47 -0.017A0.47 0.47 0 0 1 -0.465 -0.067L-0.426 -0.061A0.43 0.43 0 0 0 -0.43 -0.016ZM-0.455 -0.116A0.47 0.47 0 0 1 -0.441 -0.164L-0.403 -0.15A0.43 0.43 0 0 0 -0.417 -0.106ZM-0.441 -0.164A0.47 0.47 0 0 1 -0.421 -0.21L-0.385 -0.192A0.43 0.43 0 0 0 -0.403 -0.15Z" fill="#70b070" fill-opacity="0.7"/>
<path d="M-0.435 0.179A0.47 0.47 0 0 1 -0.451 0.132L-0.413 0.12A0.43 0.43 0 0 0 -0.398 0.164ZM-0.463 0.083A0.47 0.47 0 0 1 -0.469 0.033L-0.429 0.03A0.43 0.43 0 0 0 -0.423 0.076ZM-0.469 0.033A0.47 0.47 0 0 1 -0.47 -0.017L-0.43 -0.016A0.43 0.43 0 0 0 -0.429 0.03ZM-0.396 -0.253A0.47 0.47 0 0 1 -0.367 -0.294L-0.335 -0.269A0.43 0.43 0 0 0 -0.362 -0.232ZM-0.367 -0.294A0.47 0.47 0 0 1 -0.333 -0.331L-0.305 -0.303A0.43 0.43 0 0 0 -0.335 -0.269ZM-0.333 -0.331A0.47 0.47 0 0 1 -0.296 -0.365L-0.271 -0.334A0.43 0.43 0 0 0 -0.305 -0.303ZM-0.296 -0.365A0.47 0.47 0 0 1 -0.256 -0.394L-0.234 -0.361A0.43 0.43 0 0 0 -0.271 -0.334ZM-0.256 -0.394A0.47 0.47 0 0 1 -0.212 -0.419L-0.194 -0.384A0.43 0.43 0 0 0 -0.234 -0.361ZM-0.212 -0.419A0.47 0.47 0 0 1 -0.166 -0.44L-0.152 -0.402A0.43 0.43 0 0 0 -0.194 -0.384ZM-0.166 -0.44A0.47 0.47 0 0 1 -0.118 -0.455L-0.108 -0.416A0.43 0.43 0 0 0 -0.152 -0.402Z" fill="#90e080" fill-opacity="0.8"/>
<path d="M-0.333 0.23A0.405 0.405 0 0 1 -0.356 0.193L-0.325 0.176A0.37 0.37 0 0 0 -0.305 0.21ZM-0.356 0.193A0.405 0.405 0 0 1 -0.375 0.154L-0.342 0.141A0.37 0.37 0 0 0 -0.325 0.176ZM-0.38 -0.141A0.405 0.405 0 0 1 -0.362 -0.181L-0.331 -0.165A0.37 0.37 0 0 0 -0.347 -0.129ZM-0.341 -0.218A0.405 0.405 0 0 1 -0.316 -0.253L-0.289 -0.232A0.37 0.37 0 0 0 -0.312 -0.199ZM-0.22 -0.34A0.405 0.405 0 0 1 -0.183 -0.361L-0.167 -0.33A0.37 0.37 0 0 0 -0.201 -0.311Z" fill="#6a8a80" fill-opacity="0.7"/>
<path d="M-0.389 0.113A0.405 0.405 0 0 1 -0.399 0.071L-0.364 0.065A0.37 0.37 0 0 0 -0.355 0.104ZM-0.399 0.071A0.405 0.405 0 0 1 -0.404 0.029L-0.369 0.026A0.37 0.37 0 0 0 -0.364 0.065ZM-0.401 -0.058A0.405 0.405 0 0 1 -0.392 -0.1L-0.359 -0.091A0.37 0.37 0 0 0 -0.366 -0.053ZM-0.316 -0.253A0.405 0.405 0 0 1 -0.287 -0.286L-0.262 -0.261A0.37 0.37 0 0 0 -0.289 -0.232ZM-0.287 -0.286A0.405 0.405 0 0 1 -0.255 -0.315L-0.233 -0.287A0.37 0.37 0 0 0 -0.262 -0.261Z" fill="#5a6a90" fill-opacity="0.7"/>
<path d="M-0.404 0.029A0.405 0.405 0 0 1 -0.405 -0.015L-0.37 -0.013A0.37 0.37 0 0 0 -0.369 0.026ZM-0.392 -0.1A0.405 0.405 0 0 1 -0.38 -0.141L-0.347 -0.129A0.37 0.37 0 0 0 -0.359 -0.091ZM-0.362 -0.181A0.405 0.405 0 0 1 -0.341 -0.218L-0.312 -0.199A0.37 0.37 0 0 0 -0.331 -0.165ZM-0.183 -0.361A0.405 0.405 0 0 1 -0.143 -0.379L-0.131 -0.346A0.37 0.37 0 0 0 -0.167 -0.33Z" fill="#7a9a70" fill-opacity="0.7"/>
<path d="M-0.306 0.109A0.325 0.325 0 0 1 -0.316 0.076L-0.282 0.068A0.29 0.29 0 0 0 -0.273 0.097ZM-0.316 0.076A0.325 0.325 0 0 1 -0.322 0.043L-0.287 0.038A0.29 0.29 0 0 0 -0.282 0.068ZM-0.324 -0.025A0.325 0.325 0 0 1 -0.32 -0.059L-0.285 -0.052A0.29 0.29 0 0 0 -0.289 -0.022ZM-0.32 -0.059A0.325 0.325 0 0 1 -0.312 -0.092L-0.278 -0.082A0.29 0.29 0 0 0 -0.285 -0.052ZM-0.3 -0.124A0.325 0.325 0 0 1 -0.286 -0.155L-0.255 -0.138A0.29 0.29 0 0 0 -0.268 -0.111ZM-0.14 -0.293A0.325 0.325 0 0 1 -0.109 -0.306L-0.097 -0.273A0.29 0.29 0 0 0 -0.125 -0.262Z" fill="#7a6aa0" fill-opacity="0.6"/>
<path d="M-0.322 0.043A0.325 0.325 0 0 1 -0.325 0.009L-0.29 0.008A0.29 0.29 0 0 0 -0.287 0.038ZM-0.312 -0.092A0.325 0.325 0 0 1 -0.3 -0.124L-0.268 -0.111A0.29 0.29 0 0 0 -0.278 -0.082ZM-0.268 -0.184A0.325 0.325 0 0 1 -0.247 -0.211L-0.221 -0.188A0.29 0.29 0 0 0 -0.239 -0.164ZM-0.224 -0.235A0.325 0.325 0 0 1 -0.198 -0.257L-0.177 -0.23A0.29 0.29 0 0 0 -0.2 -0.21ZM-0.198 -0.257A0.325 0.325 0 0 1 -0.17 -0.277L-0.152 -0.247A0.29 0.29 0 0 0 -0.177 -0.23Z" fill="#6a5a90" fill-opacity="0.7"/>
<path d="M-0.249 0.016A0.25 0.25 0 0 1 -0.25 -0.009L-0.2 -0.007A0.2 0.2 0 0 0 -0.2 0.013ZM-0.248 -0.034A0.25 0.25 0 0 1 -0.243 -0.059L-0.194 -0.047A0.2 0.2 0 0 0 -0.198 -0.027ZM-0.243 -0.059A0.25 0.25 0 0 1 -0.236 -0.084L-0.188 -0.067A0.2 0.2 0 0 0 -0.194 -0.047ZM-0.199 -0.151A0.25 0.25 0 0 1 -0.183 -0.17L-0.147 -0.136A0.2 0.2 0 0 0 -0.16 -0.121ZM-0.145 -0.204A0.25 0.25 0 0 1 -0.123 -0.217L-0.099 -0.174A0.2 0.2 0 0 0 -0.116 -0.163Z" fill="#5060b0" fill-opacity="0.6"/>
<path d="M-0.036 -0.449A0.45 0.45 0 0 1 0.012 -0.45L0.011 -0.42A0.42 0.42 0 0 0 -0.034 -0.419ZM0.197 -0.405A0.45 0.45 0 0 1 0.239 -0.381L0.223 -0.356A0.42 0.42 0 0 0 0.184 -0.378ZM0.239 -0.381A0.45 0.45 0 0 1 0.278 -0.354L0.26 -0.33A0.42 0.42 0 0 0 0.223 -0.356ZM0.4 -0.207A0.45 0.45 0 0 1 0.419 -0.163L0.391 -0.152A0.42 0.42 0 0 0 0.373 -0.193ZM0.444 -0.071A0.45 0.45 0 0 1 0.449 -0.023L0.419 -0.021A0.42 0.42 0 0 0 0.415 -0.066ZM0.449 -0.023A0.45 0.45 0 0 1 0.449 0.025L0.419 0.023A0.42 0.42 0 0 0 0.419 -0.021Z" fill="#6a50a0" fill-opacity="0.7"/>
<path d="M0.012 -0.45A0.45 0.45 0 0 1 0.06 -0.446L0.056 -0.416A0.42 0.42 0 0 0 0.011 -0.42ZM0.06 -0.446A0.45 0.45 0 0 1 0.107 -0.437L0.1 -0.408A0.42 0.42 0 0 0 0.056 -0.416ZM0.278 -0.354A0.45 0.45 0 0 1 0.314 -0.322L0.293 -0.301A0.42 0.42 0 0 0 0.26 -0.33ZM0.314 -0.322A0.45 0.45 0 0 1 0.347 -0.287L0.324 -0.268A0.42 0.42 0 0 0 0.293 -0.301ZM0.347 -0.287A0.45 0.45 0 0 1 0.375 -0.248L0.35 -0.232A0.42 0.42 0 0 0 0.324 -0.268ZM0.375 -0.248A0.45 0.45 0 0 1 0.4 -0.207L0.373 -0.193A0.42 0.42 0 0 0 0.35 -0.232ZM0.419 -0.163A0.45 0.45 0 0 1 0.434 -0.118L0.405 -0.11A0.42 0.42 0 0 0 0.391 -0.152ZM0.434 -0.118A0.45 0.45 0 0 1 0.444 -0.071L0.415 -0.066A0.42 0.42 0 0 0 0.405 -0.11ZM0.444 0.073A0.45 0.45 0 0 1 0.434 0.12L0.405 0.112A0.42 0.42 0 0 0 0.414 0.068Z" fill="#5050a0" fill-opacity="0.7"/>
<path d="M0.003 -0.37A0.37 0.37 0 0 1 0.04 -0.368L0.037 -0.338A0.34 0.34 0 0 0 0.002 -0.34ZM0.216 -0.3A0.37 0.37 0 0 1 0.246 -0.277L0.226 -0.254A0.34 0.34 0 0 0 0.198 -0.276ZM0.246 -0.277A0.37 0.37 0 0 1 0.273 -0.25L0.251 -0.23A0.34 0.34 0 0 0 0.226 -0.254ZM0.273 -0.25A0.37 0.37 0 0 1 0.297 -0.221L0.273 -0.203A0.34 0.34 0 0 0 0.251 -0.23ZM0.297 -0.221A0.37 0.37 0 0 1 0.318 -0.189L0.292 -0.174A0.34 0.34 0 0 0 0.273 -0.203ZM0.336 -0.156A0.37 0.37 0 0 1 0.35 -0.121L0.321 -0.111A0.34 0.34 0 0 0 0.308 -0.143ZM0.37 -0.009A0.37 0.37 0 0 1 0.369 0.029L0.339 0.027A0.34 0.34 0 0 0 0.34 -0.008Z" fill="#604090" fill-opacity="0.6"/>
<path d="M0.078 -0.362A0.37 0.37 0 0 1 0.115 -0.352L0.105 -0.323A0.34 0.34 0 0 0 0.072 -0.332ZM0.115 -0.352A0.37 0.37 0 0 1 0.15 -0.338L0.138 -0.311A0.34 0.34 0 0 0 0.105 -0.323ZM0.318 -0.189A0.37 0.37 0 0 1 0.336 -0.156L0.308 -0.143A0.34 0.34 0 0 0 0.292 -0.174ZM0.36 -0.084A0.37 0.37 0 0 1 0.367 -0.047L0.337 -0.043A0.34 0.34 0 0 0 0.331 -0.077Z" fill="#705090" fill-opacity="0.6"/>
<path d="M0.055 -0.274A0.28 0.28 0 0 1 0.084 -0.267L0.075 -0.239A0.25 0.25 0 0 0 0.049 -0.245ZM0.111 -0.257A0.28 0.28 0 0 1 0.137 -0.244L0.123 -0.218A0.25 0.25 0 0 0 0.099 -0.229ZM0.137 -0.244A0.28 0.28 0 0 1 0.162 -0.228L0.145 -0.204A0.25 0.25 0 0 0 0.123 -0.218ZM0.162 -0.228A0.28 0.28 0 0 1 0.185 -0.21L0.165 -0.188A0.25 0.25 0 0 0 0.145 -0.204ZM0.185 -0.21A0.28 0.28 0 0 1 0.206 -0.19L0.184 -0.169A0.25 0.25 0 0 0 0.165 -0.188ZM0.225 -0.167A0.28 0.28 0 0 1 0.241 -0.143L0.215 -0.127A0.25 0.25 0 0 0 0.201 -0.149ZM0.255 -0.117A0.28 0.28 0 0 1 0.265 -0.089L0.237 -0.08A0.25 0.25 0 0 0 0.227 -0.104ZM0.273 -0.061A0.28 0.28 0 0 1 0.278 -0.032L0.248 -0.029A0.25 0.25 0 0 0 0.244 -0.055ZM0.278 -0.032A0.28 0.28 0 0 1 0.28 -0.003L0.25 -0.003A0.25 0.25 0 0 0 0.248 -0.029ZM0.28 -0.003A0.28 0.28 0 0 1 0.279 0.026L0.249 0.024A0.25 0.25 0 0 0 0.25 -0.003Z" fill="#604080" fill-opacity="0.6"/>
<circle cx="0.03" cy="0" r="0.05" fill="#902020" fill-opacity="0.85"/>
</g>
<path d="M676.2 486.8L716.5 471.8L715.7 469.5L675 483.2Z" fill="#e6e6e6" stroke="#000" stroke-width="1"/>
<path d="M676.9 483.6L643.1 454.2L641.5 456L674.3 486.4Z" fill="#e6e6e6" stroke="#000" stroke-width="1"/>
<path d="M673.7 484.7L667.2 529L669.6 529.4L677.5 485.3Z" fill="#e6e6e6" stroke="#000" stroke-width="1"/>
<g transform="translate(0 0)">
<path d="M69.4 47.5V192.4L301 199.2L474.8 132.1" fill="none" stroke="#2a2a2a" stroke-width="1"/>
<path d="M63.4 71.4H69.4" stroke="#000" stroke-width="1"/>
<text x="57.3" y="77.6" text-anchor="end" font-size="18">1.2</text>
<path d="M63.4 95.6H69.4" stroke="#000" stroke-width="1"/>
<text x="57.3" y="101.8" text-anchor="end" font-size="18">1</text>
<path d="M63.4 119.8H69.4" stroke="#000" stroke-width="1"/>
<text x="57.3" y="126" text-anchor="end" font-size="18">0.8</text>
<path d="M63.4 144H69.4" stroke="#000" stroke-width="1"/>
<text x="57.3" y="150.2" text-anchor="end" font-size="18">0.6</text>
<path d="M63.4 168.2H69.4" stroke="#000" stroke-width="1"/>
<text x="57.3" y="174.4" text-anchor="end" font-size="18">0.4</text>
<path d="M63.4 192.4H69.4" stroke="#000" stroke-width="1"/>
<text x="57.3" y="198.6" text-anchor="end" font-size="18">0.2</text>
<text x="61" y="213.8" text-anchor="middle" font-size="18">1</text>
<text x="177.5" y="217.5" text-anchor="middle" font-size="18">0</text>
<text x="294" y="220.5" text-anchor="middle" font-size="18">-1</text>
<text x="345.4" y="205.3" text-anchor="middle" font-size="18">1</text>
<text x="377" y="192.4" text-anchor="middle" font-size="18">2</text>
<text x="407.8" y="180.1" text-anchor="middle" font-size="18">3</text>
<text x="439.3" y="168.7" text-anchor="middle" font-size="18">4</text>
<text x="471.2" y="156.5" text-anchor="middle" font-size="18">5</text>
<path d="M64.6 194.4L68.9 192.3" stroke="#000" stroke-width="1"/>
<path d="M181.4 197.8L185.6 195.7" stroke="#000" stroke-width="1"/>
<path d="M296.7 201.3L301 199.2" stroke="#000" stroke-width="1"/>
<path d="M335.5 186.5L339.6 187.8" stroke="#000" stroke-width="1"/>
<path d="M366.9 174.3L371.1 175.6" stroke="#000" stroke-width="1"/>
<path d="M398.4 162.1L402.5 163.4" stroke="#000" stroke-width="1"/>
<path d="M429.9 149.9L434 151.2" stroke="#000" stroke-width="1"/>
<path d="M461.3 137.7L465.4 139" stroke="#000" stroke-width="1"/>
<text x="22.8" y="121.2" text-anchor="middle" font-size="18.9" transform="rotate(-90 22.8 121.2)">Vertical [D]</text>
<text x="113.3" y="243" font-size="18.9">Lateral [D]</text>
<text x="392.1" y="227.8" font-size="18.9">Downwind [D]</text>
</g>
<g transform="translate(514.3 0.5)">
<path d="M69.4 47.5V192.4L301 199.2L474.8 132.1" fill="none" stroke="#2a2a2a" stroke-width="1"/>
<path d="M63.4 71.4H69.4" stroke="#000" stroke-width="1"/>
<text x="57.3" y="77.6" text-anchor="end" font-size="18">1.2</text>
<path d="M63.4 95.6H69.4" stroke="#000" stroke-width="1"/>
<text x="57.3" y="101.8" text-anchor="end" font-size="18">1</text>
<path d="M63.4 119.8H69.4" stroke="#000" stroke-width="1"/>
<text x="57.3" y="126" text-anchor="end" font-size="18">0.8</text>
<path d="M63.4 144H69.4" stroke="#000" stroke-width="1"/>
<text x="57.3" y="150.2" text-anchor="end" font-size="18">0.6</text>
<path d="M63.4 168.2H69.4" stroke="#000" stroke-width="1"/>
<text x="57.3" y="174.4" text-anchor="end" font-size="18">0.4</text>
<path d="M63.4 192.4H69.4" stroke="#000" stroke-width="1"/>
<text x="57.3" y="198.6" text-anchor="end" font-size="18">0.2</text>
<text x="61" y="213.8" text-anchor="middle" font-size="18">1</text>
<text x="177.5" y="217.5" text-anchor="middle" font-size="18">0</text>
<text x="294" y="220.5" text-anchor="middle" font-size="18">-1</text>
<text x="316.4" y="216.7" text-anchor="middle" font-size="18">0</text>
<text x="378.2" y="192.2" text-anchor="middle" font-size="18">2</text>
<text x="440.8" y="167.6" text-anchor="middle" font-size="18">4</text>
<path d="M64.6 194.4L68.9 192.3" stroke="#000" stroke-width="1"/>
<path d="M181.4 197.8L185.6 195.7" stroke="#000" stroke-width="1"/>
<path d="M296.7 201.3L301 199.2" stroke="#000" stroke-width="1"/>
<path d="M304 198.7L308.1 200" stroke="#000" stroke-width="1"/>
<path d="M366.9 174.3L371 175.6" stroke="#000" stroke-width="1"/>
<path d="M429.8 149.9L433.9 151.2" stroke="#000" stroke-width="1"/>
<text x="22.8" y="121.2" text-anchor="middle" font-size="18.9" transform="rotate(-90 22.8 121.2)">Vertical [D]</text>
<text x="113.3" y="243" font-size="18.9">Lateral [D]</text>
<text x="392.1" y="227.8" font-size="18.9">Downwind [D]</text>
</g>
<g transform="translate(0 342.5)">
<path d="M69.4 47.5V192.4L301 199.2L474.8 132.1" fill="none" stroke="#2a2a2a" stroke-width="1"/>
<path d="M63.4 71.4H69.4" stroke="#000" stroke-width="1"/>
<text x="57.3" y="77.6" text-anchor="end" font-size="18">1.2</text>
<path d="M63.4 95.6H69.4" stroke="#000" stroke-width="1"/>
<text x="57.3" y="101.8" text-anchor="end" font-size="18">1</text>
<path d="M63.4 119.8H69.4" stroke="#000" stroke-width="1"/>
<text x="57.3" y="126" text-anchor="end" font-size="18">0.8</text>
<path d="M63.4 144H69.4" stroke="#000" stroke-width="1"/>
<text x="57.3" y="150.2" text-anchor="end" font-size="18">0.6</text>
<path d="M63.4 168.2H69.4" stroke="#000" stroke-width="1"/>
<text x="57.3" y="174.4" text-anchor="end" font-size="18">0.4</text>
<path d="M63.4 192.4H69.4" stroke="#000" stroke-width="1"/>
<text x="57.3" y="198.6" text-anchor="end" font-size="18">0.2</text>
<text x="61" y="213.8" text-anchor="middle" font-size="18">1</text>
<text x="177.5" y="217.5" text-anchor="middle" font-size="18">0</text>
<text x="294" y="220.5" text-anchor="middle" font-size="18">-1</text>
<text x="316.4" y="216.7" text-anchor="middle" font-size="18">0</text>
<text x="378.2" y="192.2" text-anchor="middle" font-size="18">2</text>
<text x="440.8" y="167.6" text-anchor="middle" font-size="18">4</text>
<path d="M64.6 194.4L68.9 192.3" stroke="#000" stroke-width="1"/>
<path d="M181.4 197.8L185.6 195.7" stroke="#000" stroke-width="1"/>
<path d="M296.7 201.3L301 199.2" stroke="#000" stroke-width="1"/>
<path d="M304 198.7L308.1 200" stroke="#000" stroke-width="1"/>
<path d="M366.9 174.3L371 175.6" stroke="#000" stroke-width="1"/>
<path d="M429.8 149.9L433.9 151.2" stroke="#000" stroke-width="1"/>
<text x="22.8" y="121.2" text-anchor="middle" font-size="18.9" transform="rotate(-90 22.8 121.2)">Vertical [D]</text>
<text x="113.3" y="243" font-size="18.9">Lateral [D]</text>
<text x="392.1" y="227.8" font-size="18.9">Downwind [D]</text>
</g>
<g transform="translate(0 0)">
<path d="M586.7 421.8V530.2L759.4 536.2L1013.6 437.4" fill="none" stroke="#2a2a2a" stroke-width="1"/>
<path d="M580.3 439.7H586.7" stroke="#000" stroke-width="1"/>
<text x="578" y="446.3" text-anchor="end" font-size="19.2">1.2</text>
<path d="M580.3 457.8H586.7" stroke="#000" stroke-width="1"/>
<text x="578" y="464.4" text-anchor="end" font-size="19.2">1</text>
<path d="M580.3 475.9H586.7" stroke="#000" stroke-width="1"/>
<text x="578" y="482.5" text-anchor="end" font-size="19.2">0.8</text>
<path d="M580.3 493.9H586.7" stroke="#000" stroke-width="1"/>
<text x="578" y="500.5" text-anchor="end" font-size="19.2">0.6</text>
<path d="M580.3 512H586.7" stroke="#000" stroke-width="1"/>
<text x="578" y="518.6" text-anchor="end" font-size="19.2">0.4</text>
<path d="M580.3 530.1H586.7" stroke="#000" stroke-width="1"/>
<text x="578" y="536.7" text-anchor="end" font-size="19.2">0.2</text>
<text x="574.3" y="553.8" text-anchor="middle" font-size="19.2">1</text>
<text x="661.8" y="556.5" text-anchor="middle" font-size="19.2">0</text>
<text x="749.4" y="559.4" text-anchor="middle" font-size="19.2">-1</text>
<text x="772.3" y="553" text-anchor="middle" font-size="19.2">0</text>
<text x="889.1" y="508.3" text-anchor="middle" font-size="19.2">5</text>
<text x="1008.9" y="461.5" text-anchor="middle" font-size="19.2">10</text>
<path d="M583.3 532.1L586.7 530.4" stroke="#000" stroke-width="1"/>
<path d="M668.3 535.8L671.7 534.1" stroke="#000" stroke-width="1"/>
<path d="M755.9 537.9L759.3 536.2" stroke="#000" stroke-width="1"/>
<path d="M766.5 532.9L769.7 533.9" stroke="#000" stroke-width="1"/>
<path d="M883 488.3L886.2 489.3" stroke="#000" stroke-width="1"/>
<path d="M1000.5 442.6L1003.7 443.6" stroke="#000" stroke-width="1"/>
<text x="538.2" y="477.6" text-anchor="middle" font-size="20.1" transform="rotate(-90 538.2 477.6)">Vertical [D]</text>
<text x="579.5" y="582.3" font-size="20.1">Lateral [D]</text>
<text x="872.5" y="559.3" font-size="20.1">Downwind [D]</text>
</g>
<text x="261" y="288.3" text-anchor="middle" font-size="27.5">(<tspan font-weight="bold">a</tspan>)</text>
<text x="775" y="288.3" text-anchor="middle" font-size="27.5">(<tspan font-weight="bold">b</tspan>)</text>
<text x="261" y="630.8" text-anchor="middle" font-size="27.5">(<tspan font-weight="bold">c</tspan>)</text>
<text x="775" y="630.8" text-anchor="middle" font-size="27.5">(<tspan font-weight="bold">d</tspan>)</text>
</svg>
</body></html>
